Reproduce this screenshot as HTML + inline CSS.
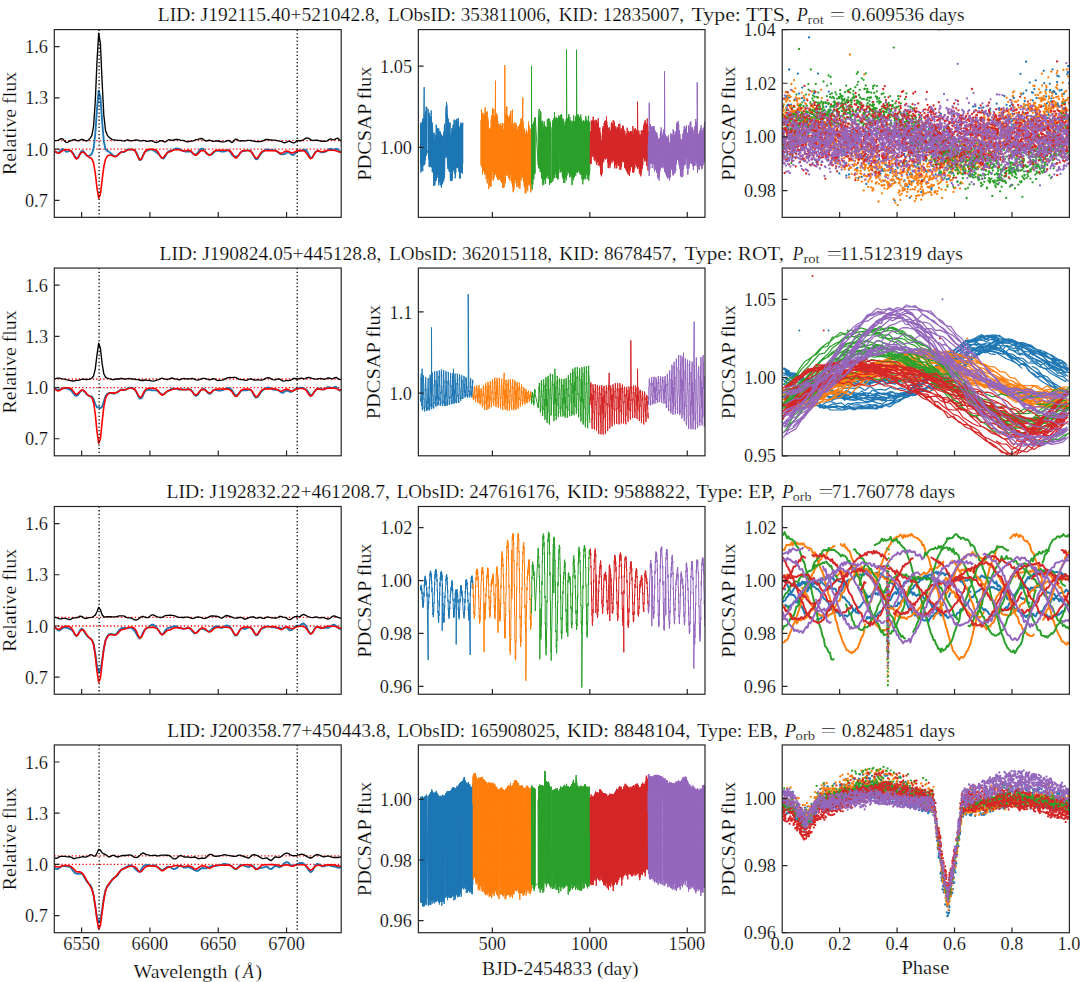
<!DOCTYPE html>
<html><head><meta charset="utf-8"><style>
html,body{margin:0;padding:0;background:#fff;}
svg{display:block;}
text{font-family:"Liberation Serif",serif;fill:#000;stroke:#fff;stroke-width:0.2px;}
</style></head><body>
<svg width="1080" height="982" viewBox="0 0 1080 982">
<rect width="1080" height="982" fill="#fff"/>
<defs><clipPath id="c00"><rect x="54.3" y="29.6" width="286.90" height="187.75"/></clipPath><clipPath id="c01"><rect x="418.35" y="29.6" width="286.65" height="187.75"/></clipPath><clipPath id="c02"><rect x="782.2" y="29.6" width="287.20" height="187.75"/></clipPath><clipPath id="c10"><rect x="54.3" y="268.05" width="286.90" height="187.75"/></clipPath><clipPath id="c11"><rect x="418.35" y="268.05" width="286.65" height="187.75"/></clipPath><clipPath id="c12"><rect x="782.2" y="268.05" width="287.20" height="187.75"/></clipPath><clipPath id="c20"><rect x="54.3" y="506.5" width="286.90" height="187.75"/></clipPath><clipPath id="c21"><rect x="418.35" y="506.5" width="286.65" height="187.75"/></clipPath><clipPath id="c22"><rect x="782.2" y="506.5" width="287.20" height="187.75"/></clipPath><clipPath id="c30"><rect x="54.3" y="744.95" width="286.90" height="187.75"/></clipPath><clipPath id="c31"><rect x="418.35" y="744.95" width="286.65" height="187.75"/></clipPath><clipPath id="c32"><rect x="782.2" y="744.95" width="287.20" height="187.75"/></clipPath></defs><g fill="none" stroke-linejoin="round"><path d="M54.3 149.08H341.2M54.3 140.54H341.2" stroke="#ff0000" stroke-width="1.3" stroke-dasharray="1.3 2.2"/><g clip-path="url(#c00)"><path d="M54.3,151.0 56.0,152.1 57.7,152.9 59.4,152.0 61.1,149.8 62.8,148.9 64.5,150.3 66.3,151.8 68.0,151.4 69.7,150.6 71.4,151.3 73.1,153.3 74.8,156.3 76.5,158.7 78.2,157.7 79.9,154.0 81.6,151.0 83.3,151.1 85.0,153.4 86.7,155.7 88.5,156.3 90.2,155.3 91.9,153.7 93.6,148.5 95.3,133.6 97.0,108.9 98.7,90.7 100.4,97.2 102.1,121.2 103.8,141.2 105.5,149.3 107.2,150.9 108.9,151.7 110.7,153.2 112.4,154.8 114.1,155.8 115.8,156.2 117.5,155.3 119.2,153.4 120.9,152.1 122.6,152.1 124.3,152.0 126.0,150.6 127.7,149.4 129.4,149.4 131.1,149.7 132.9,149.7 134.6,150.2 136.3,152.3 138.0,156.4 139.7,160.0 141.4,159.5 143.1,155.3 144.8,152.0 146.5,150.9 148.2,150.3 149.9,149.6 151.6,149.4 153.3,150.3 155.1,151.5 156.8,152.6 158.5,154.0 160.2,156.0 161.9,158.1 163.6,158.5 165.3,156.4 167.0,153.1 168.7,151.2 170.4,150.9 172.1,150.5 173.8,149.5 175.5,148.6 177.3,148.4 179.0,148.9 180.7,150.0 182.4,150.7 184.1,151.2 185.8,151.7 187.5,151.6 189.2,151.3 190.9,151.6 192.6,153.2 194.3,154.5 196.0,154.5 197.8,152.8 199.5,150.3 201.2,148.7 202.9,148.7 204.6,150.9 206.3,153.2 208.0,154.4 209.7,154.8 211.4,154.4 213.1,153.2 214.8,151.5 216.5,150.7 218.2,150.6 220.0,151.1 221.7,151.5 223.4,151.6 225.1,151.4 226.8,150.6 228.5,150.2 230.2,151.8 231.9,154.9 233.6,156.4 235.3,156.5 237.0,156.4 238.7,155.2 240.4,152.9 242.2,151.2 243.9,151.0 245.6,150.8 247.3,150.4 249.0,150.4 250.7,151.2 252.4,153.4 254.1,156.6 255.8,159.3 257.5,159.0 259.2,156.3 260.9,153.8 262.6,151.9 264.4,150.4 266.1,149.5 267.8,149.5 269.5,149.8 271.2,150.1 272.9,150.3 274.6,150.3 276.3,150.8 278.0,152.2 279.7,153.6 281.4,154.4 283.1,154.4 284.8,153.9 286.6,152.7 288.3,152.2 290.0,153.1 291.7,154.7 293.4,155.1 295.1,153.4 296.8,151.5 298.5,150.6 300.2,150.8 301.9,150.5 303.6,149.8 305.3,149.7 307.0,151.3 308.8,154.8 310.5,157.9 312.2,157.6 313.9,154.5 315.6,151.8 317.3,150.7 319.0,151.3 320.7,152.3 322.4,152.4 324.1,152.0 325.8,151.5 327.5,150.5 329.2,149.1 331.0,148.7 332.7,149.5 334.4,149.6 336.1,148.8 337.8,149.2 339.5,151.3 341.2,152.5" stroke="#1f77b4" stroke-width="1.9"/><path d="M54.3,150.8 56.0,152.0 57.7,153.2 59.4,153.0 61.1,151.7 62.8,150.5 64.5,149.9 66.3,149.8 68.0,149.8 69.7,150.2 71.4,151.4 73.1,154.0 74.8,157.3 76.5,158.9 78.2,157.3 79.9,154.3 81.6,152.2 83.3,152.0 85.0,153.3 86.7,155.2 88.5,156.8 90.2,157.7 91.9,158.9 93.6,163.1 95.3,173.3 97.0,188.2 98.7,198.1 100.4,194.3 102.1,180.2 103.8,166.8 105.5,159.4 107.2,156.3 108.9,155.2 110.7,155.1 112.4,155.7 114.1,156.5 115.8,156.6 117.5,155.5 119.2,153.7 120.9,152.3 122.6,151.8 124.3,151.5 126.0,150.8 127.7,150.0 129.4,149.5 131.1,149.3 132.9,149.5 134.6,150.5 136.3,153.0 138.0,156.9 139.7,159.8 141.4,159.1 143.1,155.5 144.8,151.9 146.5,150.1 148.2,149.4 149.9,149.3 151.6,149.3 153.3,149.4 155.1,149.7 156.8,150.6 158.5,152.8 160.2,155.9 161.9,158.0 163.6,157.4 165.3,155.0 167.0,152.9 168.7,152.0 170.4,151.6 172.1,150.8 173.8,150.0 175.5,149.7 177.3,149.6 179.0,149.8 180.7,150.2 182.4,150.8 184.1,151.0 185.8,150.8 187.5,150.4 189.2,150.3 190.9,151.0 192.6,152.7 194.3,154.7 196.0,155.3 197.8,154.0 199.5,152.0 201.2,150.7 202.9,150.4 204.6,151.0 206.3,152.6 208.0,154.5 209.7,155.3 211.4,154.1 213.1,152.2 214.8,150.9 216.5,150.3 218.2,150.2 220.0,150.2 221.7,150.2 223.4,150.2 225.1,150.2 226.8,150.3 228.5,150.4 230.2,151.1 231.9,152.8 233.6,155.6 235.3,157.9 237.0,157.6 238.7,155.1 240.4,152.5 242.2,151.0 243.9,150.6 245.6,150.5 247.3,150.5 249.0,150.7 250.7,151.3 252.4,153.1 254.1,155.9 255.8,158.2 257.5,158.0 259.2,155.4 260.9,152.7 262.6,151.2 264.4,150.7 266.1,150.6 267.8,150.6 269.5,150.6 271.2,150.6 272.9,150.6 274.6,150.7 276.3,151.0 278.0,151.9 279.7,153.1 281.4,153.4 283.1,152.6 284.8,151.5 286.6,151.0 288.3,151.4 290.0,152.3 291.7,152.9 293.4,152.6 295.1,151.7 296.8,150.9 298.5,150.6 300.2,150.6 301.9,150.6 303.6,150.8 305.3,151.7 307.0,153.9 308.8,156.9 310.5,158.8 312.2,157.8 313.9,154.8 315.6,152.2 317.3,151.1 319.0,151.1 320.7,151.6 322.4,151.8 324.1,151.4 325.8,150.8 327.5,150.4 329.2,150.3 331.0,150.3 332.7,150.3 334.4,150.4 336.1,150.8 337.8,151.6 339.5,152.1 341.2,151.8" stroke="#ff0000" stroke-width="1.6"/><path d="M54.3,140.7 56.0,140.6 57.7,140.3 59.4,139.6 61.1,138.7 62.8,138.9 64.5,140.9 66.3,142.5 68.0,142.1 69.7,141.0 71.4,140.5 73.1,139.8 74.8,139.5 76.5,140.4 78.2,140.9 79.9,140.2 81.6,139.3 83.3,139.6 85.0,140.7 86.7,141.0 88.5,140.0 90.2,138.1 91.9,135.3 93.6,126.0 95.3,100.8 97.0,61.2 98.7,33.1 100.4,43.4 102.1,81.5 103.8,114.9 105.5,130.5 107.2,135.1 108.9,137.1 110.7,138.7 112.4,139.6 114.1,139.8 115.8,140.1 117.5,140.4 119.2,140.3 120.9,140.4 122.6,140.9 124.3,141.1 126.0,140.4 127.7,139.9 129.4,140.5 131.1,140.9 132.9,140.7 134.6,140.2 136.3,139.8 138.0,140.1 139.7,140.8 141.4,140.9 143.1,140.4 144.8,140.6 146.5,141.4 148.2,141.4 149.9,140.8 151.6,140.6 153.3,141.5 155.1,142.4 156.8,142.5 158.5,141.7 160.2,140.7 161.9,140.7 163.6,141.6 165.3,142.0 167.0,140.8 168.7,139.7 170.4,139.9 172.1,140.3 173.8,140.0 175.5,139.5 177.3,139.3 179.0,139.6 180.7,140.3 182.4,140.4 184.1,140.7 185.8,141.5 187.5,141.8 189.2,141.5 190.9,141.2 192.6,141.1 194.3,140.4 196.0,139.7 197.8,139.4 199.5,138.9 201.2,138.5 202.9,138.9 204.6,140.4 206.3,141.1 208.0,140.5 209.7,140.1 211.4,140.8 213.1,141.5 214.8,141.2 216.5,140.9 218.2,141.0 220.0,141.5 221.7,141.9 223.4,141.9 225.1,141.7 226.8,140.9 228.5,140.3 230.2,141.3 231.9,142.6 233.6,141.3 235.3,139.1 237.0,139.3 238.7,140.7 240.4,141.0 242.2,140.7 243.9,140.9 245.6,140.9 247.3,140.4 249.0,140.3 250.7,140.5 252.4,140.8 254.1,141.2 255.8,141.6 257.5,141.6 259.2,141.4 260.9,141.6 262.6,141.2 264.4,140.2 266.1,139.4 267.8,139.5 269.5,139.8 271.2,140.0 272.9,140.2 274.6,140.1 276.3,140.3 278.0,140.8 279.7,141.1 281.4,141.5 283.1,142.3 284.8,142.9 286.6,142.2 288.3,141.3 290.0,141.3 291.7,142.3 293.4,143.0 295.1,142.3 296.8,141.1 298.5,140.5 300.2,140.8 301.9,140.5 303.6,139.6 305.3,138.5 307.0,137.9 308.8,138.4 310.5,139.6 312.2,140.4 313.9,140.3 315.6,140.2 317.3,140.2 319.0,140.7 320.7,141.2 322.4,141.2 324.1,141.2 325.8,141.3 327.5,140.7 329.2,139.4 331.0,139.0 332.7,139.7 334.4,139.8 336.1,138.6 337.8,138.2 339.5,139.7 341.2,141.2" stroke="#000" stroke-width="1.35"/></g><path d="M99.11 29.6V217.35M297.21 29.6V217.35" stroke="#000" stroke-width="1.3" stroke-dasharray="1.3 2.3"/><path d="M54.3 387.53H341.2M54.3 378.99H341.2" stroke="#ff0000" stroke-width="1.3" stroke-dasharray="1.3 2.2"/><g clip-path="url(#c10)"><path d="M54.3,388.2 56.0,389.3 57.7,390.0 59.4,389.9 61.1,389.1 62.8,388.3 64.5,388.0 66.3,388.4 68.0,388.9 69.7,389.4 71.4,390.8 73.1,392.9 74.8,395.1 76.5,395.9 78.2,394.7 79.9,392.1 81.6,390.4 83.3,390.4 85.0,392.0 86.7,394.2 88.5,395.9 90.2,396.3 91.9,396.5 93.6,399.2 95.3,404.1 97.0,407.3 98.7,407.4 100.4,408.0 102.1,406.8 103.8,401.5 105.5,396.4 107.2,393.9 108.9,393.0 110.7,392.9 112.4,393.4 114.1,393.7 115.8,392.9 117.5,392.1 119.2,390.9 120.9,389.6 122.6,389.5 124.3,390.1 126.0,389.7 127.7,388.3 129.4,387.7 131.1,387.9 132.9,388.3 134.6,389.4 136.3,391.9 138.0,395.5 139.7,398.5 141.4,398.4 143.1,395.2 144.8,391.5 146.5,390.0 148.2,389.7 149.9,389.8 151.6,390.2 153.3,390.4 155.1,390.4 156.8,390.5 158.5,391.8 160.2,393.3 161.9,394.4 163.6,394.4 165.3,392.9 167.0,391.8 168.7,390.8 170.4,389.5 172.1,388.6 173.8,388.6 175.5,388.8 177.3,388.9 179.0,389.6 180.7,389.7 182.4,389.3 184.1,389.4 185.8,389.6 187.5,389.3 189.2,389.2 190.9,389.9 192.6,391.7 194.3,394.5 196.0,396.0 197.8,394.8 199.5,391.9 201.2,389.7 202.9,388.7 204.6,389.2 206.3,390.8 208.0,392.9 209.7,394.0 211.4,392.7 213.1,390.4 214.8,389.6 216.5,390.2 218.2,390.6 220.0,390.5 221.7,390.3 223.4,389.8 225.1,388.9 226.8,388.1 228.5,387.9 230.2,388.4 231.9,390.1 233.6,392.7 235.3,395.0 237.0,395.4 238.7,393.8 240.4,391.6 242.2,390.3 243.9,390.1 245.6,390.4 247.3,390.2 249.0,389.5 250.7,389.7 252.4,392.0 254.1,395.6 255.8,397.7 257.5,397.2 259.2,394.8 260.9,392.2 262.6,390.4 264.4,389.2 266.1,388.1 267.8,387.4 269.5,387.6 271.2,388.7 272.9,389.5 274.6,389.7 276.3,389.6 278.0,389.8 279.7,391.2 281.4,392.5 283.1,392.7 284.8,391.5 286.6,390.5 288.3,391.0 290.0,391.8 291.7,391.7 293.4,390.3 295.1,389.1 296.8,388.9 298.5,388.5 300.2,387.7 301.9,387.7 303.6,388.5 305.3,389.2 307.0,390.3 308.8,392.9 310.5,395.1 312.2,394.7 313.9,392.4 315.6,390.2 317.3,389.0 319.0,388.5 320.7,388.8 322.4,389.3 324.1,389.5 325.8,388.5 327.5,387.2 329.2,387.1 331.0,387.8 332.7,388.0 334.4,387.0 336.1,386.9 337.8,389.0 339.5,390.5 341.2,389.8" stroke="#1f77b4" stroke-width="1.9"/><path d="M54.3,388.6 56.0,389.8 57.7,390.9 59.4,390.7 61.1,389.5 62.8,388.4 64.5,387.9 66.3,387.8 68.0,387.8 69.7,388.0 71.4,388.9 73.1,390.9 74.8,393.3 76.5,394.5 78.2,393.4 79.9,391.3 81.6,390.0 83.3,390.2 85.0,391.6 86.7,393.8 88.5,395.5 90.2,396.4 91.9,397.6 93.6,402.4 95.3,414.3 97.0,431.6 98.7,443.3 100.4,438.8 102.1,422.4 103.8,406.8 105.5,398.3 107.2,394.8 108.9,393.4 110.7,392.8 112.4,392.9 114.1,393.1 115.8,392.9 117.5,392.0 119.2,390.9 120.9,390.1 122.6,390.1 124.3,390.0 126.0,389.5 127.7,388.7 129.4,388.2 131.1,388.1 132.9,388.3 134.6,389.2 136.3,391.4 138.0,394.9 139.7,397.4 141.4,396.8 143.1,393.6 144.8,390.5 146.5,388.9 148.2,388.4 149.9,388.3 151.6,388.3 153.3,388.4 155.1,388.6 156.8,389.4 158.5,391.1 160.2,393.6 161.9,395.2 163.6,394.8 165.3,392.9 167.0,391.2 168.7,390.6 170.4,390.2 172.1,389.6 173.8,389.0 175.5,388.7 177.3,388.7 179.0,388.9 180.7,389.2 182.4,389.6 184.1,389.8 185.8,389.7 187.5,389.4 189.2,389.4 190.9,390.2 192.6,392.2 194.3,394.4 196.0,395.1 197.8,393.7 199.5,391.4 201.2,389.8 202.9,389.4 204.6,389.8 206.3,391.0 208.0,392.5 209.7,393.1 211.4,392.2 213.1,390.7 214.8,389.6 216.5,389.2 218.2,389.1 220.0,389.0 221.7,389.0 223.4,389.1 225.1,389.1 226.8,389.1 228.5,389.2 230.2,389.9 231.9,391.6 233.6,394.3 235.3,396.5 237.0,396.3 238.7,393.7 240.4,391.1 242.2,389.7 243.9,389.2 245.6,389.1 247.3,389.1 249.0,389.2 250.7,389.8 252.4,391.6 254.1,394.4 255.8,396.7 257.5,396.4 259.2,393.8 260.9,391.1 262.6,389.6 264.4,389.0 266.1,388.9 267.8,388.9 269.5,388.9 271.2,388.8 272.9,388.8 274.6,388.9 276.3,389.2 278.0,390.0 279.7,391.0 281.4,391.3 283.1,390.6 284.8,389.5 286.6,389.1 288.3,389.5 290.0,390.4 291.7,391.1 293.4,390.7 295.1,389.7 296.8,388.9 298.5,388.6 300.2,388.5 301.9,388.5 303.6,388.7 305.3,389.5 307.0,391.6 308.8,394.5 310.5,396.3 312.2,395.3 313.9,392.4 315.6,390.0 317.3,388.9 319.0,388.9 320.7,389.4 322.4,389.6 324.1,389.1 325.8,388.6 327.5,388.2 329.2,388.1 331.0,388.1 332.7,388.1 334.4,388.2 336.1,388.6 337.8,389.4 339.5,390.0 341.2,389.7" stroke="#ff0000" stroke-width="1.6"/><path d="M54.3,378.6 56.0,378.5 57.7,378.1 59.4,378.2 61.1,378.6 62.8,378.9 64.5,379.1 66.3,379.7 68.0,380.1 69.7,380.4 71.4,380.9 73.1,381.0 74.8,380.8 76.5,380.4 78.2,380.3 79.9,379.9 81.6,379.4 83.3,379.2 85.0,379.4 86.7,379.5 88.5,379.4 90.2,379.0 91.9,378.0 93.6,375.8 95.3,368.8 97.0,354.6 98.7,343.1 100.4,348.2 102.1,363.4 103.8,373.7 105.5,377.1 107.2,378.1 108.9,378.7 110.7,379.1 112.4,379.5 114.1,379.6 115.8,379.0 117.5,379.0 119.2,379.0 120.9,378.4 122.6,378.5 124.3,379.1 126.0,379.2 127.7,378.6 129.4,378.5 131.1,378.8 132.9,379.0 134.6,379.3 136.3,379.5 138.0,379.6 139.7,380.0 141.4,380.5 143.1,380.5 144.8,380.0 146.5,380.1 148.2,380.3 149.9,380.5 151.6,380.9 153.3,381.1 155.1,380.7 156.8,380.1 158.5,379.7 160.2,378.8 161.9,378.2 163.6,378.6 165.3,379.1 167.0,379.6 168.7,379.2 170.4,378.3 172.1,378.0 173.8,378.6 175.5,379.0 177.3,379.1 179.0,379.8 180.7,379.5 182.4,378.6 184.1,378.5 185.8,378.9 187.5,379.0 189.2,378.9 190.9,378.7 192.6,378.5 194.3,379.1 196.0,379.9 197.8,380.1 199.5,379.6 201.2,378.8 202.9,378.3 204.6,378.4 206.3,378.8 208.0,379.4 209.7,379.9 211.4,379.4 213.1,378.7 214.8,379.0 216.5,380.1 218.2,380.5 220.0,380.4 221.7,380.2 223.4,379.8 225.1,378.9 226.8,378.0 228.5,377.6 230.2,377.5 231.9,377.6 233.6,377.3 235.3,377.4 237.0,378.1 238.7,379.1 240.4,379.5 242.2,379.6 243.9,379.9 245.6,380.3 247.3,380.1 249.0,379.2 250.7,378.8 252.4,379.4 254.1,380.1 255.8,380.0 257.5,379.8 259.2,379.9 260.9,380.1 262.6,379.8 264.4,379.1 266.1,378.2 267.8,377.6 269.5,377.8 271.2,378.8 272.9,379.6 274.6,379.8 276.3,379.5 278.0,378.8 279.7,379.2 281.4,380.2 283.1,381.1 284.8,380.9 286.6,380.4 288.3,380.6 290.0,380.4 291.7,379.6 293.4,378.5 295.1,378.4 296.8,379.0 298.5,379.0 300.2,378.2 301.9,378.2 303.6,378.8 305.3,378.6 307.0,377.7 308.8,377.4 310.5,377.8 312.2,378.4 313.9,378.9 315.6,379.2 317.3,379.1 319.0,378.6 320.7,378.4 322.4,378.8 324.1,379.3 325.8,378.9 327.5,378.0 329.2,378.0 331.0,378.7 332.7,378.9 334.4,377.8 336.1,377.3 337.8,378.6 339.5,379.5 341.2,379.2" stroke="#000" stroke-width="1.35"/></g><path d="M99.11 268.05V455.8M297.21 268.05V455.8" stroke="#000" stroke-width="1.3" stroke-dasharray="1.3 2.3"/><path d="M54.3 625.98H341.2M54.3 617.44H341.2" stroke="#ff0000" stroke-width="1.3" stroke-dasharray="1.3 2.2"/><g clip-path="url(#c20)"><path d="M54.3,626.7 56.0,628.3 57.7,630.1 59.4,630.6 61.1,629.3 62.8,627.9 64.5,627.3 66.3,627.6 68.0,628.2 69.7,629.0 71.4,629.5 73.1,631.3 74.8,634.6 76.5,636.2 78.2,634.1 79.9,630.3 81.6,628.6 83.3,630.0 85.0,632.9 86.7,635.5 88.5,637.2 90.2,638.5 91.9,640.0 93.6,643.6 95.3,653.4 97.0,666.0 98.7,672.1 100.4,670.3 102.1,660.6 103.8,648.4 105.5,640.3 107.2,636.3 108.9,634.5 110.7,633.8 112.4,634.1 114.1,634.6 115.8,634.4 117.5,632.5 119.2,630.0 120.9,628.5 122.6,627.9 124.3,628.0 126.0,628.2 127.7,628.3 129.4,627.7 131.1,627.8 132.9,629.0 134.6,630.9 136.3,633.6 138.0,636.9 139.7,638.5 141.4,636.5 143.1,632.5 144.8,629.5 146.5,628.3 148.2,627.5 149.9,626.2 151.6,624.8 153.3,624.8 155.1,626.0 156.8,627.8 158.5,630.1 160.2,633.0 161.9,634.7 163.6,633.3 165.3,630.4 167.0,628.6 168.7,627.9 170.4,627.5 172.1,626.8 173.8,626.3 175.5,626.3 177.3,627.0 179.0,627.7 180.7,628.1 182.4,628.6 184.1,628.8 185.8,628.3 187.5,627.8 189.2,628.1 190.9,629.5 192.6,631.6 194.3,633.2 196.0,633.1 197.8,631.4 199.5,629.5 201.2,628.5 202.9,628.7 204.6,629.6 206.3,630.5 208.0,631.4 209.7,631.2 211.4,629.7 213.1,627.9 214.8,626.8 216.5,626.3 218.2,626.5 220.0,627.6 221.7,628.1 223.4,627.2 225.1,625.9 226.8,625.4 228.5,626.0 230.2,627.1 231.9,629.5 233.6,633.2 235.3,635.6 237.0,635.2 238.7,632.1 240.4,629.1 242.2,628.0 243.9,628.7 245.6,628.8 247.3,627.9 249.0,627.4 250.7,627.6 252.4,629.0 254.1,632.1 255.8,635.4 257.5,635.0 259.2,631.7 260.9,629.0 262.6,628.4 264.4,627.8 266.1,626.7 267.8,626.2 269.5,626.6 271.2,627.2 272.9,627.1 274.6,627.3 276.3,627.9 278.0,628.0 279.7,628.0 281.4,628.7 283.1,628.5 284.8,627.3 286.6,627.4 288.3,629.2 290.0,630.4 291.7,630.1 293.4,628.6 295.1,626.6 296.8,625.7 298.5,625.8 300.2,625.3 301.9,624.0 303.6,623.5 305.3,625.1 307.0,628.0 308.8,631.6 310.5,634.0 312.2,633.2 313.9,630.1 315.6,627.2 317.3,626.6 319.0,627.5 320.7,628.2 322.4,628.0 324.1,627.7 325.8,627.8 327.5,627.9 329.2,627.5 331.0,626.3 332.7,624.9 334.4,624.7 336.1,626.0 337.8,627.5 339.5,628.7 341.2,628.8" stroke="#1f77b4" stroke-width="1.9"/><path d="M54.3,627.0 56.0,628.2 57.7,629.3 59.4,629.2 61.1,628.0 62.8,626.9 64.5,626.4 66.3,626.3 68.0,626.4 69.7,626.8 71.4,628.0 73.1,630.7 74.8,634.1 76.5,635.8 78.2,634.3 79.9,631.5 81.6,629.7 83.3,629.9 85.0,631.8 86.7,634.6 88.5,637.0 90.2,638.4 91.9,640.0 93.6,644.7 95.3,655.8 97.0,671.6 98.7,682.2 100.4,678.1 102.1,663.3 103.8,649.0 105.5,640.7 107.2,637.0 108.9,635.2 110.7,634.5 112.4,634.7 114.1,635.2 115.8,635.0 117.5,633.6 119.2,631.7 120.9,630.1 122.6,629.5 124.3,629.3 126.0,628.6 127.7,627.8 129.4,627.3 131.1,627.2 132.9,627.5 134.6,628.5 136.3,631.0 138.0,635.0 139.7,638.0 141.4,637.3 143.1,633.6 144.8,630.0 146.5,628.1 148.2,627.5 149.9,627.4 151.6,627.4 153.3,627.4 155.1,627.7 156.8,628.5 158.5,630.3 160.2,632.9 161.9,634.7 163.6,634.2 165.3,632.2 167.0,630.6 168.7,630.1 170.4,629.7 172.1,628.8 173.8,628.0 175.5,627.6 177.3,627.6 179.0,627.7 180.7,628.1 182.4,628.5 184.1,628.7 185.8,628.5 187.5,628.1 189.2,628.1 190.9,628.8 192.6,630.6 194.3,632.6 196.0,633.2 197.8,631.8 199.5,629.7 201.2,628.3 202.9,627.9 204.6,628.4 206.3,629.8 208.0,631.5 209.7,632.1 211.4,631.1 213.1,629.4 214.8,628.1 216.5,627.5 218.2,627.4 220.0,627.3 221.7,627.3 223.4,627.3 225.1,627.3 226.8,627.3 228.5,627.4 230.2,628.1 231.9,629.8 233.6,632.7 235.3,635.0 237.0,634.7 238.7,632.0 240.4,629.3 242.2,627.7 243.9,627.2 245.6,627.0 247.3,627.0 249.0,627.2 250.7,627.8 252.4,629.6 254.1,632.5 255.8,634.8 257.5,634.4 259.2,631.8 260.9,629.0 262.6,627.4 264.4,626.9 266.1,626.7 267.8,626.7 269.5,626.7 271.2,626.7 272.9,626.6 274.6,626.7 276.3,627.1 278.0,628.0 279.7,629.2 281.4,629.6 283.1,628.7 284.8,627.5 286.6,626.9 288.3,627.3 290.0,628.2 291.7,628.8 293.4,628.5 295.1,627.5 296.8,626.7 298.5,626.4 300.2,626.3 301.9,626.3 303.6,626.6 305.3,627.4 307.0,629.4 308.8,632.3 310.5,634.0 312.2,633.1 313.9,630.3 315.6,627.9 317.3,626.9 319.0,627.1 320.7,627.8 322.4,628.1 324.1,627.5 325.8,626.8 327.5,626.3 329.2,626.2 331.0,626.2 332.7,626.2 334.4,626.3 336.1,626.8 337.8,627.6 339.5,628.2 341.2,627.9" stroke="#ff0000" stroke-width="1.6"/><path d="M54.3,617.2 56.0,617.5 57.7,618.2 59.4,618.8 61.1,618.8 62.8,618.4 64.5,618.3 66.3,618.7 68.0,619.2 69.7,619.7 71.4,618.9 73.1,618.0 74.8,617.9 76.5,617.9 78.2,617.2 79.9,616.2 81.6,616.4 83.3,617.6 85.0,618.5 86.7,618.4 88.5,617.6 90.2,617.6 91.9,617.4 93.6,616.3 95.3,615.1 97.0,611.8 98.7,607.3 100.4,609.6 102.1,614.8 103.8,616.8 105.5,617.0 107.2,616.7 108.9,616.7 110.7,616.7 112.4,616.8 114.1,616.9 115.8,616.9 117.5,616.3 119.2,615.8 120.9,615.8 122.6,615.8 124.3,616.2 126.0,617.1 127.7,617.9 129.4,617.8 131.1,618.0 132.9,619.0 134.6,619.9 136.3,620.0 138.0,619.3 139.7,617.9 141.4,616.7 143.1,616.3 144.8,617.0 146.5,617.6 148.2,617.5 149.9,616.3 151.6,614.9 153.3,614.8 155.1,615.8 156.8,616.7 158.5,617.2 160.2,617.5 161.9,617.4 163.6,616.5 165.3,615.6 167.0,615.4 168.7,615.3 170.4,615.2 172.1,615.4 173.8,615.7 175.5,616.1 177.3,616.8 179.0,617.4 180.7,617.4 182.4,617.5 184.1,617.5 185.8,617.2 187.5,617.1 189.2,617.4 190.9,618.1 192.6,618.5 194.3,618.1 196.0,617.3 197.8,617.0 199.5,617.2 201.2,617.6 202.9,618.2 204.6,618.6 206.3,618.1 208.0,617.3 209.7,616.5 211.4,616.0 213.1,616.0 214.8,616.2 216.5,616.2 218.2,616.6 220.0,617.7 221.7,618.2 223.4,617.3 225.1,616.0 226.8,615.5 228.5,616.0 230.2,616.5 231.9,617.1 233.6,617.9 235.3,618.1 237.0,618.0 238.7,617.5 240.4,617.3 242.2,617.7 243.9,619.0 245.6,619.2 247.3,618.3 249.0,617.6 250.7,617.2 252.4,616.8 254.1,617.0 255.8,618.1 257.5,618.0 259.2,617.4 260.9,617.5 262.6,618.4 264.4,618.3 266.1,617.4 267.8,616.9 269.5,617.4 271.2,617.9 272.9,617.9 274.6,618.0 276.3,618.2 278.0,617.5 279.7,616.3 281.4,616.5 283.1,617.2 284.8,617.3 286.6,618.0 288.3,619.4 290.0,619.6 291.7,618.7 293.4,617.5 295.1,616.6 296.8,616.4 298.5,616.8 300.2,616.4 301.9,615.1 303.6,614.4 305.3,615.1 307.0,616.0 308.8,616.8 310.5,617.4 312.2,617.6 313.9,617.3 315.6,616.8 317.3,617.1 319.0,617.8 320.7,617.9 322.4,617.4 324.1,617.6 325.8,618.4 327.5,619.0 329.2,618.8 331.0,617.6 332.7,616.2 334.4,615.9 336.1,616.6 337.8,617.4 339.5,617.9 341.2,618.4" stroke="#000" stroke-width="1.35"/></g><path d="M99.11 506.5V694.25M297.21 506.5V694.25" stroke="#000" stroke-width="1.3" stroke-dasharray="1.3 2.3"/><path d="M54.3 864.43H341.2M54.3 855.89H341.2" stroke="#ff0000" stroke-width="1.3" stroke-dasharray="1.3 2.2"/><g clip-path="url(#c30)"><path d="M54.3,867.5 56.0,868.9 57.7,869.0 59.4,867.8 61.1,866.7 62.8,866.1 64.5,865.9 66.3,866.3 68.0,866.6 69.7,866.8 71.4,868.2 73.1,870.9 74.8,872.8 76.5,873.5 78.2,873.8 79.9,873.6 81.6,873.5 83.3,875.2 85.0,878.4 86.7,881.3 88.5,883.4 90.2,885.0 91.9,888.2 93.6,895.4 95.3,906.4 97.0,917.2 98.7,922.4 100.4,919.8 102.1,909.8 103.8,897.9 105.5,889.9 107.2,886.5 108.9,884.7 110.7,881.9 112.4,879.2 114.1,877.6 115.8,876.9 117.5,875.4 119.2,872.6 120.9,870.2 122.6,868.8 124.3,868.1 126.0,867.2 127.7,866.2 129.4,865.4 131.1,865.4 132.9,866.5 134.6,868.2 136.3,869.8 138.0,871.4 139.7,871.7 141.4,869.4 143.1,866.5 144.8,865.3 146.5,865.2 148.2,865.0 149.9,865.4 151.6,865.8 153.3,865.5 155.1,865.4 156.8,866.6 158.5,867.8 160.2,869.0 161.9,869.9 163.6,869.6 165.3,868.3 167.0,867.0 168.7,866.7 170.4,867.3 172.1,868.3 173.8,869.1 175.5,868.8 177.3,867.6 179.0,866.0 180.7,865.6 182.4,866.6 184.1,867.6 185.8,867.6 187.5,867.1 189.2,867.2 190.9,868.2 192.6,869.0 194.3,869.9 196.0,870.7 197.8,870.9 199.5,869.8 201.2,868.3 202.9,868.0 204.6,868.4 206.3,868.3 208.0,867.5 209.7,866.7 211.4,866.1 213.1,866.0 214.8,866.1 216.5,865.8 218.2,865.3 220.0,865.1 221.7,864.6 223.4,864.0 225.1,863.9 226.8,864.3 228.5,864.6 230.2,865.3 231.9,866.4 233.6,868.1 235.3,869.2 237.0,868.5 238.7,866.5 240.4,865.1 242.2,865.3 243.9,865.5 245.6,866.0 247.3,866.8 249.0,867.0 250.7,866.0 252.4,865.4 254.1,866.8 255.8,868.6 257.5,869.0 259.2,868.3 260.9,867.9 262.6,867.7 264.4,867.2 266.1,866.6 267.8,867.2 269.5,868.7 271.2,869.2 272.9,867.8 274.6,866.0 276.3,865.7 278.0,866.8 279.7,867.3 281.4,866.3 283.1,864.5 284.8,862.9 286.6,862.1 288.3,862.6 290.0,864.4 291.7,865.7 293.4,865.8 295.1,865.1 296.8,864.3 298.5,863.6 300.2,863.0 301.9,862.9 303.6,863.6 305.3,865.2 307.0,867.6 308.8,870.5 310.5,872.2 312.2,871.1 313.9,868.0 315.6,865.0 317.3,863.8 319.0,864.3 320.7,865.4 322.4,866.3 324.1,866.4 325.8,865.7 327.5,865.1 329.2,865.2 331.0,865.8 332.7,866.3 334.4,866.6 336.1,866.9 337.8,867.5 339.5,867.7 341.2,866.8" stroke="#1f77b4" stroke-width="1.9"/><path d="M54.3,865.7 56.0,866.4 57.7,867.0 59.4,867.0 61.1,866.3 62.8,865.7 64.5,865.5 66.3,865.5 68.0,865.7 69.7,866.0 71.4,866.8 73.1,868.3 74.8,870.2 76.5,871.6 78.2,871.9 79.9,871.9 81.6,872.6 83.3,874.4 85.0,877.1 86.7,880.3 88.5,883.4 90.2,886.1 91.9,889.3 93.6,895.3 95.3,906.2 97.0,920.1 98.7,928.9 100.4,925.6 102.1,912.9 103.8,899.8 105.5,891.3 107.2,886.6 108.9,883.6 110.7,881.4 112.4,879.7 114.1,878.2 115.8,876.4 117.5,874.3 119.2,872.0 120.9,870.3 122.6,869.2 124.3,868.5 126.0,867.7 127.7,866.9 129.4,866.4 131.1,866.2 132.9,866.2 134.6,866.7 136.3,868.1 138.0,870.3 139.7,872.0 141.4,871.5 143.1,869.5 144.8,867.5 146.5,866.4 148.2,866.0 149.9,865.9 151.6,865.9 153.3,866.0 155.1,866.1 156.8,866.6 158.5,867.9 160.2,869.6 161.9,870.8 163.6,870.4 165.3,869.0 167.0,867.7 168.7,867.2 170.4,866.9 172.1,866.4 173.8,866.0 175.5,865.8 177.3,865.8 179.0,865.8 180.7,866.1 182.4,866.3 184.1,866.5 185.8,866.3 187.5,866.0 189.2,865.9 190.9,866.4 192.6,867.5 194.3,868.8 196.0,869.2 197.8,868.3 199.5,866.9 201.2,866.0 202.9,865.7 204.6,866.0 206.3,866.8 208.0,867.8 209.7,868.2 211.4,867.6 213.1,866.5 214.8,865.7 216.5,865.3 218.2,865.2 220.0,865.2 221.7,865.1 223.4,865.1 225.1,865.1 226.8,865.1 228.5,865.1 230.2,865.4 231.9,866.3 233.6,867.7 235.3,868.8 237.0,868.6 238.7,867.3 240.4,866.0 242.2,865.2 243.9,864.9 245.6,864.8 247.3,864.8 249.0,864.9 250.7,865.3 252.4,866.3 254.1,868.0 255.8,869.4 257.5,869.2 259.2,867.6 260.9,866.0 262.6,865.1 264.4,864.7 266.1,864.7 267.8,864.7 269.5,864.6 271.2,864.6 272.9,864.6 274.6,864.7 276.3,864.8 278.0,865.2 279.7,865.7 281.4,865.9 283.1,865.5 284.8,865.0 286.6,864.8 288.3,865.1 290.0,865.7 291.7,866.2 293.4,866.0 295.1,865.3 296.8,864.9 298.5,864.7 300.2,864.6 301.9,864.7 303.6,864.8 305.3,865.4 307.0,866.9 308.8,868.9 310.5,870.1 312.2,869.5 313.9,867.5 315.6,865.9 317.3,865.2 319.0,865.3 320.7,865.6 322.4,865.8 324.1,865.5 325.8,865.1 327.5,864.9 329.2,864.9 331.0,864.9 332.7,864.9 334.4,865.0 336.1,865.4 337.8,865.9 339.5,866.3 341.2,866.2" stroke="#ff0000" stroke-width="1.6"/><path d="M54.3,857.8 56.0,858.4 57.7,857.9 59.4,856.7 61.1,856.3 62.8,856.3 64.5,856.3 66.3,856.6 68.0,856.8 69.7,856.7 71.4,857.3 73.1,858.5 74.8,858.5 76.5,857.8 78.2,857.7 79.9,857.5 81.6,856.8 83.3,856.7 85.0,857.1 86.7,856.9 88.5,855.8 90.2,854.7 91.9,854.8 93.6,856.0 95.3,856.1 97.0,853.0 98.7,849.4 100.4,850.1 102.1,852.8 103.8,854.0 105.5,854.5 107.2,855.8 108.9,857.0 110.7,856.4 112.4,855.4 114.1,855.3 115.8,856.4 117.5,857.1 119.2,856.5 120.9,855.8 122.6,855.5 124.3,855.5 126.0,855.5 127.7,855.1 129.4,854.9 131.1,855.1 132.9,856.2 134.6,857.4 136.3,857.6 138.0,857.0 139.7,855.6 141.4,853.8 143.1,852.9 144.8,853.8 146.5,854.7 148.2,854.8 149.9,855.4 151.6,855.7 153.3,855.4 155.1,855.2 156.8,855.8 158.5,855.9 160.2,855.3 161.9,855.1 163.6,855.1 165.3,855.2 167.0,855.2 168.7,855.4 170.4,856.3 172.1,857.8 173.8,858.9 175.5,858.9 177.3,857.7 179.0,856.1 180.7,855.4 182.4,856.1 184.1,857.0 185.8,857.2 187.5,857.0 189.2,857.2 190.9,857.6 192.6,857.3 194.3,857.0 196.0,857.4 197.8,858.5 199.5,858.7 201.2,858.2 202.9,858.2 204.6,858.3 206.3,857.4 208.0,855.5 209.7,854.4 211.4,854.4 213.1,855.4 214.8,856.3 216.5,856.4 218.2,856.0 220.0,855.8 221.7,855.4 223.4,854.8 225.1,854.7 226.8,855.1 228.5,855.3 230.2,855.7 231.9,856.0 233.6,856.3 235.3,856.3 237.0,855.8 238.7,855.1 240.4,855.1 242.2,856.0 243.9,856.5 245.6,857.0 247.3,857.8 249.0,858.0 250.7,856.6 252.4,855.0 254.1,854.7 255.8,855.2 257.5,855.7 259.2,856.6 260.9,857.8 262.6,858.6 264.4,858.3 266.1,857.8 267.8,858.4 269.5,860.0 271.2,860.5 272.9,859.0 274.6,857.2 276.3,856.8 278.0,857.5 279.7,857.4 281.4,856.3 283.1,854.9 284.8,853.7 286.6,853.1 288.3,853.4 290.0,854.6 291.7,855.4 293.4,855.7 295.1,855.7 296.8,855.3 298.5,854.8 300.2,854.3 301.9,854.2 303.6,854.7 305.3,855.6 307.0,856.6 308.8,857.5 310.5,858.0 312.2,857.5 313.9,856.3 315.6,855.0 317.3,854.5 319.0,855.0 320.7,855.7 322.4,856.5 324.1,856.8 325.8,856.4 327.5,856.1 329.2,856.2 331.0,856.8 332.7,857.3 334.4,857.5 336.1,857.5 337.8,857.5 339.5,857.3 341.2,856.6" stroke="#000" stroke-width="1.35"/></g><path d="M99.11 744.95V932.7M297.21 744.95V932.7" stroke="#000" stroke-width="1.3" stroke-dasharray="1.3 2.3"/><g clip-path="url(#c01)"><path d="M420.5,125.3 420.5,164.3 420.8,122.7 420.8,172.4 421.2,172.3 421.2,125.1 421.5,127.5 421.5,170.2 421.8,122.5 421.8,167.1 422.2,170.4 422.2,122.5 422.5,122.1 422.5,165.6 422.8,171.1 422.8,118.9 423.2,159.8 423.2,118.1 423.5,118.0 423.5,164.7 423.8,165.8 423.8,120.1 424.2,87.2 424.2,164.4 424.5,164.9 424.5,114.9 424.8,163.9 424.8,118.9 425.2,114.2 425.2,160.4 425.5,158.6 425.5,111.4 425.8,113.7 425.8,152.7 426.2,106.6 426.2,154.9 426.5,110.5 426.5,155.5 426.8,107.4 426.8,153.6 428.2,149.4 428.2,109.2 428.5,156.9 428.5,113.8 428.8,159.1 428.8,115.3 429.2,166.9 429.2,112.8 429.5,160.3 429.5,119.5 429.8,167.2 429.8,117.6 430.2,115.8 430.2,165.7 430.5,116.1 430.5,164.7 430.8,117.4 430.8,166.1 431.2,110.5 431.2,167.2 431.5,117.3 431.5,164.3 431.8,124.0 431.8,167.4 432.2,122.5 432.2,171.9 432.5,168.9 432.5,126.2 432.8,132.0 432.8,171.6 433.2,133.1 433.2,173.1 433.5,135.2 433.5,181.3 433.8,141.4 433.8,185.9 434.2,132.8 434.2,185.3 434.5,180.4 434.5,142.8 434.8,141.0 434.8,185.2 435.2,181.3 435.2,140.2 435.5,180.4 435.5,135.1 435.8,180.4 435.8,137.4 436.2,180.7 436.2,124.7 436.5,175.0 436.5,127.2 436.8,131.5 436.8,175.9 437.2,178.0 437.2,130.8 437.5,130.8 437.5,175.3 437.8,174.7 437.8,127.9 438.2,174.2 438.2,132.1 438.5,174.4 438.5,132.4 438.8,128.6 438.8,185.4 439.2,135.6 439.2,179.4 439.5,136.5 439.5,182.5 439.8,131.1 439.8,179.5 440.2,178.3 440.2,131.7 440.5,132.7 440.5,180.9 440.8,134.1 440.8,185.3 441.2,134.2 441.2,186.4 441.5,187.7 441.5,136.4 441.8,141.0 441.8,182.0 442.2,143.9 442.2,182.8 442.5,184.3 442.5,137.3 442.8,135.7 442.8,182.1 443.2,182.3 443.2,137.2 443.5,177.1 443.5,133.9 443.8,180.5 443.8,131.9 444.2,173.4 444.2,130.0 444.5,123.8 444.5,177.9 444.8,166.6 444.8,127.9 445.8,158.1 445.8,111.6 446.2,106.5 446.2,153.1 446.5,101.9 446.5,156.7 446.8,150.1 446.8,104.6 447.2,110.9 447.2,156.2 447.5,165.4 447.5,114.8 447.8,119.6 447.8,168.9 448.2,118.9 448.2,162.2 448.5,120.4 448.5,169.3 448.8,122.0 448.8,167.0 449.2,123.4 449.2,171.7 449.5,132.0 449.5,171.9 449.8,171.5 449.8,130.1 450.2,122.7 450.2,177.0 450.5,180.9 450.5,134.7 450.8,154.3 450.8,180.9 451.2,179.9 451.2,137.0 451.5,172.3 451.5,131.2 451.8,181.1 451.8,128.0 452.2,128.6 452.2,172.8 452.5,179.2 452.5,128.7 452.8,171.8 452.8,127.9 453.2,124.8 453.2,170.3 453.5,166.0 453.5,125.7 453.8,169.3 453.8,125.8 454.2,119.6 454.2,169.7 454.5,130.0 454.5,170.9 454.8,173.7 454.8,120.1 455.2,125.4 455.2,178.3 455.5,173.9 455.5,127.6 455.8,172.6 455.8,123.4 456.2,119.9 456.2,165.0 456.5,119.1 456.5,166.2 456.8,168.1 456.8,125.5 457.2,162.4 457.2,126.0 457.5,167.9 457.5,121.9 457.8,164.4 457.8,118.4 458.2,118.4 458.2,163.5 458.5,167.1 458.5,118.7 458.8,171.9 458.8,127.8 459.2,167.9 459.2,128.2 459.5,128.8 459.5,176.9 459.8,178.6 459.8,127.4 460.2,176.6 460.2,125.4 460.5,178.3 460.5,125.3 460.8,122.5 460.8,172.9 461.2,128.2 461.2,171.6 461.5,170.1 461.5,124.2 461.8,172.4 461.8,123.6 462.2,172.5 462.2,124.3 462.5,173.6 462.5,126.2 462.8,122.7 462.8,163.7" stroke="#1f77b4" stroke-width="1.0"/><path d="M480.8,119.8 480.8,164.3 481.5,166.5 481.5,109.1 481.8,165.3 481.8,113.1 482.2,167.4 482.2,113.5 482.5,174.4 482.5,114.9 482.8,167.0 482.8,112.8 483.2,114.5 483.2,171.3 483.5,118.2 483.5,168.5 483.8,114.6 483.8,169.9 484.2,171.6 484.2,120.3 484.5,172.9 484.5,115.8 484.8,174.5 484.8,118.6 485.2,107.4 485.2,173.0 485.5,112.7 485.5,170.9 485.8,174.6 485.8,113.6 486.2,179.1 486.2,115.4 486.5,112.0 486.5,172.4 486.8,170.2 486.8,132.5 487.2,111.4 487.2,183.4 487.5,123.4 487.5,177.3 487.8,177.5 487.8,117.6 488.2,179.2 488.2,120.9 488.5,126.4 488.5,177.0 488.8,129.7 488.8,189.0 489.2,181.7 489.2,132.2 489.5,184.8 489.5,128.7 489.8,130.5 489.8,185.9 490.2,185.9 490.2,130.9 490.5,184.6 490.5,127.5 490.8,132.3 490.8,186.7 491.2,186.4 491.2,119.5 491.5,177.5 491.5,115.5 491.8,122.4 491.8,180.0 492.2,116.4 492.2,171.8 492.5,107.8 492.5,170.9 493.2,116.9 493.2,180.5 493.5,176.9 493.5,119.9 493.8,175.8 493.8,108.9 494.2,177.9 494.2,116.2 494.5,116.3 494.5,172.0 494.8,120.6 494.8,172.6 495.2,173.5 495.2,118.9 495.5,80.7 495.5,171.4 495.8,113.8 495.8,174.8 496.2,113.7 496.2,170.5 496.5,172.3 496.5,113.0 496.8,177.4 496.8,115.5 497.2,114.8 497.2,175.6 497.5,117.1 497.5,177.1 497.8,121.1 497.8,179.9 498.2,127.3 498.2,179.9 498.5,180.0 498.5,125.4 498.8,124.0 498.8,178.5 499.2,127.0 499.2,176.1 499.5,178.9 499.5,124.6 500.2,179.6 500.2,126.7 500.5,127.4 500.5,180.9 500.8,123.3 500.8,179.2 501.2,126.1 501.2,180.5 501.5,182.7 501.5,128.7 501.8,181.6 501.8,129.3 502.2,180.6 502.2,127.5 502.5,180.8 502.5,122.9 502.8,123.6 502.8,187.9 503.2,137.0 503.2,186.4 503.5,135.3 503.5,187.7 503.8,185.4 503.8,129.6 504.2,187.2 504.2,123.5 504.5,175.2 504.5,121.2 504.8,158.7 504.8,65.2 505.2,175.1 505.2,123.5 505.5,121.3 505.5,183.2 505.8,114.1 505.8,173.7 506.2,175.9 506.2,115.1 506.5,106.9 506.5,168.6 506.8,106.6 506.8,171.9 507.2,114.9 507.2,167.9 507.5,116.4 507.5,175.3 507.8,172.3 507.8,117.9 508.2,118.1 508.2,170.8 508.5,178.2 508.5,116.8 508.8,174.9 508.8,121.0 509.2,177.8 509.2,124.6 509.5,171.8 509.5,118.4 509.8,180.5 509.8,114.8 510.2,174.3 510.2,119.6 510.5,174.4 510.5,113.3 510.8,164.3 510.8,110.8 511.2,126.2 511.2,180.5 511.5,123.8 511.5,181.2 511.8,129.1 511.8,183.3 512.2,182.9 512.2,131.9 512.5,109.6 512.5,181.9 512.8,187.3 512.8,126.9 513.2,192.2 513.2,123.5 513.5,190.2 513.5,130.0 513.8,128.3 513.8,190.4 514.2,185.7 514.2,128.3 514.5,181.3 514.5,128.9 514.8,183.2 514.8,122.2 515.2,180.1 515.2,127.9 515.5,178.4 515.5,125.9 515.8,178.8 515.8,124.7 516.2,123.4 516.2,179.4 516.5,125.7 516.5,186.9 516.8,133.5 516.8,180.9 517.2,183.1 517.2,128.9 517.5,181.8 517.5,142.9 517.8,132.2 517.8,185.9 518.2,187.5 518.2,126.0 518.5,131.0 518.5,185.3 518.8,181.9 518.8,127.8 519.2,131.8 519.2,182.8 519.5,185.5 519.5,124.3 519.8,128.3 519.8,188.8 520.2,181.9 520.2,124.8 520.5,173.8 520.5,122.9 520.8,172.2 520.8,118.8 521.2,120.7 521.2,180.4 521.5,118.6 521.5,176.6 521.8,120.4 521.8,177.4 522.2,176.7 522.2,119.5 522.5,176.0 522.5,119.5 522.8,97.5 522.8,176.7 523.2,121.9 523.2,178.6 523.5,128.5 523.5,181.8 523.8,179.7 523.8,132.7 524.2,185.6 524.2,128.4 524.5,182.1 524.5,131.3 524.8,131.1 524.8,187.9 525.2,133.7 525.2,193.2 525.5,133.6 525.5,188.0 525.8,136.4 525.8,193.2 526.2,186.5 526.2,132.5 526.5,129.6 526.5,186.5 526.8,184.9 526.8,131.3 527.2,180.7 527.2,135.0 527.5,134.1 527.5,190.1 527.8,191.2 527.8,132.7 528.2,132.8 528.2,185.2 528.5,179.4 528.5,121.6 528.8,178.7 528.8,130.0 529.2,182.2 529.2,125.6 529.5,127.3 529.5,184.9 529.8,134.5 529.8,185.6 530.2,128.7 530.2,183.7 530.5,134.8 530.5,190.2 530.8,137.6 530.8,192.3 531.2,187.8 531.2,130.4 531.5,144.5 531.5,171.9" stroke="#ff7f0e" stroke-width="1.0"/><path d="M531.5,183.3 531.5,65.9 531.8,182.8 531.8,125.3 532.2,189.5 532.2,124.1 532.5,182.1 532.5,124.6 532.8,184.5 532.8,129.6 533.2,177.3 533.2,129.5 533.5,173.9 533.5,127.5 533.8,179.5 533.8,122.0 534.2,174.4 534.2,121.3 534.5,171.6 534.5,118.3 534.8,117.8 534.8,168.3 535.2,173.4 535.2,117.3 538.2,165.2 538.2,136.5 538.5,116.7 538.5,168.3 538.8,159.4 538.8,112.8 539.2,108.9 539.2,162.8 539.5,163.5 539.5,115.2 539.8,168.5 539.8,118.0 540.2,171.9 540.2,117.6 540.5,111.1 540.5,164.1 540.8,112.0 540.8,172.2 541.2,171.7 541.2,129.4 541.5,177.4 541.5,121.7 541.8,122.9 541.8,178.9 542.2,174.3 542.2,121.6 542.5,120.8 542.5,175.2 542.8,185.3 542.8,123.7 543.2,126.8 543.2,176.5 543.5,127.0 543.5,176.0 543.8,184.4 543.8,128.0 544.2,179.6 544.2,121.3 544.5,177.8 544.5,124.8 544.8,177.6 544.8,127.0 545.2,125.8 545.2,180.7 545.5,128.3 545.5,183.7 545.8,127.0 545.8,176.3 546.2,178.1 546.2,127.0 546.5,177.2 546.5,129.0 546.8,127.5 546.8,174.1 547.2,175.5 547.2,119.8 547.5,119.1 547.5,173.7 548.2,179.1 548.2,127.2 548.5,125.8 548.5,174.9 548.8,176.2 548.8,118.3 549.2,175.8 549.2,119.0 549.5,184.9 549.5,126.6 549.8,130.1 549.8,184.2 550.2,129.6 550.2,182.7 550.5,182.1 550.5,121.8 550.8,182.6 550.8,126.7 551.2,130.3 551.2,182.6 552.5,178.8 552.5,127.2 552.8,120.3 552.8,181.5 553.2,173.8 553.2,125.3 553.5,121.9 553.5,178.4 553.8,117.9 553.8,169.1 554.2,118.8 554.2,167.8 554.5,172.4 554.5,112.0 554.8,178.2 554.8,116.4 555.2,174.6 555.2,121.3 555.5,120.7 555.5,173.2 555.8,118.8 555.8,171.3 556.2,167.6 556.2,118.4 556.5,117.2 556.5,177.5 556.8,178.0 556.8,122.8 557.2,118.3 557.2,176.1 557.5,118.4 557.5,171.0 557.8,179.6 557.8,120.3 558.2,119.1 558.2,178.9 558.5,167.4 558.5,120.0 558.8,115.5 558.8,173.2 559.2,166.8 559.2,117.4 559.5,119.4 559.5,153.8 559.8,116.2 559.8,168.0 560.2,169.3 560.2,120.0 560.5,115.7 560.5,172.4 560.8,165.7 560.8,115.2 561.2,172.0 561.2,114.6 561.5,171.8 561.5,114.0 561.8,116.4 561.8,171.7 562.2,123.5 562.2,174.7 562.5,177.3 562.5,119.4 562.8,118.3 562.8,170.2 563.2,178.9 563.2,122.3 563.5,178.8 563.5,119.5 563.8,125.1 563.8,182.8 564.2,130.0 564.2,175.8 564.5,179.5 564.5,125.5 564.8,183.0 564.8,128.5 565.2,121.6 565.2,177.9 565.5,175.4 565.5,126.6 565.8,121.7 565.8,174.3 566.2,119.0 566.2,176.8 566.5,180.3 566.5,49.5 566.8,121.3 566.8,175.9 567.2,174.9 567.2,119.5 567.5,118.4 567.5,171.5 567.8,119.1 567.8,172.1 568.2,171.8 568.2,119.2 568.5,172.6 568.5,116.4 568.8,172.2 568.8,114.1 569.2,121.6 569.2,173.6 569.5,120.7 569.5,177.1 569.8,177.3 569.8,117.2 570.2,175.6 570.2,121.5 570.5,121.3 570.5,173.8 570.8,120.3 570.8,174.3 571.2,122.4 571.2,177.4 571.8,130.7 571.8,185.1 572.2,184.0 572.2,120.9 572.5,126.3 572.5,175.6 572.8,125.4 572.8,176.4 573.2,180.4 573.2,126.3 573.5,177.9 573.5,115.4 573.8,176.5 573.8,122.9 574.2,175.4 574.2,121.2 574.5,124.9 574.5,177.4 574.8,167.9 574.8,121.2 575.2,173.9 575.2,116.2 575.5,116.4 575.5,172.4 575.8,175.7 575.8,120.3 576.2,168.4 576.2,117.6 576.5,172.4 576.5,49.7 576.8,108.2 576.8,165.0 577.2,165.9 577.2,114.5 577.5,122.9 577.5,173.1 577.8,168.3 577.8,117.1 578.2,115.3 578.2,167.9 578.5,114.6 578.5,170.1 578.8,118.3 578.8,171.4 579.2,172.2 579.2,116.8 579.5,120.4 579.5,171.0 579.8,172.5 579.8,117.7 580.2,118.7 580.2,174.7 580.5,168.0 580.5,121.2 580.8,114.5 580.8,174.2 581.2,118.6 581.2,172.3 581.5,121.9 581.5,174.5 581.8,122.1 581.8,179.1 582.2,176.2 582.2,120.9 582.5,176.7 582.5,122.6 582.8,184.3 582.8,124.0 583.2,126.9 583.2,179.6 583.5,170.1 583.5,120.3 583.8,179.9 583.8,120.4 584.2,142.3 584.2,172.0 584.5,122.4 584.5,177.8 584.8,176.2 584.8,124.1 585.2,178.3 585.2,121.1 585.5,179.2 585.5,116.2 585.8,175.9 585.8,116.3 586.2,121.1 586.2,173.8 586.5,120.2 586.5,174.1 586.8,123.8 586.8,173.2 587.2,124.7 587.2,179.3 587.5,178.5 587.5,120.8 587.8,125.6 587.8,174.6 588.2,173.8 588.2,120.1 588.5,115.6 588.5,174.8 588.8,180.6 588.8,124.7 589.2,175.4 589.2,122.3 589.5,173.9 589.5,122.7 589.8,121.7 589.8,171.6" stroke="#2ca02c" stroke-width="1.0"/><path d="M590.2,164.2 590.2,147.1 590.5,131.4 590.5,163.6 590.8,160.6 590.8,131.6 591.2,163.8 591.2,120.7 591.5,121.3 591.5,153.4 591.8,122.5 591.8,151.9 592.2,120.3 592.2,154.6 592.5,153.3 592.5,124.9 592.8,122.0 592.8,156.9 593.2,116.7 593.2,154.7 593.5,120.1 593.5,156.3 593.8,154.3 593.8,126.5 594.2,160.0 594.2,120.8 594.5,123.2 594.5,157.4 594.8,160.8 594.8,124.1 595.2,154.9 595.2,119.8 595.5,159.1 595.5,128.4 595.8,154.9 595.8,125.8 596.2,123.3 596.2,162.6 596.5,155.6 596.5,120.2 596.8,125.6 596.8,165.0 597.2,161.3 597.2,123.4 597.5,127.2 597.5,159.7 597.8,161.5 597.8,122.3 598.2,161.3 598.2,118.4 598.5,162.2 598.5,128.2 598.8,131.3 598.8,165.9 599.2,163.2 599.2,129.1 599.5,128.9 599.5,163.6 599.8,164.9 599.8,127.6 600.2,166.8 600.2,132.5 600.5,171.5 600.5,136.7 600.8,135.7 600.8,174.5 601.2,139.9 601.2,174.4 601.5,176.3 601.5,140.1 601.8,166.4 601.8,150.4 602.2,173.7 602.2,137.8 602.5,130.2 602.5,165.1 602.8,128.2 602.8,159.7 603.2,126.1 603.2,155.4 603.5,128.6 603.5,161.8 603.8,162.2 603.8,127.8 604.2,158.8 604.2,123.1 604.5,158.0 604.5,128.2 604.8,153.0 604.8,121.0 605.2,155.2 605.2,122.3 605.5,124.7 605.5,159.5 605.8,157.9 605.8,120.4 606.2,158.4 606.2,120.6 606.5,158.2 606.5,116.5 606.8,154.3 606.8,121.6 607.2,155.7 607.2,125.3 607.5,132.3 607.5,152.3 607.8,162.7 607.8,130.9 608.2,168.1 608.2,130.9 608.5,130.9 608.5,166.5 608.8,127.7 608.8,162.9 609.2,161.4 609.2,149.5 609.5,127.3 609.5,165.3 609.8,134.1 609.8,168.2 610.2,164.8 610.2,134.1 610.5,164.3 610.5,132.1 610.8,163.6 610.8,130.2 611.2,160.7 611.2,125.1 611.5,122.4 611.5,159.5 611.8,159.9 611.8,131.3 612.2,123.6 612.2,162.6 612.5,124.3 612.5,160.1 612.8,157.1 612.8,126.4 613.2,157.2 613.2,120.1 613.5,129.6 613.5,156.0 613.8,125.7 613.8,160.8 614.2,129.7 614.2,162.1 614.5,121.7 614.5,166.0 614.8,126.7 614.8,168.5 615.2,131.1 615.2,163.9 615.5,128.3 615.5,159.3 615.8,126.0 615.8,165.2 616.2,128.7 616.2,161.2 616.5,167.7 616.5,130.0 616.8,130.6 616.8,168.3 617.2,129.3 617.2,164.4 617.5,161.3 617.5,130.2 617.8,127.2 617.8,164.0 618.2,127.2 618.2,159.0 618.5,124.1 618.5,165.9 618.8,161.4 618.8,130.7 619.2,129.3 619.2,165.4 619.5,128.4 619.5,163.2 619.8,169.6 619.8,123.6 620.2,132.1 620.2,163.2 620.5,161.3 620.5,134.6 620.8,169.7 620.8,131.1 621.2,165.8 621.2,128.6 621.5,135.1 621.5,166.8 621.8,161.7 621.8,128.8 622.2,128.2 622.2,160.3 622.5,161.7 622.5,126.2 622.8,158.7 622.8,125.7 623.2,159.3 623.2,125.9 623.5,126.6 623.5,161.7 623.8,160.6 623.8,129.1 624.2,133.1 624.2,162.7 624.5,133.7 624.5,166.5 624.8,168.1 624.8,130.9 625.2,136.0 625.2,166.2 625.5,164.0 625.5,135.1 625.8,135.2 625.8,169.3 626.2,140.5 626.2,170.2 626.5,170.5 626.5,139.5 626.8,170.6 626.8,133.3 627.2,172.2 627.2,127.7 627.5,173.1 627.5,133.9 627.8,138.1 627.8,171.7 628.2,174.6 628.2,132.7 628.5,169.7 628.5,130.8 628.8,170.4 628.8,138.1 629.2,131.9 629.2,173.5 629.5,176.1 629.5,133.5 629.8,136.6 629.8,172.6 630.2,165.1 630.2,131.6 630.5,169.8 630.5,136.2 630.8,165.6 630.8,131.5 631.2,163.8 631.2,131.1 631.5,133.4 631.5,167.1 631.8,163.9 631.8,131.6 632.2,135.3 632.2,166.4 632.5,134.9 632.5,172.2 632.8,172.5 632.8,126.0 633.2,137.3 633.2,169.8 633.5,172.8 633.5,134.5 633.8,134.7 633.8,172.1 634.2,165.4 634.2,128.7 634.5,169.3 634.5,132.9 634.8,168.1 634.8,133.1 635.2,131.0 635.2,160.0 635.5,128.3 635.5,164.6 635.8,164.3 635.8,132.5 636.2,163.1 636.2,129.9 636.5,164.6 636.5,132.7 636.8,167.0 636.8,131.5 637.2,166.4 637.2,133.4 637.5,168.1 637.5,101.7 637.8,131.7 637.8,169.0 638.2,165.0 638.2,136.4 638.5,166.8 638.5,133.0 638.8,162.8 638.8,130.6 639.2,135.8 639.2,170.4 639.5,173.6 639.5,135.1 639.8,172.8 639.8,136.9 640.2,134.1 640.2,174.3 640.5,173.1 640.5,136.4 640.8,137.5 640.8,176.3 641.2,173.9 641.2,130.4 641.5,132.6 641.5,172.3 641.8,166.3 641.8,131.3 642.2,135.3 642.2,166.7 642.5,168.7 642.5,135.0 642.8,165.1 642.8,130.0 643.5,157.8 643.5,125.8 643.8,126.4 643.8,148.8 644.2,123.6 644.2,158.4 644.5,159.8 644.5,122.3 644.8,127.2 644.8,161.4 645.2,158.9 645.2,120.2 645.5,156.1 645.5,123.2 645.8,123.5 645.8,159.5 646.2,161.4 646.2,125.5 646.5,165.8 646.5,126.4 646.8,161.1 646.8,123.9 647.2,159.1 647.2,118.4 647.5,130.2 647.5,161.3 647.8,125.8 647.8,170.2 648.2,170.7 648.2,130.8" stroke="#d62728" stroke-width="1.0"/><path d="M648.2,143.1 648.2,167.5 648.5,165.2 648.5,135.9 648.8,165.7 648.8,137.0 649.2,176.1 649.2,102.7 649.5,170.2 649.5,134.4 649.8,168.6 649.8,131.3 650.2,130.9 650.2,158.7 650.5,124.1 650.5,160.9 650.8,163.7 650.8,127.7 651.2,163.2 651.2,126.6 651.5,126.6 651.5,162.6 651.8,163.6 651.8,127.0 652.2,127.3 652.2,167.9 652.5,165.8 652.5,126.6 652.8,129.3 652.8,159.1 653.2,159.0 653.2,126.1 653.5,163.9 653.5,128.8 653.8,164.1 653.8,128.1 654.2,126.4 654.2,168.9 654.5,129.3 654.5,171.5 654.8,164.9 654.8,133.5 655.2,166.3 655.2,130.7 655.5,165.9 655.5,133.2 655.8,170.0 655.8,134.9 656.2,159.7 656.2,141.8 656.5,173.0 656.5,132.4 656.8,171.0 656.8,133.0 657.2,135.2 657.2,171.0 657.5,171.0 657.5,136.3 657.8,139.2 657.8,178.3 658.2,139.1 658.2,177.3 658.5,174.9 658.5,138.9 658.8,142.2 658.8,175.8 659.2,180.5 659.2,138.9 659.5,176.9 659.5,140.0 659.8,172.1 659.8,137.9 660.2,170.0 660.2,134.3 660.5,135.3 660.5,166.7 660.8,167.5 660.8,131.1 661.2,164.8 661.2,127.4 661.5,167.4 661.5,137.5 661.8,166.1 661.8,137.1 662.5,134.8 662.5,153.3 662.8,135.9 662.8,168.4 663.2,132.2 663.2,165.5 663.5,130.5 663.5,167.1 663.8,167.3 663.8,129.3 664.2,163.7 664.2,132.7 664.5,172.1 664.5,71.3 664.8,134.4 664.8,169.2 665.2,168.7 665.2,137.1 665.5,134.0 665.5,170.8 665.8,173.9 665.8,137.0 666.2,139.7 666.2,172.3 666.5,176.5 666.5,137.1 666.8,171.0 666.8,136.1 667.2,174.3 667.2,137.5 667.5,145.2 667.5,177.4 667.8,148.1 667.8,178.7 668.2,177.7 668.2,137.8 668.5,176.9 668.5,135.0 668.8,141.9 668.8,177.3 669.2,143.0 669.2,176.0 669.5,144.4 669.5,180.6 669.8,143.0 669.8,176.5 670.2,176.1 670.2,141.6 670.5,177.4 670.5,143.4 670.8,170.0 670.8,133.4 671.2,166.8 671.2,136.2 671.5,168.6 671.5,135.4 671.8,169.7 671.8,134.0 672.2,166.7 672.2,136.5 672.5,137.3 672.5,174.3 672.8,135.2 672.8,174.1 673.2,129.3 673.2,175.6 673.5,130.5 673.5,168.5 673.8,131.0 673.8,167.0 674.2,166.6 674.2,136.1 674.5,171.2 674.5,136.5 674.8,134.5 674.8,173.7 675.2,137.3 675.2,169.8 675.5,131.6 675.5,171.4 675.8,171.1 675.8,137.9 676.2,164.5 676.2,131.8 676.5,162.0 676.5,127.4 676.8,159.4 676.8,122.6 677.2,154.3 677.2,123.1 677.5,159.7 677.5,123.6 677.8,159.6 677.8,124.7 678.2,120.9 678.2,158.0 678.5,161.7 678.5,123.5 678.8,125.0 678.8,161.5 679.2,165.5 679.2,131.8 679.5,130.4 679.5,164.2 679.8,168.7 679.8,133.9 680.2,136.3 680.2,165.9 680.5,176.0 680.5,140.8 680.8,170.5 680.8,139.2 681.2,177.2 681.2,141.8 681.5,142.2 681.5,164.5 681.8,139.3 681.8,171.2 682.2,143.8 682.2,177.2 682.5,171.6 682.5,142.8 682.8,133.6 682.8,176.1 683.2,135.8 683.2,168.3 683.5,169.3 683.5,133.5 683.8,130.0 683.8,161.8 684.2,165.1 684.2,126.2 684.5,130.5 684.5,160.0 684.8,126.4 684.8,165.5 685.2,128.3 685.2,164.1 685.5,161.7 685.5,127.9 685.8,131.1 685.8,159.0 686.2,128.8 686.2,157.3 686.5,125.3 686.5,157.1 686.8,132.0 686.8,162.3 687.2,168.8 687.2,134.0 687.5,133.3 687.5,166.4 687.8,133.2 687.8,174.8 688.2,164.2 688.2,137.9 688.5,161.4 688.5,125.6 688.8,129.8 688.8,168.7 689.2,166.4 689.2,130.7 689.5,128.8 689.5,164.7 689.8,163.1 689.8,124.7 690.2,122.4 690.2,163.1 690.5,121.8 690.5,158.9 690.8,121.5 690.8,156.3 691.2,127.5 691.2,160.6 691.5,163.7 691.5,128.1 691.8,163.6 691.8,129.1 692.2,131.1 692.2,161.9 692.5,163.4 692.5,127.1 692.8,166.1 692.8,129.5 693.2,131.6 693.2,170.2 693.5,169.5 693.5,134.1 693.8,133.7 693.8,162.9 694.2,162.9 694.2,130.4 694.5,131.9 694.5,165.9 694.8,126.0 694.8,161.5 695.2,165.4 695.2,127.4 695.5,127.5 695.5,157.3 695.8,119.0 695.8,155.1 696.2,163.3 696.2,122.4 696.5,161.1 696.5,124.8 696.8,128.0 696.8,162.5 697.2,166.7 697.2,82.4 697.5,133.7 697.5,172.9 697.8,134.1 697.8,169.5 698.2,165.7 698.2,134.1 698.5,136.5 698.5,158.7 698.8,169.1 698.8,137.1 699.2,169.7 699.2,133.3 699.5,135.6 699.5,164.4 699.8,165.0 699.8,131.3 700.2,164.9 700.2,130.3 700.5,158.3 700.5,130.3 700.8,128.5 700.8,165.9 701.2,125.3 701.2,166.0 701.5,135.1 701.5,167.7 701.8,132.1 701.8,169.3 702.2,167.8 702.2,133.6 702.5,167.3 702.5,134.0 702.8,165.4 702.8,130.1 703.2,164.9 703.2,127.8 703.5,159.2 703.5,129.5 703.8,162.8 703.8,131.6 704.2,157.7 704.2,126.4 704.5,121.8 704.5,158.2 704.8,124.0 704.8,161.6" stroke="#9467bd" stroke-width="1.0"/></g><g clip-path="url(#c02)"><g transform="scale(.1)" stroke-linecap="round"><path d="M7934 1200h0m108-195h0m1057,576h0m1538-489h0m-853,256h0m192-146h0m-1622,21h0m2306-220h0m-853,195h0m96-107h0m108,217h0m-469,239h0m577-300h0m-2296-208h0m1646,511h0m1153-356h0m-2775,14h0m972,484h0m1058-455h0m192-152h0m96,9h0m-85,117h0m289,62h0m-1238,332h0m769-291h0m-1815,15h0m673,85h0m108,242h0m384-77h0m385-266h0m576-109h0m-1899-69h0m192,253h0m289,125h0m1153-359h0m289-74h0m-2199,121h0m2606-122h0m-2776-117h0m673,357h0m1538-68h0m-84-170h0m-661,276h0m-662-41h0m877,117h0m192-124h0m-1718-327h0m1345,426h0m769-335h0m96,58h0m-638,122h0m-372,261h0m300-283h0m384-29h0m673-150h0m-2488-678h0m2499,689h0m-2764-69h0m769,515h0m-661-355h0m673,334h0m288-42h0m-469-237h0m1346,14h0m-1911-246h0m288,303h0m1923-32h0m192-343h0m-1046,437h0m1346-287h0m-1911,259h0m1646-488h0m192,230h0m-1526,375h0m1345-273h0m-2006-64h0m961,210h0m1153-323h0m96,2h0m-2391,126h0m396,230h0m1826-448h0m193,21h0m-1719,538h0m973-369h0m780-259h0m-2679-127h0m288,41h0m769,518h0m1153-195h0m577-337h0m-2391,194h0m1057,455h0m1153-534h0m-2199,266h0m-276-227h0m480,403h0m1730-345h0m96-6h0m193-1h0m-1623,320h0m1538-539h0m108,214h0m-2284,144h0m96-26h0m2316-298h0m-469-4h0m384,26h0m-2103,333h0m288,252h0m193-47h0m384,3h0m-1334-217h0m2499-15h0m-1803,198h0m865,75h0m-565,2h0m96,74h0m289-87h0m1057-179h0m-1142,315h0m288-274h0m-1141,98h0m192,54h0m-661-413h0m769,298h0m1453-289h0m-1622,443h0m768,39h0m97,92h0m192-199h0m-757,44h0m1153-404h0m-1430,385h0m288,178h0m192-142h0m1154-371h0m-2103,152h0m1730-22h0m192-92h0m-2199-129h0m673,425h0m192,136h0m1634-501h0m96-14h0m-1238,548h0m673-398h0m-1622,95h0m300,61h0m1057-88h0m-1430,133h0m96-51h0m961,230h0m865-358h0m-1718,345h0m576,78h0m481-20h0m-757-83h0m1730-461h0m192,32h0m-2487-96h0m96,313h0m480,161h0m192,18h0m193,161h0m865-548h0m-2103,40h0m673,327h0m11,43h0m96,97h0m1346-446h0m96,68h0m-1622,292h0m480-92h0m193,63h0m961-237h0m-1719,148h0m396,354h0m1058-619h0m288-31h0m-2199,55h0m288,79h0m481,225h0m492,52h0m481-143h0m865-396h0m-277,141h0m-2188,70h0m2307,89h0m12-77h0m-1719,431h0m865-191h0m12,134h0m288-390h0m-1910,40h0m769,472h0m492,7h0m1442-365h0m-2488,54h0m2115-113h0m-2199,22h0m203-6h0m1731,56h0m-1696-10h0m1069,357h0m300-98h0m385-201h0m-1623,127h0m1154,352h0m-85-30h0m96-141h0m-469,174h0m-1238-379h0m289,184h0m480,72h0m577,105h0m-277,202h0m1538-566h0m-1430,422h0m769-247h0m-1815-252h0m385,373h0m192,45h0m1538-88h0m-854,26h0m289-51h0m961-307h0m-1911,200h0m289,299h0m1057-315h0m-1911,67h0m1057,135h0m1442-264h0m-1034,322h0m192-101h0m-1526-225h0m96,96h0m1442-24h0m-950,282h0m1730-305h0m-1814,60h0m-854-206h0m1731,249h0m-1419-176h0m481,134h0m480,256h0m1442-531h0m-2103,206h0m1922-112h0m-2007,206h0m769,132h0m481-191h0m384-22h0m-2103-243h0m193-56h0m876,590h0m193-107h0m1153-496h0m-181,166h0m-1141,289h0m-854-382h0m1922,142h0m97-142h0m-2200,176h0m673,19h0m193,250h0m672-219h0m-949-113h0m673,362h0m384-260h0m-1718-327h0m2114,151h0m96-23h0m-2199-122h0m865,537h0m877-256h0m384-308h0m-84,268h0m577-197h0m-758,367h0m-661,125h0m961-366h0m192-151h0m-1237,448h0m1368-385h0m-1226,540h0m-853-256h0m1261-108h0m-1719-102h0m1250,362h0m288-140h0m289-111h0m-1623-205h0m250,312h0m1058,1h0m192,171h0m577-463h0m288-95h0m-1707,569h0m-469-397h0m577,365h0m96,128h0m577-45h0m1057-606h0m-1046,399h0m-1622-170h0m1442,355h0m96-57h0m96-72h0m96-141h0m1057-311h0m-2487,289h0m2222-381h0m192,319h0m-372,15h0m192-221h0m-1527,379h0m769-52h0m1058-312h0m-1527,511h0m481-256h0m-1622-295h0m1057,681h0m-469-315h0m1538-165h0m-85-19h0m96-88h0m-949,640h0m1346-533h0m-1719,421h0m-757-563h0m2018,54h0m192-31h0m193,53h0m-1527,437h0m-469-14h0m2115-586h0m-469,354h0m-2007-156h0m1730,237h0m385-408h0m-2092,412h0m1634,34h0m-1334-1h0m865,247h0m-853-122h0m2018-445h0m-2391,255h0m1153,124h0m481-83h0m-1719-174h0m1923,83h0m-277,219h0m781-459h0m-2103,260h0m288,233h0m481,208h0m215-80h0m877-362h0m96-105h0m-2007,177h0m384,233h0m1635-399h0m-1911,135h0m1826-99h0m96-87h0m-1526,380h0m480-56h0m769-341h0m-1814,249h0m2307-171h0m-2392,66h0m769,209h0m1165-528h0m-1995,118h0m192,69h0m96,167h0m673,68h0m192,294h0m673-398h0m-1334,173h0m481,115h0m396-101h0m865-454h0m-2391-66h0m672,365h0m673,64h0m289-28h0m384-262h0m-2007-153h0m2211,94h0m-950,450h0m193-26h0m192-191h0m961-422h0m96,86h0m-1718,510h0m-1046-517h0m769,447h0m1153-198h0m-1229-159h0m2018-210h0m-853,163h0m11,10h0m-1045,105h0m288,114h0m1153-460h0m-1622,217h0m2018-489h0m-1237,594h0m1153-456h0m-181-214h0m96,187h0m-1622,482h0m577,93h0m96-242h0m384-20h0m769-178h0m-2583-202h0m192,322h0m1346,67h0m1057-370h0m-1719,580h0m1827-675h0m-2392,450h0m577,214h0m673-184h0m192-75h0m769-164h0m96,2h0m96-69h0m-2103,408h0m289,220h0m1153-347h0m288-193h0m-2199,122h0m673,152h0m961-134h0m385-84h0m-1527,230h0m589,221h0m300,91h0m865-541h0m96-83h0m-757,360h0m865-207h0m-2680-74h0m288,156h0m2307-5h0m-2295,193h0m192,21h0m1646-172h0m-2007,95h0m2595-366h0m-2091,432h0m192,157h0m1826-434h0m96-114h0m-1430,448h0m96-41h0m96,68h0m1250-401h0m-2680-17h0m673,376h0m577,77h0m1249-416h0m-649,460h0m-1131,7h0m1635-398h0m-1911,230h0m96,109h0m204,217h0m480-58h0m1273-487h0m-277,236h0m193-60h0m288,43h0m-2488,76h0m577,198h0m769-50h0m481-193h0m384-220h0m-2199,276h0m2115-230h0m-2488,203h0m96-310h0m1923,418h0m-1803-173h0m865,374h0m96-39h0m973-366h0m-2007,17h0m865,395h0m527,37h0m396-208h0m192,23h0m-1526-59h0m1069,93h0m-1334-237h0m96,160h0m780,123h0m865-205h0m385-240h0m192,137h0m-1718,339h0m-181,9h0m-84,18h0m1153-186h0m-1238-78h0m1442-32h0m-661,225h0m11-57h0m961-340h0m-276,156h0m-1431,73h0m97,60h0m576,135h0m769-323h0m-1238,265h0m1442-198h0m-1238,372h0m96-70h0m673-211h0m12,100h0m961-402h0m-1623,492h0m97-34h0m-181,14h0m300-80h0m673-197h0m-1815-170h0m865,486h0m577-381h0m300,100h0m408-111h0m-1719,213h0m-73-146h0m1538,105h0m673-450h0m-1046,432h0m961-246h0m97-88h0m-1527,609h0m865-517h0m96-2h0m-1141,350h0m1057-235h0m96-71h0m-85,94h0m-565,112h0m769-313h0m-2199,32h0m96-21h0m962,450h0m1153-360h0m-2295,134h0m1441,221h0m97-81h0m865-311h0m-1431,314h0m962-266h0m480-260h0m-1142,667h0m962-426h0m192-31h0m288-9h0m-2391,242h0m192,43h0m288,191h0m1538-455h0m-1814,277h0m480,301h0m481-149h0m481-331h0m-758,382h0m481-156h0m192-81h0m-1515-160h0m769,340h0m-1142-604h0m289,294h0m-181-77h0m289,85h0m1345,50h0m192-157h0m-949,173h0m96,233h0m481-356h0m961-230h0m-181,71h0m-565,212h0m673-193h0m288-119h0m-2776,24h0m193,63h0m192,124h0m-373-196h0m192,71h0m769,425h0m-180,32h0m384-11h0m192-11h0m-84,112h0m673-413h0m-1719-75h0m973,357h0m-1215-442h0m2019,139h0m-950,356h0m769-181h0m12-164h0m-1623-83h0m1058,401h0m96-65h0m203-88h0m769-250h0m-1718,172h0m288,263h0m-277-96h0m577,23h0m192-34h0m-1237-347h0m1537,380h0m193-64h0m96-180h0m96-70h0m481-52h0m192-56h0m-2199,239h0m288,158h0m312,45h0m576-47h0m865-341h0m-1910,401h0m1537-367h0m-372,289h0m-1238,4h0m-565-353h0m1634,420h0m480-279h0m-1718,222h0m865,103h0m300-163h0m288-121h0m-1142,283h0m1826-496h0m193,28h0m-1815,586h0m192-157h0m1346-299h0m-2488-47h0m97-84h0m961,495h0m480-15h0m-372,66h0m672-205h0m120-74h0m673-117h0m-2007,254h0m576,168h0m481,7h0m877-535h0m-2296,212h0m-180-225h0m1634,414h0m865-384h0m-1334,439h0m1153-239h0m-1045,45h0m1153-175h0m-1046,341h0m577-268h0m96-192h0m288,103h0m-2391,0h0m2595,5h0m-2199,123h0m385,330h0m1826-456h0m-2295,75h0m961,320h0m192,58h0m481-223h0m-469,156h0m865-458h0m288-110h0m-2584,57h0m877,533h0m289,10h0m1057-319h0m384-149h0m-1814,321h0m1741-494h0m-1526,767h0m1346-549h0m-277,91h0m-1611,224h0m481,162h0m769-370h0m673-121h0m-2488,6h0m1550,191h0m96,81h0m-1527-297h0m97,10h0m384,227h0m481,272h0m-662-366h0m385,11h0m384,259h0m1058-402h0" stroke="#1f77b4" stroke-width="23"/><path d="M10130 924h0m288-187h0m-2487,176h0m672,526h0m289,66h0m865-159h0m384-433h0m289,90h0m-2488,2h0m385,198h0m192,280h0m1730-503h0m96-120h0m96,269h0m-565,178h0m577-390h0m-565,320h0m192,61h0m385-240h0m96-87h0m-2680,202h0m384,74h0m385,131h0m1730-428h0m-853,420h0m-950,65h0m384,158h0m-276-117h0m288,129h0m481-58h0m192-126h0m96-119h0m385-194h0m-2007-193h0m192,364h0m384,390h0m769,22h0m577-594h0m-1911-42h0m1154,578h0m1153-674h0m-2391,136h0m96-12h0m96,91h0m96,75h0m288,209h0m97,17h0m576,152h0m1058-677h0m-2200,148h0m673,335h0m769-31h0m769-315h0m-2391,72h0m480,328h0m385-25h0m288,165h0m289-286h0m-1046-157h0m384,327h0m577,39h0m385-132h0m769-323h0m192,9h0m-2584-4h0m1057,662h0m673-427h0m385-400h0m288,96h0m-2391,8h0m96,186h0m96-21h0m481,280h0m384,109h0m288-120h0m962-418h0m-2488-148h0m192,224h0m769,521h0m481-139h0m481-333h0m672-113h0m-2391,6h0m96,235h0m1154,194h0m192-22h0m96-97h0m481-367h0m480-189h0m-2487,324h0m576,261h0m193,151h0m1057-380h0m673-70h0m-2776-96h0m96,104h0m1250,619h0m865-486h0m-1623,171h0m192,88h0m1442-416h0m96-91h0m-1814,323h0m192,100h0m288,162h0m96,157h0m289-251h0m96,75h0m-854-312h0m673,368h0m961-451h0m-1910,8h0m480,311h0m481,293h0m480-364h0m769-423h0m-1526,536h0m961-349h0m-84,139h0m769-190h0m-1911,364h0m192,176h0m1058-303h0m192-216h0m480-147h0m-2679-88h0m192,109h0m577,399h0m192,195h0m480-199h0m1346-506h0m-2776,60h0m96,20h0m577,521h0m288,10h0m385,178h0m96-116h0m288-36h0m481-541h0m-565,632h0m480-523h0m289,78h0m288-497h0m-2103,681h0m192,204h0m769,64h0m577-558h0m385-50h0m-2007,106h0m576,554h0m193-144h0m1538-688h0m-1335,730h0m193-162h0m-854-101h0m577,108h0m384,192h0m-1622-684h0m192,275h0m192,59h0m769,299h0m193,162h0m1249-763h0m-2776-71h0m385,385h0m480,304h0m193-167h0m192,147h0m1057-571h0m-1334,593h0m385,52h0m673-442h0m-1527,198h0m96-64h0m289,319h0m96-63h0m288,279h0m96-192h0m1346-849h0m96,245h0m-2487-118h0m192,281h0m384,223h0m289,166h0m288,12h0m96-164h0m288-78h0m673-524h0m-2391,345h0m1538,136h0m480-233h0m289-142h0m192-80h0m-2584-79h0m2692,272h0m-1527,579h0m481-375h0m-1107,204h0m577,205h0m288,19h0m192-115h0m577-507h0m288-17h0m-1334,518h0m385,179h0m192-358h0m192,52h0m577-422h0m96-301h0m-2583,365h0m288,148h0m481,304h0m672,98h0m481-311h0m-1911-245h0m385,15h0m865,636h0m288-233h0m192,132h0m865-445h0m-2006,175h0m384,343h0m192-252h0m96,179h0m-1238-572h0m769,406h0m769-121h0m1154-308h0m-2584-108h0m192,244h0m1538,237h0m385-259h0m-1815,27h0m288,414h0m289,45h0m96-64h0m673-21h0m865-559h0m-1719,399h0m96,195h0m97,79h0m-373-44h0m961-101h0m-1719-560h0m96,62h0m769,503h0m193,251h0m1249-631h0m96-88h0m-949,499h0m192-89h0m192,12h0m865-407h0m-2583,96h0m384,195h0m192,74h0m193,82h0m384,179h0m96-9h0m1250-533h0m-2392,99h0m769,387h0m-1045-491h0m769,371h0m96,115h0m1345-348h0m481-170h0m-2103,310h0m865,440h0m1057-744h0m-2295,0h0m1538,549h0m577-534h0m96-17h0m384-98h0m-1814,614h0m769,45h0m288-305h0m-1719-157h0m193,310h0m480,166h0m193,137h0m192,48h0m384-347h0m192,40h0m289-482h0m288-3h0m96-25h0m-2583,208h0m576,181h0m577,145h0m-180,167h0m1249-424h0m385-55h0m-2007,192h0m672,276h0m289-109h0m865-498h0m-2199,110h0m1057,493h0m96,28h0m769-405h0m289-366h0m96,348h0m-2296-69h0m193,65h0m480,263h0m961-223h0m673-354h0m-2487,136h0m384,229h0m96,127h0m673,269h0m385-220h0m-1527-279h0m96,47h0m289,15h0m288,278h0m961,129h0m673-496h0m-1911,301h0m193-43h0m961,41h0m673-353h0m288,26h0m192-104h0m-2007,410h0m97,161h0m576,161h0m673-564h0m192-83h0m193,0h0m192-13h0m-2488-140h0m673,643h0m1250-428h0m-1719-30h0m385,485h0m1634-411h0m192-169h0m-2584,102h0m865,438h0m1346-560h0m-2103,137h0m1346,548h0m96-230h0m288-109h0m96-89h0m-1718-137h0m576,569h0m289,54h0m577-294h0m192-154h0m192-119h0m577-129h0m-2680,26h0m192,41h0m289,68h0m865,390h0m192,22h0m1057-535h0m-2199,150h0m385,268h0m96,10h0m769,35h0m480-203h0m192-243h0m-1622,425h0m481,148h0m96,168h0m96-210h0m384-135h0m769-523h0m-853,742h0m288-492h0m289-3h0m-2200-251h0m193-7h0m96,185h0m961,516h0m-950-354h0m577,237h0m1057-457h0m481-39h0m-2199-40h0m96,120h0m288,296h0m193,66h0m384-8h0m96,73h0m481-231h0m-1719-380h0m193,105h0m96,174h0m384,86h0m-181-83h0m97,238h0m384,75h0m96,195h0m96-150h0m769-356h0m193-259h0m-2007,50h0m480,168h0m577,307h0m-1142-563h0m288,189h0m97-13h0m192,49h0m384,260h0m769-240h0m769-384h0m-1622,622h0m673,8h0m576-591h0m385,82h0m-2680-171h0m1538,628h0m384-110h0m385-474h0m384-244h0m-2295,266h0m289,471h0m480,177h0m288,12h0m1058-590h0m-2392,89h0m97,16h0m865,523h0m961-434h0m96,7h0m288-167h0m-2391-87h0m96-115h0m961,725h0m-915-524h0m673,528h0m193-57h0m192,28h0m288-39h0m96-1h0m769-472h0m96,11h0m12,15h0m96-112h0m-2584,235h0m385,6h0m192,88h0m192,240h0m-276,15h0m672-83h0m673-17h0m673-441h0m96-49h0m-1430,717h0m673-179h0m-1238-64h0m1250,44h0m672-388h0m97-30h0m-950,435h0m1057-782h0m-2391,494h0m1346,418h0m96-173h0m480-138h0m-1334,175h0m961-109h0m193-120h0m480-349h0m-1814,661h0m672-26h0m1250-479h0m-1142,341h0m1057-573h0m-1910,511h0m865,173h0m192,55h0m673-545h0m-2295,23h0m1634,330h0m288-154h0m96,132h0m-2103-300h0m96-106h0m192,267h0m481,198h0m673,179h0m288-78h0m289-242h0m-1527,14h0m-373-257h0m385,238h0m384,264h0m673,26h0m289-236h0m96,19h0m96-233h0m673-34h0m-1815,549h0m96,98h0m96-18h0m289,72h0m96-291h0m192-16h0m-1526-387h0m192,44h0m961,559h0m192-182h0m-1334-289h0m577,256h0m288,174h0m289-119h0m480-22h0m481-480h0m96,22h0m-2103-7h0m2211-13h0m192-6h0m96-78h0m-1911,548h0m673-1244h0m192,882h0m385,53h0m-554,350h0m96,53h0m385-416h0m-1911-206h0m1442,680h0m481-368h0m192-11h0m-2199-331h0m865,657h0m-85-167h0m192,91h0m289,193h0m480-290h0m1058-397h0m-2776,20h0m1153,665h0m865-439h0m289-36h0m288-154h0m-2584,17h0m673,428h0m289-58h0m1153-368h0m577-174h0m-2680-141h0m385,485h0m288,153h0m673,114h0m96,10h0m673-447h0m192,30h0m-2103-4h0m288,118h0m769,476h0m96-129h0m769-631h0m96,117h0m193,82h0m-2296-136h0m193,193h0m384,184h0m385,137h0m96,96h0m288-69h0m577-387h0m288-145h0m385-43h0m-2200,325h0m193,207h0m384,11h0m673-167h0m288-253h0m-1045,463h0m96,20h0m384-126h0m193-8h0m96-222h0m-1815-117h0m384,0h0m673,449h0m96-85h0m385,33h0m192,17h0m-1718-433h0m96-36h0m2403-107h0m-2584,100h0m1250,473h0m288,130h0m384-383h0m577-168h0m-853,459h0m-950-166h0m1154,48h0m865-401h0m-2584,73h0m1057,578h0m962-370h0m480-284h0m96-11h0m-2199,399h0m865,417h0m289-275h0m672-362h0m193-134h0m-2488,62h0m385,383h0m480,214h0m961-241h0m-1814-264h0m480,258h0m193-6h0m288,259h0m865-240h0m192-114h0m289-177h0m96-2h0m-1142,564h0m1346-477h0m-2584-212h0m192,134h0m1730,274h0m-1238,153h0m577,80h0m385-116h0m192-71h0m192-210h0m96-79h0m-1430,392h0m673,140h0m961-566h0m-853,448h0m961-563h0m288,21h0m-2295,291h0m192,60h0m673,325h0m-469-99h0m288,93h0m289-21h0m96-50h0m480-215h0m769-317h0m-2775-76h0m288,305h0m192,48h0m385,226h0m1465-401h0m192-161h0m-2199,62h0m769,431h0m192,134h0m384-106h0m96-161h0m-180,94h0m384-65h0m-1910-366h0m1057,564h0m96-8h0m192-16h0m-1430-493h0m288,81h0m97,153h0m96,27h0m384,98h0m1681-522h0m-1911,526h0m288,97h0m1057-249h0m97-75h0m192,107h0m288-267h0m96-170h0m-2487,145h0m288,249h0m96-31h0m193,181h0m384,162h0m1538-651h0m-1911,507h0m96,100h0m577,14h0m673-170h0m480-494h0m-1910,620h0m672,166h0m289-56h0m96-195h0m961-550h0m-2487,396h0m1634,24h0m288,102h0m385-411h0m192-165h0m-85,108h0m-2583,38h0m865,707h0m576-123h0m97,26h0m961-608h0m-1527,586h0m193,40h0m192,16h0m96-141h0m961-557h0m289,101h0m-2680-45h0m1634,498h0m96-106h0m577-303h0m-2296-89h0m97,56h0m96,125h0m96,9h0m192,278h0m673,221h0m384-203h0m97,38h0m865-526h0m-2392,51h0m1538,497h0m192-168h0m289-98h0m288-226h0m96,197h0m-2391,0h0m384,91h0m673,381h0m192-131h0m1346-605h0m-2776,69h0m192,125h0m481,398h0m384,67h0m97,144h0m384-150h0m1057-610h0m-1430,518h0m96,113h0m96,137h0m577-350h0m289-154h0m-2200-48h0m577,82h0m96,97h0m192,210h0m481-60h0m1154-390h0m96-93h0m-2584,24h0m96-66h0m96,10h0m865,576h0m962-196h0m-1142,59h0m96,240h0m192-79h0m-277,13h0m1058-392h0m192,33h0m-1719-10h0m577,380h0m192,21h0m481-292h0m96,5h0m-1719-315h0m1250,669h0m96-129h0m865-394h0m192-183h0m97-67h0m-2488-12h0m192,175h0m385,369h0m384-52h0m289,240h0m192-216h0m288,40h0m865-506h0m-2295,217h0m288,208h0m96,74h0m289,149h0m769-253h0m577-317h0m384,14h0m-2584,53h0m385,361h0m577,55h0m-277-51h0m384,205h0m673-336h0m-1815-316h0m481,391h0m1346-97h0m673-271h0m96,87h0m-2007,405h0m577,118h0m192,88h0m96-117h0m96-210h0m96-19h0m96,17h0m193-93h0m96-62h0m480-171h0m-2583,124h0m96,9h0m480,322h0m193-2h0m288,215h0m769-318h0m384-214h0m-1814,41h0m576,398h0m193,37h0m865-465h0m192,127h0m192-313h0m192-53h0m-2679,97h0m480,199h0m289,416h0m96-309h0m480,270h0m1346-632h0m-2680-61h0m96,258h0m962,404h0m96,66h0m1442-517h0m-2200-17h0m97,193h0m384,90h0m1153-224h0m193-56h0m384-63h0m192,58h0m-2487,54h0m96-88h0m384,435h0m673,5h0m-1045-452h0m192,293h0m192,206h0m385-166h0m96,120h0m576-472h0m-661,405h0m96,118h0m96-158h0m-1238-401h0m385,101h0m481,295h0m576,189h0m-757-286h0m481,212h0m384-131h0m-1526-437h0m192,13h0m384,204h0m385,339h0m769-428h0m96,2h0m577-400h0m-2392,55h0m481,405h0m192,171h0m96,38h0m289,221h0m576-1815h0m673,1067h0m-157,145h0m-1334,482h0m769-16h0m288-446h0m-2103-145h0m288,259h0m769,217h0m577-46h0m96,43h0m96-71h0m481-425h0m480,36h0m-2679-1h0m288,231h0m96,90h0m385,179h0m480,149h0m577-432h0m-1142,270h0m-649-510h0m192,227h0m577,285h0m576-127h0m961-434h0m-1910,416h0m288,4h0m577,336h0m288-162h0m288-296h0m-1814-296h0m1730,341h0m673-459h0m-758,608h0m289-288h0m673-112h0m-2584-52h0m96,27h0m96,152h0m673,252h0m673-18h0m288-228h0m481-406h0m288,191h0m-2680-129h0m289,120h0m192,290h0m961,106h0m96-10h0m1154-726h0m-2199,658h0m480,276h0m865-358h0m385-145h0m192-58h0m-1238,530h0m1346-729h0m96,0h0m-373,306h0m385-292h0m96-192h0m-1815,875h0m1826-592h0m-2679,94h0m96,36h0m672,427h0m97-61h0m384,298h0m673-601h0m-1526,181h0m96,78h0m673,195h0m865-469h0m96,3h0m-1815,254h0m673,129h0m288,124h0m577-340h0m192-72h0m-1718-8h0m96,76h0m577,338h0m865-239h0m769-426h0m-2007,540h0m769,96h0m96-75h0m480-318h0m-1141,398h0m1057-469h0m384,1h0m193-312h0m-2584,134h0m481,373h0m288,167h0m961,33h0m-1430-388h0m288,199h0m289,236h0m192-27h0m480-12h0m193-8h0m480-403h0m-2103-175h0m289,201h0m384,263h0m577,114h0m577-303h0m-1911-200h0m865,439h0m192-70h0m961-222h0m-1045,457h0m1057-521h0m577-184h0m-2392,151h0m1634,121h0m-469,645h0m385-573h0m769-262h0m-1527,536h0m481,93h0m769-417h0m288-205h0m-2295,156h0m961,459h0m492-84h0m1058-579h0m-2776,64h0m481,210h0m192,145h0m576,102h0m385,52h0m769-534h0m-1430,459h0m673,10h0m96-57h0m384-158h0m-1622,71h0m288,66h0m865,167h0m289-205h0m576-400h0m-1814,457h0m672,255h0m97-20h0m96-52h0m-1431-412h0m289,114h0m865,278h0m1442-596h0m-2296,284h0m962,189h0m480,7h0m577-329h0m96-105h0m-2584-64h0m673,487h0m96-99h0m481,219h0m961-413h0m-1911-28h0m193,241h0m576,140h0m577-96h0m288-148h0m289-146h0m192-79h0m-1815,346h0m577,479h0m192-179h0m385-148h0m865-588h0m-2584-18h0m96,120h0m1827,344h0m96-162h0m-2007-156h0m1442,413h0m192-59h0m288-311h0m193,87h0m-2200-106h0m481,139h0m481,399h0m769-156h0m288-151h0m673-436h0m96,119h0m-2199,411h0m96-145h0m673,195h0m576-109h0m577-309h0m-2295,99h0m192,88h0m2030-97h0m-2391-23h0m96-121h0m1442,604h0m384-305h0m192-121h0m289-159h0m-1719,434h0m481,153h0m192-125h0m96,123h0m192-55h0m481-308h0m385-211h0m288-307h0m-723,585h0m-2103-223h0m1250,645h0m577-100h0m384-500h0m288,17h0m-2391,6h0m481,274h0m576,261h0m289,48h0m1057-648h0m192,11h0m-2391,295h0m1826-25h0m96-142h0m-1910-7h0m1345,453h0m-373,79h0m96-11h0m97-4h0m961-391h0m288-159h0m-2583-28h0m96,99h0m96,71h0m673,518h0m288,72h0m192-37h0m96-178h0m289-215h0m192-145h0m-1719-75h0m193,217h0m672,365h0m385-187h0m481-276h0m-2103-177h0m480,203h0m192,220h0m673,152h0m96,96h0m385-353h0m192-54h0m769-353h0m-2776,27h0m769,444h0m577,319h0m288-266h0m-1430-241h0m192,41h0m481,179h0m-469-304h0m384-617h0m673,1101h0m-1142-572h0m385,248h0m769,268h0m192-84h0m288-214h0m-1910-237h0m865,525h0m192,247h0m769-475h0m192,45h0m385-507h0m-2392,116h0m385,197h0m1345,185h0m769-421h0m-1238,610h0m385,100h0m288-224h0m577-414h0m-2584-131h0m96,244h0m289,109h0m1057,409h0m96-111h0m577-229h0m384-213h0m97-83h0m-2392,124h0m2307-68h0m96-31h0m-2487-96h0m769,744h0m769-232h0m768-338h0m289-109h0m-2680,56h0m865,611h0m385-119h0m480,110h0m961-671h0m-2679,147h0m384,67h0m577,421h0m384,105h0m193,25h0m288-378h0m769-396h0m192-107h0m-2103,606h0m96-57h0m96,187h0m865-216h0m289-171h0m384-176h0m-2391,65h0m192,82h0m289,24h0m1441,37h0m673-252h0m-2007,547h0m1538-341h0m192-233h0m289,66h0m-2392,270h0m97-26h0m768,415h0m962-489h0m-1911,42h0m961,346h0m-757-324h0m480,111h0m385,41h0m-277,151h0m96-75h0m385,197h0m480-330h0m673-449h0m-1142,706h0m289-156h0m192-160h0m192-259h0m385,10h0m-2296,26h0m1154,325h0m576-143h0m-1814-317h0m577,381h0m96,21h0m384,255h0m769-418h0m288-57h0m-2103,47h0m673,275h0m385,276h0m673-547h0m96,39h0m96-22h0m480-415h0m-1910,663h0m576,94h0m962-406h0m96-128h0m-1623,305h0m192,219h0m289,142h0m480-206h0m385-90h0m-1238,24h0m192,184h0m1730-769h0m-2679,123h0m1153,624h0m385-39h0m384-127h0m-1911-380h0m673,238h0m1346-124h0m96,69h0m192-137h0m-1718,134h0m1249,262h0m385-327h0m288-264h0m96-82h0m-469,299h0m481-260h0m-1815,629h0m1057-148h0m289-107h0m288-240h0m288,67h0m-2487,42h0m577,407h0m288,84h0m-565-337h0m288,290h0m481-38h0m192,104h0m577-413h0m96-137h0m-1526,271h0m961,161h0m288-264h0m96-72h0m577-224h0m-2007,156h0m865,579h0m769-683h0m385,80h0m-2584,63h0m769,311h0m865-45h0m-1526-450h0m288,222h0m577,521h0m865-360h0m288-294h0m289,187h0m288-341h0m-1911,686h0m792,138h0m289-329h0m288-270h0m192-162h0m193,148h0m-2103,341h0m865,327h0m-950-699h0m192,304h0m96,44h0m96,136h0m385,54h0m288,80h0m865-469h0m193-87h0m288,71h0m-2199-7h0m288,301h0m1058,9h0m96-153h0m96-75h0m288-333h0m-2237-13h0m2018,269h0m97-181h0m96,6h0m-1623,325h0m96,240h0m481-18h0m577-288h0m96,226h0m-1815-507h0m385,429h0m288,195h0m288,42h0m769-227h0m577-379h0m288,57h0m-2391,113h0m1538,244h0m288-224h0m-2103-257h0m192,161h0m385,208h0m-169,83h0m1346,1h0m576-264h0m289-33h0m-1623,394h0m1058-511h0m192,115h0m-565,302h0m288-83h0m288-222h0m385-66h0m-2776-224h0m192,307h0m193,68h0m480,328h0m481,62h0m576-125h0m97-191h0m769-122h0m-2776-75h0m1922,318h0m577-277h0m192-167h0m96,131h0m-1718,494h0m107,82h0m1058-503h0m576-171h0m-2103,536h0m673,159h0m385-345h0m576-198h0m-1814,256h0m769,90h0m192,151h0m480-466h0m-853,396h0m-950-605h0m769,563h0m193,312h0m288-213h0m-1430-731h0m480,154h0m289,415h0m769,89h0m384-251h0m481-475h0m-2392,154h0m289,71h0m192,146h0m192,116h0m481,200h0m673-325h0m780-407h0m-2583,198h0m480,17h0m96,158h0m289,256h0m192,63h0m1442-494h0m-758,337h0m577-401h0m12,45h0m384-211h0m-2680,119h0m193,1h0m96,140h0m384,320h0m289,19h0m96,80h0m-950-501h0m577,434h0m961-97h0m96,106h0m385-408h0m-1334,483h0m96-1h0m288,20h0m96,69h0m769-265h0m96-298h0m481-157h0m96-9h0m-2295,277h0m576,350h0m385,53h0m1250-719h0m-2200,413h0m865,247h0m1346-572h0m-180,102h0m192-137h0m-2680-77h0m96,95h0m96,29h0m96,153h0m481,282h0m1538-439h0m-1911,234h0m288,339h0m769,43h0m769-546h0m289-163h0m-2296,328h0m289-56h0m865,344h0m769-335h0m-1430,164h0m96,119h0m96,179h0m384,6h0m193-15h0m384-199h0m192-323h0m-853,588h0m288-80h0m481-249h0m769-209h0m-2776-90h0m96,80h0m2307-182h0m-2007,283h0m577,516h0m480-185h0m385-161h0m96-125h0m577-350h0m288,13h0m-2776,91h0m769,448h0m385,37h0m769-72h0m288-229h0m-2103-301h0m192,164h0m288,162h0m289,157h0m384,125h0m673-193h0m865-524h0m-2391,396h0m673,439h0m769-174h0m-1623-622h0m673,555h0m96,131h0m961-317h0m96,22h0m673-348h0m-2007,408h0m289,352h0m961-368h0m-1815-456h0m193-28h0m288-353h0m1249,942h0m-1334-37h0m289,115h0m961,6h0m384-263h0m577-228h0m-2007,475h0m481,141h0m96,41h0m96,60h0m385-295h0m865-333h0m-2488-39h0m96,32h0m1538,316h0m577-292h0m-2007,97h0m96,88h0m1346,267h0m769-540h0m96-42h0m-2476,184h0m481,496h0m323,99h0m961-314h0m384-223h0m-2103,110h0m97-74h0m384,224h0m384,242h0m289-90h0m769-443h0m-1719,231h0m865,340h0m962-420h0m-758,345h0m385-169h0m96-68h0m192-75h0m577-193h0m-2296,340h0m289,199h0m192-164h0m385,307h0m96-201h0m576-426h0m-1045,491h0m769,30h0m384-394h0m-1430,269h0m769-18h0m96-41h0m481-169h0m-1719,12h0m481,253h0m192,95h0m1249-511h0m193-80h0m192-141h0m96,190h0m-2776,116h0m289-229h0m288,460h0m192-73h0m-757-419h0m96,194h0m1057,567h0m385-77h0m96-83h0m1057-450h0m-661,81h0m-1622-1h0m96,140h0m384,365h0m481,107h0m384-321h0m192-260h0m97,134h0m480-328h0m-853,500h0m673-320h0m96,32h0m192-145h0m192,80h0m-2680,42h0m96,82h0m1154,319h0m288-13h0m865-454h0m-2487-19h0m1634,594h0m-854-50h0m577,64h0m96-23h0m769-489h0m96,142h0m-1910-8h0m288,213h0m192,69h0m1250-357h0m480-129h0m-1622,513h0m865-190h0m288-303h0m-84,112h0m384-254h0m-2007,377h0m481,249h0m288,106h0m96-276h0m289,68h0m769-513h0m192-34h0m-2584,141h0m577,317h0m192,14h0m577,142h0m96,128h0m769-535h0m-1322,263h0m96,82h0m288,136h0m769-317h0m192-53h0m193-251h0m192-101h0m-1911,629h0m192-170h0m96,190h0m193,35h0m384-125h0m192-130h0m193,30h0m288-241h0m192-113h0m-1526,475h0m288,93h0m769-282h0m385-172h0m-2392-225h0m481,397h0m192,31h0m289,201h0m1826-590h0m-2392,198h0m97,85h0m1249,236h0m385-168h0m-1142,301h0m384-90h0m1250-487h0m-1815,475h0m385,123h0m384-62h0m865-376h0m385-227h0m-2680,84h0m192-23h0m192,204h0m396,354h0m962-167h0m96-92h0m-1815-176h0m2211,20h0m384-160h0m-84-55h0m-2007,352h0m481,272h0m192,91h0m96-151h0m961-442h0m192-90h0m-2391,191h0m1634,307h0m96-232h0m769-341h0m96-32h0m-2295,400h0m481,91h0m576,213h0m481-189h0m288-286h0m192-111h0m97,53h0m96-91h0m-2199,401h0m96-202h0m769,410h0m192-226h0m96,213h0m96-126h0m769-421h0m-2487-40h0m96,178h0m96-65h0m865,662h0m288-238h0m289-76h0m384-170h0m192-140h0m481-143h0m-2295,341h0m1057,210h0m96-181h0m96,42h0m-1238-289h0m673,362h0m-1046-385h0m96-147h0m289,213h0m96,110h0m192,107h0m673,219h0m865-389h0m192-274h0m-2391,101h0m673,179h0m961,262h0m-638,133h0m192-85h0m673-228h0m192-140h0m96-39h0m-1910,97h0m384,166h0m96,145h0m769,138h0m481-385h0m192-127h0m-2007-127h0m769,454h0m577-73h0m961-471h0m96,60h0m96,1h0m-2680-70h0m385,211h0m1153,345h0m385-236h0m96-228h0m-1430,442h0m673,297h0m769-630h0m96,19h0m480-248h0m-2583,9h0m769,572h0m96-79h0m96,248h0m1153-591h0m-1910,160h0m288,229h0m192,34h0m385,125h0m96-5h0m96,81h0m192,1h0m96-208h0m1058-532h0m-2584,129h0m384,131h0m289,385h0m384,183h0m96-189h0m769-329h0m481-422h0m-661,577h0m288-133h0m192-81h0m193-48h0m288-68h0m-1719,490h0m865-126h0m97-16h0m288-339h0m-1815,277h0m192,188h0m769,80h0m673-364h0m673-282h0m-565,227h0m385-192h0m-2488,110h0m481,286h0m-566-188h0m866,558h0m288-95h0m1249-505h0m-1814,70h0m1538,50h0m576-267h0m-2583,152h0m480,144h0m193,310h0m576-83h0m289-50h0m-758,192h0m962-185h0m-1815-557h0m481,501h0m865,101h0m1345-521h0m-1814,430h0m576-72h0m385-163h0m769-251h0m-2584,159h0m192,71h0m193,31h0m192,230h0" stroke="#ff7f0e" stroke-width="23"/><path d="M9431 1529h0m481,97h0m576-31h0m-2103-355h0m289-203h0m672,460h0m193,258h0m384,205h0m481-363h0m-2392-1574h0m96,672h0m481,667h0m577,79h0m192,207h0m865,115h0m-2199-401h0m192-124h0m385-121h0m384,296h0m1346,233h0m-2103-415h0m288-228h0m289,430h0m1153,438h0m96-55h0m96,67h0m-2295-365h0m961-194h0m96-13h0m865,468h0m193,59h0m384-157h0m-2391-341h0m1538,253h0m288,195h0m204-18h0m577-139h0m-2680-152h0m1249-84h0m1442,155h0m96-29h0m-2583-70h0m865-100h0m192,129h0m384,391h0m-757-643h0m288,253h0m1058,368h0m-2103-369h0m480-365h0m865,510h0m1154-59h0m-2295-381h0m192,105h0m480-45h0m577,622h0m192,113h0m193-273h0m384,85h0m-2103-518h0m769-130h0m769,512h0m288,79h0m-2103-355h0m96-9h0m962-7h0m576,296h0m769,12h0m-1814-400h0m384-85h0m865,332h0m192,198h0m577-155h0m96-114h0m-1622-149h0m96,329h0m288,31h0m1346-273h0m-2487-56h0m480-269h0m577,449h0m192,13h0m385,264h0m-758-570h0m289,276h0m288,171h0m-1142-533h0m288,15h0m289,284h0m577,268h0m-1623-513h0m288-28h0m385,72h0m288,119h0m481,227h0m480,19h0m289,12h0m96,57h0m192-292h0m-2680-80h0m97-21h0m288-96h0m192-133h0m300-20h0m673,494h0m192-95h0m289,215h0m192-6h0m192-84h0m192,2h0m-2487-128h0m192-396h0m961,214h0m1250,445h0m-2488-371h0m96-114h0m1154,76h0m192-19h0m385,409h0m672-106h0m97-118h0m192-71h0m-373,136h0m-2199-313h0m107-22h0m769-11h0m193,56h0m1057,240h0m-2391-270h0m480,15h0m385-152h0m865,408h0m1080-7h0m-2679-334h0m865,139h0m865,457h0m-1815-442h0m673-396h0m878,443h0m289,347h0m-1815-379h0m865-422h0m192,368h0m97,30h0m1634,119h0m-2392-435h0m1250,442h0m96,176h0m96,17h0m96,5h0m96,12h0m577-177h0m-2680-357h0m192-38h0m97,151h0m384-285h0m288,94h0m577,294h0m192,125h0m-1622-247h0m192-200h0m769,6h0m289,235h0m288,222h0m1057-30h0m-2680-173h0m577-134h0m577-47h0m1153,443h0m-2103-531h0m289,67h0m96,20h0m192-235h0m577,390h0m865,156h0m96,155h0m96-199h0m-950-40h0m193,189h0m384-15h0m385,114h0m-2392-387h0m193-320h0m96,291h0m192-145h0m288-254h0m1250,797h0m384,37h0m96-209h0m193-44h0m-2584-255h0m288-304h0m1346,820h0m396,1h0m-2199-512h0m384-49h0m97-178h0m288,182h0m96,61h0m192-52h0m96-67h0m97,332h0m672,279h0m97-109h0m192,38h0m577-221h0m-2680-211h0m480-79h0m481,59h0m96,47h0m288,130h0m-1430-26h0m96-202h0m1154,194h0m96,97h0m96,5h0m192,62h0m577,211h0m288-21h0m193-177h0m96-334h0m-2776,69h0m577-19h0m576,111h0m289,80h0m384,414h0m288-189h0m385-5h0m192-209h0m-2487-230h0m288-23h0m288-144h0m193,178h0m576,280h0m-469-208h0m289,162h0m480,193h0m481,127h0m192-160h0m192-175h0m-2583-232h0m769,104h0m384,135h0m289,114h0m865,42h0m-1815-440h0m96,5h0m96-38h0m289,100h0m96-143h0m480,564h0m96-111h0m385,39h0m-2199-275h0m480-382h0m96,132h0m1058,491h0m288,92h0m192,159h0m673-509h0m-2487,7h0m192-165h0m288,69h0m96-71h0m866,553h0m-1623-324h0m673-420h0m769,677h0m-1238-365h0m384-154h0m1250,824h0m192,12h0m577-291h0m-2103-360h0m577,169h0m672,309h0m97-46h0m192,75h0m-1011-325h0m192,246h0m385,59h0m-1719-78h0m385-445h0m192-133h0m288,140h0m1058,483h0m865-182h0m-2680-62h0m384-209h0m1634,368h0m193,233h0m-2296-432h0m1058-56h0m96,9h0m-854-75h0m1827,463h0m192,38h0m-2007-539h0m481-19h0m961,504h0m-1334-502h0m673,227h0m576,299h0m865,77h0m-2487-404h0m384-286h0m1634,645h0m96-189h0m97-14h0m288,114h0m288-279h0m-2583-97h0m1730,448h0m577,53h0m-2584-469h0m865-110h0m384,18h0m-661-40h0m96-88h0m481,283h0m1250,450h0m-950-437h0m96,415h0m96-188h0m-1526-404h0m384-95h0m289,141h0m1249,618h0m-2007-433h0m962-259h0m96,181h0m96-112h0m288,353h0m673,245h0m192,65h0m-949-442h0m-854-310h0m481,271h0m192,31h0m481,165h0m769,225h0m-2007-644h0m1730,669h0m96-57h0m-2103-429h0m1153,160h0m865,327h0m97-100h0m-2296-241h0m481-249h0m288-152h0m385,143h0m192,343h0m865,253h0m481-244h0m-1046,60h0m384,257h0m193,96h0m-2103-445h0m576-420h0m96,139h0m1058,504h0m576,24h0m97,9h0m-1623-742h0m865,786h0m-1622-559h0m577-155h0m384,168h0m192,99h0m1250,180h0m-2392-137h0m289-194h0m673,132h0m961,418h0m96,15h0m-1911-504h0m1634,481h0m481-174h0m-2199-362h0m1057,47h0m192,62h0m385,124h0m192,343h0m96,8h0m96-155h0m-1622-426h0m384-30h0m385,198h0m-1238,39h0m1442,120h0m480,88h0m577,29h0m96-151h0m-1622-194h0m-662-213h0m1058,483h0m96,105h0m96,2h0m96-146h0m288,141h0m-1526-481h0m577,130h0m96,77h0m288,33h0m385,283h0m288-17h0m-2103-536h0m1057-13h0m97,74h0m384,277h0m192,199h0m192,14h0m577-86h0m-2103-536h0m289,18h0m-373,83h0m2018,733h0m192-314h0m-2295-515h0m865,176h0m1058,381h0m-662-54h0m1058,68h0m96-27h0m-1815-455h0m577,165h0m384,275h0m289,139h0m-1911-563h0m1922,600h0m-1911-643h0m289,144h0m96-153h0m384,96h0m481,127h0m1153,74h0m-2583-28h0m288-286h0m481,81h0m288-49h0m481,338h0m96,57h0m-757-437h0m865,544h0m-566-488h0m97,202h0m-1238,125h0m673-331h0m96,27h0m961,465h0m961-139h0m-2295-505h0m384,150h0m96-53h0m673,242h0m673,303h0m-1622-509h0m961,293h0m865,155h0m192-244h0m-2103-182h0m192-82h0m962,586h0m384,15h0m-1911-563h0m577-80h0m673,350h0m-1430-90h0m961-385h0m192,371h0m192,84h0m1154,98h0m-1911-611h0m384,179h0m1058,588h0m769-421h0m-2680-30h0m1057-35h0m865,511h0m385-12h0m-1238-484h0m961,362h0m192-121h0m-2295-207h0m385-310h0m1057,522h0m288,159h0m481-81h0m192,84h0m-1911-451h0m1477,632h0m577-289h0m-2488-259h0m673-48h0m96,129h0m300,127h0m577,266h0m480-97h0m-2007-361h0m97-72h0m288-97h0m1826,473h0m96,3h0m-1718-355h0m96-82h0m480,311h0m769,319h0m-949-387h0m96-229h0m384,359h0m-1718-28h0m480-319h0m97-163h0m672,73h0m1154,589h0m-2392-393h0m385-124h0m865,284h0m1250,109h0m-2392-297h0m96-4h0m96-8h0m1154,327h0m192-191h0m-1334-337h0m192,85h0m1346,651h0m769-320h0m-2584-107h0m96-21h0m673-108h0m193,139h0m288,86h0m1153,284h0m-2295-398h0m96-52h0m-180,242h0m1634,146h0m865-28h0m-2488-228h0m492-337h0m96,34h0m385,131h0m-1046,334h0m96-189h0m96-192h0m1935,564h0m480-49h0m96-186h0m-2295-366h0m1250,528h0m576,194h0m-2103-640h0m385-133h0m576,229h0m1346,384h0m385-118h0m-2776,45h0m576-392h0m769,315h0m1250-5h0m-2680,4h0m2403,59h0m-1814-506h0m96-92h0m769,469h0m1153,190h0m-2584-254h0m1058-170h0m384,168h0m577,459h0m384-224h0m289-199h0m-2680,11h0m96-62h0m192-39h0m481-180h0m384,107h0m108,75h0m289,363h0m96-40h0m673,22h0m-1623-602h0m865,486h0m96,136h0m193-61h0m192-58h0m96,303h0m96-128h0m288-137h0m193-137h0m-950,270h0m108,62h0m-1527-540h0m193-69h0m1173,582h0m865-253h0m-1622-379h0m384,422h0m961,52h0m-2199-268h0m481-386h0m288,124h0m96,31h0m673,507h0m-1526-402h0m769-73h0m96-67h0m192,129h0m96,8h0m1346,254h0m-1491-280h0m96,26h0m288,105h0m769,172h0m96,142h0m192,45h0m96-300h0m97,35h0m-2200-434h0m673,408h0m865,228h0m481-261h0m-2199-377h0m1922,509h0m289,109h0m-2488-392h0m192-131h0m192-46h0m685,92h0m96,132h0m769,428h0m-1719-584h0m193-83h0m288,62h0m385,11h0m672,367h0m97,5h0m96,80h0m96,111h0m192-217h0m-2295-267h0m2787,47h0m-853,346h0m576-94h0m193-125h0m-854,250h0m-1911-352h0m2211,447h0m481-225h0m-2295-690h0m192,190h0m384,184h0m289,171h0m865,245h0m480,53h0m-1911-749h0m1635,694h0m288-125h0m-2295-299h0m96-155h0m1153,335h0m192,176h0m97,59h0m96-25h0m-1142-393h0m1730,245h0m192-54h0m-2391-246h0m384-88h0m289-8h0m96,8h0m-1046,170h0m288-169h0m385,46h0m288,19h0m1730,288h0m-2679-220h0m769-94h0m1441,608h0m193-217h0m-2392-246h0m96-86h0m962,62h0m384,115h0m288,301h0m-949-683h0m769,585h0m865-17h0m-2199-527h0m1634,556h0m384,100h0m193-9h0m192-123h0m-2584-324h0m96-53h0m2596,191h0m-2488-335h0m769,105h0m769,525h0m384,133h0m-2007-837h0m1731,672h0m672-99h0m-2295-398h0m481-182h0m577,512h0m96-134h0m96,31h0m769,276h0m-1911-603h0m384,96h0m289,85h0m96,41h0m673,366h0m384-32h0m-1814-362h0m480-154h0m192-22h0m1154,645h0m480-166h0m-2006-420h0m576,167h0m577,399h0m288,64h0m-2199-370h0m769-88h0m300-213h0m1057,703h0m-1910-436h0m96-97h0m480-37h0m1154,610h0m384-275h0m193,84h0m-2488-118h0m481-323h0m672,258h0m1346,146h0m-2103-425h0m481-14h0m384,436h0m577,251h0m384-95h0m289-75h0m192-169h0m-2680-199h0m577-106h0m384-80h0m1442,589h0m-2487-398h0m288-28h0m192-55h0m1058,281h0m96,237h0m96-76h0m384,8h0m193,115h0m-1911-527h0m865,127h0m1442,166h0m-2199-428h0m576,53h0m96,13h0m193,277h0m288-133h0m192,245h0m96,170h0m577-173h0m-1622-467h0m672,435h0m97-93h0m-1046-275h0m673,59h0m769,442h0m288,85h0m-2007-575h0m577-39h0m96-23h0m96,121h0m769,453h0m96-109h0m96,123h0m577-360h0m-2584,20h0m2211,242h0m96,89h0m-1718-737h0m384,186h0m1154,605h0m-1623-752h0m385,46h0m-277,88h0m-85-32h0m-84,63h0m1346,436h0m192,92h0m288-88h0m-1814-374h0m1345,461h0m108-88h0m96,46h0m-1430-584h0m192-9h0m481,231h0m673,210h0m480-22h0m288-101h0m-2295-202h0m192-138h0m673,298h0m96,6h0m577,270h0m96,129h0m193-164h0m-854-135h0m192,115h0m577-35h0m192-1h0m-1238-394h0m-349-74h0m480,345h0m192,138h0m97-237h0m-662-383h0m289,305h0m1538,102h0m96,104h0m-2776-212h0m288-105h0m577-82h0m961,598h0m577-42h0m-1911-496h0m288-114h0m97,77h0m192,151h0m1538,240h0m-1719-256h0m481,197h0m288,98h0m385,226h0m-1142-609h0m96,28h0m673,411h0m769-93h0m-662,153h0m866-301h0m-950,284h0m1057-364h0m-1910-292h0m480,481h0m481,85h0m192,140h0m288,30h0m481-438h0m-1526-74h0m576,497h0m-1526-499h0m673-26h0m673,468h0m480,73h0m-565-306h0m481,259h0m-2007-261h0m192-265h0m288-42h0m962,518h0m-1334-376h0m288,20h0m1346,320h0m-565-173h0m96,59h0m384,291h0m192-208h0m289,159h0m576-172h0m-2295-309h0m673,246h0m1057,108h0m577-40h0m-1430-164h0m384,302h0m193,52h0m96,127h0m-2007-510h0m480-309h0m1154,521h0m96,15h0m288,65h0m-1814-401h0m384-267h0m769,515h0m865,247h0m-2007-211h0m1634,284h0m289,33h0m96-42h0m577-204h0m-2680-274h0m1153-31h0m192,367h0m866,274h0m384-304h0m-2295-440h0m1153,543h0m865,63h0m96,2h0m-2295-411h0m385-261h0m384,294h0m1250,352h0m480-389h0m-2295-295h0m192,277h0m1250,343h0m288,147h0m-757-355h0m865,311h0m288-103h0m-1526-539h0m384,346h0m-1430-98h0m192-27h0m481-308h0m96-75h0m-84,141h0m1922,590h0m-2391-357h0m672-50h0m1827,254h0m96-5h0m-2295-382h0m1345,669h0m673-200h0m-2487-410h0m576,7h0m96,73h0m577,165h0m96-27h0m385,287h0m96,125h0m288-93h0m192,106h0m-1995-488h0m1250,286h0m288-32h0m-1815-123h0m97-161h0m192-112h0m192-163h0m1442,684h0m673-133h0m-2572-140h0m480-331h0m481,186h0m96-34h0m1346,264h0m-2392-307h0m481-6h0m96-166h0m288,234h0m193,50h0m961,578h0m96-148h0m96,105h0m-2295-290h0m576-452h0m962,533h0m96,30h0m288,49h0m-2007-189h0m96-268h0m2596,340h0m-2488-278h0m192-97h0m1923,568h0m-2007-453h0m961,91h0m481,295h0m865-218h0m-2488-77h0m2692,139h0m-1527-104h0m289,113h0m288,209h0m577-101h0m96-6h0m-1719-462h0m96,107h0m865,314h0m193,213h0m-662-455h0m385,403h0m96-35h0m673-48h0m192,59h0m192-164h0m-1910-417h0m1153,638h0m-1911-445h0m289-262h0m96-161h0m192,99h0m577,391h0m576,222h0m-1622-278h0m1057,149h0m673,222h0m96,107h0m108-25h0m-1719-607h0m385-17h0m96,104h0m1465,412h0m192-123h0m-1911-595h0m481-12h0m673,749h0m384-85h0m-661,126h0m-1334-528h0m288-75h0m577,189h0m96-8h0m96-98h0m385,306h0m192,153h0m396-40h0m-1622-534h0m96-86h0m577,390h0m1153,159h0m-1622-442h0m480,93h0m96,86h0m193,379h0m-1431-406h0m97-133h0m192-150h0m480,25h0m-661,25h0m577-5h0m96-1330h0m96,724h0m288,867h0m289,223h0m577,135h0m-2200-356h0m865-222h0m1058,292h0m769-29h0m-1430-82h0m480,226h0m673-3h0m-1622-346h0m576,235h0m289,196h0m192-12h0m96-37h0m96,105h0m673-277h0m-2584-189h0m96,3h0m97-88h0m1538,383h0m480,62h0m385-104h0m-2776,1h0m384-408h0m2019,428h0m288-110h0m-2391-461h0m673,33h0m288,330h0m673,402h0m96-38h0m577-63h0m-2007-479h0m576,54h0m1154,519h0m-661-181h0m192,257h0m769-200h0m-2007-519h0m204-24h0m192,118h0m481,321h0m384,192h0m673-98h0m-2391-225h0m1345,105h0m96,191h0m193-53h0m672-18h0m-1238-160h0m385,133h0m481,154h0m384-235h0m-2391-252h0m96,153h0m384-346h0m96,17h0m1058,684h0m-1623-525h0m481-97h0m480,203h0m769,344h0m289-41h0m96,156h0m-2007-492h0m865-166h0m577,316h0m673,309h0m192-102h0m-1238-278h0m1538-54h0m-1623-117h0m481,435h0m577-74h0m480-107h0m-2295-232h0m385,39h0m961,261h0m96,34h0m192,82h0m96,203h0m-1814-746h0m192,120h0m192-333h0m481,512h0m96-35h0m288,261h0m865-59h0m289-255h0m-2776,90h0m1634,167h0m384,97h0m481-27h0m192-84h0m-2680-130h0m192,27h0m97-282h0m96,30h0m576-119h0m289,216h0m96,247h0m192-89h0m-1238-238h0m1827,465h0m192,126h0m384-391h0m-2295-248h0m96-116h0m673,304h0m384,186h0m289,242h0m-1719-430h0m96,30h0m1058,138h0m1153,291h0m-1718-530h0m288-130h0m480,458h0m-1045-407h0m1249,403h0m385-71h0m96,231h0m96,164h0m288-298h0m-2391-247h0m288-206h0m962,143h0m-662-304h0m577,387h0m-757-302h0m204,28h0m-277-43h0m1153,524h0m961-103h0m-1814-315h0m288,36h0m481,322h0m96-51h0m288,145h0m96,137h0m96,89h0m673-536h0m-2776,42h0m97-128h0m192-69h0m1538,592h0m288-37h0m288,56h0m97-244h0m288,55h0m-1526-69h0m-565-306h0m672,245h0m289,153h0m480,194h0m385-268h0m-1142-159h0m96,131h0m-373-263h0m385,263h0m107,238h0m289-1h0m480,55h0m-2199-580h0m96-54h0m577,143h0m96-137h0m1296,590h0m289,28h0m-1623-557h0m481,77h0m1345,262h0m-2295-126h0m481-106h0m1538,535h0m-2103-492h0m961-92h0m1249,484h0m-2487-408h0m192,20h0m865,117h0m577,283h0m-1430-571h0m961,223h0m384,212h0m289,202h0m384-23h0m-1430-660h0m288,232h0m193,94h0m-1238-17h0m192-264h0m96-8h0m865,405h0m96-62h0m289,177h0m96-108h0m288,251h0m96-18h0m96-106h0m96-104h0m-2006-184h0m769-64h0m576,266h0m96,61h0m-1622-398h0m96-78h0m1250,421h0m96-105h0m-758-216h0m96-120h0m385,195h0m-950-86h0m289-113h0m-277-99h0m384,162h0m577,282h0m192,9h0m-1141-343h0m192-31h0m1538,596h0m-2103-218h0m288-687h0m577,258h0m577,311h0m384,435h0m673-115h0m-1526-600h0m1249,584h0m-1334-533h0m577,330h0m96,3h0m-757-447h0m96-97h0m192,324h0m480,239h0m385,314h0m865-392h0m-2776-94h0m289-124h0m96-98h0m769-4h0m192,278h0m865,231h0m192-80h0m96-65h0m-2391-335h0m384-200h0m481,197h0m96,91h0m865,531h0m481-180h0m192,31h0m-950,53h0m289-52h0m-1334-478h0m1538,266h0m288,88h0m-2007-313h0m385-133h0m384,338h0m1250,313h0m-1527-570h0m1058,682h0m192-124h0m384-53h0m-2103-550h0m1058,467h0m96-51h0m288,346h0m-1622-624h0m288-106h0m961,499h0m192-17h0m-1622-406h0m96-105h0m673,82h0m673,246h0m192,236h0m-950-658h0m962,497h0m-565-276h0m96,42h0m96,90h0m1153,99h0m-1430-320h0m96,80h0m192,171h0m385,20h0m-85,46h0m865,30h0m97-186h0m-2680-131h0m865-124h0m384,151h0m193,161h0m96,55h0m288-81h0m-1815-23h0m385-453h0m288,108h0m962,479h0m-1238-402h0m1153,297h0m961,30h0m-2007-400h0m1923,457h0m192,102h0m-1815-607h0m289,250h0m288,302h0m96-18h0m481,198h0m-1911-391h0m384-122h0m1346,441h0m577,133h0m288-340h0m96,117h0m-2776-266h0m385-117h0m192-146h0m192,26h0m96,68h0m481,170h0m96,194h0m865,167h0m193-23h0m-2296-381h0m673-93h0m96,67h0m673,369h0m-1334-435h0m96-62h0m481,133h0m865,452h0m-1334-652h0m96-16h0m96,77h0m673,168h0m577,310h0m768-163h0m-2583-1582h0m96,734h0m192,436h0m289,101h0m96-289h0m576,345h0m97,150h0m384,387h0m769-232h0m-1815-666h0m193,295h0m192,53h0m384,297h0m385,291h0m961-493h0m-181,42h0m-2103-250h0m289,22h0m192,111h0m-1046,95h0m865-210h0m289,144h0m192,117h0m384,274h0m96,17h0m289-10h0m-819-266h0m289,199h0m1249-264h0m-1911-272h0m385,257h0m673,451h0m865-396h0m-2488-35h0m1538,346h0m-1718-401h0m192,15h0m288-224h0m577,452h0m1346,225h0m96-339h0m96,152h0m-2584-358h0m481-43h0m11-34h0m577,88h0m481,408h0m96,16h0m192,92h0m-1142-702h0m289,359h0m192,80h0m865,314h0m-1334-707h0m1345,659h0m193-215h0m-2103-399h0m192,223h0m288-343h0m865,745h0m-1045-694h0m96-58h0m865,567h0m-1430-365h0m192,16h0m192,63h0m192-57h0m1058,590h0m-1527-388h0m1634,411h0m866-181h0m-2296-446h0m577,67h0m1250,375h0m-2296-113h0m385-313h0m384-9h0m289,35h0m961,559h0m96-25h0m96,126h0m-373-291h0m289,212h0m192-91h0m480-256h0m-2199-412h0m961,521h0m-1430-117h0m1058-54h0m384,221h0m1153-5h0m97-175h0m-1527-94h0m96,22h0m577,346h0m288-158h0m193,65h0m-2199-401h0m2210,518h0m-2391-355h0m1153-77h0m385,278h0m-1334-473h0m673,145h0m384,240h0m192,57h0m385,308h0m480-145h0m289-200h0m-1719-368h0m289,298h0m1057,225h0m-1142-306h0m769,339h0m385,28h0m-1623-628h0m481,270h0m769,330h0m384,131h0m-1911-677h0m1538,497h0m-1718-331h0m1057,91h0m96-31h0m481,318h0m192,58h0m384-47h0m289-171h0m-2392-361h0m97,228h0m192-104h0m384-56h0m96,146h0m193-78h0m961,546h0m480-300h0m-2668-282h0m673-179h0m673,377h0m673,394h0m384-117h0m193-210h0m96-50h0m-1334,153h0m192,3h0m192,126h0m769,52h0m-2487-398h0m288-159h0m577-58h0m684,366h0m96,155h0m673,58h0m-2295-463h0m192,130h0m673-273h0m865,564h0m769-199h0m192-85h0m-2584-148h0m1346,200h0m289,237h0m672-32h0m-1718-430h0m384,190h0m1058,204h0m288,130h0m192-268h0m-2391-248h0m480,51h0m97-109h0m576,348h0m289,181h0m576,52h0m-2295-125h0m769-461h0m481,260h0m192,45h0m288,472h0m-1814-488h0m288-199h0m96,218h0m1250,64h0m1153-8h0m-2680-108h0m289-182h0m961,367h0m-1334-280h0m961-18h0m288-100h0m1250,412h0m-854,150h0m97-51h0m384,96h0m288-52h0m-1526-619h0m-853,385h0m672-386h0m481,262h0m385,276h0m288,50h0m480,26h0m-2103-493h0m193-28h0m288-93h0m385,107h0m-662-137h0m961,535h0m97-157h0m384,239h0m96,65h0m769-254h0m-661,335h0m577-222h0m-2103-491h0m96,153h0m492,78h0m1346,327h0m192-257h0m-2584,2h0m385-308h0m673,256h0m384,251h0m385,181h0m96-13h0m480-135h0m-2199-521h0m96,62h0m1827,543h0m576-367h0m-2776,24h0m577-387h0m192,164h0m673,376h0m577,199h0m577-253h0m96-22h0m-2680-93h0m288-274h0m385,107h0m1057,397h0m865-35h0m96-39h0m-2776-108h0m1250-76h0m481,356h0m-373-267h0m192-119h0m-1238-307h0m865,215h0m-1142,72h0m1381,6h0m577,396h0m384,121h0m96-242h0m396-108h0m-2680-323h0m1827,538h0m384-13h0m192-178h0m-1910-294h0m961,405h0m-1142-355h0m385-89h0m192,15h0m480,230h0m-949-321h0m1057,380h0m192,417h0m481-134h0m192,3h0m-1815-783h0m589,439h0m480,240h0m289-28h0m384,148h0m-2391-604h0m769-59h0m577,248h0m-1238-148h0m192-33h0m480-243h0m385,233h0m961,552h0m-1046-534h0m1058,278h0m96,72h0m480-267h0m-2391-96h0m385-263h0m769,522h0m288,39h0m577,66h0m-1815-459h0m96-21h0m385,131h0m672,375h0m769-151h0m-180,229h0m-2296-389h0m2307,323h0m193-53h0m192-149h0m96,69h0m-2680-247h0m865-250h0m192,223h0m866,366h0m192,150h0m384-184h0m96-127h0m-2487-166h0m384-86h0m769,286h0m193,0h0m96,78h0m96,28h0m96,28h0m-373-61h0m385,290h0m288-111h0m480-143h0m193-82h0m-2584-289h0m385-125h0m192,23h0m1922,363h0m-1526-41h0m384,182h0m577,54h0m-2199-135h0m96-170h0m1250-10h0m1357,290h0m-2103-494h0m673,247h0m1249,291h0m-2487-359h0m96-108h0m192-55h0m481,150h0m96-103h0m96,46h0m96,120h0m192-63h0m193,336h0m96-117h0m1249-123h0m-2007-211h0m481,272h0m288,124h0m-1334-183h0m96-134h0m1154,396h0m-1142-415h0m1153,246h0m1346,88h0m-2199-461h0m96-29h0m1826,592h0m193-229h0m-1431,259h0m97-197h0m672,352h0m-1238-701h0m97,9h0m1153,424h0m673-156h0m-2680-242h0m96,181h0m192-182h0m481-83h0m288,143h0m193,213h0m672,223h0m193,75h0m96-4h0m288-78h0m-2487-680h0m865,119h0m1345,439h0m-2103-377h0m385,14h0m1249,513h0m193,13h0m576-261h0m-1718-296h0m769,573h0m577-46h0m384-134h0m-2488-259h0m193-116h0m192,1h0m481,136h0m192,61h0m769,300h0m-1911-470h0m1442,101h0m1153,525h0m-2680-341h0m1731,116h0m672,70h0m97-25h0m-2103-569h0m1345,594h0m577,90h0m-854-109h0m-372-555h0m672,487h0m385,148h0m12-28h0m672-374h0m-1622-108h0m577,323h0m-373-125h0m192,77h0m192,238h0m769-118h0m-2283-369h0m769-60h0m1441,401h0" stroke="#2ca02c" stroke-width="23"/><path d="M10191 1507h0m385-404h0m-2680,266h0m96-7h0m384-36h0m97,14h0m2018,55h0m192-4h0m-1814-72h0m769,207h0m384-66h0m-2103-197h0m96-22h0m865,119h0m385,0h0m288-80h0m673,20h0m288,110h0m-1622-95h0m204-4h0m96,10h0m769,37h0m288,105h0m192-310h0m97,97h0m-2200-44h0m481,235h0m481-100h0m192,78h0m96,39h0m384,42h0m289-325h0m-1719-31h0m96,35h0m385-29h0m769,331h0m-1815-304h0m192-52h0m1154,398h0m-85-228h0m289,89h0m96-13h0m96-29h0m961-49h0m-2295-252h0m96,22h0m96,102h0m288,8h0m97-14h0m96-2h0m288,90h0m192,175h0m193-147h0m192,89h0m576-171h0m193,38h0m-2776-42h0m288-99h0m673-23h0m192,42h0m193,113h0m1057,159h0m-469-122h0m96,182h0m-853-143h0m192,23h0m192-152h0m96,140h0m769,134h0m96-260h0m-2295-153h0m481,124h0m384-74h0m384,241h0m481-14h0m96,15h0m192-85h0m385-76h0m-2391-241h0m1153,181h0m288,101h0m577,93h0m-2007-215h0m289-37h0m1153,240h0m-1719-230h0m481-16h0m96,57h0m96-45h0m192,73h0m962,213h0m96-125h0m480,72h0m289-108h0m-2199-18h0m672-56h0m385,305h0m96,14h0m288,38h0m289-13h0m288-236h0m192,4h0m96,41h0m-2487-96h0m769-2h0m288,49h0m481-82h0m384,263h0m97-133h0m-1911-209h0m192,12h0m96,120h0m288-26h0m481,157h0m1057,129h0m-1814-345h0m576,120h0m97-44h0m576,189h0m192-77h0m481,97h0m-2680-97h0m577-234h0m96,71h0m96-56h0m385,1h0m480,64h0m96,202h0m481,119h0m96-67h0m385-37h0m-1430-54h0m192-82h0m96,72h0m480,78h0m385-4h0m-1719-309h0m1154,300h0m192-12h0m96-174h0m289,57h0m-2296-62h0m193,26h0m480,64h0m192-380h0m962,628h0m384-17h0m96-199h0m96,10h0m96,78h0m-2487-125h0m865-155h0m192-31h0m96,60h0m96,204h0m577,8h0m577,192h0m-1911-596h0m96,241h0m289-114h0m192-7h0m192,55h0m865,213h0m385,9h0m-2296-158h0m96,94h0m1250-34h0m769,215h0m288-29h0m-2776-42h0m289-94h0m288,21h0m289-197h0m288-64h0m96,243h0m96-236h0m1250,138h0m-2584,20h0m577,58h0m384-56h0m481-116h0m480,276h0m577,31h0m-2199-334h0m192,44h0m577-8h0m384,33h0m673,176h0m-1910,42h0m96-111h0m576-62h0m1154,156h0m288,27h0m481-42h0m-2488-42h0m193-63h0m192-271h0m288,146h0m192,87h0m96-228h0m1154,432h0m-2295-43h0m576-226h0m385,9h0m288,66h0m96-36h0m193,189h0m480-71h0m673,63h0m-2680-71h0m192,4h0m289-230h0m96,51h0m384-59h0m97-44h0m576,314h0m96,64h0m97-100h0m384,89h0m288,150h0m193-92h0m-2776-50h0m480-142h0m1058,148h0m384-31h0m-1622,90h0m1057-360h0m385,243h0m480,38h0m96,119h0m-2199-159h0m96,71h0m96-14h0m96-5h0m289-310h0m96,353h0m96-254h0m192,131h0m193-139h0m96,194h0m288,38h0m481-142h0m192,312h0m288-75h0m-2680,6h0m385-173h0m192-27h0m577-28h0m769,93h0m288,89h0m481-85h0m-2680,6h0m1730-85h0m769,166h0m-1622-170h0m288-330h0m865,522h0m96,7h0m96,43h0m385-60h0m192,58h0m-2103-310h0m288,1h0m673,18h0m289,59h0m576,179h0m193,69h0m-2007-338h0m96-94h0m480,91h0m97,80h0m961,216h0m192,4h0m-2103-242h0m865-131h0m612,141h0m865,19h0m-1623-88h0m193,103h0m192-76h0m288-8h0m385,278h0m96,101h0m288-265h0m-2584,71h0m193,179h0m192-27h0m192-257h0m385-84h0m288-129h0m481,153h0m480,131h0m289,16h0m-2200,277h0m577-453h0m192-8h0m96-41h0m97-25h0m96,172h0m192-74h0m769,319h0m192-128h0m-2199,18h0m1057-267h0m1154,284h0m192,37h0m-2295-218h0m673,10h0m576-79h0m-1334,269h0m96-81h0m769-182h0m193-253h0m96,342h0m576,104h0m-1718-44h0m384-112h0m673-108h0m96,254h0m193-130h0m192-28h0m384,74h0m385,152h0m-1142-401h0m192-13h0m-1430,649h0m96-252h0m96-195h0m289-25h0m192,76h0m96-110h0m192,57h0m961-98h0m193,355h0m96-226h0m-2296,10h0m97,273h0m769-150h0m96-178h0m96-29h0m961,238h0m96-120h0m288-19h0m-1526-107h0m577,41h0m288-146h0m289,228h0m192,260h0m384-224h0m-2679,34h0m384-2h0m288-15h0m289-84h0m1345,211h0m193,37h0m-2488-147h0m1154-231h0m288,31h0m96-116h0m877,276h0m96,127h0m-2680-111h0m96,15h0m289,64h0m192,53h0m192-178h0m96-32h0m385-27h0m192-70h0m192,38h0m289,56h0m96,31h0m96,5h0m576,159h0m-2679,132h0m576-210h0m193,87h0m576-164h0m577-136h0m96,93h0m96-149h0m96,82h0m193,217h0m384,112h0m-2199-190h0m1057-95h0m289-97h0m673,352h0m96-47h0m-2199-28h0m288-103h0m288-30h0m385-171h0m288,233h0m385-105h0m288,219h0m-1430-232h0m1057,157h0m288-91h0m-1334-90h0m193-43h0m96,10h0m288,22h0m288-286h0m385,333h0m96,81h0m-1719,257h0m97-128h0m961-318h0m-1526,385h0m288-26h0m384-18h0m769,42h0m-1045-14h0m96-136h0m192,263h0m481-307h0m480,21h0m192,60h0m481,50h0m288-16h0m-2583,80h0m1538-225h0m-277-87h0m288-84h0m289,251h0m96-98h0m480,242h0m-1622-99h0m577-65h0m288-124h0m769,343h0m96-113h0m-1815-42h0m577-195h0m96,54h0m1058,291h0m-2200-157h0m193,45h0m192,104h0m384-88h0m769-278h0m769,158h0m-2103,201h0m289-74h0m96-210h0m96,96h0m577-84h0m288,103h0m288-279h0m193,289h0m-2200,29h0m193,148h0m769-201h0m769-130h0m96,87h0m288-64h0m96,100h0m-2295,109h0m961-102h0m385-85h0m961,78h0m-2296-4h0m1346-16h0m289-120h0m288-38h0m288,117h0m-2103-15h0m385,211h0m288,11h0m96-112h0m481,8h0m288-249h0m96,74h0m-1334,205h0m289-28h0m96,155h0m96-125h0m577-111h0m961,52h0m-1719,84h0m961-284h0m865,209h0m-2199,180h0m385-74h0m96-11h0m288-66h0m769-154h0m96,31h0m96,93h0m-2006,200h0m192,30h0m96-13h0m96-136h0m384,66h0m1250-126h0m288,15h0m-2391,162h0m1153-100h0m481-273h0m192,263h0m481-119h0m192,157h0m96-89h0m-2679,140h0m384,97h0m481,97h0m96-202h0m480-48h0m385-114h0m480,93h0m-2391-50h0m192,138h0m96,39h0m385,0h0m673-27h0m865-103h0m192-104h0m192,52h0m-2583,80h0m769,72h0m96,70h0m480-78h0m385-54h0m96-101h0m192-147h0m577,32h0m-2392,117h0m1250,139h0m192-115h0m481,81h0m384,36h0m193,12h0m-1815,59h0m577-157h0m192-137h0m96-30h0m96,153h0m192-139h0m193,154h0m96-132h0m-2199,170h0m384,84h0m288,28h0m97,1h0m1537-213h0m97-24h0m96,94h0m-2007,99h0m384-56h0m96,126h0m962-256h0m672,11h0m-2295,164h0m961,146h0m1058-258h0m-2488,158h0m673-12h0m192,161h0m481-183h0m96-41h0m96,13h0m865-120h0m192,45h0m97,54h0m-2680-1h0m384-15h0m769,72h0m192-83h0m289,48h0m577-58h0m192-134h0m96-21h0m96-78h0m192,316h0m-2776-174h0m385,182h0m865,101h0m384-97h0m-926,227h0m769-312h0m288-69h0m96,51h0m97-34h0m384-200h0m288,144h0m97-152h0m-2392,416h0m289-84h0m288,156h0m96-133h0m865-256h0m288,10h0m385-45h0m192,147h0m96-158h0m-2295,255h0m96,26h0m1538-213h0m192-163h0m96,180h0m-1814,220h0m576-146h0m577,54h0m192-362h0m481-50h0m288,175h0m-2775,254h0m192-13h0m96-141h0m192,128h0m288,99h0m97-17h0m961-289h0m384,82h0m289,25h0m192-104h0m96-114h0m-2295,484h0m288-192h0m481,153h0m576-313h0m962-127h0m-1238,354h0m961-189h0m-2295,88h0m769,19h0m576-99h0m96-124h0m-1430,186h0m289-16h0m1249-167h0m192,34h0m481-244h0m384,280h0m-1622,101h0m192-159h0m192,78h0m577-156h0m385,47h0m-2007,172h0m96-8h0m384,16h0m1154-202h0m384-67h0m193-6h0m96,161h0m-854-56h0m96,18h0m481-165h0m192,108h0m-2680-6h0m289,38h0m96,181h0m673,60h0m96-19h0m96,131h0m577-344h0m576,24h0m97-30h0m-2392,99h0m1057-11h0m577-11h0m577-15h0m-2392,35h0m97-91h0m769,112h0m192,177h0m96,104h0m769-297h0m288-102h0m96,10h0m289-38h0m192,67h0m-1911,242h0m481,70h0m384-243h0m193,150h0m288-158h0m96-113h0m96,62h0m385-218h0m-2584,328h0m1250,155h0m576-408h0m289-69h0m96,39h0m-2392,51h0m385,176h0m192,66h0m865,11h0m192-35h0m193-90h0m961,53h0m-2776-132h0m288,71h0m193-37h0m480,148h0m96,101h0m193-23h0m576-196h0m-1622-31h0m192-28h0m192,148h0m96-91h0m1731,50h0m192-45h0m-2103,110h0m192-75h0m96,4h0m192,94h0m385-67h0m577-25h0m192-175h0m-2007,113h0m384-21h0m577,83h0m192,63h0m385-81h0m96,52h0m384-100h0m97-92h0m96,70h0m-2392-48h0m192,52h0m193-53h0m288,64h0m192,78h0m289,4h0m769-37h0m192-104h0m-2103,79h0m577-18h0m96,5h0m96-48h0m577,210h0m288-68h0m384-128h0m97,56h0m576-139h0m-2487,58h0m96,39h0m673,130h0m192,71h0m288-37h0m96-1h0m962-231h0m288-37h0m-2680-12h0m96-91h0m96,57h0m289,167h0m288,76h0m673,70h0m192-169h0m385-9h0m96-29h0m96-41h0m-2103,31h0m192,24h0m577,185h0m769-206h0m480,66h0m97-257h0m-2296,180h0m865,59h0m97,155h0m288-16h0m96,58h0m96-106h0m192-65h0m193,71h0m192-70h0m769-211h0m-2776,67h0m192,113h0m96-74h0m673,58h0m385,228h0m96-159h0m96,20h0m673-225h0m192,145h0m-2199-69h0m96,48h0m96-12h0m865,121h0m288-14h0m289-95h0m-1046,273h0m385-30h0m769-59h0m96-206h0m96,185h0m192-127h0m385-83h0m-2584,54h0m96,130h0m1922-213h0m289-1h0m-2488,120h0m1923,188h0m865-322h0m-2776-161h0m192,235h0m481,144h0m192,165h0m192-95h0m1250-208h0m288,162h0m-2487-42h0m288-281h0m96,114h0m481,233h0m192,79h0m96-100h0m288,149h0m-1045-338h0m576,129h0m97,43h0m480,236h0m385-303h0m769-71h0m-2776,188h0m96-280h0m384,107h0m96,47h0m193,89h0m480-99h0m96,124h0m385,33h0m96-50h0m96,118h0m288-170h0m289-116h0m96-56h0m-1046,317h0m96-29h0m96,58h0m577-20h0m192-248h0m97,26h0m96-59h0m-2776-168h0m769,203h0m1057,98h0m96,56h0m192-55h0m193-184h0m192,76h0m96,2h0m96-119h0m-2487-204h0m384,224h0m769,171h0m1057,162h0m193-241h0m-2007-72h0m192-50h0m96,173h0m108,121h0m288,23h0m1154-243h0m-2103,153h0m192-179h0m384,38h0m193,154h0m96-2h0m192,104h0m384-212h0m577,78h0m204-49h0m-2488-25h0m97,43h0m1249,143h0m288,99h0m97-145h0m96,19h0m673-10h0m-2296-211h0m96,64h0m97-3h0m1957,101h0m384-112h0m-1142,345h0m97-82h0m192,106h0m480-138h0m-2391-158h0m288,15h0m577,38h0m192,102h0m289,86h0m288,169h0m192-125h0m289-116h0m480-20h0m-1814-31h0m96,120h0m576,25h0m193,176h0m672-187h0m-1814-381h0m96,248h0m288,3h0m96-49h0m97,15h0m672,180h0m96,14h0m193-67h0m192,11h0m-1622-378h0m192,47h0m288,199h0m96-20h0m192,107h0m577,58h0m-2007-197h0m193,124h0m192-85h0m865,167h0m96-55h0m288,21h0m96,183h0m193-93h0m576-126h0m97-86h0m-2392-87h0m481,47h0m384,104h0m289-53h0m192,116h0m96,157h0m96-134h0m192,85h0m96-148h0m193,256h0m288-374h0m96-7h0m-2487-95h0m288,80h0m481-144h0m672,127h0m962,189h0m-2488-214h0m385,106h0m1488,180h0m192,13h0m577-161h0m96,6h0m-2680,30h0m192-173h0m1058,267h0m96-180h0m384,210h0m-853-233h0m673,104h0m192,155h0m288,28h0m289-76h0m-2392-280h0m289,174h0m192,10h0m192-91h0m1154,80h0m288,81h0m96-100h0m385,108h0m-2488-250h0m96,189h0m961,88h0m96-163h0m97-49h0m672,285h0m97-154h0m672,58h0m-2295-243h0m192,31h0m193,4h0m480,190h0m481,6h0m96,52h0m384,22h0m96,143h0m-1430-333h0m769,42h0m193,234h0m384-83h0m481-69h0m-2200-232h0m289,124h0m384-63h0m96,143h0m481,168h0m961-233h0m-2583,86h0m192-348h0m1826,426h0m288-22h0m-2583-8h0m192-240h0m1153,32h0m193,56h0m576,108h0m193,146h0m-2007-203h0m288-285h0m96,91h0m192-23h0m289-110h0m192,135h0m96,79h0m289,232h0m192,6h0m96-18h0m769-148h0m-2391-108h0m192-76h0m576,114h0m769,184h0m577-109h0m96,157h0m193-97h0m-2776,30h0m480-185h0m96-48h0m96-125h0m97,174h0m192,3h0m384,82h0m96-66h0m481,191h0m577-47h0m-2199-174h0m288,52h0m577-104h0m288,120h0m769,73h0m-1815-135h0m481-74h0m288,213h0m577,76h0m96-42h0m96,152h0m481-297h0m96,114h0m192,48h0m-1911-260h0m193-237h0m96,180h0m480,233h0m193,73h0m-1238-142h0m961-205h0m577,314h0m192-4h0m96,1h0m-2295-67h0m480-127h0m481-94h0m865,164h0m96,18h0m192,85h0m96-105h0m-1814-133h0m96,77h0m384-129h0m96,13h0m193-20h0m192,16h0m1250,184h0m-2103-135h0m192-127h0m1057,363h0m481,20h0m384-135h0m96-94h0m-2487-201h0m288,110h0m577,74h0m1346,119h0m96,67h0m-1815-291h0m769,254h0m288,84h0m193-84h0m288,10h0m480,22h0m-2006-272h0m865-5h0m96,133h0m673,69h0m384,101h0m-2391-81h0m1057-279h0m192,206h0m193-121h0m-1719,15h0m1346,202h0m1057,23h0m-2488-36h0m289-67h0m96,53h0m769-142h0m288,183h0m481,5h0m96,228h0m-1526-246h0m576-81h0m577-62h0m-1430,193h0m96-126h0m577-142h0m576,58h0m769,81h0m193,186h0m96,112h0m-2295-361h0m192,79h0m192-24h0m96-60h0m192,19h0m289-112h0m576,146h0m-1430,116h0m481-359h0m673,312h0m192-146h0m192,49h0m192,13h0m193,81h0m384,176h0m-2584-380h0m481,144h0m96-110h0m289-95h0m96,94h0m673,99h0m96,17h0m96-94h0m192,27h0m96,60h0m-2199,212h0m96-118h0m96-111h0m385-77h0m769-76h0m96,17h0m-1046,300h0m96-3h0m96-176h0m96,73h0m97-151h0m480-240h0m192,245h0m673,148h0m96,54h0m96,40h0m385,21h0m-2680-50h0m2630,84h0m-2583-76h0m288-100h0m384,4h0m193-16h0m673-143h0m769,252h0m384,66h0m-2776-14h0m192-23h0m96,12h0m193-83h0m288-146h0m865,32h0m865-48h0m-2007,266h0m193-272h0m192,133h0m480-54h0m769-63h0m385,368h0m192-91h0m-2680,79h0m769-456h0m96,285h0m97-161h0m672-135h0m481,171h0m481,364h0m192-217h0m-2103-126h0m96,12h0m192,103h0m192-145h0m97-9h0m96,0h0m96-140h0m384,198h0m96,14h0m577,92h0m192,159h0m-2391-231h0m288-39h0m577,79h0m481,95h0m769-134h0m288,116h0m-2103-39h0m288-299h0m1827,407h0m-1623-544h0m192,214h0m769,144h0m289,58h0m-2296,285h0m673-369h0m192-43h0m769-96h0m769,261h0m193,53h0m-2103-19h0m288-280h0m384,200h0m193-251h0m480,168h0m96-262h0m289,434h0m-2296,121h0m673-175h0m769-147h0m769-93h0m96,98h0m193,46h0m192,111h0m-2007,12h0m673-131h0m288-82h0m96-37h0m481,105h0m288,150h0m96-175h0m-2199,247h0m385-135h0m288-212h0m481,103h0m96,61h0m192-122h0m96-19h0m192,93h0m289,71h0m-2199,78h0m96-60h0m288-56h0m577-14h0m96-32h0m192,18h0m192,28h0m865,34h0m-2391,31h0m192,9h0m289,47h0m192-184h0m1249,62h0m193,205h0m-2199-74h0m192,116h0m288-215h0m96,62h0m289-202h0m288,71h0m481-121h0m384,17h0m673,225h0m-1430-267h0m769,158h0m480,225h0m-2487-66h0m288-123h0m1154-89h0m192-53h0m96-21h0m288,29h0m385,168h0m-2296,6h0m481,23h0m1250-148h0m-1527,214h0m289-176h0m288,24h0m481,15h0m384-65h0m192,75h0m385,7h0m192,7h0m-2487,67h0m96,124h0m96-155h0m288,6h0m673-260h0m192,50h0m193,161h0m96-16h0m288-26h0m673,62h0m-2392,179h0m97-57h0m192,8h0m480-48h0m97-147h0m480,147h0m288-197h0m385,111h0m384,210h0m-2679-153h0m96,191h0m288-251h0m577,109h0m577-246h0m96-123h0m96,86h0m96,37h0m384-20h0m-2103,516h0m97-230h0m384,25h0m192-22h0m193-145h0m192-95h0m288,45h0m96-23h0m769-15h0m-2295,225h0m96,64h0m192-4h0m289-121h0m480-104h0m192-138h0m97,90h0m961,30h0m384,162h0m-2391-109h0m192,331h0m385-361h0m96,6h0m96,97h0m961-159h0m288,239h0m289-81h0m-1815-193h0m96,122h0m385-107h0m384-78h0m96,95h0m96-7h0m385,61h0m481,164h0m-2584,69h0m288,177h0m96-189h0m193-23h0m672-90h0m97-233h0m384,99h0m192-56h0m289,129h0m96,114h0m-2199,99h0m96-36h0m192-99h0m673-264h0m865-74h0m96,298h0m288-111h0m96,79h0m193,16h0m-2296,232h0m97-121h0m96,111h0m480-163h0m96-36h0m97-236h0m768,79h0m193,149h0m-2103,79h0m96,183h0m480-206h0m1442-334h0m481,174h0m-2488,158h0m769-38h0m193-219h0m288,162h0m384-73h0m385,45h0m96-19h0m96,208h0m-2487-128h0m192,104h0m288,104h0m289-117h0m96,13h0m576-134h0m96-154h0m769,29h0m193,45h0m192-30h0m-2584,298h0m289-80h0m384,62h0m385-84h0m672-185h0m866,74h0m-2392,284h0m865-218h0m96-200h0m673-68h0m-757,387h0m96-44h0m673-338h0m384,192h0m385,15h0m96-69h0m-1623-27h0m577-5h0m192-129h0m289,233h0m384-72h0m-1718,263h0m673-319h0m192,146h0m96-87h0m577-19h0m96-11h0m96,135h0m-2392-17h0m1634-107h0m193-61h0m-2103,293h0m96-2h0m577,17h0m192,17h0m1057-408h0m865,173h0m-2583,93h0m192,53h0m384,25h0m865-167h0m962-69h0m96,147h0m-1623,63h0m961-265h0m289,117h0m-2007,172h0m480-52h0m577-95h0m673-198h0m385,31h0m-1815,246h0m192,96h0m192-34h0m-949-281h0m192,198h0m192,115h0m481-56h0m96-47h0m96,1h0m385-28h0m192-81h0m577-169h0m-1815,353h0m288,185h0m865-316h0m577-186h0m-1430,420h0m480-117h0m865-186h0m-1622,375h0m577,7h0m96-145h0m865-122h0m96-101h0m96-83h0m385,39h0m-1815,203h0m96,117h0m385,26h0m1538-251h0m-2488,125h0m192-46h0m96,30h0m97-12h0m192,2h0m96,91h0m192,64h0m192-48h0m481-327h0m481,143h0m-2296-27h0m96,21h0m97,72h0m96,125h0m384-54h0m769-191h0m385,24h0m96-25h0m384,19h0m385-101h0m-2296,204h0m193,162h0m96-93h0m96-54h0m865-45h0m96-36h0m96-40h0m385-21h0m-1431,168h0m97,292h0m672-382h0m-853-7h0m288,163h0m289-219h0m192,159h0m-1334,37h0m192,9h0m192,7h0m481,37h0m96-122h0m288,89h0m577-113h0m96-140h0m-2007,38h0m289,184h0m2041-140h0m97-87h0m192,3h0m96,178h0m-2391-260h0m865,354h0m1441-256h0m-2679-45h0m96,119h0m96-21h0m192,142h0m192-63h0m385,45h0m384,221h0m577-200h0m288-138h0m193,49h0m-2296-44h0m865,173h0m97-43h0m384-87h0m96,118h0m96-103h0m-1526,13h0m673-9h0m384,183h0m96-157h0m385,47h0m673-215h0m-1911,126h0m481,109h0m288,21h0m96,58h0m96-3h0m96-67h0m289-99h0m576-73h0m289,82h0m-2488-34h0m577,198h0m96-211h0m1634-42h0m96,56h0m96-99h0m96-214h0m-2391,395h0m385,11h0m192-107h0m96,114h0m865-134h0m192-43h0m481,148h0m-2103-68h0m96-94h0m96,150h0m865-183h0m961,88h0m96-161h0m97,5h0m-2392,76h0m289,45h0m865,105h0m96,69h0m961-272h0m-2103,228h0m673,82h0m96,24h0m96-123h0m288,178h0m96-267h0m866-35h0m-2392,46h0m481-4h0m480-52h0m96,324h0m289-221h0m96,197h0m481-306h0m480,106h0m96-163h0m-2199,128h0m96,148h0m192,75h0m97-140h0m192-44h0m288,145h0m385-197h0m192,14h0m96-166h0m-1142,175h0m192,213h0m1058-248h0m288-85h0m192,45h0m-2583-204h0m288-16h0m192,107h0m962,415h0m384-237h0m673-66h0m288-87h0m-2776,36h0m96-66h0m97-16h0m1153,299h0m96-103h0m96,11h0m385-6h0m865-183h0m-2776,15h0m192-66h0m96,115h0m385-159h0m288,225h0m96,54h0m193,194h0m384-248h0m577,8h0m480-47h0m-2295-109h0m288,198h0m289,26h0m576,143h0m97-173h0m672-240h0m193,29h0m-2199-35h0m288,276h0m673-13h0m96-28h0m96,12h0m577-313h0m673,110h0m96,0h0m-2776-36h0m961,207h0m288,214h0m96-94h0m577-139h0m-1142,33h0m481,210h0m577-95h0m384-144h0m-1334-9h0m96-61h0m577,237h0m96-123h0m96-113h0m96,82h0m673-155h0m-2103,143h0m961,153h0m96-102h0m1058-122h0m-2296,77h0m289,28h0m192-14h0m1057,98h0m289-99h0m96-125h0m192,126h0m96-105h0m192-195h0m97,193h0m-2680-147h0m288,87h0m481,185h0m1249,103h0m289-175h0m288-146h0m-2680,175h0m96,19h0m193-41h0m96-112h0m1153,438h0m673-336h0m192,112h0m289-165h0m-2680-21h0m96,19h0m288,62h0m385,46h0m192,167h0m769,128h0m96-140h0m481-103h0m-2199-226h0m480,162h0m193,89h0m1922-118h0m-2199,27h0m673,111h0m96,93h0m288-170h0m96,70h0m481-68h0m192-109h0m-2007,88h0m865,90h0m192,14h0m97-9h0m576,164h0m-2007-429h0m1250,271h0m96,154h0m192,20h0m289-123h0m865-113h0m-2199-92h0m480,168h0m289,87h0m192-72h0m96,142h0m192,38h0m577-34h0m288-194h0m-2391,78h0m480-193h0m97,227h0m576-69h0m96,174h0m385-12h0m288-159h0m96-20h0m481,10h0m-2776-184h0m192,78h0m481,22h0m961,162h0m288,100h0m577-261h0m96,8h0m-2487-120h0m288-92h0m289,157h0m576,215h0m385,92h0m192-29h0m961-350h0m-2776-13h0m289,201h0m576,67h0m193-102h0m192,229h0m192-112h0m192,16h0m289,124h0m192-157h0m96,33h0m96-71h0m96,14h0m193-172h0m-2200,47h0m673,62h0m769,316h0m96-126h0m289-22h0m192-282h0m192-2h0m-2391,243h0m384-151h0m289,58h0m96-74h0m288,95h0m96,50h0m192,17h0m385,119h0m96-93h0m288-81h0m385-84h0m-2392-241h0m385,236h0m96-14h0m481,15h0m192-33h0m96,251h0m385,56h0m192-179h0m-2199-120h0m384-100h0m96-14h0m385,109h0m192-4h0m239,123h0m192,45h0m96,21h0m673-43h0m96-83h0m-2007-236h0m192,191h0m385-49h0m192,195h0m1153,52h0m481-130h0m-2584,76h0m577-159h0m96,45h0m577,211h0m769-87h0m-1911-111h0m96,53h0m385-19h0m576-31h0m193,47h0m384,219h0m96-45h0m577-152h0m-2199-124h0m577,102h0m576,87h0m481,159h0m-2007-355h0m481-45h0m672,345h0m1369-15h0m96-158h0m-2583-104h0m384-49h0m193,176h0m192-86h0m1538,134h0m-1719-175h0m289,265h0m768-102h0m289-37h0m480,135h0m289,128h0m-1623-380h0m96,8h0m481,256h0m385-85h0m-2007-122h0m480-114h0m289-63h0m480,81h0m96,236h0m193,55h0m96-55h0m288,116h0m288-203h0m289,21h0m288-103h0m-2487-14h0m961,22h0m192,77h0m96-36h0m961,87h0m193-28h0m-2103-135h0m288,179h0m192-194h0m192,183h0m97-117h0m96,225h0m96-178h0m96,306h0m96-213h0m192,18h0m193-167h0m192,234h0m-2392-129h0m577-204h0m192,14h0m962,278h0m865-132h0m-2392-156h0m577,116h0m192-188h0m96,98h0m385,179h0m96-112h0m96,169h0m288-16h0m289,116h0m576-108h0m-2679-206h0m192-64h0m673,95h0m576,105h0m193,65h0m384-76h0m96,150h0m385-92h0m-2295-195h0m96-118h0m673,217h0m96-28h0m96,110h0m96-78h0m865,315h0m96-358h0m481,92h0m-2776,136h0m480-340h0m193,3h0m192-92h0m384,401h0m289-123h0m192,16h0m384,66h0m385,30h0m300,30h0m-2392-205h0m1058,116h0m384,68h0m289-2h0m-2199-85h0m1057-233h0m1538,274h0m96-101h0m96,69h0m-2584-84h0m865-170h0m481,291h0m192-124h0m-1622-118h0m96,136h0m192,56h0m289-100h0m865-44h0m96,91h0m480,109h0m96,157h0m193-217h0m-2103-173h0m192,135h0m1057,48h0m96-28h0m673,126h0m192-79h0m193-135h0m-2392,13h0m96,145h0m962-197h0m192,267h0m384-200h0m193,227h0m192-18h0m480-48h0m-2679-149h0m384-229h0m961,57h0m481,137h0m481,152h0m-2392-77h0m192-189h0m289,56h0m2211,321h0m96-252h0m-2488-34h0m673-83h0m96,55h0m96,18h0m289-17h0m192,175h0m288,8h0m385,107h0m96-97h0m288,63h0m-2776-71h0m481-144h0m96-87h0m192,75h0m1058,82h0m96-66h0m288,175h0m-950-240h0m97,32h0m96,111h0m288,68h0m385-95h0m96,294h0m192-95h0m96,30h0m96-152h0m-1815-188h0m1346,200h0m192,83h0m385-163h0m96,55h0m-1719,1h0m193-76h0m96,31h0m-950,76h0m96-236h0m289,45h0m961,187h0m192-49h0m96,2h0m96,135h0m96-167h0m385,136h0m-2391-65h0m576-209h0m289-19h0m192-181h0m577,401h0m96,82h0m769,12h0m96-131h0m-2007-232h0m480,46h0m289,122h0m96-91h0m865,376h0m96-266h0m-1911-134h0m289-37h0m96-18h0m192,103h0m96-12h0m96-20h0m481,211h0m96-35h0m288-32h0m193,69h0m-2392-100h0m193-13h0m96,44h0m96-170h0m288,119h0m481,140h0m192-205h0m384,143h0m97,14h0m96,49h0m288,46h0m96,17h0m96-173h0m-2391,124h0m288,29h0m1058-412h0m769,321h0m-2200-89h0m865-220h0m289,74h0m865,140h0m-2103,26h0m192,15h0m865-146h0m192,120h0m385-141h0m288,52h0m96,108h0m289-111h0m-2103,109h0m673-280h0m96,81h0m865,172h0m96,47h0m-1623-12h0m1154-192h0m96,155h0m96-81h0m96-16h0m673,149h0m192,105h0m193-78h0m-2776-38h0m1634-144h0m192,83h0m384,36h0m-1910,126h0m384-258h0m192,178h0m193-198h0m288-116h0m192,252h0m577-5h0m-1911-130h0m192,62h0m769-23h0m1250,274h0m-1526-451h0m961,292h0m384-34h0m193,220h0m-1815-161h0m192-145h0m96,46h0m577-44h0m192-71h0m577,204h0m288,129h0m-2583-197h0m96,25h0m2210-42h0m385,207h0m-2295-64h0m96,66h0m192-206h0m481-90h0m192,42h0m192-55h0m192,100h0m193-97h0m-1623,153h0m192,134h0m385-285h0m96,2h0m192-22h0m673-84h0m385,201h0m192,24h0m192,285h0m-2199-225h0m192-70h0m289-150h0m288-84h0m865,255h0m-1815,138h0m1634-227h0m577,272h0m-1911-160h0m289,26h0m-446-40h0m96,222h0m865-316h0m288,97h0m289-170h0m480,215h0m-2391,116h0m192,11h0m673-188h0m96-95h0m577,197h0m96-228h0m-1430,278h0m384-146h0m1442-43h0m192,81h0m289-184h0m96,242h0m-2295,124h0m96-83h0m384-212h0m192,194h0m193-104h0m-373,62h0m96-131h0m577,19h0m288,12h0m384,141h0m289-79h0m288-75h0m96,172h0m-2583,89h0m384-270h0m288,100h0m97,5h0m96-256h0m96,265h0m1346-252h0m-2476,264h0m480-58h0m96-51h0m289-63h0m480-129h0m96,185h0m-1526,343h0m96-226h0m96,82h0m385,20h0m96-122h0m192,56h0m385-180h0m288-25h0m96,48h0m481-142h0m-1911,299h0m769,25h0m481-236h0m192-48h0m96-74h0m384,174h0m673,234h0m-2776-22h0m193,142h0m192,52h0m384-168h0m1250-213h0m673,233h0m-2199,26h0m288-64h0m96-258h0m96,152h0m192-170h0m865,158h0m385,38h0m-2007-94h0m96,139h0m96-128h0m673-35h0m961,10h0m96,10h0m-2199,196h0m289-88h0m288-52h0m96-44h0m288,222h0m97-206h0m96-61h0m384-232h0m192,166h0m97,32h0m480,120h0m-1334,16h0m769-186h0m-1911,266h0m96-6h0m1154-95h0m288-121h0m385,108h0m480-98h0m-2295,44h0m481,96h0m96,41h0m96,26h0m1153-169h0m-1142,183h0m97-191h0m384,98h0m769-258h0m769,212h0m-1719-21h0m97-39h0m865-113h0m192-23h0m480,140h0m-2679,131h0m384-95h0m385,104h0m288-85h0m865-88h0m96-212h0m289,56h0m96,49h0m-1719,270h0m192,1h0m577-264h0m192,3h0m96,83h0m385-58h0m481,87h0m-2392,42h0m673,66h0m1153-195h0m-2006,137h0m96,84h0m961,69h0m192-180h0m769-108h0m96-138h0m577,235h0m-2584-99h0m673,116h0m96,1h0m577-230h0m96,96h0m96,17h0m96,34h0m289-183h0m384,70h0m289,163h0m-2488,74h0m96,90h0m865-5h0m192-302h0m97,24h0m384-95h0m673,352h0m-2392-71h0m193,5h0m480-48h0m289-127h0m96,85h0m288,0h0m-1430,72h0m192,72h0m289-53h0m769-50h0m672-334h0m481,256h0m-565,152h0m-1815-27h0m96,76h0m289-21h0m480,87h0m385-228h0m96,66h0m961-93h0m96-57h0m-2103,287h0m192-44h0m193,89h0m192-235h0m96,60h0m481,4h0m288-104h0m96-125h0m96,194h0m-2007,1h0m1058,51h0m1057-180h0m192,73h0m192,176h0m97-105h0m-2584,205h0m96-161h0m865-33h0m1346-296h0m96,137h0m-2199,210h0m96,80h0m96,37h0m384-80h0m193,102h0m288-192h0m-1334,19h0m192-53h0m865,12h0m96,77h0m481-60h0m481-208h0m480,82h0m-2487,295h0m288-172h0m577,31h0m673-205h0m576,142h0m97,15h0m288-103h0m-2488,180h0m962-5h0m96-28h0m192-77h0m673-155h0m96-9h0m673,228h0m-2199,230h0m576-347h0m193,108h0m1057-76h0m288,13h0m96,1h0m-2583-74h0m96,62h0m769,136h0m-1046-1h0m96-129h0m192,222h0m673-207h0m193,110h0m384-100h0m192-54h0m96-139h0m193,149h0m288-175h0m192,102h0m96,51h0m-2391,131h0m192-93h0m289,229h0m288-192h0m1730-20h0m-2007,186h0m192-35h0m385-134h0m288-99h0m481-107h0m96,100h0m-1911,207h0m192-92h0m481-40h0m865-48h0m96-26h0m96,7h0m673,30h0m-2584,51h0m577,13h0m192,126h0m385,6h0m96,60h0m288-178h0m769-249h0m-2007,406h0m97,60h0m288-41h0m96,56h0m96-33h0m192-135h0m97-127h0m96,66h0m480-56h0m289-23h0m96-66h0m96-21h0m288,144h0m-2583,57h0m769,6h0m384,280h0m577-423h0m96-11h0m96-5h0m288-45h0m481-611h0m-1599,943h0m384-49h0m96-126h0m289-107h0m-1815,221h0m481,27h0m384,200h0m96-233h0m96,53h0m769-282h0m577,212h0m-2391-205h0m192,176h0m384-87h0m193,294h0m672-70h0m-1141-53h0m672-53h0m97,140h0m865-298h0m96,21h0m96-104h0m192,61h0m96-22h0m-2295,205h0m192-143h0m96,244h0m481-15h0m192-17h0m96,53h0m673-293h0m-1815,36h0m866,145h0m96,66h0m96-9h0m192-77h0m288,41h0m865-255h0m-2487,65h0m1153,368h0m97-94h0m192-129h0m96-45h0m192,132h0m961-205h0m-2103,161h0m96-67h0m577,176h0m481-131h0m-1046,31h0m192-132h0m1058-198h0m96,275h0m480-131h0m96-108h0m-2679,162h0m192,0h0m96-26h0m96,116h0m1442-122h0m192,24h0m192-72h0m385-14h0m96,156h0m-2295-70h0m96,96h0m192-26h0m96,95h0m1250-241h0m577,135h0m96-161h0m-2200,297h0m1154-96h0m96,61h0m96,35h0m96-74h0m-1526-47h0m577,91h0m865-128h0m96,110h0m192-190h0m96,100h0m289-25h0m96-217h0m-2584,151h0m96,165h0m96-140h0m193,59h0m288,321h0m96-186h0m96-178h0m96,173h0m1058,0h0m-1815-170h0m481,155h0m96-125h0m480,187h0m289,70h0m192-79h0m192-3h0m192-213h0m193,107h0m288-273h0m-2584,88h0m193,77h0m769,227h0m961-188h0m673,114h0m-662,70h0m385-306h0m-2295,66h0m384,94h0m769,178h0m481-24h0m96,121h0m288-149h0m192-111h0m481-109h0m-2488,282h0m289-127h0m192,39h0m961-52h0m192,95h0m97-12h0m96-136h0m192-38h0m96-29h0m-2199,83h0m96-46h0m1057,267h0m577-87h0m192-179h0m-1238,283h0m962-183h0m480-94h0m385-4h0m-2488-189h0m1154,578h0m192-316h0m577,176h0m288-336h0m96-36h0m-2391,167h0m384-117h0m192,113h0m96,86h0m289-102h0m96,178h0m288,94h0m96-180h0m193,117h0m384-270h0m96,197h0m-2103-44h0m192-278h0m193,313h0m96-139h0m96-47h0m192,176h0m289,37h0m96,22h0m96,55h0m288-155h0m385,111h0m192-219h0m96-54h0m-2295-42h0m288-38h0m192,79h0m289,217h0m384-153h0m192,164h0m97-1h0m96,147h0m672-391h0m97,225h0m96-353h0m384-11h0m-2680,64h0m866,145h0m96,145h0m384,89h0m288-118h0m289,66h0m480-141h0m-2199-68h0m96-69h0m385,266h0m192,78h0m288-67h0m481-95h0m481-47h0m-1911-134h0m1249,58h0m97,91h0m96,34h0m865-99h0m-2103-24h0m96,45h0m577,105h0m961-167h0m-2007-273h0m577,397h0m480,47h0m96,214h0m96-260h0m97,160h0m576-78h0m289-303h0m96,58h0m-2488-3h0m96-94h0m96-10h0m481,176h0m481,52h0m673-1h0m865-70h0m96-37h0m-2392-135h0m96,116h0m97,35h0m96,120h0m288-124h0m385,255h0m672-63h0m96,54h0m97-137h0m96-162h0m-1911,153h0m1153,57h0m97,273h0m288-305h0m384-76h0m96,117h0m193-132h0m192-45h0m-2391-100h0m-373,136h0m288-161h0m673,67h0m288,324h0m192,70h0m289-273h0m96,2h0m384-25h0m97-105h0m-2200,112h0m481-13h0m192,128h0m1058,71h0m96,38h0m-1623-381h0m481,205h0m577,67h0m865-108h0m-2296-99h0m769-24h0m96,150h0m289-72h0m96,102h0m96-112h0m96,292h0m96,46h0m193-88h0m96,100h0m192-141h0m769-146h0m-2776,45h0m96-42h0m1057,93h0m289,121h0m288-80h0m289,143h0m768-223h0m-2679-123h0m480,62h0m96-54h0m385,70h0m1057,58h0m192,5h0m-2199-164h0m96-123h0m385,128h0m96,45h0m288,141h0m193-73h0m384,68h0m96,143h0m96-76h0m193-51h0m769-157h0m96,15h0m-2776-199h0m384,18h0m385,92h0m192,58h0m577,32h0m192,191h0m577-75h0m96-49h0m96-190h0m192-45h0m-2680-35h0m2403,320h0m97-146h0m-2249-250h0m384,145h0m289-76h0m672,134h0m97,212h0m-1719-286h0m481-160h0m192,186h0m769,82h0m673,209h0m384-288h0m96,45h0m-1622,116h0m192-105h0m288,68h0m289,46h0m-638-208h0m576,101h0m385,0h0m384,139h0m-1622-342h0m577,130h0m961,148h0m192,11h0m-2583-271h0m865,110h0m96-124h0m96,191h0m192-21h0m288,65h0m385,82h0m96,15h0m192-40h0m289-31h0m288-153h0m-2199-4h0m288,3h0m481,65h0m96-112h0m384,184h0m289,105h0m96-140h0m577,33h0m-2296-192h0m385-1h0m288-9h0m1058,307h0m-2007-363h0m96-49h0m961,215h0m961,86h0m96,50h0m-1238-81h0m193,11h0m96,42h0m672-42h0m-2103,65h0m97-201h0m192,13h0m96-13h0m1153,261h0m96-45h0m866-146h0m96,122h0m-2392-216h0m193,24h0m96-55h0m480-4h0m865,118h0m96,346h0m385-196h0m192,108h0m-2487-303h0m288,85h0m481-210h0m480,255h0m289-215h0m769,364h0m-2296-101h0m96-262h0m481,54h0m192-116h0m385-143h0m865,367h0m96-88h0m-2007,43h0m192-7h0m577-23h0m481,12h0m192,157h0m192-2h0m96-44h0m385,85h0m96-81h0m384,31h0m-2391-276h0m192,1h0m96,6h0m96-132h0m96,130h0m2019,275h0m-2391-166h0m672-121h0m481,242h0m96-69h0m289,224h0m96-7h0m-1623-287h0m673,4h0m96,74h0m577,182h0m480-70h0m193,21h0m288-117h0m-2584,29h0m385-71h0m192-135h0m96,114h0m193-247h0m96,161h0m96,112h0m96,164h0m480-132h0m769,13h0m-2103-99h0m481,82h0m288,38h0m96,69h0m289-126h0m288,108h0m289,87h0m384-81h0m-2487,130h0m96-145h0m96-118h0m96,19h0m96,67h0m192-70h0m96-31h0m769,116h0m96-92h0m193,68h0m192,136h0m288,95h0m193-183h0m-2296-40h0m289-168h0m192,130h0m480-32h0m769,80h0m289,88h0m-1911-97h0m384-316h0m289,36h0m192,144h0m385,186h0m-1142-115h0m288,129h0m673-135h0m577,192h0m96-118h0m480,232h0m-2199-332h0m289,249h0m1345-277h0m385,350h0m96-191h0m96,137h0m-2488-254h0m1154-54h0m288,83h0m673,101h0m481,128h0m-2584-187h0m96-129h0m192,43h0m97,16h0m192-61h0m192-113h0m96,74h0m289-30h0m96,3h0m1441,195h0m-2679-57h0m192-1h0m288-191h0m865,117h0m289,117h0m96-133h0m288,367h0m673-302h0m-2680,143h0m96-121h0m577-28h0m289-166h0m192,64h0m673,183h0m865-16h0m-2007-120h0m96-9h0m96-89h0m481,3h0m961,278h0m384,64h0m-2295-239h0m481-282h0m384,262h0m96-9h0m96,15h0m193,213h0m384,61h0m481-33h0m-1334-179h0m865,226h0m96-235h0m384,160h0m192,127h0m-2679-81h0m192-203h0m481,56h0m288-133h0m577,17h0m96,71h0m96-36h0m192,215h0m192-90h0m-1910-68h0m1922,102h0m288,157h0m96-109h0m97,51h0m-2392-55h0m385-53h0m288-95h0m961,295h0m-2007-93h0m96,10h0m289,117h0m961-314h0m769,127h0m673,49h0m-2392-32h0m481,48h0m96-281h0m289-13h0m192,82h0m96-70h0m96,142h0m192,22h0m385-4h0m192,123h0m192-84h0m192,238h0m-2487-72h0m288-303h0m289,22h0m672,153h0m866,73h0m192,2h0m96,41h0m96-21h0m-2584-153h0m193,25h0m1057-19h0m-854-219h0m97,62h0m480,67h0m961,119h0" stroke="#d62728" stroke-width="23"/><path d="M10186 1334h0m192-19h0m-2199,164h0m288-64h0m192,15h0m481-155h0m577-45h0m96,135h0m192-44h0m96,71h0m96,78h0m-853-292h0m96,104h0m769,204h0m-2199,174h0m576-186h0m289-109h0m961-109h0m673,273h0m-2680-44h0m385,4h0m769-126h0m192,0h0m192,24h0m192,20h0m96-148h0m96,29h0m673,167h0m193,82h0m-1334-226h0m480-11h0m192,69h0m-1622,188h0m96,99h0m96-8h0m192-122h0m481-129h0m769-36h0m288,114h0m193-46h0m-2392,265h0m673-158h0m481-179h0m96-131h0m96,19h0m96,108h0m384,66h0m97,53h0m96-129h0m-2199,267h0m288,55h0m577,8h0m96-254h0m96-7h0m577-14h0m288-68h0m673,207h0m192-906h0m-2776,495h0m577,651h0m384-228h0m96-31h0m193-45h0m96-164h0m192,76h0m961,123h0m-2295,236h0m96-142h0m865-36h0m865-228h0m385,82h0m288-47h0m-2680,149h0m193-30h0m865-36h0m192-112h0m96-8h0m577,15h0m288-65h0m96,4h0m192,10h0m-2487,176h0m192-12h0m192,145h0m97,36h0m480-116h0m577-104h0m480-185h0m289,45h0m96-39h0m-2488,62h0m193-26h0m96,151h0m673-98h0m96,18h0m673-105h0m192,39h0m96-33h0m-1719,318h0m193-178h0m96,160h0m96-173h0m865-218h0m96,79h0m96,85h0m577-77h0m481-5h0m-1335,27h0m97-121h0m384,73h0m288,51h0m385-97h0m-2584,208h0m193-130h0m480,44h0m516,73h0m384-142h0m288,56h0m193-77h0m576-11h0m96,70h0m-2775-27h0m865,348h0m192-312h0m384,111h0m97,40h0m96-108h0m192-66h0m288-137h0m-1718,246h0m576,18h0m673-295h0m673,162h0m96-60h0m96,65h0m-2487,69h0m192,64h0m288,24h0m385-17h0m769-219h0m288,200h0m289-162h0m192-38h0m96,169h0m192-165h0m-2199,204h0m385,18h0m480-75h0m673-4h0m192-124h0m-1238,209h0m1442-83h0m96-188h0m96,184h0m193-8h0m-2392,56h0m96,165h0m192-118h0m193,214h0m192-274h0m192,108h0m865-295h0m96,134h0m-2103,64h0m97-42h0m480,239h0m288-54h0m481-27h0m96-132h0m289,99h0m96-198h0m288,22h0m385,92h0m-2296,98h0m96-175h0m96,179h0m769,20h0m962-462h0m480,169h0m96,57h0m-2583,31h0m288,337h0m865-115h0m769-320h0m481,96h0m-2488,141h0m192,99h0m673-16h0m96,56h0m481-82h0m96-19h0m577-124h0m192-1h0m96-125h0m-2487,73h0m192,252h0m577,30h0m288-95h0m385-112h0m480-45h0m96,86h0m96-78h0m193,67h0m288-222h0m-2007,354h0m865-77h0m385-236h0m96,95h0m288-132h0m192,97h0m193-11h0m-2680-21h0m96,54h0m577,59h0m192,164h0m288,28h0m769-281h0m192-8h0m97-9h0m384-7h0m192,71h0m-2776-83h0m97,259h0m192-86h0m384,27h0m96,76h0m481-111h0m673-89h0m288,4h0m385-61h0m192-51h0m-2776,118h0m96,24h0m289,187h0m192-140h0m96,198h0m96-195h0m96,98h0m96,74h0m192-229h0m289,62h0m192-66h0m481-64h0m192,26h0m-2103,151h0m96,53h0m384-74h0m481,80h0m192-118h0m193-108h0m96,138h0m384-230h0m769-13h0m-2584,303h0m193-322h0m865,369h0m96-238h0m288,95h0m481-53h0m288-207h0m96,43h0m96,118h0m-2679,81h0m96-127h0m96,22h0m192,114h0m1058,87h0m96-77h0m1249-85h0m-2487-8h0m480,115h0m385,47h0m96-79h0m96,104h0m192-74h0m96-74h0m1058-97h0m-2584,53h0m769,84h0m385,35h0m192-39h0m96,133h0m192-171h0m1057-129h0m-2487,103h0m288,52h0m289,215h0m480-37h0m577-246h0m288-85h0m96,92h0m97-177h0m192,70h0m-2295-61h0m192,210h0m1826-77h0m192,92h0m-2295-253h0m192,261h0m193-27h0m384-57h0m96,43h0m192,140h0m289,9h0m192-144h0m481-144h0m480,155h0m96,16h0m-2776-162h0m481,88h0m769,210h0m192-71h0m673-107h0m96-69h0m577-1h0m-2392-41h0m385,244h0m96-49h0m577,114h0m384-44h0m96-245h0m97,114h0m480-96h0m-2295,155h0m96-211h0m96,115h0m192,196h0m193-104h0m769,10h0m384-177h0m96,22h0m96-147h0m-2103,124h0m96,110h0m193-52h0m480,245h0m96,138h0m193-172h0m288-149h0m577,27h0m672-301h0m-2199,239h0m481,107h0m288,31h0m289-31h0m288,43h0m384-41h0m289-288h0m96,104h0m-2007,231h0m481,42h0m96,0h0m192-35h0m192,104h0m577-122h0m-2007-167h0m288-7h0m385,209h0m192-124h0m577,139h0m96,15h0m288-35h0m96-146h0m577-78h0m-2007,132h0m192,67h0m97-82h0m96,78h0m1057,82h0m288-139h0m481,45h0m-2680,16h0m96-140h0m1250,127h0m96,152h0m192-170h0m289,72h0m-1911-283h0m96,75h0m96,56h0m192-58h0m193-136h0m576,537h0m385-25h0m577-127h0m480-449h0m-2680,171h0m673,170h0m289-26h0m480,149h0m192,74h0m193-177h0m288-64h0m192,64h0m-2199-248h0m385,200h0m96-104h0m1730,2h0m288-139h0m-2583,98h0m96,131h0m96-174h0m865,417h0m96-136h0m769-112h0m96,56h0m96-66h0m96,28h0m-2199-154h0m96,19h0m289-52h0m576,240h0m193-51h0m480,82h0m481-191h0m384-119h0m-2583,50h0m192-69h0m108-32h0m96,74h0m192,133h0m481,58h0m288,220h0m577-5h0m192-133h0m-1911-137h0m385-32h0m192,164h0m577-60h0m672-55h0m577,94h0m-2583-298h0m1441,544h0m289-253h0m480,40h0m193-23h0m288-303h0m96,25h0m-2680,109h0m192-21h0m673,74h0m193,180h0m192-44h0m288,72h0m481-51h0m384-180h0m96,138h0m-2103-274h0m1154,340h0m96-65h0m-1526-89h0m96-7h0m96-21h0m288,6h0m96-4h0m289,62h0m769,221h0m192-95h0m673-74h0m-2584-24h0m481-195h0m480,228h0m96-29h0m962,207h0m96-111h0m480-210h0m-2295-45h0m96,96h0m385-2h0m769,301h0m-542-251h0m769,209h0m96,121h0m192-231h0m192,125h0m-2007-303h0m193,93h0m288-114h0m96,99h0m96,45h0m96,120h0m289-48h0m673,273h0m480-265h0m-2487-196h0m672,70h0m97-135h0m288,231h0m481,106h0m672-103h0m385-231h0m-2199,25h0m192,59h0m673,142h0m96,17h0m481,60h0m576-36h0m-2007-167h0m96-143h0m1827,327h0m288-148h0m-2295-164h0m384,186h0m193-9h0m96-42h0m96,67h0m192,99h0m192-3h0m192,111h0m481-47h0m288-206h0m97,244h0m96-189h0m-2680,5h0m192-204h0m96,165h0m289-198h0m480,61h0m192,12h0m97,323h0m192-256h0m480,293h0m97-134h0m192-156h0m96,68h0m-2488-154h0m1346,258h0m288-9h0m97-12h0m576-67h0m193-46h0m-1911-96h0m96,54h0m480,148h0m193-26h0m384-9h0m192,62h0m769-102h0m-2679-90h0m96,15h0m96-77h0m769,125h0m480,149h0m385-16h0m96-31h0m96-31h0m96,152h0m289-120h0m-2392-79h0m385-33h0m96-16h0m192-79h0m577,278h0m480,23h0m97-74h0m96,232h0m192-183h0m-2007-18h0m577-373h0m576,168h0m193,82h0m96,263h0m96-217h0m96,52h0m865,109h0m-2584-122h0m97-249h0m288-37h0m288,135h0m96-27h0m289-64h0m96,85h0m96,96h0m481,323h0m96-190h0m96-25h0m384-65h0m385,63h0m-2584-46h0m385-259h0m288,111h0m577,329h0m961,14h0m384-170h0m-2391-136h0m192-19h0m385,2h0m576-29h0m385,183h0m96,42h0m673-127h0m-2680,81h0m96-111h0m193-198h0m192,211h0m384,0h0m193-48h0m288,99h0m384,118h0m673-40h0m385,32h0m-2584-36h0m192-163h0m289-32h0m96-31h0m576,248h0m97-98h0m576,241h0m-2007-173h0m962-213h0m96,105h0m576,189h0m673,24h0m96-22h0m-2007-224h0m97,21h0m288,19h0m288-94h0m865,320h0m769-118h0m-2776-35h0m1058-103h0m96-105h0m288,227h0m577,100h0m96,17h0m192,24h0m289-32h0m-1334-120h0m96,30h0m577,38h0m576,95h0m289-7h0m-2584-184h0m96-132h0m192,131h0m1442-197h0m-1238,140h0m192,5h0m289,25h0m192-15h0m96-31h0m96-62h0m481,116h0m96,152h0m-1815-41h0m96-98h0m97,181h0m288-393h0m192,241h0m192-60h0m97,41h0m576-18h0m289,264h0m96-123h0m384,3h0m-2391-60h0m96-107h0m673,29h0m96-31h0m192-155h0m192,173h0m193,66h0m96-80h0m-1430,58h0m480-148h0m288-23h0m193,70h0m480,41h0m96,66h0m193,56h0m192,254h0m288,6h0m193-252h0m96-58h0m-2776-53h0m96,13h0m480-6h0m97-162h0m192,210h0m96-59h0m192-96h0m96-112h0m193,197h0m96-8h0m1153,226h0m-2584-4h0m769-359h0m193-37h0m96-50h0m961,373h0m385,5h0m96,146h0m-2584-163h0m288,13h0m193-75h0m1153-156h0m96,109h0m289,10h0m96,25h0m480,125h0m-2103-206h0m385-240h0m192,218h0m96-42h0m192-28h0m289,151h0m384,47h0m481,165h0m96,23h0m-1334-482h0m480,161h0m193,248h0m288,7h0m-1334-359h0m288,95h0m961-58h0m97,234h0m192,45h0m96-94h0m-2391,167h0m288-348h0m96,132h0m481-264h0m384,156h0m192,8h0m96,190h0m97-120h0m288,278h0m577-318h0m96,215h0m-2776,92h0m192-123h0m96-113h0m289,15h0m769-13h0m1057,97h0m288,91h0m-2679-323h0m1057-10h0m288-5h0m385,130h0m96-43h0m96,7h0m96-42h0m577,205h0m-2680,18h0m288-136h0m673-261h0m385,181h0m1442,90h0m-2776-71h0m96,225h0m192-123h0m192-204h0m192,105h0m481-107h0m288-115h0m577,230h0m96-98h0m96,95h0m-1814,56h0m192-154h0m384-71h0m97-52h0m865,117h0m865,337h0m-2007-319h0m673,20h0m96-153h0m576,160h0m97,99h0m384,47h0m-2199-9h0m288-89h0m193-110h0m192,77h0m288-15h0m192,53h0m289-31h0m384-126h0m96,251h0m193,14h0m192,27h0m-2584-179h0m769,51h0m96,49h0m289-149h0m192,87h0m192-255h0m673,297h0m96-29h0m192,169h0m96-6h0m97-10h0m-2680-71h0m577-161h0m768,58h0m481,91h0m769-46h0m-757-115h0m384-7h0m96,178h0m-2391-131h0m1153-13h0m193-28h0m961,222h0m192-151h0m-2584,223h0m289-136h0m961-232h0m96,159h0m-1238,144h0m288-44h0m97,36h0m96-79h0m96-20h0m96,92h0m96-125h0m96,14h0m673-102h0m288-14h0m97,112h0m384-88h0m192,164h0m-2199-45h0m385-21h0m96-70h0m576-112h0m-1045,268h0m576,68h0m97-270h0m288-124h0m192,271h0m192-283h0m193,126h0m384,203h0m-2199,49h0m96,49h0m923-386h0m192,49h0m97-65h0m288,45h0m577,147h0m96,94h0m-2007-17h0m288,101h0m385-350h0m1057,131h0m192,9h0m96-74h0m96,44h0m-2295,128h0m192,183h0m193-55h0m480-291h0m481-120h0m192,92h0m385-50h0m480,55h0m-2295,301h0m192,37h0m1634-153h0m192-276h0m481,243h0m-1911,72h0m96,27h0m481-256h0m1153,72h0m-2583,157h0m192-11h0m288,81h0m577-224h0m481-33h0m288-98h0m577,62h0m96-17h0m96,136h0m-2295,7h0m96-67h0m96,169h0m96-4h0m288-30h0m289-99h0m96-8h0m288-149h0m385,39h0m192-17h0m192,197h0m-2103-46h0m193,97h0m288,52h0m96-43h0m384-90h0m97-22h0m480-214h0m385,2h0m96,73h0m192,38h0m-2391,227h0m480-45h0m289,90h0m192-113h0m577-41h0m-1238,8h0m865-95h0m769-186h0m576,274h0m-2295-15h0m192,10h0m1730-113h0m193,52h0m384-13h0m-2583-6h0m192,183h0m192-30h0m865-79h0m385-96h0m576-8h0m96,110h0m-2487-69h0m288-2h0m96,206h0m97-61h0m576-142h0m289,155h0m384-180h0m96-106h0m865,55h0m-2679,166h0m288-37h0m481,218h0m288-49h0m577-243h0m96-14h0m384-37h0m96-58h0m96-33h0m-2295,288h0m96,58h0m385-1h0m769-133h0m769-29h0m96,4h0m-2103,31h0m961,118h0m288-72h0m481-142h0m192-59h0m289-103h0m480,298h0m-2295,111h0m384-37h0m769-164h0m481-154h0m192,73h0m192,26h0m-2487,109h0m288,56h0m192,7h0m289-108h0m288,312h0m577-1560h0m96,526h0m769,738h0m96-3h0m192-61h0m-2776,128h0m577,15h0m192,223h0m193-211h0m96,101h0m96,43h0m192-186h0m96,24h0m769-125h0m-2007,146h0m96,43h0m97,159h0m96-113h0m961-118h0m288-162h0m577,119h0m192-98h0m96,129h0m-2391,145h0m1057,12h0m96-73h0m769-111h0m193-75h0m96,2h0m96-17h0m192,83h0m96,19h0m-2680-6h0m289-47h0m192,128h0m865-62h0m96,36h0m192,5h0m193-135h0m288,42h0m-1526,143h0m384,70h0m1730-137h0m-2775-4h0m192,210h0m288-155h0m96,154h0m385-73h0m192,62h0m384-295h0m385-37h0m96,7h0m96-173h0m385,318h0m192-95h0m-2584,206h0m289,33h0m865-49h0m865-257h0m-2199,24h0m288,124h0m288,140h0m962-147h0m96,20h0m192-82h0m96,15h0m192-169h0m-2103,7h0m96,134h0m193-42h0m192,121h0m96,216h0m673-71h0m96,12h0m192-202h0m481,89h0m288-125h0m192-21h0m-2295,79h0m288,109h0m97,119h0m384-238h0m96,101h0m96,238h0m481-192h0m96-96h0m577-88h0m480-69h0m-2679,42h0m384,138h0m673,163h0m192-183h0m192-62h0m481,43h0m-1430-40h0m673,220h0m96,65h0m96-116h0m288,34h0m96-71h0m96-66h0m193-225h0m384,34h0m96,160h0m193-203h0m-2680,217h0m288,99h0m673-22h0m961-182h0m96-7h0m96,0h0m193,113h0m288-162h0m-1622,336h0m96,29h0m288-97h0m192-147h0m96-91h0m385,211h0m288-300h0m193,96h0m-2296,214h0m289-103h0m96,128h0m96,188h0m192-174h0m1057-272h0m289,121h0m96-13h0m288-63h0m-2776-45h0m577,381h0m288-85h0m193,236h0m673-420h0m96,70h0m480-138h0m-2007,291h0m193-65h0m865,172h0m288-307h0m673-19h0m96,8h0m-1911,64h0m1346-37h0m288-81h0m193,32h0m96-79h0m96,164h0m288-71h0m-2584-110h0m577,421h0m192-127h0m481,41h0m96-98h0m96,129h0m193-79h0m865-239h0m-2103,260h0m192,166h0m673-237h0m384,20h0m288-85h0m289,0h0m-1911,63h0m481,47h0m672,27h0m289-205h0m192,289h0m385-216h0m-2392-81h0m192,6h0m97,262h0m96-18h0m384,19h0m192-31h0m673,58h0m769-144h0m-2487-41h0m96-41h0m384,36h0m385,48h0m96,90h0m96,68h0m1346-236h0m192-104h0m96,11h0m-2776,6h0m1250,244h0m384,34h0m96-64h0m481-31h0m192-112h0m96-45h0m-2391-50h0m865,327h0m384-3h0m193,42h0m96-91h0m577-136h0m96-24h0m-734,275h0m96,57h0m192-141h0m480-218h0m481-148h0m-2776,44h0m192,174h0m481-42h0m96-4h0m96,174h0m96,97h0m577,30h0m96,56h0m385-212h0m384-72h0m289-30h0m-2200-70h0m865,76h0m673,48h0m193-16h0m-1238,207h0m192-130h0m577-81h0m96,132h0m-1815-378h0m1826,287h0m96,53h0m97-73h0m192-59h0m-2295-96h0m384-5h0m288-62h0m96,286h0m1250,13h0m577-397h0m-2296,314h0m97-423h0m192,457h0m577,45h0m288-57h0m384,132h0m97-54h0m480-181h0m192-24h0m-2391-184h0m192,160h0m192-70h0m97,220h0m96-124h0m1153,134h0m96-10h0m96-18h0m97,54h0m384-130h0m-2295,49h0m384-70h0m385,53h0m192,169h0m577-65h0m192-182h0m96,301h0m192-58h0m289-282h0m192-114h0m-2392,104h0m97,84h0m480-56h0m96,72h0m385,236h0m288-163h0m96,165h0m96-186h0m577-86h0m96-95h0m-2583,14h0m1441,295h0m481,90h0m288-78h0m-2199-197h0m192,40h0m289-175h0m769,173h0m288,207h0m288,82h0m97-161h0m480-74h0m-1814-154h0m96-134h0m384,218h0m288,286h0m-1334-386h0m385,95h0m480-55h0m193-47h0m384,85h0m577,152h0m481-260h0m-1719,204h0m192,89h0m289-88h0m384,241h0m673-346h0m192,41h0m192-41h0m-2679-63h0m192-107h0m865,329h0m288-162h0m385,238h0m96,34h0m192-146h0m192,27h0m-2007-115h0m193-68h0m96-132h0m96,66h0m96,15h0m481,77h0m96,51h0m192,67h0m96-98h0m481,309h0m576-123h0m-2295-251h0m385,15h0m384-15h0m577,219h0m96,148h0m577-202h0m-2103-264h0m480,65h0m96,145h0m97-202h0m96,44h0m480,342h0m96-195h0m193,163h0m480-106h0m96,20h0m-2391-265h0m192-62h0m865,65h0m385,137h0m384,135h0m96,60h0m481-133h0m-1815-162h0m96-12h0m769,165h0m577,52h0m96,74h0m-1046-183h0m193,207h0m96-271h0m1057,135h0m96-104h0m96-31h0m-2583,49h0m192-72h0m384-74h0m193,77h0m673,69h0m192,131h0m577,4h0m-1815-272h0m288,80h0m481,66h0m-1238-216h0m384,83h0m289,58h0m288,38h0m673,116h0m96,17h0m96,130h0m577-250h0m-1623-71h0m577-7h0m192,221h0m289,38h0m384,15h0m96-94h0m385-196h0m-2680,98h0m577-139h0m96,9h0m96-20h0m96,242h0m385-81h0m288-48h0m384,122h0m481,88h0m-1815-219h0m193-75h0m288-38h0m673,181h0m480,90h0m289-76h0m96,60h0m-2584-226h0m1250,209h0m577-36h0m-1911-104h0m96,37h0m192-230h0m96,93h0m481-28h0m192,34h0m192,52h0m193-14h0m384,288h0m481-96h0m96-79h0m96-67h0m96,213h0m-2584,17h0m865-426h0m1154,451h0m288-56h0m193,11h0m288-280h0m-2295-38h0m384,81h0m288,80h0m289-32h0m96,33h0m96,30h0m769,53h0m-2295-27h0m480-154h0m193-196h0m384,185h0m385,243h0m576-138h0m-1142-239h0m97,229h0m96-136h0m96,63h0m577,238h0m384-140h0m96,180h0m96-261h0m-2391,53h0m96-153h0m673-82h0m1057,380h0m96-64h0m481,35h0m96-99h0m96,162h0m96-108h0m96,69h0m-2679-219h0m576,28h0m481-71h0m384,271h0m769,55h0m-1910-290h0m288,16h0m769,92h0m96-23h0m96-24h0m192-30h0m96,75h0m385,182h0m-1622-443h0m192,213h0m96,19h0m480-35h0m97-92h0m288,198h0m96,61h0m96-23h0m96,70h0m289,59h0m-1719-340h0m96,55h0m96,111h0m769-11h0m96-42h0m289,97h0m577,21h0m-2488,50h0m288-238h0m385-43h0m384,155h0m577-19h0m288,22h0m97,18h0m384,5h0m192,140h0m-2487-240h0m96,43h0m288-33h0m289-90h0m192,176h0m192-341h0m96,139h0m192,60h0m289,62h0m673,286h0m96-132h0m-1911-209h0m384-89h0m577,228h0m481,41h0m-1815-206h0m96,268h0m385-265h0m96-5h0m384,55h0m1250,117h0m-2295,79h0m96-320h0m480,80h0m289-66h0m96,15h0m192,70h0m192,9h0m385,246h0m96-245h0m-2007,208h0m192-51h0m481-269h0m577-28h0m384,125h0m288,54h0m673,315h0m-2295-335h0m96,0h0m288,53h0m673-24h0m769,5h0m-1718,91h0m96-224h0m384,110h0m577-168h0m192,18h0m96,199h0m96,54h0m193-142h0m192,153h0m384,59h0m-2679-82h0m96-149h0m769,25h0m1826,301h0m-2776,34h0m865-400h0m192,138h0m289-178h0m480,124h0m577,81h0m-1622-153h0m288-17h0m96-87h0m481-36h0m96,198h0m288,22h0m96,136h0m385-27h0m288,143h0m-2487-289h0m96,20h0m769-62h0m480-102h0m769,238h0m-2103,11h0m385-204h0m192,38h0m385-2h0m288,15h0m192,82h0m96-29h0m96,12h0m96,66h0m193-10h0m96-12h0m192,106h0m192-129h0m-2391,275h0m96-278h0m288-143h0m97,54h0m865,151h0m288-86h0m288,53h0m-2199,59h0m481-77h0m192-16h0m192-86h0m289-81h0m288,14h0m696,120h0m96,65h0m289,237h0m-2392-130h0m192,219h0m481-572h0m384,33h0m193,116h0m288-59h0m192,210h0m481,34h0m-2391,86h0m961-317h0m288,107h0m192-243h0m96,136h0m97,154h0m96-89h0m192,54h0m384,111h0m-2295,192h0m192-164h0m96,93h0m385-225h0m192,38h0m192-201h0m97,236h0m96,68h0m96-160h0m192,99h0m96-58h0m769,59h0m288,7h0m-2006-55h0m480-41h0m481,42h0m288-34h0m288-17h0m97,124h0m192-44h0m-2392,74h0m866-143h0m96,33h0m96-138h0m96,70h0m96-10h0m96-40h0m289,34h0m384-19h0m96-33h0m385,167h0m-2680,193h0m192-247h0m288,209h0m97,0h0m288-393h0m673,95h0m96-62h0m192,62h0m769,266h0m96-104h0m-2583-48h0m384,115h0m673-216h0m96,32h0m96-68h0m577-108h0m96,111h0m577,182h0m96,71h0m-2680,13h0m577-126h0m384-162h0m96,102h0m289-46h0m288-238h0m673,272h0m192-43h0m289,160h0m-2680-95h0m384,128h0m96-36h0m385-111h0m384,4h0m96,3h0m289-234h0m577,385h0m96-107h0m192-2h0m-2584,118h0m96,14h0m289-127h0m192,95h0m1346-100h0m96-187h0m96,180h0m96-151h0m-2199,366h0m577-182h0m192-82h0m288,27h0m96-45h0m289-38h0m769,52h0m-1815,199h0m673-239h0m96,18h0m192-75h0m481-11h0m288,122h0m577,74h0m-2680,205h0m385-14h0m192-163h0m96-30h0m192-244h0m385,81h0m384-34h0m96-36h0m385-104h0m288,437h0m288-5h0m97-123h0m-1623-135h0m1154-17h0m192,19h0m96,92h0m96-36h0m-2776,192h0m385-30h0m384,27h0m289-84h0m192-193h0m288-20h0m96,16h0m385-124h0m96,218h0m-2007,171h0m96-136h0m673,30h0m192-95h0m192-45h0m193-86h0m384,33h0m961,221h0m-2583-44h0m192,136h0m96,0h0m96-47h0m481-286h0m1249,116h0m-2199,44h0m577-25h0m96-69h0m673-203h0m1249,363h0m97-26h0m-2392-8h0m385-59h0m96-55h0m96,37h0m288-211h0m192-26h0m97,189h0m-1527,111h0m289-26h0m1153-259h0m192,44h0m289-67h0m769,260h0m-2296-14h0m193,122h0m288-291h0m192,113h0m96-212h0m96-7h0m385,135h0m96-35h0m577-90h0m480,192h0m-1814,40h0m192-55h0m384-86h0m193,31h0m672-123h0m289,180h0m-2680-67h0m481,121h0m1153-289h0m192,43h0m-1622,209h0m288-90h0m1058-165h0m96,132h0m-1527,291h0m385,6h0m96,12h0m96,131h0m96-236h0m192-92h0m577-108h0m96-92h0m-1526,380h0m385,10h0m672-123h0m96,107h0m193-359h0m288-28h0m96,81h0m289,42h0m384,65h0m-2584-129h0m97,166h0m480,147h0m96-204h0m769,39h0m289-9h0m480,5h0m192-137h0m289,101h0m-2584,115h0m288,28h0m193,107h0m192-159h0m192,96h0m192-21h0m866-370h0m480,255h0m-2295,142h0m192,179h0m481-205h0m96,1h0m192-27h0m288-50h0m866-195h0m480,139h0m-2680,161h0m193-80h0m96,74h0m673-178h0m96,248h0m192-68h0m288-256h0m193-202h0m288,20h0m192,231h0m-2391,24h0m480,173h0m481,87h0m96-13h0m96-106h0m192-54h0m481-76h0m96,99h0m96-199h0m192,76h0m97-119h0m96,23h0m96-35h0m96,97h0m96-115h0m-2584,343h0m962,51h0m192-101h0m480-149h0m193,4h0m576-133h0m97,199h0m192-5h0m-2199,173h0m96-56h0m96,29h0m384,53h0m96-190h0m385,44h0m96-156h0m288-88h0m193,157h0m288-26h0m96-26h0m96,88h0m-2679,161h0m672-66h0m481,101h0m288-168h0m96-49h0m962-21h0m288,126h0m-2199,118h0m577,11h0m96-149h0m192,28h0m288-88h0m193-60h0m384,6h0m192-24h0m-2487,18h0m576,147h0m97,158h0m96-117h0m384,25h0m481,18h0m384-347h0m481,139h0m-1911,181h0m385,112h0m384-28h0m288-61h0m193-13h0m192-183h0m481-124h0m96,76h0m96,76h0m-2680-2h0m288,52h0m962,69h0m576-97h0m96,136h0m577-3h0m192-230h0m-2583,151h0m96,53h0m96,91h0m288-105h0m193,145h0m192,43h0m96,43h0m384-214h0m193,67h0m192-196h0m-1334,229h0m96-58h0m673,66h0m288-73h0m192-7h0m193-130h0m480,86h0m192-175h0m97,33h0m-2392,198h0m96,167h0m289-198h0m96,100h0m288,22h0m865-203h0m385-39h0m384-192h0m-2680,141h0m193-32h0m480,292h0m961-88h0m97-71h0m576-49h0m-2391,228h0m96-174h0m192,56h0m289-85h0m480,341h0m96-194h0m673-149h0m481-150h0m96,0h0m96,32h0m-2391,48h0m865,211h0m288,151h0m96-94h0m96-42h0m481-201h0m769,36h0m-1430,416h0m96-127h0m96-157h0m865-91h0m-2007,109h0m577,180h0m96-286h0m961,43h0m96-32h0m577-97h0m192,165h0m-2680-155h0m97,173h0m192-111h0m673,26h0m384,189h0m192,135h0m289-322h0m192,97h0m384-204h0m97,225h0m96-274h0m-2296,239h0m193,105h0m480,19h0m385,61h0m865-302h0m384-32h0m-2679,142h0m672,120h0m696,94h0m193-66h0m192-86h0m481-130h0m-2103-9h0m192,32h0m96,130h0m96,38h0m577,148h0m1634-449h0m-2680,293h0m96-135h0m673,342h0m192-28h0m961-262h0m193,120h0m480-133h0m-2391,141h0m865,73h0m288-105h0m1154-96h0m-2296-19h0m385,0h0m288,231h0m865-41h0m97-39h0m480-172h0m96,29h0m-2103,27h0m96,32h0m96,19h0m1154,31h0m96,2h0m577-59h0m96-107h0m-2584-26h0m481,112h0m865,153h0m288,18h0m577-181h0m96-52h0m-2295-34h0m577,164h0m96-21h0m480,91h0m-615-71h0m481,50h0m577,82h0m192-110h0m192,168h0m289-228h0m96,159h0m96-221h0m192,236h0m-2487-214h0m96-44h0m769,241h0m192,83h0m288,36h0m289-133h0m576-99h0m193-35h0m192-91h0m-2488,121h0m96,66h0m193-60h0m288-28h0m288-45h0m962,14h0m672-140h0m-2679,114h0m576-32h0m481-72h0m96,288h0m96-73h0m193-38h0m480-58h0m288,43h0m385-199h0m-2584,104h0m385-91h0m384,234h0m1250-129h0m96,52h0m-1719-164h0m97,193h0m288,10h0m577,169h0m96,44h0m961-352h0m-2103,46h0m480,58h0m193-48h0m96,54h0m192,157h0m288,68h0m385-156h0m577-201h0m96-40h0m-1911,111h0m481,75h0m288,72h0m288-38h0m673-142h0m96,30h0m193-6h0m-2584,29h0m384-157h0m481,223h0m96-30h0m385,86h0m480-39h0m769-345h0m-2680,227h0m289,8h0m192-158h0m96,146h0m385,62h0m480,66h0m577,148h0m288-321h0m-2391-12h0m288-97h0m385,151h0m96-117h0m96,102h0m96-110h0m673,235h0m192-37h0m96,142h0m673-140h0m-2295-284h0m192-5h0m961,177h0m481,271h0m769-292h0m-2776,149h0m96-135h0m577-108h0m384,104h0m769,121h0m96,106h0m96-219h0m289,77h0m-2103-76h0m288-110h0m481,105h0m96,4h0m384,81h0m962,52h0m288-331h0m-2584-49h0m193,130h0m96,128h0m192-111h0m384-34h0m96,121h0m866,173h0m192-48h0m96,104h0m577-437h0m-2680-3h0m480-19h0m289,209h0m384,61h0m193,47h0m96-71h0m1153,69h0m-2487-252h0m480,36h0m289,188h0m1057,48h0m96-47h0m-1430-159h0m96-151h0m96,134h0m577,165h0m96,69h0m288-83h0m385,41h0m480-217h0m-2103-79h0m481,98h0m192,209h0m577,105h0m577-16h0m96-257h0m96,59h0m-2488-23h0m1250-87h0m192,242h0m192-165h0m96,209h0m-1910-146h0m480-264h0m769,162h0m193,173h0m96-97h0m288,29h0m577,26h0m288-69h0m-1815-74h0m97-49h0m288,153h0m192,7h0m96-18h0m577,20h0m96,83h0m385,35h0m-2392-145h0m961,22h0m289,110h0m384-47h0m289,140h0m96-108h0m96-109h0m96,102h0m-2007-156h0m288-140h0m193-49h0m192,157h0m96,159h0m384-44h0m193,80h0m384,65h0m385,20h0m192-267h0m-2103-97h0m384-167h0m577,443h0m96,2h0m961-40h0m-1526-256h0m192,184h0m962,108h0m96,43h0m288-174h0m-2199-33h0m192-20h0m865,93h0m385,110h0m384-67h0m-2295-47h0m1249-33h0m1250-12h0m-2488,136h0m97-297h0m192,181h0m673-164h0m673,187h0m192,129h0m288,76h0m385-213h0m96,133h0m-2488-206h0m192,249h0m97-221h0m769-176h0m192,168h0m384,81h0m289-52h0m192,63h0m192,119h0m-2391-369h0m288,113h0m96-144h0m385,63h0m288-30h0m96,116h0m288,105h0m481,232h0m288-178h0m385,174h0m96-177h0m-2391-177h0m384-91h0m961,349h0m96-277h0m97,151h0m384-81h0m-2103,120h0m961-315h0m96,10h0m289,166h0m96,190h0m288-61h0m-638-342h0m961,219h0m385,172h0m-2199-208h0m192,92h0m96-133h0m96,69h0m192-101h0m481,29h0m192,0h0m385,272h0m673-179h0m96,215h0m-2776-262h0m96,246h0m96-114h0m481-248h0m673,196h0m192-27h0m192-77h0m192,46h0m481,259h0m192-140h0m96,101h0m-2583-131h0m96-78h0m192,30h0m192,41h0m1057-214h0m97,302h0m288-2h0m96-60h0m-1911-23h0m289-286h0m192,149h0m384,70h0m385-49h0m96-3h0m288,218h0m385-74h0m577,52h0m-2776,158h0m192-1h0m288-449h0m289-26h0m769,213h0m288-136h0m288,183h0m96-33h0m193,138h0m-2103-38h0m865,70h0m288-313h0m96-31h0m96,167h0m577,145h0m96,52h0m481,24h0m-2776,45h0m769-388h0m480,148h0m97-61h0m480,45h0m96,100h0m96-47h0m673,87h0m-2680,9h0m1250-190h0m769,261h0m481-162h0m-2584,153h0m288-109h0m193-74h0m961-51h0m192,13h0m577,317h0m96-204h0m-2103,37h0m1153-286h0m193,204h0m96-13h0m480,73h0m192-40h0m289,138h0m96,105h0m-1526-528h0m576,360h0m96-74h0m97-5h0m192,196h0m96-50h0m96-65h0m192,183h0m193-159h0m-2680-56h0m769,59h0m576-280h0m481,83h0m192,129h0m193-39h0m-1911,67h0m96,17h0m192,38h0m865-240h0m481,123h0m96,20h0m96-93h0m96,99h0m192,37h0m-2006,90h0m384-64h0m481-120h0m865,106h0m288-50h0m-1911-10h0m385-52h0m192-70h0m288,3h0m769,111h0m-2007,65h0m481-19h0m288-155h0m385,24h0m384-44h0m96,82h0m193,42h0m672,160h0m-2679,44h0m288,1h0m865-359h0m385-7h0m480-15h0m193,96h0m576,128h0m-2680,5h0m1058-162h0m96-102h0m96,84h0m192,104h0m96-13h0m97-87h0m384-52h0m481,311h0m96-90h0m-2007-164h0m96-29h0m192,73h0m481-56h0m673-49h0m672,302h0m-2775,28h0m96-149h0m288-17h0m192,111h0m385-110h0m192-209h0m96,118h0m385-200h0m384,167h0m192,68h0m-1910-29h0m96,273h0m288-124h0m192-167h0m96-24h0m385-172h0m96,146h0m96,58h0m192-146h0m289,197h0m480,162h0m193-78h0m-2680,122h0m96,54h0m96-191h0m288,84h0m97-155h0m480-257h0m481,87h0m192-90h0m481,172h0m288,119h0m192,88h0m96-117h0m-2679,191h0m96-44h0m96-55h0m288-109h0m192,127h0m96-146h0m97-125h0m96,11h0m192-21h0m673-4h0m384,358h0m-2295,34h0m96-28h0m288,163h0m481-488h0m288,46h0m289-146h0m769,409h0m-1719-41h0m289-103h0m384-145h0m481-30h0m192,130h0m96-71h0m481,242h0m192-150h0m-2680,120h0m385,64h0m480-199h0m481-135h0m96,44h0m384,83h0m385,17h0m-2199,246h0m576-195h0m289-100h0m96,52h0m1346,72h0m96-217h0m192,175h0m-2391-27h0m96,103h0m769-351h0m384,293h0m96-265h0m289,10h0m192,70h0m480,29h0m-2295,240h0m192-39h0m193,76h0m96-151h0m1345-60h0m193,31h0m384,122h0m-2391-31h0m865-144h0m1057,28h0m673-31h0m-2680-3h0m481,81h0m96-115h0m673,73h0m384-204h0m385,209h0m96-51h0m192-41h0m385,138h0m-1623-107h0m192-288h0m385,281h0m961,83h0m-2103,133h0m96-128h0m385-190h0m96,17h0m192,15h0m192-126h0m385,192h0m192-43h0m96,34h0m96-175h0m289,138h0m-2296,152h0m96-28h0m97-30h0m96,158h0m384-188h0m385-116h0m384-190h0m192,150h0m97,264h0m480-222h0m-2295,218h0m480,39h0m385-107h0m96-229h0m96,62h0m192-64h0m97-2h0m192,23h0m288-170h0m673,352h0m-1911,45h0m481-81h0m192-184h0m288,24h0m289-13h0m96,95h0m577,197h0m-2103-202h0m96,255h0m96-92h0m288-165h0m192,239h0m193-245h0m1057,171h0m96-89h0m-2680,167h0m193-31h0m96,17h0m96,65h0m96-251h0m192,134h0m96-205h0m289,167h0m96-190h0m1442,118h0m-2392,157h0m96-15h0m769-226h0m289,93h0m192-312h0m96,170h0m481,17h0m288,152h0m-1046-41h0m673-87h0m385,21h0m192,87h0m-2584,165h0m288,90h0m193-117h0m288-210h0m1634,38h0m-2295,174h0m288,12h0m96,103h0m96,51h0m577-207h0m481-217h0m288-32h0m385,256h0m96-201h0m288,234h0m-2776,68h0m96-41h0m481,76h0m192-7h0m289,30h0m672-355h0m289,63h0m673,123h0m-2103-30h0m384,157h0m577-120h0m288-185h0m96,63h0m96,67h0m385-12h0m-2103,94h0m96,21h0m96,192h0m481-127h0m288-88h0m96-13h0m385-153h0m96-39h0m384,53h0m289-2h0m-2488,186h0m288,131h0m866-118h0m192,2h0m96,3h0m673-285h0m288,6h0m96,258h0m289,15h0m-2584,106h0m288-219h0m96,138h0m673,17h0m673-161h0m96,15h0m385-260h0m96,222h0m96,35h0m-2584-150h0m289,232h0m192,26h0m288,120h0m385-188h0m192-2h0m192,66h0m289-214h0m-1719,160h0m192,60h0m96-15h0m96,44h0m193,41h0m96-47h0m96,117h0m192-171h0m385-77h0m480-13h0m96-93h0m193-121h0m384,107h0m-2680,4h0m96,78h0m481,220h0m-265-53h0m96-50h0m288,159h0m193-23h0m673-137h0m96-69h0m576-245h0m-2103,99h0m96,390h0m289-150h0m96-29h0m673,2h0m480,26h0m96-189h0m385,31h0m96-125h0m96,115h0m-2295,64h0m192,43h0m1058,205h0m576-253h0m192,59h0m193-203h0m384,100h0m96,28h0m-2391,126h0m96,20h0m288,132h0m193-252h0m288,99h0m384-55h0m673-215h0m193,32h0m288,160h0m-2391,98h0m96,112h0m769-211h0m96,137h0m384-258h0m289-51h0m96,116h0m384,78h0m192,181h0m-2775-252h0m192,177h0m192-83h0m961,126h0m192-181h0m97,156h0m865-326h0m-2488,216h0m385,24h0m96-21h0m576,39h0m289-14h0m96,42h0m96-78h0m192,119h0m577-198h0m-1526,336h0m192-20h0m673-217h0m96-172h0m673,14h0m96,53h0m-2007,123h0m384,330h0m193-157h0m192-38h0m96-1h0m192-151h0m193-32h0m384-108h0m96,47h0m385,75h0m96-40h0m96,158h0m-2680-215h0m192,59h0m769,320h0m289-163h0m288,57h0m288-117h0m289-230h0m576,109h0m-2487,140h0m192,92h0m96,1h0m96,182h0m481-239h0m96-4h0m192,49h0m193,85h0m576-298h0m577-177h0m-2487,365h0m96-21h0m576,104h0m193-112h0m96,57h0m384-57h0m192,49h0m577-309h0m385,165h0m-2776,5h0m96,11h0m288-93h0m673,299h0m96-148h0m192-3h0m289-70h0m288,80h0m96-170h0m289-139h0m-2296,236h0m97-81h0m384,87h0m288,192h0m96,7h0m385,21h0m96-166h0m961-210h0m-2391-4h0m1153,253h0m193,84h0m96-67h0m96,53h0m192-278h0m96,189h0m961-85h0m-2199-38h0m96,94h0m673,43h0m192-13h0m481-146h0m96,121h0m289-281h0m96,116h0m96-109h0m96,67h0m96,136h0m-2488-34h0m97,128h0m192-159h0m288,117h0m96-63h0m481,106h0m288,61h0m673-58h0m-2391-254h0m384,243h0m385,3h0m96-79h0m96,139h0m288-61h0m193,17h0m96-87h0m96,146h0m576-396h0m385,115h0m96,25h0m-2295,2h0m192,64h0m96,168h0m289-25h0m96,21h0m576-98h0m289,66h0m96-194h0m96-17h0m-1815,16h0m385,181h0m577-118h0m192,41h0m1345-253h0m-2487,192h0m673,55h0m384,45h0m673-231h0m385,2h0m192,116h0m96-48h0m-2199-240h0m96,362h0m961,65h0m288-148h0m289,17h0m384-24h0m96-152h0m-1622,358h0m96-93h0m192,170h0m385-178h0m288-141h0m481,111h0m96-113h0m-2584-80h0m385-66h0m673,343h0m384-53h0m288,5h0m385-101h0m-2103-115h0m192-55h0m288,141h0m193,87h0m384-6h0m192,36h0m-949-21h0m769,108h0m769-241h0m384,27h0m385-91h0m-1142,285h0m192-185h0m673,46h0m-2295-22h0m96-196h0m384,50h0m96,164h0m866,200h0m96-139h0m192-21h0m384-142h0m673-75h0m-2391,66h0m96-12h0m96-144h0m96,222h0m289,20h0m96,4h0m480,40h0m192,76h0m97-110h0m192,78h0m192-83h0m481-164h0m-2680-248h0m192,9h0m96,235h0m96,53h0m769-48h0m96,94h0m385,185h0m192-11h0m192-200h0m193,223h0m-2103-204h0m480-45h0m289-76h0m192,194h0m192-77h0m192,140h0m193,22h0m576-201h0m289,80h0m96-8h0m-2295,5h0m288-72h0m480,169h0m1346-140h0m289,88h0m-2776-359h0m672,293h0m97-153h0m288,160h0m288,140h0m193,61h0m769-267h0m96,70h0m-2296-267h0m96,79h0m962,303h0m192,189h0m481-3h0m480-251h0m288-109h0m193,103h0m-1719-35h0m577,194h0m192,21h0m192-44h0m481-216h0m-2391,58h0m96-136h0m192,82h0m288,50h0m385,206h0m1345-84h0m97,29h0m-2200-256h0m769,173h0m1346-114h0m-2103-58h0m1153,362h0m97-158h0m192,40h0m192,101h0m192-26h0m96,40h0m-1910-231h0m480-108h0m385,41h0m192,233h0m577-195h0m288,285h0m481-231h0m-2680-103h0m288-14h0m769,183h0m192,146h0m577-14h0m481-17h0m96-143h0m-2007-37h0m577,74h0m192,61h0m1153-171h0m193,235h0m-2392-220h0m96-80h0m577,112h0m673-1043h0m673,1118h0m384,4h0m-2583,74h0m480-28h0m192-68h0m193-168h0m96,9h0m96,287h0m481-22h0m288,126h0m-1815-413h0m577-4h0m288,207h0m96,39h0m481,9h0m192,84h0m-949-406h0m192,139h0m1153,168h0m289,70h0m96-116h0m-1719,165h0m865-77h0m193,76h0m384-51h0m-1622-264h0m384-38h0m96,54h0m192,195h0m385,89h0m96-37h0m288,100h0m577-202h0m96,75h0m-2583-212h0m96,105h0m96-55h0m577-131h0m288,158h0m769,254h0m481-47h0m96-23h0m96-116h0m-2199-182h0m1249,298h0m385-38h0m288,19h0m192-218h0m-1526,130h0m192,18h0m769,26h0m673,84h0m-2584-81h0m193,5h0m96-335h0m192,168h0m481-102h0m576,257h0m96-56h0m577,217h0m481-119h0m96,62h0m-2584-170h0m673-156h0m192,305h0m1585,96h0m96-122h0m-2776-211h0m288,78h0m289-197h0m96,200h0m96-86h0m96-48h0m288,233h0m1058,168h0m96-25h0m-2007-178h0m96-119h0m288,104h0m96-124h0m193,22h0m1057,260h0m-2007-81h0m192-54h0m481-245h0m961,333h0m192-11h0m481-58h0m192,116h0m192-215h0m-2679,81h0m192,17h0m288-290h0m385,240h0m192-137h0m385,44h0m1057,33h0m96,42h0m-2391-124h0m96-19h0m192,54h0m96,58h0m96-63h0m96-28h0m289-5h0m1057,197h0m96-21h0m-2103,115h0m673-333h0m288-2h0m193,12h0m480,133h0m288,46h0m481-1h0m288-19h0m-2583,16h0m480-148h0m289-89h0m96,118h0m96,12h0m96,23h0m769,189h0m385,15h0m192-212h0m-2392-74h0m289,53h0m865,53h0m288-171h0m481,353h0m577-121h0m-2584-133h0m288,5h0m577-110h0m192-97h0m96,195h0m96,151h0m481,74h0m96,0h0m289,51h0m480-210h0m-2487-152h0m1057,157h0m288-16h0m193-11h0m96,70h0m96,34h0m96,80h0m-2007-269h0m288,31h0m96-60h0m97,50h0m192-105h0m192-20h0m288,50h0m673,274h0m-1814-171h0m96-66h0m288-59h0m192,185h0m193-151h0m96-30h0m480-28h0m385,146h0m192,172h0m577-5h0m-2392-153h0m385-90h0m384-47h0m481-2h0m-1430,165h0m96,2h0m384-127h0m385,76h0m288,24h0m289-212h0m384,120h0m192,130h0m673-36h0m-2295-63h0m192,52h0m96-209h0m96,289h0m96-164h0m385,104h0m96-71h0m577,23h0m192,288h0m-1815-250h0m1058-145h0m288,78h0m192,79h0m96-84h0m96,237h0m97-16h0m192,26h0m192,181h0m-2487-331h0m576-33h0m385-210h0m-373,326h0m384-133h0m1346,221h0m192,48h0m193-75h0m-1815-268h0m577-61h0m192,131h0m288,261h0m96-99h0m193,172h0m96-267h0m-1911,118h0m96-92h0m673-180h0m192,22h0m96,48h0m192-59h0m385,296h0m96-21h0m96,12h0m192,70h0m-2391-173h0m96,95h0m481-250h0m576-32h0m193,85h0m769,94h0m576-8h0m-2776,226h0m577-199h0m673-98h0m288,64h0m97-164h0m865,260h0m192,233h0m-2584-270h0m192,37h0m193-84h0m96-49h0m192,26h0m96-130h0m192,84h0m193,117h0m96-124h0m96-134h0m384,242h0m865,252h0m-2679-310h0m192,169h0m96,53h0m769-154h0m288-215h0m289,181h0m576,123h0m385,149h0m-2391-83h0m1153-314h0m96,62h0m288,26h0m289,215h0m-1911-70h0m288,141h0m769-357h0m289-26h0m96,71h0m192,84h0m865,138h0m-2391-45h0m288-110h0m385,50h0m288-240h0m769,179h0m769,138h0m-2392-110h0m97,142h0m192-123h0m96-4h0m288-77h0m193-31h0m769,36h0m288,65h0m481,69h0m-2584,206h0m96-94h0m481-177h0m1634-26h0m384,168h0m-2584-79h0m193-45h0m96,40h0m192-25h0m288-239h0m97,94h0m384-123h0m96,124h0m385,184h0m672,98h0m-2583-22h0m384-62h0m96,3h0m193-7h0m288-314h0m1153,126h0m-2006,271h0m384-163h0m385-89h0m384-37h0m481-186h0m-1815,385h0m192-26h0m96,119h0m385-68h0m1826-266h0m192,294h0m-2679,41h0m192-170h0m288-34h0m481-4h0m96-265h0m-854,349h0m577-109h0m96-54h0m192,87h0m97,9h0m288-171h0m96,56h0m385-115h0m192,49h0m192,236h0m-2295,195h0m192-133h0m96-77h0m385,1h0m192,36h0m673-250h0m192-91h0m288,182h0m481,80h0m192,14h0m-2295,166h0m96,51h0m192-122h0m385-184h0m288-69h0m192,0h0m962,22h0m192,209h0m96,43h0m-2392-6h0m577-277h0m96,17h0m289-33h0m673-90h0m96,76h0m96,123h0m96,28h0m96-179h0m192,182h0m192-204h0m-2103,373h0m289-213h0m1442-62h0m96,193h0m96-128h0m192,150h0m-2776-28h0m96-65h0m96-74h0m385,194h0m288-139h0m865-145h0m193-8h0m288,73h0m96,76h0m288-147h0m193,366h0m-2584-166h0m288,101h0m673-221h0m673-194h0m481,55h0m96,157h0m192,100h0m-61,18h0m-2103,42h0m192-38h0m481-66h0m96-120h0m288,15h0m481-111h0m192,39h0m192,165h0m-2391,1h0m961,89h0m673-356h0m480-151h0m97,237h0m192,12h0m-2392,201h0m481-245h0m192,239h0m289-138h0m96,8h0m576-195h0m97,33h0m480-99h0m192,348h0m96-162h0m-2295,197h0m385,78h0m96,34h0m192-224h0m192,28h0m289,12h0m96-94h0m480-183h0m289,71h0m-1815,386h0m288-125h0m193-134h0m769-96h0m480-22h0m-1911,129h0m97,0h0m288,92h0m865-169h0m96,21h0m192,65h0m96-199h0m97,75h0m192-24h0m577,58h0m-2680,125h0m192-27h0m1057-139h0m96,6h0m-1141,244h0m96-25h0" stroke="#9467bd" stroke-width="23"/></g></g><g clip-path="url(#c11)"><path d="M420.5,401.8 420.5,398.1 420.8,400.0 420.8,377.8 421.2,379.5 421.2,373.8 421.5,377.8 421.5,393.7 421.8,392.3 421.8,405.9 422.2,368.8 422.2,409.6 422.5,410.4 422.5,406.3 422.8,408.5 422.8,393.9 423.2,394.4 423.2,376.7 423.5,375.5 423.5,383.5 423.8,383.2 423.8,399.5 424.2,398.6 424.2,409.0 424.5,406.7 424.5,411.5 424.8,410.5 424.8,406.2 425.2,407.2 425.2,388.8 425.5,390.3 425.5,377.0 425.8,377.2 425.8,388.1 426.2,388.3 426.2,402.5 426.5,401.2 426.5,410.0 426.8,411.0 426.8,407.3 427.2,407.0 427.2,410.1 428.2,378.2 428.2,389.5 428.5,388.7 428.5,403.8 428.8,403.0 428.8,409.3 429.2,406.3 429.2,410.6 429.5,410.2 429.5,397.9 429.8,399.5 429.8,378.4 430.2,374.7 430.2,379.3 430.5,377.9 430.5,393.7 430.8,393.9 430.8,406.4 431.2,403.8 431.2,409.0 431.5,409.3 431.5,327.4 431.8,408.3 431.8,391.3 432.2,391.6 432.2,373.8 432.5,372.7 432.5,378.9 432.8,386.8 432.8,396.1 433.2,395.5 433.2,406.5 433.5,404.8 433.5,408.6 433.8,408.2 433.8,402.7 434.2,403.9 434.2,384.7 434.5,386.6 434.5,371.2 434.8,371.7 434.8,382.0 435.2,380.7 435.2,397.1 435.5,396.6 435.5,405.7 435.8,402.5 435.8,406.3 436.2,406.6 436.2,399.8 436.5,400.4 436.5,380.6 436.8,381.7 436.8,371.1 437.2,371.7 437.2,384.3 437.5,383.2 437.5,399.0 437.8,398.1 437.8,405.5 438.2,402.1 438.2,405.1 438.5,402.9 438.5,396.4 438.8,397.8 438.8,376.1 439.2,377.7 439.2,370.4 439.5,372.7 439.5,386.8 439.8,385.5 439.8,400.5 440.2,398.1 440.2,405.5 440.5,401.7 440.5,405.4 440.8,404.7 440.8,391.7 441.2,393.7 441.2,372.8 441.5,369.3 441.5,376.7 441.8,374.7 441.8,390.4 442.2,389.6 442.2,403.3 442.5,400.5 442.5,405.6 442.8,406.0 442.8,401.2 443.2,403.3 443.2,386.3 443.5,387.5 443.5,370.8 443.8,370.0 443.8,380.1 444.2,380.2 444.2,395.4 444.5,394.7 444.5,404.1 444.8,401.8 444.8,406.0 445.2,402.3 445.2,406.1 445.8,384.5 445.8,371.3 446.2,371.5 446.2,382.5 446.5,380.6 446.5,396.5 446.8,395.5 446.8,404.8 447.2,405.8 447.2,401.7 447.5,404.7 447.5,399.6 447.8,400.5 447.8,381.1 448.2,382.3 448.2,371.9 448.5,373.1 448.5,384.6 448.8,383.1 448.8,397.4 449.2,396.3 449.2,404.5 449.5,401.0 449.5,404.7 449.8,403.6 449.8,397.1 450.2,398.4 450.2,380.5 450.5,381.6 450.5,372.9 450.8,374.0 450.8,386.6 451.2,385.2 451.2,392.3 451.5,399.3 451.5,403.1 451.8,399.9 451.8,404.2 452.2,403.2 452.2,394.6 452.5,396.4 452.5,376.5 452.8,378.3 452.8,373.2 453.2,376.0 453.2,389.8 453.5,368.8 453.5,400.3 453.8,399.2 453.8,403.8 454.2,403.5 454.2,400.7 454.5,402.7 454.5,389.5 454.8,390.0 454.8,374.0 455.2,373.6 455.2,380.8 455.5,380.1 455.5,393.7 455.8,392.9 455.8,401.7 456.2,403.0 456.2,399.8 456.5,403.2 456.5,399.9 456.8,394.1 456.8,383.0 457.2,384.2 457.2,373.6 457.5,374.7 457.5,384.7 457.8,383.6 457.8,396.9 458.2,395.4 458.2,401.7 458.5,403.0 458.5,399.2 458.8,403.0 458.8,394.0 459.2,394.7 459.2,377.9 459.5,379.6 459.5,374.4 459.8,376.2 459.8,388.4 460.2,388.4 460.2,399.0 460.5,396.7 460.5,400.5 460.8,400.8 460.8,397.5 461.2,399.0 461.2,388.3 461.5,388.5 461.5,376.6 461.8,375.2 461.8,382.3 462.2,380.0 462.2,391.9 462.5,390.6 462.5,398.3 462.8,394.6 462.8,398.9 463.5,385.7 463.5,383.5 463.8,383.6 463.8,375.9 464.2,376.4 464.2,385.4 464.5,384.0 464.5,393.1 464.8,392.1 464.8,397.3 465.2,397.3 465.2,394.6 465.5,396.7 465.5,390.5 465.8,392.2 465.8,378.1 466.2,377.2 466.2,381.0 466.5,379.3 466.5,389.0 466.8,388.0 466.8,395.5 467.2,393.9 467.2,397.5 467.5,397.5 467.5,394.2 467.8,396.3 467.8,386.4 468.2,387.1 468.2,294.1 468.8,383.6 468.8,392.1 469.2,390.5 469.2,396.9 469.5,397.3 469.5,393.4 469.8,397.1 469.8,392.6 470.2,394.9 470.2,382.6 470.5,383.6 470.5,377.9 470.8,379.6 470.8,387.7 471.2,386.3 471.2,394.0 471.5,391.6 471.5,396.5 471.8,393.6 471.8,397.4 472.2,396.5 472.2,389.5 472.5,390.6 472.5,380.8 472.8,383.1 472.8,379.5" stroke="#1f77b4" stroke-width="1.0"/><path d="M472.8,394.2 472.8,397.1 473.2,395.5 473.2,399.9 473.5,399.8 473.5,396.3 473.8,398.0 473.8,391.2 474.2,393.2 474.2,386.7 474.5,386.0 474.5,389.8 474.8,386.9 474.8,394.3 475.2,399.2 475.2,396.4 475.5,396.7 475.5,401.8 475.8,401.2 475.8,395.3 476.2,398.1 476.2,389.6 476.5,391.3 476.5,386.6 476.8,385.3 476.8,389.5 477.2,388.6 477.2,395.9 477.5,393.6 477.5,401.6 477.8,399.6 477.8,402.9 478.2,401.8 478.2,395.3 478.5,396.7 478.5,389.2 478.8,390.0 478.8,385.3 479.2,385.3 479.2,391.9 479.5,390.2 479.5,398.3 479.8,397.1 479.8,404.1 480.2,404.5 480.2,401.1 480.5,403.1 480.5,394.4 480.8,396.7 480.8,388.8 481.5,388.6 481.5,393.9 481.8,391.4 481.8,401.8 482.2,400.9 482.2,406.9 482.5,407.3 482.5,402.1 482.8,403.1 482.8,393.5 483.2,395.3 483.2,387.1 483.5,388.9 483.5,385.0 483.8,386.8 483.8,396.0 484.2,394.4 484.2,406.0 484.5,403.4 484.5,409.9 484.8,409.3 484.8,401.6 485.2,403.7 485.2,391.9 485.5,392.6 485.5,383.6 485.8,383.1 485.8,387.5 486.2,386.4 486.2,396.8 486.5,395.9 486.5,407.0 486.8,404.8 486.8,410.0 487.2,409.1 487.2,400.4 487.5,401.3 487.5,388.5 487.8,389.8 487.8,381.8 488.2,382.3 488.2,387.8 488.5,385.9 488.5,398.7 488.8,397.9 488.8,407.9 489.2,409.0 489.2,405.0 489.5,407.0 489.5,395.7 489.8,397.2 489.8,385.5 490.2,387.3 490.2,381.0 490.5,381.5 490.5,389.4 490.8,389.1 490.8,400.6 491.2,398.3 491.2,406.6 491.5,407.2 491.5,401.3 491.8,402.9 491.8,391.6 492.2,393.7 492.2,382.4 492.5,383.8 492.5,379.3 492.8,381.4 492.8,388.8 493.2,396.6 493.2,401.1 493.5,399.5 493.5,405.5 493.8,405.8 493.8,398.8 494.2,399.7 494.2,387.0 494.5,388.2 494.5,380.0 494.8,377.7 494.8,383.1 495.2,381.4 495.2,393.6 495.5,392.0 495.5,403.5 495.8,401.8 495.8,406.9 496.2,406.9 496.2,397.0 496.5,398.7 496.5,385.4 496.8,387.4 496.8,378.1 497.2,378.4 497.2,383.5 497.5,382.3 497.5,394.3 497.8,394.0 497.8,404.1 498.2,403.4 498.2,407.7 498.5,406.2 498.5,397.3 498.8,398.4 498.8,393.8 499.2,384.8 499.2,377.9 499.5,377.9 499.5,384.5 500.2,399.9 500.2,406.0 500.5,404.8 500.5,408.5 500.8,406.4 500.8,397.0 501.2,397.3 501.2,384.9 501.5,386.0 501.5,378.8 501.8,379.3 501.8,386.8 502.2,386.4 502.2,399.0 502.5,397.2 502.5,408.6 502.8,410.1 502.8,404.6 503.2,405.8 503.2,394.0 503.5,394.8 503.5,382.8 503.8,384.0 503.8,379.8 504.2,372.9 504.2,391.4 504.5,390.4 504.5,403.7 505.2,409.4 505.2,400.7 505.5,403.2 505.5,388.9 505.8,389.6 505.8,380.0 506.2,379.7 506.2,385.4 506.5,384.2 506.5,398.5 506.8,396.0 506.8,408.5 507.2,410.6 507.2,406.3 507.5,407.8 507.5,395.5 507.8,397.5 507.8,383.3 508.2,385.4 508.2,379.4 508.5,379.9 508.5,390.0 508.8,389.3 508.8,403.1 509.2,401.2 509.2,410.4 509.5,410.4 509.5,401.6 509.8,405.1 509.8,390.0 510.2,391.5 510.2,381.0 510.5,379.1 510.5,383.9 510.8,382.8 510.8,396.2 511.2,395.3 511.2,407.5 511.5,406.5 511.5,409.1 511.8,409.9 511.8,398.1 512.2,398.7 512.2,385.9 512.5,387.8 512.5,380.0 512.8,379.3 512.8,388.4 513.2,386.9 513.2,401.3 513.5,398.2 513.5,409.6 513.8,410.3 513.8,404.6 514.2,408.2 514.2,394.1 514.5,394.9 514.5,383.1 514.8,385.3 514.8,380.4 515.2,381.6 515.2,392.6 515.5,390.9 515.5,404.1 515.8,403.3 515.8,409.8 516.2,409.6 516.2,401.9 516.5,403.1 516.5,389.3 516.8,391.3 516.8,382.5 517.2,382.4 517.2,386.7 517.5,385.1 517.5,387.9 517.8,402.8 517.8,406.3 518.2,408.6 518.2,404.6 518.5,406.9 518.5,397.6 518.8,399.8 518.8,387.4 519.2,390.4 519.2,382.4 519.5,383.0 519.5,389.6 519.8,389.3 519.8,399.8 520.2,398.8 520.2,405.9 520.5,406.9 520.5,402.6 520.8,403.8 520.8,395.5 521.2,395.8 521.2,387.4 521.5,389.2 521.5,384.4 521.8,386.1 521.8,393.3 522.2,391.2 522.2,400.9 522.5,398.7 522.5,405.2 523.2,401.0 523.2,393.3 523.5,394.4 523.5,388.5 523.8,387.2 523.8,390.9 524.2,388.8 524.2,396.3 524.5,394.9 524.5,401.9 524.8,399.9 524.8,404.4 525.2,403.8 525.2,397.1 525.5,398.8 525.5,392.2 525.8,394.6 525.8,389.3 526.2,389.2 526.2,393.2 526.5,391.7 526.5,398.7 526.8,396.4 526.8,402.1 527.2,398.9 527.2,403.1 527.5,401.6 527.5,396.1 527.8,397.9 527.8,392.1 528.2,393.6 528.2,390.8 528.5,390.7 528.5,395.7 528.8,394.2 528.8,398.7 529.2,397.5 529.2,401.9 529.5,401.2 529.5,397.7 529.8,400.8 529.8,395.3 530.2,397.2 530.2,392.6 530.5,391.5 530.5,395.5 530.8,391.9 530.8,397.3 531.2,394.1 531.2,399.9 531.5,398.6 531.5,397.5" stroke="#ff7f0e" stroke-width="1.0"/><path d="M531.5,404.2 531.5,399.0 531.8,402.4 531.8,396.4 532.2,398.0 532.2,392.3 532.5,391.9 532.5,395.6 532.8,393.2 532.8,397.7 533.2,395.9 533.2,402.2 533.5,399.5 533.5,404.4 533.8,405.4 533.8,400.7 534.2,403.5 534.2,394.0 534.5,396.6 534.5,389.2 534.8,389.0 534.8,392.4 535.2,390.2 535.2,394.2 538.2,407.9 538.2,405.7 538.5,407.7 538.5,399.4 538.8,399.6 538.8,387.2 539.2,389.0 539.2,383.0 539.5,382.9 539.5,392.1 539.8,390.7 539.8,401.2 540.2,401.4 540.2,410.7 540.5,412.6 540.5,408.3 540.8,410.3 540.8,396.0 541.2,396.6 541.2,383.3 541.5,380.0 541.5,384.8 541.8,383.6 541.8,394.2 542.2,394.0 542.2,407.5 542.5,405.7 542.5,416.0 542.8,416.1 542.8,407.9 543.2,409.8 543.2,390.3 543.5,391.8 543.5,379.2 543.8,379.5 543.8,386.4 544.2,385.2 544.2,400.6 544.5,399.0 544.5,413.8 544.8,413.1 544.8,419.8 545.2,418.6 545.2,404.3 545.5,405.6 545.5,383.0 545.8,385.8 545.8,377.1 546.2,378.8 546.2,389.9 546.5,389.2 546.5,406.8 546.8,404.9 546.8,420.0 547.2,422.9 547.2,418.4 547.5,419.0 547.5,398.5 547.8,398.7 547.8,378.1 548.2,375.8 548.2,381.3 548.5,379.3 548.5,395.1 548.8,394.5 548.8,412.8 549.2,413.2 549.2,423.6 549.5,424.6 549.5,414.7 549.8,415.7 549.8,389.6 550.2,390.0 550.2,373.7 550.5,373.8 550.5,381.0 550.8,381.3 550.8,399.0 551.2,397.7 551.2,415.4 552.5,378.0 552.5,374.2 552.8,375.0 552.8,385.2 553.2,383.9 553.2,390.2 553.5,405.8 553.5,416.1 553.8,415.7 553.8,421.2 554.2,420.7 554.2,403.3 554.5,404.5 554.5,382.8 554.8,383.5 554.8,368.8 555.2,376.8 555.2,387.6 555.5,386.5 555.5,402.5 555.8,401.8 555.8,415.7 556.2,414.3 556.2,419.7 556.5,416.2 556.5,398.5 556.8,401.0 556.8,381.6 557.2,382.8 557.2,375.9 557.5,378.6 557.5,389.8 557.8,388.5 557.8,405.4 558.2,403.5 558.2,415.5 558.5,417.1 558.5,411.9 558.8,412.8 558.8,393.1 559.2,395.0 559.2,379.9 559.5,382.4 559.5,378.4 559.8,381.5 559.8,386.6 560.2,400.6 560.2,408.8 560.5,406.2 560.5,415.2 560.8,416.5 560.8,408.8 561.2,408.9 561.2,390.2 561.5,390.9 561.5,379.1 561.8,378.9 561.8,386.1 562.2,384.9 562.2,399.3 562.5,398.4 562.5,411.7 562.8,410.2 562.8,416.5 563.2,415.7 563.2,403.0 563.5,403.1 563.5,384.7 563.8,385.3 563.8,379.2 564.2,379.0 564.2,390.2 564.5,388.9 564.5,404.1 564.8,402.9 564.8,415.5 565.2,412.5 565.2,417.7 565.5,412.4 565.5,397.0 565.8,398.2 565.8,381.3 566.2,378.1 566.2,382.5 566.5,381.6 566.5,394.0 566.8,393.6 566.8,408.3 567.2,406.3 567.2,417.8 567.5,417.6 567.5,408.6 567.8,410.0 567.8,388.6 568.2,390.0 568.2,375.2 568.5,375.2 568.5,382.5 568.8,380.0 568.8,396.6 569.2,394.6 569.2,410.7 569.5,409.4 569.5,416.3 569.8,415.9 569.8,401.8 570.2,402.2 570.2,380.3 570.5,381.5 570.5,372.8 570.8,373.3 570.8,383.4 571.2,384.8 571.2,383.2 571.8,415.7 571.8,411.2 572.2,413.3 572.2,392.6 572.5,393.3 572.5,373.2 572.8,368.7 572.8,373.7 573.2,372.3 573.2,386.7 573.5,385.1 573.5,403.5 573.8,403.3 573.8,414.5 574.2,415.2 574.2,404.7 574.5,406.0 574.5,381.7 574.8,383.2 574.8,368.1 575.2,367.5 575.2,374.8 575.5,373.9 575.5,390.8 575.8,389.8 575.8,407.2 576.2,405.8 576.2,414.0 576.5,413.5 576.5,399.2 576.8,399.6 576.8,376.7 577.2,378.5 577.2,367.1 577.5,367.9 577.5,370.4 577.8,381.9 577.8,394.6 578.2,393.2 578.2,410.6 578.5,409.5 578.5,417.3 578.8,416.2 578.8,400.2 579.2,400.4 579.2,376.8 579.5,377.9 579.5,368.1 579.8,368.2 579.8,380.3 580.2,379.5 580.2,398.0 580.5,397.6 580.5,415.6 580.8,414.9 580.8,421.6 581.2,420.3 581.2,400.9 581.5,401.7 581.5,376.0 581.8,376.2 581.8,367.3 582.2,368.3 582.2,382.0 582.5,380.9 582.5,403.2 582.8,402.8 582.8,420.2 583.2,424.5 583.2,421.2 583.5,422.5 583.5,398.8 583.8,399.5 583.8,372.9 584.2,373.4 584.2,366.5 584.5,368.9 584.5,385.2 584.8,383.1 584.8,408.3 585.2,407.6 585.2,425.6 585.5,427.3 585.5,420.5 585.8,421.2 585.8,392.6 586.2,392.7 586.2,369.3 586.5,366.3 586.5,372.8 586.8,371.3 586.8,391.8 587.2,391.6 587.2,414.9 587.5,414.5 587.5,427.2 587.8,428.2 587.8,413.9 588.2,413.9 588.2,382.8 588.5,384.0 588.5,366.4 588.8,365.8 588.8,377.3 589.2,376.8 589.2,398.1 589.5,397.7 589.5,418.7 589.8,418.1 589.8,422.8" stroke="#2ca02c" stroke-width="1.0"/><path d="M590.2,405.0 590.2,399.2 590.5,400.3 590.5,384.2 590.8,386.4 590.8,382.3 591.2,384.7 591.2,393.9 591.5,393.3 591.5,407.6 591.8,406.8 591.8,423.4 592.2,429.0 592.2,418.3 592.5,419.3 592.5,395.0 592.8,395.9 592.8,384.3 593.2,384.9 593.2,390.3 593.5,388.7 593.5,399.6 593.8,398.1 593.8,413.1 594.2,412.9 594.2,427.7 594.5,429.4 594.5,410.8 594.8,410.1 594.8,390.8 595.2,392.0 595.2,384.2 595.5,386.2 595.5,393.2 595.8,392.2 595.8,405.2 596.2,403.9 596.2,419.8 596.5,419.1 596.5,430.7 596.8,425.6 596.8,401.0 597.2,401.7 597.2,385.6 597.5,385.1 597.5,390.6 597.8,387.5 597.8,398.8 598.2,397.6 598.2,414.1 598.5,412.6 598.5,429.3 598.8,433.8 598.8,416.0 599.2,415.6 599.2,392.4 599.5,393.4 599.5,385.9 599.8,385.7 599.8,395.0 600.2,393.1 600.2,407.4 600.5,405.7 600.5,422.9 600.8,421.5 600.8,434.3 601.2,431.1 601.2,420.2 601.5,402.4 601.5,387.0 601.8,385.3 601.8,389.7 602.2,388.5 602.2,398.8 602.5,397.2 602.5,413.4 602.8,412.4 602.8,428.7 603.2,434.7 603.2,420.0 603.5,420.3 603.5,395.3 603.8,395.8 603.8,386.0 604.2,386.0 604.2,391.8 604.5,390.6 604.5,402.6 604.8,401.3 604.8,417.4 605.2,416.7 605.2,432.1 605.5,434.1 605.5,412.7 605.8,413.3 605.8,391.4 606.2,392.4 606.2,385.6 606.5,385.5 606.5,393.8 606.8,391.5 606.8,405.4 607.2,403.1 607.2,409.4 607.5,425.6 607.5,431.0 607.8,430.5 607.8,406.2 608.2,405.8 608.2,387.8 608.5,389.3 608.5,385.0 608.8,387.2 608.8,390.9 609.2,372.9 609.2,407.2 609.5,404.2 609.5,420.3 609.8,419.2 609.8,428.4 610.2,421.9 610.2,399.8 610.5,400.1 610.5,386.7 610.8,385.6 610.8,389.2 611.2,388.6 611.2,397.3 611.5,395.1 611.5,407.7 611.8,407.3 611.8,421.2 612.2,426.3 612.2,415.5 612.5,416.4 612.5,394.3 612.8,394.7 612.8,384.6 613.2,384.3 613.2,389.6 613.5,388.4 613.5,397.1 613.8,403.6 613.8,409.3 614.2,408.4 614.2,421.4 614.5,424.4 614.5,409.7 614.8,410.6 614.8,390.9 615.2,392.1 615.2,383.1 615.5,383.7 615.5,389.8 615.8,387.9 615.8,398.3 616.2,396.5 616.2,410.7 616.5,409.7 616.5,421.8 616.8,423.9 616.8,407.9 617.2,408.8 617.2,389.7 617.5,390.8 617.5,383.3 617.8,383.4 617.8,389.8 618.2,388.9 618.2,398.4 618.5,397.5 618.5,411.1 618.8,408.7 618.8,421.8 619.2,424.4 619.2,406.4 619.5,407.5 619.5,389.3 619.8,390.6 619.8,383.2 620.2,385.1 620.2,390.3 620.5,388.1 620.5,399.8 620.8,398.6 620.8,411.8 621.2,409.8 621.2,423.4 621.5,423.2 621.5,404.6 621.8,404.7 621.8,387.9 622.2,389.7 622.2,384.8 622.5,384.6 622.5,392.8 622.8,391.1 622.8,402.4 623.2,401.6 623.2,414.3 623.5,413.5 623.5,423.5 623.8,420.8 623.8,401.5 624.2,402.6 624.2,388.1 624.5,390.0 624.5,386.7 624.8,388.5 624.8,396.6 625.2,394.5 625.2,399.5 625.5,414.9 625.5,418.4 625.8,424.3 625.8,414.5 626.2,415.5 626.2,395.2 626.5,396.7 626.5,387.7 626.8,386.8 626.8,391.9 627.2,390.2 627.2,398.4 627.5,397.8 627.5,408.5 627.8,407.9 627.8,418.8 628.2,421.8 628.2,407.4 628.5,409.3 628.5,393.1 628.8,393.3 628.8,386.5 629.2,387.6 629.2,392.0 629.5,391.1 629.5,400.5 629.8,399.1 629.8,410.8 630.2,408.6 630.2,418.8 630.5,419.6 630.5,403.3 630.8,404.6 630.8,340.4 631.2,391.0 631.2,386.4 631.5,387.5 631.5,393.6 631.8,392.1 631.8,401.0 632.2,399.5 632.2,409.9 632.5,414.1 632.5,418.1 632.8,415.9 632.8,398.7 633.2,399.9 633.2,387.2 633.5,389.7 633.5,385.4 633.8,386.9 633.8,393.8 634.2,392.5 634.2,402.4 634.5,400.4 634.5,411.8 634.8,409.8 634.8,418.0 635.2,411.4 635.2,395.5 635.5,396.3 635.5,386.1 635.8,385.6 635.8,389.3 636.2,388.2 636.2,395.8 636.5,395.0 636.5,405.9 636.8,404.6 636.8,416.8 637.2,419.1 637.2,407.6 637.5,408.8 637.5,368.8 637.8,393.8 637.8,388.0 638.2,387.6 638.2,391.6 638.5,394.8 638.5,401.2 638.8,400.3 638.8,411.0 639.2,410.9 639.2,420.9 639.5,420.9 639.5,404.5 639.8,404.8 639.8,391.5 640.2,389.7 640.2,393.3 640.5,390.9 640.5,398.2 640.8,395.5 640.8,406.6 641.2,405.3 641.2,416.4 641.5,422.9 641.5,416.4 641.8,417.1 641.8,398.7 642.2,400.5 642.2,391.4 642.5,391.1 642.5,395.2 642.8,394.3 642.8,399.5 643.5,410.8 643.5,421.6 643.8,424.4 643.8,411.7 644.2,411.6 644.2,396.6 644.5,397.0 644.5,391.6 644.8,393.2 644.8,400.1 645.2,397.7 645.2,406.9 645.5,405.6 645.5,416.3 645.8,414.6 645.8,422.0 646.2,419.8 646.2,403.6 646.5,405.7 646.5,395.3 646.8,394.9 646.8,398.2 647.2,396.2 647.2,402.9 647.5,401.0 647.5,409.1 647.8,407.3 647.8,416.0 648.2,418.4 648.2,412.9" stroke="#d62728" stroke-width="1.0"/><path d="M648.2,405.4 648.2,403.3 648.5,404.9 648.5,396.9 648.8,399.1 648.8,387.0 649.2,386.8 649.2,378.6 649.5,378.7 649.5,385.4 649.8,386.3 649.8,382.5 650.2,396.7 650.2,404.0 650.5,405.4 650.5,400.4 650.8,404.3 650.8,395.1 651.2,395.6 651.2,383.2 651.5,383.5 651.5,377.4 651.8,376.9 651.8,385.9 652.2,382.9 652.2,396.3 652.5,395.9 652.5,402.9 652.8,404.5 652.8,400.3 653.2,402.8 653.2,391.7 653.5,392.2 653.5,380.2 653.8,381.4 653.8,376.8 654.2,376.9 654.2,388.0 654.5,386.0 654.5,397.5 654.8,396.2 654.8,403.6 655.2,403.5 655.2,398.2 655.5,399.7 655.5,387.5 655.8,389.0 655.8,377.4 656.5,380.1 656.5,390.7 656.8,390.1 656.8,400.0 657.2,398.1 657.2,402.8 657.5,402.0 657.5,394.4 657.8,395.6 657.8,382.2 658.2,383.5 658.2,375.9 658.5,376.5 658.5,383.6 658.8,382.4 658.8,393.9 659.2,392.3 659.2,402.0 659.5,398.8 659.5,402.0 659.8,400.2 659.8,389.9 660.2,391.4 660.2,379.1 660.5,380.4 660.5,376.3 660.8,377.5 660.8,387.4 661.2,386.0 661.2,398.0 661.5,396.7 661.5,403.0 661.8,402.6 661.8,397.1 662.5,377.9 662.5,380.1 662.8,376.7 662.8,381.5 663.2,380.2 663.2,390.9 663.5,389.2 663.5,400.2 663.8,398.4 663.8,403.7 664.2,403.3 664.2,397.5 664.5,398.7 664.5,384.9 664.8,386.4 664.8,377.1 665.2,376.1 665.2,382.2 665.5,380.7 665.5,392.3 665.8,391.6 665.8,403.4 666.2,401.6 666.2,407.7 666.5,407.9 666.5,399.3 666.8,399.6 666.8,383.9 667.2,385.7 667.2,374.1 667.5,373.7 667.5,380.2 667.8,379.8 667.8,384.9 668.2,403.5 668.2,407.4 668.5,405.9 668.5,411.1 668.8,410.6 668.8,399.1 669.2,400.7 669.2,381.4 669.5,381.2 669.5,370.3 669.8,370.8 669.8,380.0 670.2,379.3 670.2,397.4 670.5,396.3 670.5,410.7 670.8,409.1 670.8,413.4 671.2,411.4 671.2,395.1 671.5,395.2 671.5,373.3 671.8,374.4 671.8,364.8 672.2,366.8 672.2,382.6 672.5,380.1 672.5,402.9 672.8,402.3 672.8,413.3 673.2,414.9 673.2,407.3 673.5,408.7 673.5,387.0 673.8,386.5 673.8,366.0 674.2,361.9 674.2,368.1 674.5,366.1 674.5,385.3 674.8,401.3 674.8,406.6 675.2,406.4 675.2,414.3 675.5,413.9 675.5,401.2 675.8,402.7 675.8,376.9 676.2,377.7 676.2,358.8 676.5,359.0 676.5,369.0 676.8,367.4 676.8,390.7 677.2,390.6 677.2,409.7 677.5,407.7 677.5,413.7 677.8,412.2 677.8,394.3 678.2,394.0 678.2,367.4 678.5,368.0 678.5,356.0 678.8,355.0 678.8,371.1 679.2,370.6 679.2,396.0 679.5,395.2 679.5,412.2 679.8,415.1 679.8,410.4 680.2,412.8 680.2,406.8 680.5,387.3 680.5,361.9 680.8,362.4 680.8,355.5 681.2,358.8 681.2,379.6 681.5,378.6 681.5,385.0 681.8,415.0 681.8,418.5 682.2,418.0 682.2,408.0 682.5,409.2 682.5,380.0 682.8,380.3 682.8,358.0 683.2,356.3 683.2,366.5 683.5,352.6 683.5,391.3 683.8,392.6 683.8,414.9 684.2,414.1 684.2,421.2 684.5,420.4 684.5,401.7 684.8,402.5 684.8,370.8 685.2,371.9 685.2,358.4 685.5,358.4 685.5,378.6 685.8,377.6 685.8,406.8 686.2,405.4 686.2,423.8 686.5,422.0 686.5,425.5 686.8,418.8 686.8,393.8 687.2,393.9 687.2,364.9 687.5,359.7 687.5,366.0 687.8,364.1 687.8,389.8 688.2,389.6 688.2,417.8 688.5,418.1 688.5,428.8 688.8,428.8 688.8,415.6 689.2,415.6 689.2,382.9 689.5,385.6 689.5,362.3 689.8,360.7 689.8,373.2 690.2,372.2 690.2,401.5 690.5,401.0 690.5,424.7 690.8,424.3 690.8,429.2 691.2,427.7 691.2,405.0 691.5,405.7 691.5,372.1 691.8,372.5 691.8,366.7 692.2,361.7 692.2,382.1 692.5,382.0 692.5,413.8 692.8,412.0 692.8,429.0 693.2,429.3 693.2,422.0 693.5,422.1 693.5,392.0 693.8,391.4 693.8,362.8 694.2,321.7 694.2,366.4 694.5,365.5 694.5,392.5 694.8,391.9 694.8,419.7 695.2,418.9 695.2,429.6 695.5,429.1 695.5,412.3 695.8,413.4 695.8,379.2 696.2,379.2 696.2,357.7 696.5,357.7 696.5,371.8 696.8,371.8 696.8,401.0 697.2,401.4 697.2,423.9 697.5,422.6 697.5,427.8 697.8,425.1 697.8,405.1 698.5,366.8 698.5,366.8 698.8,366.4 698.8,376.7 699.2,376.2 699.2,405.7 699.5,405.7 699.5,423.6 699.8,425.7 699.8,420.3 700.2,422.0 700.2,395.6 700.5,395.7 700.5,365.9 700.8,366.3 700.8,357.0 701.2,360.1 701.2,380.5 701.5,380.3 701.5,408.7 701.8,408.5 701.8,424.6 702.2,425.4 702.2,416.6 702.5,417.6 702.5,387.2 702.8,387.7 702.8,358.0 703.2,355.1 703.2,362.2 703.5,361.9 703.5,388.9 703.8,387.6 703.8,416.4 704.2,415.7 704.2,426.4 704.5,426.0 704.5,415.6 704.8,385.2 704.8,376.0" stroke="#9467bd" stroke-width="1.0"/></g><g clip-path="url(#c12)"><g transform="scale(.1)" stroke-linecap="round" stroke-linejoin="round"><path d="M9036 3938l50-21 51-46 51-40 51-52 51-38 51-66 51-52 51-58 51-29 50-26 51-53 51-5 51-28 51-7 51 23 51 7 51 24 51 6 51 3 50 38 51 34 51 30 51 52 51 27 51 64 51 46 51-8 51 41 50 54 51 20 51 23 51 28M7843 3944l51 44 51 29 51-2 51-13 50 48 51-6 51 17 51 13 56-14 51 5 51 1 51 29 51-23 51-2 50-6 51 6 51-18 51-5 51 32 51-39 51-4 51-34 51-17 51-40 50-22 51-65 51-25 51-79 51-45 51-46 51-38 51-56 51-12 50-56 51 7 51-26 51-42 51 22 51 1 51 41 51-9 51 10 50 15 51 48 51 44 51 40 51-15 51 78 51 23 51 56 51 36 50 27 51 23 51 52 51 13M7826 3961l51 22 51 22 51 17 51 14 51 14 50-15 51 21 51 27 51-6 51-5 51 13 51-10 51 6 51 18 50-27 51 15 51-1 51 0 51-24 51-14 51 21 51-36 51-22 50-33 51-15 51-54 51-42 51-54 51-37 51-86 51-8 51-51 50-40 51-34 51-23 51-10 51-47 51 3 51-6 51 39 51 0 51 14 50 30 51 30 51 21 51 27 51 46M10666 3937h0M7845 3988l51-7 51 63 50-10 51-4 51 38 51-34 51 45 51-28 51 49 51 0 51-1 50-1 51-18 51 2 51 7 51-9 51-4 51-32M10003 3513l50 6 51 58 51 18 51 38 51 13 51 39 51 34 51 24 51 50 50 35 51 18 51 39 51 80M7843 3955l51 37 51 8 51-1 51 33 51 3 50 22 51-4 51 22 51 0 51-7 51-1 51 0 51 0 51 29 50-28 51 11 51-15 51 27 51-23 51-14 51-28 51 0 51-33 50-43 51 0 51-49 51-62 51-14 51-82 51-53 51-37 51-60 51-44 50-35 51-41 51-28 51 1 51-4 51 7 51 2 51 37 51-11 50 20 51 36 51 12 51 43 51 30 51 44 51 44 51 41 51 38 50 24 51 44 51 36 51 6 51 42M7872 3959l51 36 51-15 51 37 50 0 51 1 51 1 51 45 51-3 51-24 51 23 51 11 51-38 51 17 50-3 51 15 51-18 51 10 56 16 51-22 51-2 51-46 51-41 51-29 50-35 51-47 51-27 51-47 51-74 51-39 51-37 51-66 51-46 50-17 51-36 51-58 51 12 51-3 51-18 51 26 51-25 51 18 50 70M10320 3662l51 27 51 61 51 18 50 55 51 31 51 32 51 12M7855 3903l51 34 51 27 51 14 51 10 50 36 51-11 51 42 51-32 51-8 51 22 51-8 51 42 51-35 50-10 51 2 51-1 51-16 51 18 51 12 51-35 51-2 51-30 50-38 51 9 51-63 51-58 51-22 51-74 51-54 51-37 51-38 51-54 50-40 51-41 51-43 51-12 51-20 51-31 51 30 51 12 51-11 50 17 51 53 51 7 51-16 51 88 51-11 51 43 51 66 51 33 50 15 51 46 51 28 51 28 51 28M7833 3841l51 34 51 48 51 10 51 27 50-20 51 25 51 13 51 19 51-7 51 0 51-11 51 8 51 13 50 5 51-11 51 20 51-2 51-13 51-10 51 17 51-50 51 12 50-27 51-6 51-41 51-30 51-17 51-58 51-32 51-51 51-51 50-65 51-37 51-64 51-32 51-53 51-6 51-8 51-30 51 36 51-35 50 33 51 25 51 4 51 24 51 21 51 45 51 35 51 29 51 33 50 20 51 54 51 38 51 35 51 10 51 44M7862 3845l51 17 51 26 50 5 51 30 51 5 51 41 51-14 51 7 51 42 51-34 51-1 51 1M9048 3942l50-36 51-37 51-11 51-68 51-24 51-71 51-9 51-84 51-58 51-8 50-57 51-61 51-13 51 6 51-65 51 23 51-19 51 2 51 21 50 24 51 2 51 26 51 52 51 7 51 59 51 24 51 32 51 47 50 16 51 70 51-6 51 35M7855 3791l51 30 51 40 51 39 51 10 50 18 51 11 51 4 51 22 51 0 51-13 51-4 51 3 51 20 51 18 50 0 51-10 51-5 51-4 51 39 51-31 51-20 51 5 51-24 50-24 51 0 51-28 51-45 51-53 51-47 51-34 51-42 51-54 50-63 51-34 51-35 51-69 51-12 51-20 51-4 51-22 51 12 51-12 50 40 51-2 51 15 51 26 51 46 51 19 51 52 51 31 51 28 50 73 51-11 51 62 51 31M7833 3794l51 56 51-4 51 31 51 18 50 31 51 25 51-13 51 17 51 15 51 21 51-9 51-2 51-1 50-13 51 33 51-23 51-1 51 17 51 6 51-5 51-40 51 43 51-67 50 7 51-23 51-8 51-47 51-56 51-30 51-31 51-59 51-57 50-43 51-64 51-30 51-51 51-29 51-13 51-19 51-23 51 20 50-1 51 26 51 11 51-17 51 70 51 10 51 29 51 49M10663 3806h0M7842 3816l50 16 51 23 51 46 51 31 51-17 51 31 51 39 51-49 51 33 50-9 51 2 51 21 51 6 51 11 51-28 51 17 51 13 51-25 50-2 51 25M9587 3545l51-44 51-41 51-18 51-43 51 7 50-40 51 28 51-8 51 8 51-2 51 28 51 34 51 4 51 43 50 5 51 28 51 55 51 57 51 22 51 33 51 27M7835 3773l51 16 51 41 50-11 51 35 51 26 51 23 51 35 51 14 51-22 51 18 51 8 50 47 51-33 51 4 51-15 51-8 51 28 51 21 51-34 51 6 50 18 51-10 51-24 51-3 51-27 51 27 51-40 51-39 51-41 51-17 50-45 51-23 51-48 51-48 51-71 51-29 51-60 51-15 51-33 50-14 51-4 51-36 51 40 51-27 51 11 51 16 51-4 51 18 50 40 51 16 51 36 51 33 51 47 51 22 51 39 51 22M7864 3718l50 71 51-10 51 42 51 24 51 18 51 53 51-39 51 29 51 7 51 27 50 28 51-17 51-23 51 45 51-42 51 48 51-2 51-27 51 24 50 2 51-12 51-18 51 18 51-8 51-4 51-46 51 11 51-48 50 2 51-30 51-31 51-37 51-14 51-63 51-41 51-63 51-26 51-59 50-4 51-69 51-15 51 5 51-25 51 22 51 4 51 10 51 17 50 7 51 35 51 9 51 19 51 32 51 49 51-2 51 39M7842 3681l50 28M8381 3905l51 43 51-2 51-26 51 25 50 0 51 9 51 2 51-20 51-5 51 7 51 30 51 5 51-26 51-14 50 21 51-63 51 10 51 15 51-31 51-27 51-16 51-57 51-39 50-38 51-38 51-69 51-26 51-60 51 14 51-41 51-23 51-42 50 6 51-12 51 30 51-22 51 16 51 13 51 43 51 26 51 14 50 13 51 34 51 29 51 46M7850 3688l51 44 51 0 56 50 51 20 51 19 51 17 50 13 51 26 51 33 51 22 51-11 51 35 51 9 51-33 51 8 50 27 51-15 51-24 51 16 51 4 51 4 51 8 51-16 51-17 50 31 51-24 51-34 51-36 51 26 51-81 51-12 51-10 51-56 50-38 51-24 51-45 51-64 51-10 51-36 51-35 51-30 51-33 51-15 50 14 51 12 51 2 51 23 51 9 51 22 51 29 51 30 51 41 50 5 51 38 51 4M7833 3681l51 58 51 8 51 38 51 26 51 25 50 9 51 32 51 13 51-2 51 21 51 30 51-21 51 0 51 45 51-23 50-12 51 4 51 16 51-16 51 8 51-24 51 16 51 6M9457 3767l50-26 51-71 51 2 51-46 51-45 51-23 51-80 51 2 51-49 51-25 50 31 51-10 51 15 51 19 51 12 51-17 51 45 51 12 51 26 50 27 51 25 51 37 51 11 51 53M7857 3723l51 6 51 28 51 33 50 15 51 38 51-5 51 18 51 17 51 53 51-15 51 26 51-35 50 36 51 11 51-40 51 50 51-56 51 17 51 21 51 10 51-34 51 46 50-34 51-19 51-4 51-25 51 6 51-19 51-24 51-60 51-28 50-39 51-36 51-42 51-15 51-31 51-61 51-37 51-24 51-31 50-1 51-7 51-4 51 6 51 23 51 12 51 12 51 32 51 22 51 9 50 21 51 24 51 25 51 66 51-11M7835 3692l51 21 51 40 51 43 50-16 51 39 51 35 51 5 51-15 51 21 51-1 51-7 51 26 50-4 51 4 51-12 51 34 51-41 51 37 51-7 51 8 51-29 50 19 51-10 51 14 51-51 51 7 51-14 51-28 51-15 51-19 51-38 50-13 51-57 51-22 51-46 51-34 51-68 51 15 51-16 51-1 50-24 51-29 51 19 51-7 51 28 51 0 51 26 51 11 51-11 50 30 51 26 51 46 51 28 51 25 51-6 51 24M7864 3742l51 16 51 14 50 21 51 10 51 15 51 11 51-6 51 5 51 32 51-28 51 6 50 14 51 3 51 3M9604 3614l51-41 51-63 51-4 51 3 51-44 51-11 50 11 51 46 51-52 51 39 51 11 51-23 51 81 51-44 51 47 51 27 50 21 51 3 51 30 51 22 51 35M7852 3714l51 25 51 10 51 4 50 42 51 15 51-14 51-5 51 28 51 8 51-10 51 37 51-27 50 3 51-18 51 26 51 3 51-10 51-12 51-5 51-12 51 18 50 11 51-2 51-14 51 8 51-21 51-49 51-24 51-14 51-36 51-3 50-36 51-19 51-50 51 1 51-52 51-16 51-23 51-12 51-2 50 19 51 6 51 42 51-43 51 22 51 35 51-3 51 44 51 0 50 19 51 2 51 42 51 42 51-17 51 43M7830 3731l51 8 51-5 51 44 50 18 51 0 51-3 51 1 51 37 51-5 51 24 51-17 51-41 50 43 51 10 51-17 51-23 51 46 51-53 51 42 51 2 51-13 50 13 51-38 51-7 51 0 51-11 51-64 51 22 51-41 51 8 50-50 51-18 51-35 51-5 51-35 51-34 51-16 56-21M10303 3611l51-1 51 40 51-21 51 52 51 29 51-12 50 29M7838 3754l51-16 51 46 51-12 51 32 51-3 51-7 51-5 50 14 51-1 51 22 51 8 51-12 51-7 51 21 51-43 51 38 51-7 50-17 51-11 51 27 51-3 51-8 51 5 51-29 51 3 51-34 50-5 51-34 51-4 51-50 51-51 51 2 51-30 51-9 51-47 50 4 51-39 51 17 51 17 51-17 51 1 51 14 51 17 51-7 50 49 51-7 51 9 51 45 51 2 51 0 51 55 51 0 51-15 51 19 50 25 51 8M7867 3759l51 0 51 0 51 23 51 6 51 22 51 8 50-28 51 10 51-3 51 2 51 25 51-1 51-6 51-9 51-6 50 10 51-11 51 38 51-43 51-9 51 4 51 26 51-17 51-35 50-11 51-13 51-38 51 5 51-32 51-18 51-25 51-40 51-6 51-23 50-16 51-29 51 21 51-12 51-16 51 26 51 5" stroke="#1f77b4" stroke-width="12"/><path d="M9964 3794l51 15 51 36 51-7 51 24 50-12 51 10 51-6 51 4 51 34 51-34 51 38 51-2 51-23 50-1M7855 3876l51 8 51-16 51 3 51-25 51-23 51-12 51 10 50 0 51-25 51 2 51-33 51 3 51-4 51-9 51-34 51-15 51-6 50 5 51-11 51-26 51 20 51 18 51-25 51 9 51-27 51 23 50-24 51 23 51-1 51 28 51-12 51 19 51-2 51 9 51 9 50 21M10140 3890l51-48 51 41 51 15 51-40 51 38 51 6 51-8 51 15 50 28 51-23M7828 3884l51 46 51-26 51-27 51-4 51-24 51 15 50-26 51-24 51-1 51-8 51-17 51-27 51-4 51-27 51-17 50 7 51 10 51-26 51-4 51-52 51 34 51-30 51-4 51 17 51 13 50-10 51-17 51 46 51-45 51 28 51 3 51 4 51 3 51 34 50 3 51 3 51 7 51 51 51 5 51 18 51 13 51 6 51 29 50 34 51-16 51 8 51 13 51 11 51 3 51 7 51 16 51 10 51-25 50-3 51-1 51 20M7857 3918l51 23 51-40 51 3 51-12 51 6 50-32 51-21 51 13 51-29 51-28 51-28 51 14 51-31 51-14 50-11 51-28 51-3 51 7 51-44 51-17 51 36 51-3 51-18 50 3 51-4 51-6 51 10 51-19 51 20 51 2 51 42 51 22 51 8 50-12 51 17 51 4 51 38 51-18 51 30 51 20 51 43 51 0 50 14 51-10 51 36 51 20 51 27 51 5 51-1 51 10 51 14 50 0 51-15 51-11 51-22M7835 3954l51-25 51 19 51 3 51-28 51-29 50-3 51-18 51-23 51 4 51-34 51-11 51-6 51-1 51-17 50-12 51-26 51-37 51-8M9514 3727l51-20 51 56 51 9 51 35 51-10 51 17 51 10 51 30 51 12 50 31 51 30 51 3 51 15 51 19 51 46 51-14 51-8 51 33 50-9 51 14 51-13 51 24 51-37M7864 4026l51-2 51-42 51-6 50-14 51-22 51-10 51-10 51-50 51 20 51-31 51-18 51-48 51-26 50 22 51-23 51-28 51-22 51-10 51-23 51 15 51-20 51-21 50-12 51 21 51-8 51-30 51 19 51 6 51 19 51-7 51 26 50 15 51 9 51 21 51 30 51 21 51 42 51 2 51 23 51 12 50 12 51 38 51 18 51 48 51-12 51 33 51 11 51 5 51-7 51 19 50 43 51-18 51 3 51 28 51-15M7842 4038l51 23 51-37 51 16 50-3 51-43 51-18 51-17 51-12 51-20 51-25 51-14 51-42 50-14 51-47 51 10 51-42 51-8 51-21 51-17 51-38 51-17 50 11 51-30 51-22 51 2 51-7 51 24 51-16 51 6 51 10 51-17 50 32 51 26 51 1 51 22 51 12 51 41 51 25 51 22 51 6 50 55 51 31 51 8 51 34 51-17 51 55 51 10 51 29 51 37 50-40 51 64 51 1 51 27 51-15 51 16 51-35M7871 4067l51-27 51 15 50-19 51-2 51-40 51-26 51 10 51-29 51-28 51-16M8741 3721l51-24 51-10 51-28 51-25 50-9 51-32 51 6 51 13 51-43 51 29 51-4 51 6 51 7 50 0 51 22 51 22 51 22 51 8 51 19 51 24 51 36 51 31 51 31 50 42 51 15 51 24 51 11 51 19 51 33 51 22 51 30 51-8 50 5 51 23 51 19 51 20 51-5 51-8M7854 4035l51-11 51 22 50-19 51 13 51-45 51-24 51-33 51 9 51-31 51-1 51-84 50 10 51-21 51-49 51-7 51-37 51-18 51-25 51-21 51-7 51-43 50-2 51-25 51 17 51-17 51-22 51-8 51 18 51 10 51 26 50 8 51-43 51 65 51 2 51 41 51-23 51 45 51 9 51 36 50 21 51 27 51 17 51 35 51 8 51 41 51-6 51 41 51 7 51 28 50 34 51-34 51 52 51-17 51 21 51 18M7832 4025l51-40 51 32 50-19 51-19 51-24 51-23 51-1 51-28 51 5 51-45 51-19 50-38 51-27 51 1 51-29 51-33 51-32 51-26 51-22 51-33 50-7 51-16 51-13 51 24 51-17 51-5 51-5 51-36 51 26 51-1 50-2 51 10 51 25 51 16 51 20 51 12 51 17 51 38M10208 3915l51-18 51 43 51-9 51 31 51 6 51 10 51 2 51 29 50-12M7845 3993l51-7 51-30 51 21 51-5 51-26 51-35 51-20 50-18 51-4 51-17 51-47 51-49 51 0 51-32 51-28 51-34 51-5 50-25 51-19 51-20 51-12 51-31 51-19 51 6 51-12 51-5 50-42 51 19 51 34 51-3 51 39 51-9 51 29 51 20 51 3 50 5 51 20 51 26 51 53 51 22 51 7 51 27 51 24 51 27 50 45 51 12 51 12 51 17 51 35 51 25 51-5 51 8 51 33 51-7 50 44M7823 3990l51 22 51-18 51 20 51-12 51-12 51-45 51-11 50 9 51-30 51-37 51-11 51-49 51-15 51-4 51-57 51 8 50-57 51-15 51-26 51-21 51-46 51 8 51-21 51-28 51 15 51-56 50 3 51 15 51-7 51-1 51 30 51-18 51 21 51 1 51 17 50 21 51 20 51 8 51 22 51 14 51 64 51 10 51 38 51 36 50 10 51 27 51 22 51 32 51 23 51 25 51 9 51 23 51 28 50 1 51-2 51 30M7852 4044l51-33 51-3 51 6 51-3 51 0 51-15 50-7 51-51 51-14 51 0 51-22 51-48 51-56 51 23M9043 3569l51-14 51-21 51-16 51-3 51-3 50-19 51 23 51 28 51-6 51-2 51 10 51 11 51 26M10427 3965l51 7 51 29 51 4 51 56 51-13M7861 4031l51 18 50 6 51-21 51-13 51 11 51-17 51-32 51 19 51-19 51-28 50-34 51-8 51-59 51-2 51-28 51-40 51-4 51-60 51-21 51-10 50-16 51-55 51 11 51-2 51-39 51-30 51-28 51 17 51-17 50 9 51-22 51-6 51 5 51 45 51 3 51 1 51 19 51 35 50 32 51 13 51 6 51 46 51 6 51 52 51 9 51 56 51 37 50 14 51 33 51-3 51 53 51 17 51 27 51 22 51-4M7839 4045l51 11 50 5 51 18 51-20 51 22 51-19 51-38 51-29 51 8 51-25 50-1 51-46 51 17 51-53 51-42 51-12 51-53 51-27 51-19 50-35 51-15 51-9 51-66 51 6 51-32 51 7 51-55 51 1 51-13 50 33 51-30 51-11 51 25 51 9 51 0 56 28 51 47 51 0 51 21 50 20 51 29 51 36 51 45 51 14 51 20 51 45 51 38 51 20 50 24 51 20M8056 4062l51 2 51-30 50-9 51-10 51-20 51-52 51-20 51 0 51-63 51-4 51-42 51-22 50-22 51-61 51-31 51 13 51-18 51-57 51-40 51 8 51-13 50 19 51-22 51-19 51-33 51 30 51 15 51-19 51 32 51 0 50 34 51 1 51 30 51 31 51 16 51 38 51 42 51 22 51 23 50 32 51 19 51 35 51 51 51 6 51 36 51-7 51 37 51 19 51 2 50 34 51-6M7830 4061l51 14 51-4 51-23 51 18 51-15 51-23 50-28 51-12 51-47 51-5 51 5 51-59 51-17 51-62 51-32 50-13 51-7 51-55 51-6 51-42 51-38 51-29 51 13 51-40 51-21 50 2 51-16 51 12 51-5 51 12 51 10 51 36 51 3 51 33 50 2 51 10 51 25 51 35 51 38 51 22 51 36 51 43 51 30 50 41 51 21 51 10 51-4 51 75 51 2 51 40 51 18 51-13 50 18 51 11 51-6 51 10M7859 4080l51-23 51 16 51-24 51-19 51-21 50-12 51-44 51-33 51-40 51-22 51 1 51-50 51-32 51-31 50-19 51-66 51 4 51-50 51-8 51 2 51-30 51-10 51-28 50-4 51 13 51-7 51-4 51 3 51 18 51 5 51 18 51 8 50 18 51 28 51 31 51 48 51 27 51 24 51 15 51 49 51 40 51-2 50 44 51 20 51 50 51 13 51-7 51 49 51 32 51 2 51 10M7918 4057l51-21 51 11 51-27 51-22 51-51 51-12 51-19 51-57 50 1 51-44 51-22 51-51 51-12 51-40 51-29 51-26 51-27 51 15 50-44 51-29 51-5 51 4 51-26 51 18 51-7 51 31 51 9 50-8 51-7 51 33 51 40 51 26 51 26 51 24 51 13 51 28 50 30 51 31 51 31 51 24 51 65 51 9 51 11 51 71 51-8 50-3 51 31 51-5 51 19 51 14 51 4 51 1 51-24 51 33M7846 4043l50-3 51-3 51 26 51-73 51-33 51-13 51-4 51-45 51-28 50-27 51-46 51-9 51-39 51-23 51-30 51-18 51-19 51-33 50-10 51-16 51-24 51 5 51-26 51 5 51-17 51 20 51 10 51-17 50 23 51 33 51 4 51 21 51 53 51-30 51 40 51 30 51 31 50 36 51 18 51 44 51 21 51 2 51 55 51 42 51 31 51 12 50 2 51 19 51 26 51 6 51-10 51 4 51-9 51 10 51 24M7823 4029l51 22 51-38 51-10 51-11 51-14 51-17 51-54 51-19 51-31 50-40 51-37 51 7 51-17 51-69 51 2 51-27 51-8 51 4 50-72 51 27 51-32 51-16M9325 3636l51-31 51 51M10129 3977l51 6 51 16 51 17 50 25 51-5 51-2 51-15 51 26 51-12 51-21 51 28M7868 4014l51-26 50-30 51 24 51-60 51 0 51-53 51 27 51-49 51-5 51-38 50-39 51-10 51 3 51-20 51-56 51-15 51-42 51 12 51-13 50-17 51 14 51 3 51-13 51-3 51-5 51 21 51 28 51-21 50-2 51 23 51 15 51 24 51 24 51-6 51 47 51 27 51 35 51 25 50 20 51 27 51 12 51-5 51 34 51 24 51-7 51 27 51 22 50 23 51-38 51 16 51 29 51-18 51 28 51-38 51 10M7846 3986l50-30 51-13 51 27 51-28 51-20 51-26 51 1 51-21 51-36 51-41 50 13 51-52 51-10 51-6 51-19 51-2 51-53 51 7 51-19 50-3 51-22 51 19 51-1 51-22 51 26 51-10 51-5 51 27 50 20 51-14 51 50 51-15 51 20 51 4 51 49 51 2 51 31 50 8 51 19 51 20 51 16 51 11 51 6 51 37 51 2 51 14 51 10 50 26 51-20 51-2M8088 3911l51-33 51 9 51-13 51-35 51-23 51-5 50 10 51-37 51-50 51 5 51-42 51 33 51-30 51-3 51-9 50-10 51 33 51-43 51-8 51 14 51 11 51 8 51-11 51 14 50 25 51 16 51-7 51 24 51 3 51 33 51 22 51-13 51 10 51 44 50 13 51-10 51 33 51-3 51 1 51 51 51-10 51-21 51 51 50-24 51 2 51 21 51-9 51 3 51-6 51 0 51-32M7863 3938l50-30 51 11 51-17 51 29 51-46 51-35 51-5 51-5 51-14 51-18 50 14 51-38 51 15 51-34 51-17 51 21 51-17 51-23 51-6 50 13 51-2 51-3 51-22 51 15 51-10 51 5 51 21 51-13 50 7 51 24 51-10 51 20 51 41 51-14 51 14 51 13 51 15 50 8 51 36 51-20 51 18 51-2 51 32 51 8 51-13 51-4 51 32 50 7 51-24 51 18 51-36 51 51 51-31 51 12 51 0M7841 3906l50-6 51 33 51-42 51 1 51 16 51-50 51 22 51-33 51 0 50 9 51-30 51 10 51 10 51-52 51-26 51-3 51-10 51 19 51-15 50-4 51 22 51-9 51 2 51-17 51 31 51-35 51 34 51-17 50 0 51 3 51 11 51 14 51 29 51 7 51-28 51 29 51 17 50 12 51-5 51 1 51 10 51-5 51 20M10375 3917l51 3 51-3 51 1 51-29 50-1 51 10M7859 3888l51 19 51-34 51 13 51-4 51-6 51-5 50-39 51 16 51-19 51-13 51-9 51-15 51-7 51 12 51 3 51-8 50-1 51 2 51-8 51-17 51 13 51-10 51 49 51-54 51 16 50 3 51-11 51 13 51-6 51-6 51 12 51 31 51 9 51 4 50 22 51-20 51 4 51-20 51 43 51-3 51 17 51-9 51-8 50 23" stroke="#ff7f0e" stroke-width="12"/><path d="M10134 3943l51-16 51-1 51 48 51-43 51 9 50-9 51 12 51-43 51 0 51 21 51-53M7873 3873l51 23 51-20 51-20 50-1 51-35 51 21 51-15 51-32 51 5 51-15 51 2 51-3 50-2 51-2 51 3 51-16 51 20 51 10 51-12 51 23 51-31 50 35 51-22 51 14 51 13 51-26 51 27 51 25 51-15 51 16 50 10 51 30 51-15 51 18 51 24 51-1 51 20 51-22 51 31 51 25 50 3 51-27 51 15 51-6 51 42 51 19 51-30 51-16 51 12 50-8 51-18 51-15 51 2 51 14 51-31M7851 3923l51-23 51-9 50-18 51-66 51 30 51-39 51 5 51 12 51-38 51-5 51-14 51-18 50 1 51-23 51-23 51 36 51-20 51 23 51-33 51 10 51 35 50 6 51-25 51 3 51 25 51-9 51 25M10368 4043l51-2 51 2 51-19 51 7 51-30 51-40M7853 3941l50 4 51-50 51-1 51-44 51-15 51-33 51-40 51-13 51-29 50-57 51 17 51-2 51-43 51-3 51-13 51-1 51-23 51 12 50 12 51-8 51 4 51 33 51 34 51-12 51 13 51 21 51 20 51 3 50 38 51 22 51 27 51 1 51 6 51 18 51 49 51 29 51 39 50 11 51 25 51 12 51 46 51 22 51-17 51 25 51 12 51 30 50-38 51 35 51-21 51 27 51-31 51-3 51-37 51-3 51-19M7830 3979l51-11 51-20 51-47 51-30 51-41 51-27 51-23 51-52 51-26 50-44 51-4 51-8 51-33 51-3 51-23 51 17 51-42 51 10 50-9 51 6 51 19 51 11M9311 3753l51 41 51-4 51 72 51 28 51 24 51-2 51 46 51 63 50 3 51 36 51 7 51 8 51 39 51-2 51 34 51 11 51 18 51 11 50 1 51-6 51-9 51 12 51-31 51-11 51-33 51-11 51-26M7864 4016l51-42 51-38 51-39 51-47 51-41 51-23 51-53 51-58 50-8 51-46 51-7 51-21 51-50 51-6 51-5 51 29 51-30 51 30 50-13 51 5 51 39 51 16 51 7 51 42 51 0 51 30 51 43 50 21 51 53 51 41 51 27 51 16 51 61 51 19 51 59 51 14 50 44 51 10 51 33 51 44 51-2 51 21 51 32 51 19 51-5 50 5 51 38 51-24 51 8 51-28 51-11 51-24 51-22 51-40 51-37M7842 4050l51-61 51-37 51-48 51-52 51-49 51-55 51 4 51-79 50-64 51-15 51-21 51-47 51-5 51-3 51 1 51-14 51 31 50-2 51-9 51 26 51 1 51 15 51 45 51 39 51 25 51 35 51 10 50 46 51 35 51 49 51 43 51 39 51 50 51 38 51 24M9985 4271l51 5 51 56 51-14 51 5 50 2 51-12 51 4 51-8 51 2 51-52 51-30 51-62 51-29M7825 4058l51-65 51 3 51-76 51-53 51-49 51-79 51-43 51-39 51-23 50-58 51-39 51-29 51-31 51-11 51 4 51-13 51 27 51-11 50 23 51 18 51 16 51 56 51-12 51 22 51 61 51 21 51 61 50 25 51 36 51 60 51 26 51 52 51 64 51 36 51 34 51 35 50 46 51 7 51 53 51 33 51 47 51 29 51-2 51 12 51 18 51-20 50 19 51 6 51-25 51-12 51-34 51-25 51-23 51-48 51-49 50-37M7854 4016l51-37 51-71 51-48 51-76 51-66 51-50 51-57 50-30 51-50 51-33 51-50 51-12 51-15 51-2 51 6 51-24 50 27 51 19 51 6 51 34 51 1 51 41 51 61 51 17 51 39 51 32 50 61 51 32 51 56 51 24 51 64 51 10 51 74 51 24 51 60 50 43 51 31 51 0M8514 3461l51 12 51-40 51 26 51-15 51 38 51 0 50 0 51 13 51 29 51 17 51 54 51 36 51 42 51 30M9670 4059l50 0 51 57 51 42 51 18 51 30 51 7 51 48 51-2 51 18 50 5 51-6 51 19 51 3 51-8 51-56 51-2 51-8 51-46 50-43 51-52M7866 4048l51-78 51-25 51-42 51-73 51-64 51-21 50-70 51-25 51-54 51-15 51-30 56-49 51 6 51-33 51-10 51 11 51 7 50-9 51 16 51 4 51 59 51 8 51 20 51 34 51 16 51 17 50 26 51 36 51 30 51 66 51 8 51 16 51 74 51 9 51 41 50 41 51 42 51 59 51 4 51 37 51 9 51 35 51 27 51-25 50 73 51-30 51-9 51 22 51-4 51-20 51-29 51-2 51 7 51-55 50 5M7849 4069l51-10 51-84 51-19 51-46 51-39 51-56 51-52 50-38 51-64 51-43 51-15 51-51 51 24 51-67 51-9 51-11 50 11 51-44 51 40 51-20 51 37 51 33 51-9 51-12 51 49 50 20 51 39 51 43 51 17 51 64 51 18 51 9 51 63 51 20 51 49 50 22 51 24 51 36 51 26 51 37 51 31 51 32 51 20 51 25 50 4 51 4 51 18 51-4 51 36 51 8 51-20 51-2 51-46 50-26 51-20M7827 4085l51-17 51-33 51-48 51-60 51-56 51-17 51-54 50-48 51-10 51-32 51-72 51-41 51 2 51-35 51-44 51 10 50-10 51-6 51-20 51 29 51 19 51 5 51 4 51 37 51 0 50 39 51 22M9710 3936l51 66 51 6 51 34 51 46 51 10 51 36 51 30 50-14 51 4 51 12 51 15 51 2 51 9 51 7 51-25 51 11 50-49 51-2 51-54M7856 4074l51-36 51-44 51-29 51-48 51-58 50-36 51-43 51-34 51-15 51-85 51-37 51-16 51-9 51-41 51-2 50-31 51 29 51 18 51-6 51 1 51-5 51 24 51-1 51-8 50 77 51 10 51 24 51 38 51 35 51 34 51 41 51 6 51 37 50 11 51 66 51 20 51 16 51 61 51-1 51 27 51 48 51-9 50 51 51 29 51-24 51 21 51-4 51 25 51 3 51 15 51-33 51-2 50-21 51-36 51-19M7834 4068l51-49 51-37 51-40 51-44 51-35 50-46 51-28 51-63 51-42 51-13 51-60 51-14 51-5 51-41 50-6 51-7 51-7 51-26 51 37 51 28 51-56 51 71 51 11 51 31 50 13 51 22 51 12 51 29 51 45 51 19 51 53 51-2 51 62 50 31 51 38 51 14 51 70 51 21 51 9 51 18 51 29 51 34 50 18 51 28 51-14 51 32 51-1 51 4 51 9M10633 4128l51-50M7863 4046l51-58 51-27 51-62 51-37 50-55 51-33 51-53 51-9 51-78 51-18 51-29 51-12 51-35 50-29 51-4 51 10 51 1 51-14 51 37 51 24 51 2 51 23 50 19 51-11 51 59 51-13 51 58 51 44 51 28 51 33 51 21 51 56 50 25 51 52 51 31 51 21 51 7 51 31 51 34 51 28 51 11 50 30 51 15 51 50 51-15 51 0 51 7 51 35 51-8 51-32 50-24 51-24 51-7 51-20 51-58M7841 4065l51-76 51-24 51-66 50-18 51-68 51-59 51-67 51 2 51-50 51-39 51-25 51-30 51-18 50-62 51 9 51-10 51 31 51-49 51 16 51 17 51 19 51 15 50 32 51 24 51 32 51 18 51-3 51 67 51 24 51 46 51-9 50 98 51 3 51 50 51 33 51 53 51-16 51 83 51 9 51 40 51 18 50 15 51 34 51-3 51 12 51 47 51-15 51-14 51 7 51-18 50-12 51 9 51-35 51-79 51 4 51-36M7870 3958l51-46 51-64 50-48 51-27 51-56 51-61 51-62 51-22 51-40 51-21 51-38 50-16 51-22 51-12 51-4 51-5 51 16 51-25 51 24 51 28 51 29 50 4 51 3 51 34 51 58 51 8M10201 4167l51 34 50 3 51-45 51-5 51 9 51-62 51-17 51-69 51-13M7838 3935l50-71 51-29 51-65 51-64 51-49 51-57 51-58 51-11 51-61 50-31 51-24 51-46 51-2 51-4 51-21 51 20 51-12 51-4 51 30 50 7 51 24 51 15 51 32 51 63 51 16 51 17 51 63 51 17 50 55 51 26 51 67 51 21 51 39 51 32 51 58 51 31 51 45 50 5 51 62 51 17 51 15 51 3 51 61 51-8 51 12 51-16 51 35 50 2 51-12 51-48 51-13 51-48 51-22 51-45 51-34 51-57M7866 3843l51-42 51-43 51-72 51-48 51-70 51-31 51-63 51-9 50-94 51-3 51-29 51 16 51-36 51 2 51-7 51 0 51 14 50 12 51 29 51 17 51 1 51 16 51 33 51 55 51 25 51 46 51 21 50 69 51 32 51 43 51 44 51 38 51 16 51 31 51 63 51 48 50 22 51 33 51 33 51 32 51 15 51 22 51 14 51 8 51-10 50 1 51-1 51-6 51-2 51-39 51-32 51-38 51-42 51-2 51-64M7844 3842l51-66 51-1 51-92 51-69 51-29 51-41 51-58 51-41 50-30 51-46 51-44 51 14 51-40 51 13 51-34 51 15 51 31M9218 3562l51 24 51 69 51 46 51 41 51-7 51 70 51 23 51 66 51 33 50 90 51-18 51 49 51 26 51 4 51 32 51 54 51-11 51 42 50-10 51 16 51-16 51 12 51-9 51-7 51-19 51-30 51-41 50-48M7822 4050l51-61 51-74 51-59 51-39 51-64 51-45 51-73 50-51 51-44 51-66 51-36 51-50 51-9 51-38 51-23 51 0 51-26 50 46 51-9 51 25 51-7 51 47 51-12 51 11 51 45 51 16 50 40 51 66 51 42 51 10 51 32 51 62 51 43 51 45 51 73 50 29 51 52 51 54 51 9 51 57 51 30 51 31 51 51 51 35 51 1 50 37 51 16 51 13 51 11 51 25 51-40 51 12 51 6 51-66 50-15 51-41M7851 4135l51-62 51-30 51-78 51-62 51-43 51-85 50-50 51-46 51-60 51-64 51-62 51-49 51-16 51-54 51-21 50-57 51 3 51 25 51-4 51-10 51-5 51 30 51 6 51 49 51 21 50 30 51 53 51 4 51 59 51 44 51 62 51 46 51 56 51 20 50 69 51 55 51 59 51 18 51 35 51 96 51 12 51 26 51 52 50 42 51 29M10452 4360l51 11 51-6 50-26 51-34M7834 4227l51 23 51-96 51-36 51-106 51-24 51-65 51-95 50-26 51-87 51-80 51-50 51-52 51-74 51-35 51-43 51-43 50-33 51-4 51-39 51 53 51-38 51 7 51 25 51 44 51 19 50 33 51 15 51 45 51 32 51 37 51 86 51 11 51 68 51 35 51 43 50 80 51 59 51 55 51 54 51 51 51 57 51 45 51 45 51 16 50 26 51 48 51 45 51 41 51-15 51 22 51 1 51 20 51-39 50 7 51-38 51-23M7863 4291l51-57 51-55 51-60 51-72 51-81 50-42 51-90 51-79 51-43 51-92 51-80 51-38 51-63 51-16 51-77 50-25 51-27 51-14 51 17 51-20 51-5 51 32 51 8 51 52 50 35 51 34 51 15 51 31 51 63 51 26 51 70 51 45 51 65 50 42 51 67 51 65 51 50 51 53 51 26 51 50 51 64 51 41 51 52 50 27 51 51 51-13 51 51 51 37 51 2 51 31 51-31 51 1 50-25 51 18 51-53M7841 4321l51-75 51-42 51-56 51-85 51-39 50-98 51-76 51-64 51-76 51-82 51-72 51-58 51-42 51-86 50 20 51-56 51-23 51-1 51-11 51-19 51 1 51 23 51 28 51 16 50 11 51 44 51 49 51 7 51 69 51 43 51 52 51 55 51 41 50 36 51 70 51 36 51 53 51 96 51 41 51 51 51 25 51 65 50 50 51 12 51 67 51-14" stroke="#2ca02c" stroke-width="12"/><path d="M8002 4003l51-82 51-36 51-49 51-57 51-61 51-8 51-43 50-8 51-24 51-19 51-11 51-36 51 50 51-18 51 5 51 9 50 7 51-4 51-1 51 42 51 28 51 16 51 5 51-12 51 64 50 18 51 33 51 21 51 55 51 0 51 38 51 52 51 10 51 42 51 9 50 57 51 20 51 37 51 61 51 6 51 51 51 33 51 3 51 59 50-3 51 67 51 35 51-18 51-46 51-55 51-47 51-93M7828 4198l50-96 51-54 51-21 51-57 51-52 51-54 51-35 51-51 51-41 50-21 51-36 51-14 51-8 51-28 51-13 51 24 51 14 51 19 51-15 50-10 51 14 51 3 51 33 51-11 51 28 51 28 51-4 51 48 50 20 51 20 51 27 51 43 51 9 51 51 51 10 51 36 51 36 50 27 51 37 51 42 51 32 51-11 51 82 51 20 51 57 51-5 51 20 50 38 51 56 51 10 51 5 51-22 51-56 51-77 51-36 51-44M7856 4118l51-55 51-45 51-45 51-31 51-77 51-37 51-31 51-44 50-34 51-19 51-40 51-19 51 26 51-60 51 61 51 7 51-25M9119 3735l50 86 51-19 51 13 51 49 51 24 51 5 51 32 51 21 51 39 50 64 51 7 51 18 51 62 51 0 51 23 51 49 51 60 51 32 51 46 50-2 51 70 51-5 51 55 51 30 51-35 51-61 51-20 51-69 50-96 51-46M7824 4117l51-56 51-44 51-61 51-66 51-35 51-46 50-43 51-15 51-43 51-26 51-4 51-23 51 13 51-9 51-10 50-10 51 59 51-43 51 15 51 33 51 8 51 20 51 19 51 2 51 36 50 42 51 9 51 10 51 39 51 17 51 69 51 21 51 12 51 33 50 59 51 3 51 63 51 42 51 52 51 29 51 41 51 17 51 32 50 25 51 60 51 25 51 23 51 9 51-33 51-74 51-38 51-61 51-54 50-77 51-55 51-85M7853 3999l51-71 51-28 51-45 51-59 51-17 50-27 51-66 51 4 51-10 51-36 51 15 51 8 51-24 51 12 50 17 51 26 51 11 51-7 51 11 51 31 51 19 51 41 51-31 50 83 51 31 51 14 51 38 51 4 51 69 51 6 51 47 51 36 51 43 50 16 51 46 51 44 51 26 51 32 51 59 51 20 51 30 51 24 50 52 51 41 51-4 51 0 51-30 51-53 51-58 51-79M7877 3901l51-18 51-82 51-28 50-88 51 18 51 12 51-25 51-27 51-4 51 14 51-11 51-10 50 16 51 39 51-13 51 32 51-16 51 36 51 9 51 64 51-34 50 58 51 21 51 46 51-6 51 23 51 45 51 40 51 48 51 33 51 19 50 44 51 38 51 31 51 47 51 21 51 42 51 35 51 43 51 18 50 37 51 56 51 7 51 17 51 6 51-118 51-37 51-27 51-98 50-71 51-75 51-6 51-78 51-54 51-81M7855 3869l51-45 51-50 50-17 51-37 51-36 51 3 51-36 51-5 51 0 51 16 51-14 51 5 50 18 51-3 51 52 51 16 51-27 51 28 51 27 51-9 51 36 50 47 51 29 51 14 51 33 51 28 51 40 51 21 51 38 51 18 50 45 51 74 51-16 51 59 51 22 51 9 51 59 51 20 51 40 51 59 50 38 51 25 51 35 51 35 51-38 51-34 51-102 51-36 51-48 50-82 51-65 51-39 51-91 51-33 51-61M7833 3877l51-37 51-42 50-36 51-20 51-45 51-7 51-8 51-31 51 3 51 0 51-8 50 14 51 12 51-2 51-11 51 51 51-3 51 17 51 11 51 19 51 25 50 31 51 39 51-14 51 69 51 25 51 11 51 31 51 2 51 81 50 33M9965 4410l51 30 51 1 51 56 51-30 51-49 51-60 50-47 51-63 51-71 51-57 51-29 51-62 51-66 51-48M7857 3856l50-9 51-59 51-40 51-48 51 12 51-68 51 9 51 17 51-14 50-18 51 31 51-34 51 29 51 1 51 10 51 31 51 14M9424 3987l51 105 51 8 51 1 51 71 50 32 51 33 51 23 51 8 51 30 51 22 51 31 51 37 51-2 51 66 50-79 51-12 51-62 51-42 51-49 51-46 51-45 51-55 51-52 50-66M7824 3915l51-39 51-73 51-20 51-40 51-24 51-10 51-11 50-36 51-18 51 5 51 1 51-6 51 15 51 4 51-17 51 20 51 34 50 6 51 18 51 14 51 8 51 16 51 20 51 34 51 6 51 27 50 31 51 20 51 21 51 25 51 5 51 69 51 13 51 53 51 5 50 20 51 51 51 9 51 52 51 1 51 60 51 7 51 44 51 26 50 3 51-6 51-16 51-34 51-32 51-43 51-62 51-42 51-56 51-48 50-43 51-51M7853 3879l51-35 51-42 51-32 51-25 51-35 51-34 50-2 51-21 51 2 51-29 51 31 51-30 51 3 51 26 51-8 50 8 51 15 51 2 51 28 51 18 51 14 51 0 51 28 51 10 51 24 50 10M9517 3990l51 78 51 18 51 12 51 32 51 10 51 26 51 68 51-3 50 20 51 22 51 24 51 20 51 53 51-14 51-72 51-13 51-55 50-52 51-28 51-52 51-48 51-68 51-26M7867 3884l51-34 51-40 50-35 51-41 51-41 51 8 51-43 51-21 51-9 51-5 51-18 50 14 51 33 51-29 51 15 51 15 51-14 51 26 51-13 51 14 51 7 50 53 51 11 51 21 51 19 51 37 51 6 51 13 51 52 51 22 50 14 51 15 51 50 51 0 51 33 51 34 51 24 51 45 51 14 50 31 51 55 51 9 51 24 51 21 51 24 51 37 51 12 51-6 51-10 50-89 51-40 51-71 51-21 51-54 51-36M7845 3985l51-68 51-31 50-33 51-46 51-49 51-50 51-6 51-45 51-26 51 4 51 9 50-8 51 9 51-11 51-11 51-35 51 41 51 16 51-1 51 15 50 18 51 5 51 21 51-5 51 51 51 33 51-33 51 39 51 10 51 26 50 48 51-8 51 20 51 55 51 6 51 50 51-1 51 49 51 27 50 38 51 20 51 16 51 69 51-12 51 44 51-13 51 46 51 34 50 27 51 15 51-46 51-43 51-38 51-35 51-69M7823 4048l51-8 51-33 50-64 51-51 51-55 51-22 51-7 51-77 51-23 51-36 51-8 50-26 51-7 51-9 51-8 51 9 51 24 51-27M9095 3685l51 5 51 40 51 19 51 22 50 34 51 13 51 41 51 1 51 42 51 53 51-19 51 27 51 46 51 22 50 26 51-2 51 43 51 36 51 9 51 37 51 64 51-11 51 49 50 13 51 49 51-25 51 7 51-15 51-101 51-26 51-26M7852 4093l50-35 51-43 51-55 51-49 51-44 51-4 51-56 51-20 51-39 51-10 50-44 51-24 51-11 51-32 51 15 51-1 51 7 51 21 51-9 50 8 51-13 51 15 51-9 51 20 51 41 51-11 51 39 51 21 50 26 51-8 51 54 51 22 51-7 51 3 51 47 51 46 51 11 50 62 51 7 51 28 51 24 51 27 51 29 51 36 51 22 51 24 51 31 50 39 51-19 51 38 51 42 51 0 51-50 51-51 51-68M7830 4171l50-63 51-32 51-57 51-44 51-20 51-61 51-32 51-30 51-38 50-43 51-18 51-24 51-10 51-19 51-1 51 8 51-12 51-8 51 35 50-3 51-48 51 34 51 20 51 42 51-3 51-7 51 22 51 17 50 18 51 33 51-10 51 58M10155 4217l51 17 51 58 51-1 51 0 51 35 51 21 51-44 50-26 51-25 51-85M7843 4138l51-34 51-55 51-27 51-66 51-38 50-48 51-33 51-56 51-7 51 3 51-31 51-9 51-42 51 4 51-5 50-2 51-32 51 1 51 47 51-27 51 18 51 19 51 32 51-13 50 6 51-3 51 67 51-11 51 10 51 21 51 24 51-3 51 43 50 17 51 22 51 3 51 72 51-4 51 52 51-1 51 32 51 23 51-2 50 28 51 22 51 66 51 16 51-1 51 24 51 7 51 49 51-14 50-59 51-22 51-60 51-36M7872 4078l51-26 51-44 51-24 51-37 50-56 51-53 51-7 51-56 51-14 51-14 51-19 51-37 51 14 50-2 51-3 51-16 51 4 51-14 51 18 51 7 51 8 51-14 51 31 50 6 51 20 51 5 51-2 51 32 51 21 51 17 51 8 51 10 50 4 51 78 51 8 51 15 51 11 51 30 51 29 51 12 51 48 50-6 51 2 51 31 51 54 51 7 51 15 51 19 51 31 51 40 51-13 50 10 51-59 51-50 51-17M7850 4100l51-42 51-47 51-26 51-52 50-22 56-65 51-14 51-43 51 3 51-45 51-14 51-12 51-48 51 14 50 3 51-39 51 30 51-2 51 22 51-15 51 18 51-5 51-4 50 12 51-5 51 5 51 29 51 25 51 11 51 15 51 37 51-19 51 44 50 20 51 13 51 12 51 17 51 27 51 19 51 38 51 34 51 3 50 24M10354 4180l51 28 51 0 51 12 50 16 51-65 51-12M7838 4112l51-53 51-46 51-21 51-41 51-42 50-42 51-43 51-1 51-63 51-4 51-24 51-36 51 21 51-23 50-20 51-6 51-20 51 25 51-33 51 16 51 1 51-8 51 20 51 8 50 44 51-2 51 27 51-10 51 4 51-8 51 47 51 0 51 9 50 20 51 18 51 47 51 13 51 7 51 31 51-2 51 12 51 38 50 18 51 28 51 52 51 15 51 45 51-35 51 32 51 36 51 47 51-13 50 55 51-92 51 23 51-56M7867 4082l51-31 51-55 51-27 51-18 50-63 51-25 51-43 51-31 51 1 51-64 51-11 51-12 51-23 50-30 51 28 51-11 51-38 51 32 51 4 51 3 51-1 51-4 50 16 51-11 51 15 51 30 51 27 51 19 51-12 51 18 51 60 51-21 50 7 51 34 51 34 51 19 51 17 51 1 51 51 51 25 51 20 50 29 51 22 51 27 51 6 51 62 51 20 51 6 51 25 51-17 50 29 51 41 51-28 51-27 51-21M7845 4150l51-58 51-49 51-30 51-51 50-32 51-40 51-11 56-36 51-28 51-42 51 0 51-43 51-17 51-24 50 16 51 8 51-12 51-5 51 13 51 21 51-39 51 31 51 13M9377 3818l51 2 51 50 50 19 51 14 51 4 51 15 51 56 51-17 51 56 51 9 51 38 51 18 50 5 51 49 51 36 51-9 51 18 51 56 51 10 51 12 51 29 50 20 51-79 51-7 51-4M7828 4157l51-37 51-22 51-61 51-31 50-28 51-56 51-31 51-13 51-59 51-2 51-2 51-36 51-48 50-4 51 17 51-1 51-3 51 3 51-22 51 12 51 41 51-15 51-11 50 30 51 2 51 31 51-16 51 36 51 8 51 14 51 18 51 20 50 14 51 21 51 43 51-12 51 22 51 39 51 23 51 29 51 32 50 24 51 17 51 41 51 0 51 33 51 13 51 48 51 36 51 11 51-7 50 0 51-35 51-34 51-54 51-23M7857 4139l51-43 51-48 51-45 50-8 51-44 51-53 51-40 51-34 51 1 51-15 51-25 51-15 50 30 51-47 51 26 51-7 51 8 51-26 51 29 51-17 51 13 50 5 51 17 51-4 51 29 51 35 51 7M9908 4152l51 31M10264 4310l51 28 51 3 51 28 51-64 51-21 50-41 51-32 51-76M7850 4130l51-60 51-20 51-46 51-30 51-57 50-2 51-51 51-14 51-4 51-51 51 3 51-22 51-7 51-14 50 45 51-12 51 1 51 28 51-18 51 43 51-16 51-2 51 44 51-18 50 3 51 38 51 13 51 18 51 12 51 28 51 11 51 5 51 44 50 12 51-20 51 76 51 0 51 23 51 19 51 30 51 12 51 47 50 20 51 5 51 16 51 12 51 26 51-13 51 9 51-9 51-32 50-16 51-68 51-37 51 4M7828 4062l51-18 51-34 51-27 51-6 51-30 50-40 51-25 51-13 51 20 51-53 51-9 51 11 51-25 51 48 50-22 51 16 51 7 51-9 51-24 51 31 51-1 51 19 51 24 50 8 51 25 51-20 51 27 51 16 51 8 51-5 51 45 51 20 50-16 51 41 51 5 51-4 51 17 51 42 51-11 51 30 51 15 51 1 50 7 51 26 51 26 51-16 51 23 51 15 51 26 51 2 51-33" stroke="#d62728" stroke-width="12"/><path d="M10474 4011l51-22 51-8 51-19 51 29M7857 3927l51 25 51-16 51-18 50-71 51 14 51-26 51-10 51-49 51-38 51-32 51 1 51-41 51-19 50-13 51-63 51 9 51-28 51 1 51-13 51-34 51 1 51 21 50-3 51 3 51-2 51 14 51-3 51 15 51 41 51 10M9898 3848l51 21 50 20 51 36 51-6 51 44 51 19 51-19 51 26 51-23 51-7 51 24 50-17 51 9 51-11 51-4M7840 3978l51-51 51 17 51-45 51 8 50-50 51-20 51-22 51-25 51-49 51-28 51 21 51-99 51 9 50-3 51-33 51-19 51-43 51 0 51-16 51-4 51-24 51-8 50 13 51-41 51 43 51-8 51 18 51 13 51 46 51 17 51 16 51 10 50 29 51 42 51-3 51 13 51 22 51 51 51 24 51 30 51 12 50 30 51 7 51 48 51-5 51-28 51 24 51 46 51-31 51 12 50 10 51 2 51-13 51 12 51 34 51-55M7869 3943l51-12 51-17 51-11 50-59 51 21 51-11 51-67 51-36 51-35 51 7 51-22 51-52 50 6 51-48 51-28 51-47 51 6 51-16 51-3 51-16 51-22 50 7 51-3 51 20 51 21 51-2 51-21 51 21 51 32 51 20 50 24 51-8 51 22 51 50 51 27 51 13 51 6 51 45 51 37 51 2 50 65 51-17 51 21 51 35 51-1 51-2 51 32 51 1 51 18 50 29 51-26 51-12 51 12 51 4 51-40M7847 3910l51 31 51-32 50-21 51-19 51-13 51-20 51-26 51-52 51-6 51-54 51-11 51-26 50-53 51-27 51 18 51-56 51-36 51 7 51-28M9368 3542l51 8 51 60 51 0 51 27 51 30 51 57 51 4 51 8 51 52 50 18 51 15 51 36 51 5 51 32 51-13 51 5 51 37 51-6 50 27 51 7 51-30 51 15 51-19 51 24 51-4 51-5M7871 3906l50-4 51-9 51-46 51-14 51-14 51-51 51-31 51-35 51-42 50 4 51-25 51-24 51-51 51 23 51-43 51-37 51-20 51-18 51 26 50-25 51-5 51 11 51-9 51 14 51 16 51-13 51 22 51 22 50 1 51 38 51 29 51 30 51 21 51 18 51 45 51 16 51 6 50 38 51 29 51 4 51 39 51 14 51 32 51 12 51 2 51 7 51-18 50 5 51 27 51 2 51 18 51-1 51-31 51-1 51-5M7849 3889l50-22 51-8 51-11 51-24 51-27 51-34 51-23 51-51 51 12 50-36 51-45 51-42 51-5 51-28 51-27 51-22 51 25 51-52 50 5 51 29 51-24 51-8 51 2 51 4 51 35 51 20 51-12 51 22 50 36 51 4 51 21 51 25 51 44 51 7 51 32 51 41 51 19 50 30 51 13 51 20 51 43 51-11 51 12 51 18 51 10 51-14 50 21 51-3 51 15 51 32M8712 3516l51-34 51 2 51 16 51 3 50-45 51 51 51 6 51 0 51 19 51 21 51 32 51-10 51 35 51 27 50-3 51 17 51 23 51 53 51 32 51-9 51 30 51 35 51 24 50 0 51 42 51-1 51 37 51-9 51 26 51 0 51-28 51 17 50 25 51 12 51-16 51 14 51 5 51-43M7825 3927l51 0 51-21 51 7 50-39 51-47 51 30 51-54 51-25 51-32 51-59 51-13 51-34 50-25 51-19 51-24 51-30 51-39 51 13 51-22 51-7 51-37 50-3 51 1 51 83 51-26 51-18 51 4 51-3 51 20 51 26 50 35 51 48 51-3 51 55 51 7 51 37 51 45 51 16 51 16 51 36 50 45 51 22 51 2 51 6 51 35 51 1 51 41 51 4 51-8 50 49 51-25 51 18 51 10 51 17 51 0 51-5M7854 4038l51-28 50-26 51 2 51-48 51-9 51-33 51-18 51-34 51-51 51-58 50-39 51-18 51-25 51-55 51-29 51-52 51 1 51-7 51-33 51-33 50 2 51-37 51 33 51-12 51-7 51-12 51 23 51 26 51 49 50-4 51 28 51 39 51 21M10129 3985l50 12 51 51 51 3 51 25 51-12 51 6 51 26 51 1 51-19 50 23 51 1M7867 4093l51-19 51-20 51-5 51-20 51-53 51-32 51-24 50-1 51-74 51-27 51-58 51-28 51-63 51-65 51-7 51-49 50-40 51-9 51-72 51 14 51-60 51-5 51-41 51 28 51 32 50-39 51 13 51-1 51 25 51 62 51-12 51 36 51 45 51 62 51 20 50 26 51 62 51 5 51 70 51 50 51 32 51 28 51 51 51 38 50 16 51 44 51 47 51 1 51 29 51 25 51 6 51-16 51 37 50-38 51 7M7845 4129l51 27 51-62 51-13 51 13 51-44 51-48 50-60 51-22 51-41 51-37 51-55 51-37 51-78 51-42 51-52 51-55 50-38 51-77 51 6 56-62 51-39 51 3 51-38 51-2 51 14 51-17 50 13 51 5 51 38 51 27 51 9 51 40 51 43 51 43 51 68 50 18 51 49 51 52 51 44 51 79 51 14 51 38 51 52 51 46 50 30 51 40 51 58 51-1 51 28 51 10 51 30 51 16 51 7 51 8 50 6M7828 4174l51-45 51 12 51-39 51-6 51-27 51-62 51-43 50-37 51-56 51-49 51-45 51-89 51-23 51-65 51-55 51-54 50-75 51-52 51-10 51-53 51-48 51-11 51-30 51-5 51 11 50-18 51 22 51 1 51 20 51 61 51-3 51 28 51 42 51 61 51 30 50 63 51 50M10113 3949l51 46 51 36 51 13 51 14 51 70 51 3 51-2 50 18 51 0 51 18 51-25M7852 4163l51-36 51-34 51-11 51-24 51-44 50-47 51-59 51-31 51-72 51-42 51-39 51-88 51-49 51-90 50-39 51-48 51-43 51-68 51-36 51-43 51-45 51 0 51-32 50-11 51 21 51 40 51-52 51 30 51 44 51 34 51 31 51 49 51 28 50 45 51 41 51 67 51 46 51 39 51 59 51 71 51 44 51 69 50 36 51 52 51 29 51 42 51 33 51 34 51 10 51 62 51-34 50 37 51-15 51 46 51-47M7830 4132l51-33 51-8 51-11 51-5 50-40 51-61 51-45 51-50 51-75 51-57 51-80 51-57 51-38 51-98 50-45 51-48 51-52 51-67 51-47 51-33 51-35 51-30 51-7 50-40 51 0 51-13 51 53 51-1 51 1 51 56 51 55 51 34 50 11 51 73 51 40 51 60 51 84 51 34 51 74 51 49 51 58 51 54 50 61 51 52 51 37 51 57 51 43 51 44 51-3 51 18 51 40 50 26 51 5 51 8 51-8 51-18M7859 4134l51-7 51-13 51-18 50-22M8454 3639l51-85 51-47 51-74 51-69 51-53 51-91 51 16 50-87 51-23 51-26 51-6 51-44 51 18 51 7 51 24 51 16 51 26 50 42 51 26 51 62 51 50 51 56 51 62 51 75 51 27M10429 4200l51 2 51 10 51 34 51-16 50 10M7862 4213l51-28 51-19 51-33 51-28 51-53 51-41 51-71 50-47 51-63 51-71 51-83 51-74 51-82 51-60 51-101 51-19 50-56 51-42 51-74 51-36 51-16 51-19 51-4 51 6 51-4 51 6 50 51 51 36 51 18 51 50 56 45 51 72 51 56 51 41 51 68 51 79 50 68 51 45 51 81 51 82 51 36 51 50 51 59 51 81 51 41 50 26 51 14 51 51 51 13 51 2 51 22 51 19 51-29 51 33 50-40M7845 4269l51-16 51-35 51-32 51-44 51-49 51-62 51-81 51-85 50-52 51-84 51-69 51-44 51-86 51-83 51-81 51-21 51-67 50-67 51-25 51-28 51-1 51-22 51-5 51-25 51 22 51 66 50 27 51 63 51 6 51 60 51 41 51 71 51 72 51 53 51 31 50 90 51 72 51 93 51 43 51 66 51 43 51 75 51 69 51 2 51 68 50 4 51 44 51 65 51 14 51-9 51 12 51-2M7930 4267l51-57 51-22 51-67 51-60 51-70 51-97 50-77 51-69 51-62 51-84 51-80 51-34 51-73 51-69 51-50 50-52 51-55 51 5 51-23 51 10 51-10 51 27 51-8 51 45 51 31 50 43 51 17 51 90 51 17 51 76 51 68 51 106 51 23 51 74 50 77 51 68 51 78 51 79 51 53 51 42 51 38 51 60 51 45 50 8 51 54 51-16 51 47 51-14 51 52 51-18 51 10 51-9 50-12 51-50M7857 4351l51-34 51-28 51-82 51-63 51-53 51-62 51-84 50-95 51-42 51-82 51-75 51-108 51-57 51-62 51-79 51-43 50-51 51-36 51-24 51-7 51 24 51-27 51 6 51 22 51 22 50 36 51 40 51 68 51 41 51 94 51 25 51 73 51 72 51 63 51 60 50 87 51 69 51 58 51 56 51 51 51 87 51 40 51 49 51 41 50 36 51 13 51 47 51 9 51 15 51-36 51 4 51 5 51-16 50-10 51-28M7835 4371l51-71 51-22 51-56 51-75 51-62 51-68 50-120 51-73 51-66 51-98 51-79 51-58 51-66 51-79 51-53M9016 3174l51 35 51 28 51 54 51 35 50 43 51 88 51 41 51 76 51 61 51 99 51 57 51 49 51 98 50 59 51 64 51 74 51 50 51 79 51 44 51 13 51 53 51 27 50 56 51 5 51-20 51-25 51 26 51-6 51-25 51 3 51-16 50-27M7823 4331l51-30 51-69 51-85 51-64 51-35 51-115 51-84 51-72 50-75 51-93 51-69 51-83 51-74 51-41 51-58 51-66 51-15 50-35 56-25 51-13 51 16 51-2 51 12 51 84 51 12 51 45 51 45 50 55 51 39 51 60 51 96 51 65 51 72 51 83 51 71 51 61 50 66 51 81 51 59 51 80 51 25 51 57 51 4 51 42 51 80 51 2 50-6 51 20 51-10 51-6 51 18 51-29 51-19 51-42 51-23 50-46M7857 4254l51-66 51-69 51-89 51-51 51-63 51-123 51-33 50-122 51-60 51-71 51-92 51-67 51-62 51-43 51-28 51-58 51-12 50-28 51 1 51 24 51 2 51 20 51 8 51 60 51 51 51 53 50 43 51 47 51 107 51 43 51 60 51 74 51 76 51 68 51 72 50 110 51 21 51 52 51 55 51 73 51 36 51 66 51-6 51 38 50 9 51 17 51 1 51 14 51-2 51 5 51-16 51-10 51-29 51-50 50-27M7835 4230l51-51 51-55 51-107M9169 3298l51 38 50 63 51 40 51 71 51 79 51 45 51 72 51 70 51 56 51 98 50 44 51 80 51 38 51 74 51 49 51 34 51 21 51 28 51 16 51 26 50 21 51 23 51-21 51 10 51-3 51 3 51-13 51-63 51-12M7823 4243l51-13 51-84 51-66 51-48 51-65 51-66 51-77 51-96 50-53 51-105 51-54 51-79 51-45 51-75 51-48 51-60 51-49 51-12 50-20 51-5 51-44 51 22 51 43 51 10 51 23 51 50 51 20 50 69 51 26 51 53 51 63 51 98 51 46 51 78 51 93 51 29 50 72 51 80 51 25 51 93 51 43 51 31 51 80 51 43 51-4 50 61 51 15 51 16 51 16 51-10 51-4 51 14 51-21 51-28 51 7 50-50M7852 4225l51-32 51-76 51-57 51-51 51-79 51-102 51-63 50-64 51-93 51-58 51-97 51-94 51-25 51-67 51-29 51-85 50-20 51-49 51 16 51-9 51 12 51-27 51 9 51 39 51 15 51 89 50 40 51 59 51 49 51 54 51 76 51 52 51 96 51 40 51 98 50 77 51 40 51 98 51 44 51 60 51 33 51 70 51 49 51 23 50 54 51 8 51 15 51 20 51-2 51 34 51-34 51-8 51-7 50-32 51-38M7830 4262l51-22M8344 3545l51-90" stroke="#9467bd" stroke-width="12"/></g></g><g clip-path="url(#c12)"><g transform="scale(.1)" stroke-linecap="round"><path d="M8286 3306h0m487-798h0m-780,798h0m1725-1439h0" stroke="#1f77b4" stroke-width="20"/><path d="M9671 3385h0" stroke="#ff7f0e" stroke-width="20"/><path d="M8477 3306h0" stroke="#2ca02c" stroke-width="20"/><path d="M9399 3385h0m-1274-626h0m112,547h0" stroke="#d62728" stroke-width="20"/><path d="M8817 3228h0m608-235h0m-640-594h0" stroke="#9467bd" stroke-width="20"/></g></g><g clip-path="url(#c21)"><path d="M420.5,590.1 420.5,586.8 420.8,590.4 420.8,585.7 421.2,590.2 421.2,584.8 421.5,586.5 421.5,591.5 421.8,588.0 421.8,594.1 422.2,591.6 422.2,599.6 422.5,596.6 422.5,604.9 422.8,601.7 422.8,607.4 423.2,607.6 423.2,603.3 423.5,607.2 423.5,599.7 423.8,601.8 423.8,592.5 424.2,596.5 424.2,584.5 424.5,587.7 424.5,579.0 424.8,582.7 424.8,576.3 425.2,575.8 425.2,580.5 425.5,576.9 425.5,583.7 425.8,579.3 425.8,585.5 426.2,580.7 426.2,585.6 426.5,586.5 426.5,591.4 426.8,587.2 426.8,596.3 427.2,592.5 427.2,598.1 428.2,660.1 428.2,605.8 428.5,609.0 428.5,601.0 428.8,603.6 428.8,594.2 429.2,597.1 429.2,586.4 429.5,588.7 429.5,579.3 429.8,581.0 429.8,573.7 430.2,575.7 430.2,571.3 430.5,570.7 430.5,575.6 430.8,571.9 430.8,577.0 431.2,573.4 431.2,579.5 431.5,576.4 431.5,584.0 431.8,581.4 431.8,592.1 432.2,587.8 432.2,593.3 432.5,597.8 432.5,607.2 432.8,605.0 432.8,614.8 433.2,611.4 433.2,617.2 433.5,616.2 433.5,608.5 433.8,611.6 433.8,602.6 434.2,603.8 434.2,592.5 434.5,594.9 434.5,582.6 434.8,585.1 434.8,574.4 435.2,578.7 435.2,571.2 435.5,575.0 435.5,570.0 435.8,568.9 435.8,574.7 436.2,570.1 436.2,575.0 436.5,571.4 436.5,577.0 436.8,573.9 436.8,581.4 437.2,579.4 437.2,591.3 437.5,589.4 437.5,602.5 437.8,600.2 437.8,613.0 438.2,610.8 438.2,619.2 438.5,618.3 438.5,622.8 438.8,620.8 438.8,613.4 439.2,615.7 439.2,602.5 439.5,606.8 439.5,592.0 439.8,595.5 439.8,582.5 440.2,586.4 440.2,577.4 440.5,580.4 440.5,572.8 440.8,572.5 440.8,576.2 441.2,571.4 441.2,575.9 441.5,571.4 441.5,577.4 441.8,572.6 441.8,580.7 442.2,575.1 442.2,630.7 442.5,583.4 442.5,594.9 442.8,592.3 442.8,605.4 443.2,603.7 443.2,614.5 443.5,613.2 443.5,620.6 443.8,622.8 443.8,617.3 444.2,622.0 444.2,613.6 444.5,615.5 444.5,605.0 444.8,607.3 444.8,595.6 445.2,598.0 445.2,592.2 445.8,585.4 445.8,578.9 446.2,581.1 446.2,575.7 446.5,579.8 446.5,574.6 446.8,574.3 446.8,579.9 447.2,577.0 447.2,584.8 447.5,581.4 447.5,592.7 447.8,590.0 447.8,601.5 448.2,599.7 448.2,610.0 448.5,608.4 448.5,616.4 448.8,613.2 448.8,618.0 449.2,618.8 449.2,611.3 449.5,614.9 449.5,606.4 449.8,609.3 449.8,601.1 450.2,603.5 450.2,594.7 450.5,597.1 450.5,590.9 450.8,593.6 450.8,587.5 451.2,587.0 451.2,590.7 451.5,588.5 451.5,581.5 451.8,585.4 451.8,580.6 452.2,580.2 452.2,586.3 452.5,582.3 452.5,591.9 452.8,588.6 452.8,600.6 453.2,599.3 453.2,609.0 453.5,607.6 453.5,615.8 453.8,617.9 453.8,613.4 454.2,616.9 454.2,610.1 454.5,613.7 454.5,604.9 454.8,606.8 454.8,597.8 455.2,602.0 455.2,592.7 455.5,596.1 455.5,590.8 455.8,589.6 455.8,607.7 456.2,610.0 456.2,644.5 456.5,595.8 456.5,590.1 456.8,595.0 456.8,589.8 457.2,589.0 457.2,595.9 457.5,592.3 457.5,597.6 457.8,594.4 457.8,602.6 458.2,599.6 458.2,609.9 458.5,606.9 458.5,616.3 458.8,612.9 458.8,618.7 459.2,619.4 459.2,612.4 459.5,617.2 459.5,608.9 459.8,609.7 459.8,598.7 460.2,602.2 460.2,591.5 460.5,593.6 460.5,585.7 460.8,585.2 460.8,589.9 461.2,585.6 461.2,591.7 461.5,586.9 461.5,593.6 461.8,590.1 461.8,595.6 462.2,591.7 462.2,597.4 462.5,595.3 462.5,601.4 462.8,598.0 462.8,605.1 463.5,614.6 463.5,613.1 463.8,612.9 463.8,618.1 464.2,618.4 464.2,612.5 464.5,615.4 464.5,606.2 464.8,610.1 464.8,599.0 465.2,603.0 465.2,591.0 465.5,593.9 465.5,584.7 465.8,589.2 465.8,580.2 466.2,584.7 466.2,579.2 466.5,579.7 466.5,584.9 466.8,580.2 466.8,586.2 467.2,582.8 467.2,588.7 467.5,587.5 467.5,595.1 467.8,592.3 467.8,601.9 468.2,599.7 468.2,610.7 468.5,606.7 468.5,616.1 468.8,616.6 468.8,620.0 469.2,620.7 469.2,615.3 469.5,619.1 469.5,610.8 469.8,603.1 469.8,632.4 470.2,655.0 470.2,592.7 470.5,596.2 470.5,583.5 470.8,588.4 470.8,580.9 471.2,582.6 471.2,577.6 471.5,580.4 471.5,576.2 471.8,580.8 471.8,575.8 472.2,575.7 472.2,581.4 472.5,578.7 472.5,584.8 472.8,580.8 472.8,589.2" stroke="#1f77b4" stroke-width="1.0"/><path d="M472.8,583.0 472.8,587.7 473.2,585.8 473.2,597.6 473.5,593.8 473.5,606.4 473.8,604.3 473.8,614.2 474.2,611.8 474.2,618.4 474.5,618.5 474.5,613.9 474.8,616.0 474.8,612.0 475.2,604.0 475.2,595.8 475.5,597.6 475.5,585.7 475.8,587.4 475.8,577.4 476.2,580.3 476.2,571.4 476.5,575.3 476.5,569.1 476.8,574.2 476.8,569.1 477.2,573.8 477.2,568.9 477.5,568.9 477.5,575.0 477.8,571.7 477.8,580.4 478.2,576.5 478.2,586.8 478.5,583.3 478.5,598.3 478.8,595.1 478.8,608.7 479.2,608.3 479.2,618.2 479.5,615.0 479.5,623.5 479.8,616.6 479.8,622.2 480.2,618.8 480.2,607.7 480.5,610.3 480.5,601.4 480.8,596.7 480.8,588.3 481.5,578.0 481.5,572.1 481.8,575.0 481.8,568.8 482.2,572.5 482.2,567.0 482.5,572.4 482.5,567.2 482.8,567.5 482.8,573.6 483.2,571.2 483.2,580.3 483.5,577.8 483.5,590.9 483.8,588.4 483.8,641.1 484.2,652.1 484.2,602.6 484.5,610.3 484.5,618.3 484.8,619.7 484.8,615.2 485.2,619.2 485.2,610.9 485.5,612.8 485.5,603.4 485.8,605.1 485.8,594.0 486.2,596.6 486.2,587.0 486.5,588.2 486.5,579.4 486.8,583.3 486.8,574.8 487.2,575.8 487.2,578.3 487.5,568.3 487.5,573.2 487.8,567.6 487.8,571.8 488.2,568.8 488.2,576.9 488.5,573.7 488.5,585.5 488.8,583.9 488.8,598.6 489.2,596.1 489.2,609.5 489.5,606.9 489.5,616.4 489.8,617.7 489.8,612.0 490.2,616.2 490.2,607.8 490.5,610.4 490.5,599.0 490.8,603.0 490.8,590.6 491.2,591.7 491.2,582.9 491.5,587.0 491.5,581.0 491.8,585.4 491.8,579.2 492.2,584.1 492.2,578.7 492.5,582.5 492.5,576.2 492.8,581.0 492.8,573.9 493.2,573.8 493.2,579.1 493.5,576.4 493.5,579.7 493.8,585.6 493.8,595.1 494.2,593.7 494.2,607.4 494.5,605.1 494.5,616.0 494.8,613.8 494.8,619.1 495.2,617.8 495.2,608.6 495.5,611.1 495.5,597.6 495.8,598.8 495.8,584.4 496.2,586.2 496.2,573.6 496.5,575.0 496.5,568.1 496.8,571.5 496.8,566.4 497.2,568.9 497.2,575.1 497.5,571.5 497.5,578.3 497.8,575.2 497.8,632.6 498.2,630.1 498.2,578.6 498.5,582.0 498.5,585.9 498.8,593.7 498.8,601.0 499.2,599.3 499.2,613.3 499.5,610.4 499.5,620.0 500.2,621.4 500.2,614.3 500.5,618.5 500.5,602.2 500.8,604.7 500.8,585.3 501.2,587.7 501.2,569.1 501.5,570.0 501.5,557.7 501.8,559.3 501.8,551.5 502.2,551.7 502.2,556.9 502.5,554.0 502.5,561.6 502.8,557.9 502.8,566.5 503.2,563.8 503.2,576.6 503.5,574.4 503.5,588.5 503.8,586.6 503.8,603.5 504.2,602.3 504.2,620.4 504.5,619.6 504.5,634.0 504.8,631.1 504.8,638.4 505.2,634.4 505.2,638.1 505.5,622.3 505.5,613.9 505.8,615.8 505.8,593.9 506.2,594.3 506.2,572.9 506.5,574.8 506.5,556.3 506.8,558.6 506.8,546.2 507.2,548.6 507.2,542.2 507.5,539.8 507.5,545.7 507.8,540.8 507.8,548.0 508.2,543.1 508.2,552.9 508.5,550.3 508.5,565.5 508.8,565.5 508.8,587.5 509.2,585.1 509.2,612.0 509.5,610.3 509.5,636.3 509.8,634.8 509.8,650.7 510.2,648.6 510.2,654.9 510.5,653.4 510.5,639.0 510.8,640.3 510.8,622.5 511.2,604.5 511.2,588.6 511.5,590.5 511.5,563.5 511.8,549.9 511.8,598.9 512.2,584.4 512.2,537.1 512.5,534.4 512.5,539.8 512.8,538.8 512.8,533.3 513.2,533.4 513.2,539.8 513.5,534.6 513.5,545.1 513.8,542.9 513.8,561.2 514.2,560.2 514.2,586.4 514.5,584.6 514.5,614.9 514.8,613.9 514.8,640.5 515.2,640.1 515.2,657.6 515.5,654.6 515.5,660.3 515.8,657.9 515.8,641.7 516.2,642.2 516.2,617.1 516.5,617.6 516.5,587.2 516.8,589.4 516.8,563.1 517.2,565.5 517.2,547.1 517.5,549.2 517.5,545.6 517.8,538.5 517.8,534.6 518.2,538.4 518.2,533.3 518.5,534.6 518.5,540.8 518.8,538.6 518.8,552.4 519.2,551.2 519.2,570.6 519.5,568.3 519.5,593.6 519.8,593.6 519.8,618.2 520.2,615.6 520.2,637.9 520.5,636.0 520.5,646.4 520.8,646.8 520.8,639.0 521.2,642.0 521.2,624.8 521.5,627.2 521.5,607.1 521.8,608.2 521.8,587.3 522.2,589.6 522.2,572.9 522.5,572.6 522.5,560.0 522.8,561.8 522.8,551.5 523.2,554.4 523.2,545.4 523.5,547.7 523.5,543.3 523.8,542.0 523.8,549.7 524.2,547.1 524.2,564.4 524.5,563.0 524.5,585.1 524.8,583.4 524.8,607.6 525.2,604.9 525.2,623.5 525.5,621.6 525.5,632.4 525.8,627.6 525.8,680.6 526.2,651.7 526.2,615.9 526.5,617.2 526.5,601.1 526.8,602.5 526.8,587.3 527.2,590.2 527.2,576.5 527.5,580.2 527.5,571.6 527.8,576.0 527.8,569.5 528.2,573.6 528.2,566.0 528.5,568.9 528.5,560.5 528.8,560.3 528.8,564.0 529.2,559.3 529.2,568.6 529.5,564.6 529.5,581.3 529.8,581.3 529.8,600.0 530.2,598.4 530.2,619.2 530.5,615.9 530.5,628.0 530.8,629.5 530.8,623.2 531.2,625.7 531.2,609.8 531.5,613.0 531.5,608.0" stroke="#ff7f0e" stroke-width="1.0"/><path d="M531.5,613.8 531.5,594.8 531.8,596.8 531.8,576.8 532.2,578.5 532.2,565.0 532.5,569.4 532.5,561.8 532.8,562.2 532.8,568.2 533.2,564.8 533.2,571.7 533.5,568.7 533.5,575.8 533.8,571.0 533.8,575.7 534.2,572.5 534.2,580.7 534.5,577.6 534.5,588.3 535.2,602.8 535.2,611.1 538.2,547.8 538.2,551.2 538.5,549.1 538.5,558.2 538.8,556.4 538.8,567.5 539.2,564.4 539.2,577.2 539.5,575.5 539.5,593.0 539.8,590.8 539.8,659.3 540.2,608.7 540.2,627.4 540.5,625.3 540.5,637.5 540.8,634.3 540.8,639.6 541.2,635.0 541.2,624.8 541.5,626.0 541.5,604.4 541.8,605.9 541.8,581.2 542.2,584.9 542.2,560.7 542.5,563.0 542.5,544.6 542.8,548.6 542.8,536.3 543.2,539.3 543.2,533.6 543.5,534.5 543.5,539.9 543.8,535.6 543.8,545.8 544.2,542.4 544.2,554.8 544.5,552.7 544.5,573.8 544.8,573.1 544.8,598.1 545.2,595.9 545.2,624.2 545.5,622.3 545.5,643.7 545.8,642.1 545.8,653.8 546.2,655.3 546.2,644.3 546.5,647.9 546.5,629.1 546.8,628.3 546.8,600.5 547.2,602.4 547.2,587.4 547.5,568.9 547.5,552.4 547.8,553.6 547.8,539.0 548.2,541.5 548.2,534.5 548.5,532.8 548.5,538.4 548.8,531.8 548.8,538.4 549.2,533.9 549.2,542.2 549.5,539.6 549.5,554.6 549.8,552.2 549.8,575.3 550.2,572.1 550.2,601.3 550.5,601.1 550.5,630.2 550.8,628.5 550.8,651.8 551.2,650.2 551.2,660.7 552.5,588.4 552.5,575.1 552.8,577.2 552.8,561.2 553.2,546.6 553.2,544.1 553.5,546.5 553.5,538.5 553.8,537.7 553.8,593.1 554.2,536.8 554.2,542.7 554.5,538.8 554.5,547.3 554.8,546.5 554.8,561.4 555.2,560.3 555.2,582.5 555.5,581.6 555.5,607.9 555.8,607.5 555.8,632.2 556.2,630.4 556.2,647.3 556.5,644.2 556.5,653.3 556.8,651.6 556.8,639.2 557.2,640.8 557.2,623.6 557.5,624.1 557.5,601.4 557.8,603.0 557.8,582.1 558.2,585.8 558.2,567.6 558.5,568.9 558.5,557.7 558.8,559.8 558.8,549.6 559.2,553.2 559.2,545.0 559.5,544.9 559.5,549.9 559.8,546.9 559.8,553.9 560.2,565.6 560.2,576.4 560.5,574.6 560.5,599.4 560.8,596.0 560.8,619.3 561.2,617.7 561.2,633.4 561.5,630.5 561.5,639.2 561.8,637.9 561.8,632.0 562.2,633.3 562.2,619.5 562.5,620.1 562.5,605.0 562.8,604.8 562.8,590.9 563.2,593.7 563.2,581.7 563.5,584.2 563.5,575.6 563.8,579.6 563.8,571.9 564.2,573.7 564.2,566.2 564.5,568.0 564.5,560.6 564.8,559.7 564.8,566.6 565.2,562.7 565.2,575.7 565.5,572.9 565.5,582.2 565.8,601.0 565.8,611.5 566.2,609.3 566.2,625.5 566.5,624.8 566.5,632.4 566.8,632.1 566.8,622.7 567.2,625.5 567.2,609.7 567.5,613.1 567.5,594.2 567.8,636.7 567.8,580.4 568.2,582.3 568.2,574.5 568.5,572.5 568.5,577.8 568.8,573.5 568.8,578.8 569.2,576.2 569.2,580.7 569.5,580.4 569.5,576.5 569.8,581.5 569.8,576.4 570.2,577.0 570.2,584.3 570.5,582.1 570.5,595.8 570.8,593.3 570.8,608.9 571.2,606.4 571.2,621.3 571.8,628.3 571.8,621.7 572.2,624.8 572.2,610.5 572.5,612.1 572.5,592.6 572.8,594.2 572.8,575.6 573.2,576.7 573.2,561.6 573.5,564.3 573.5,556.2 573.8,555.4 573.8,562.0 574.2,559.2 574.2,566.7 574.5,564.8 574.5,572.5 574.8,569.9 574.8,578.8 575.2,575.4 575.2,587.6 575.5,585.7 575.5,598.5 575.8,597.5 575.8,613.5 576.2,610.1 576.2,623.8 576.5,619.4 576.5,629.7 576.8,629.8 576.8,623.4 577.2,625.9 577.2,611.4 577.5,613.7 577.5,595.0 577.8,597.9 577.8,581.2 578.2,569.8 578.2,562.2 578.5,564.6 578.5,551.9 578.8,554.5 578.8,547.4 579.2,546.8 579.2,552.8 579.5,549.7 579.5,556.5 579.8,552.1 579.8,562.2 580.2,560.3 580.2,573.3 580.5,572.1 580.5,587.5 580.8,587.2 580.8,605.9 581.2,605.0 581.2,623.3 581.5,621.2 581.5,633.6 581.8,631.5 581.8,687.6 582.2,634.4 582.2,623.0 582.5,625.2 582.5,607.0 582.8,608.4 582.8,585.6 583.2,588.4 583.2,576.7 583.5,558.6 583.5,555.4 583.8,558.1 583.8,548.8 584.2,551.8 584.2,545.6 584.5,545.0 584.5,550.0 584.8,546.6 584.8,551.3 585.2,548.5 585.2,555.7 585.5,554.3 585.5,568.2 585.8,567.2 585.8,585.8 586.2,584.9 586.2,606.2 586.5,605.4 586.5,624.4 586.8,622.0 586.8,636.2 587.2,637.5 587.2,631.2 587.5,634.5 587.5,622.4 587.8,623.0 587.8,603.2 588.2,605.9 588.2,583.6 588.5,585.5 588.5,567.5 588.8,570.6 588.8,557.0 589.2,558.8 589.2,550.9 589.5,554.9 589.5,549.5 589.8,550.3 589.8,554.0" stroke="#2ca02c" stroke-width="1.0"/><path d="M590.5,548.5 590.5,555.9 590.8,552.9 590.8,567.4 591.2,566.0 591.2,584.6 591.5,581.5 591.5,601.3 591.8,598.7 591.8,615.3 592.2,613.8 592.2,623.6 592.5,625.7 592.5,618.6 592.8,621.2 592.8,609.1 593.2,613.1 593.2,596.0 593.5,596.9 593.5,579.6 593.8,582.3 593.8,568.5 594.2,569.3 594.2,559.4 594.5,562.4 594.5,554.1 594.8,556.4 594.8,550.6 595.2,555.0 595.2,548.5 595.5,550.5 595.5,556.6 595.8,554.2 595.8,612.9 596.2,577.9 596.2,574.5 596.5,576.5 596.5,591.5 596.8,588.4 596.8,605.0 597.2,603.8 597.2,614.7 597.5,611.4 597.5,617.6 597.8,616.1 597.8,609.2 598.2,611.4 598.2,599.7 598.5,601.6 598.5,590.1 598.8,592.0 598.8,580.7 599.2,583.7 599.2,575.3 599.5,578.0 599.5,570.3 599.8,574.9 599.8,566.1 600.2,569.6 600.2,563.1 600.5,566.8 600.5,560.4 600.8,560.8 600.8,567.3 601.2,565.2 601.2,577.5 601.5,575.7 601.5,590.1 601.8,588.4 601.8,603.5 602.2,599.7 602.2,608.0 602.5,608.1 602.5,613.8 602.8,612.7 602.8,604.2 603.2,606.8 603.2,596.0 603.5,598.3 603.5,585.1 603.8,587.5 603.8,578.8 604.2,580.4 604.2,574.4 604.5,578.2 604.5,573.7 604.8,574.6 604.8,579.7 605.2,573.7 605.2,579.6 605.5,578.3 605.5,571.7 605.8,572.7 605.8,577.9 606.2,575.1 606.2,581.8 606.5,579.1 606.5,590.8 606.8,589.7 606.8,602.7 607.2,600.0 607.2,610.5 607.5,607.3 607.5,614.2 607.8,614.1 607.8,607.5 608.2,609.5 608.2,603.1 608.5,594.9 608.5,584.5 608.8,584.7 608.8,580.0 609.2,569.1 609.2,566.1 609.5,568.7 609.5,564.6 609.8,565.1 609.8,621.0 610.2,568.7 610.2,574.7 610.5,572.0 610.5,578.1 610.8,574.5 610.8,581.7 611.2,578.4 611.2,588.3 611.5,585.5 611.5,596.0 611.8,593.7 611.8,603.9 612.2,602.3 612.2,613.0 612.5,608.2 612.5,613.5 612.8,613.5 612.8,606.7 613.2,609.8 613.2,597.9 613.5,599.2 613.5,586.0 614.2,574.8 614.2,560.6 614.5,564.5 614.5,555.2 614.8,559.8 614.8,554.9 615.2,555.5 615.2,561.9 615.5,558.4 615.5,565.6 615.8,561.7 615.8,571.6 616.2,567.0 616.2,579.5 616.5,577.8 616.5,591.8 616.8,589.4 616.8,604.2 617.2,601.6 617.2,614.8 617.5,613.3 617.5,620.2 617.8,620.8 617.8,614.9 618.2,617.6 618.2,604.4 618.5,608.5 618.5,592.5 618.8,593.6 618.8,577.2 619.2,578.2 619.2,565.2 619.5,567.2 619.5,557.1 619.8,561.0 619.8,554.8 620.2,557.5 620.2,553.1 620.5,557.9 620.5,552.5 620.8,560.5 620.8,554.4 621.2,557.4 621.2,566.7 621.5,564.1 621.5,578.4 621.8,576.2 621.8,594.4 622.2,592.2 622.2,609.8 622.5,608.1 622.5,621.8 622.8,618.2 622.8,625.9 623.2,626.1 623.2,616.7 623.5,622.6 623.5,605.8 623.8,652.3 623.8,590.3 624.2,593.7 624.2,575.3 624.5,578.0 624.5,564.2 624.8,567.7 624.8,558.5 625.2,560.5 625.2,556.7 625.8,556.3 625.8,559.8 626.2,557.2 626.2,563.5 626.5,561.1 626.5,570.4 626.8,569.0 626.8,582.6 627.2,580.5 627.2,597.5 627.5,597.3 627.5,612.9 627.8,611.1 627.8,625.5 628.2,621.4 628.2,627.8 628.5,627.0 628.5,619.9 628.8,623.2 628.8,608.5 629.2,612.3 629.2,595.4 629.5,597.2 629.5,582.7 629.8,584.3 629.8,572.7 630.2,574.1 630.2,566.5 630.5,569.1 630.5,563.4 630.8,561.9 630.8,567.0 631.2,561.3 631.2,567.2 631.5,564.1 631.5,572.2 631.8,568.4 631.8,580.6 632.2,577.4 632.2,587.2 632.5,591.8 632.5,604.3 632.8,601.8 632.8,614.8 633.2,612.3 633.2,620.7 633.5,622.2 633.5,617.0 633.8,620.5 633.8,611.4 634.2,614.7 634.2,602.7 634.5,604.6 634.5,594.3 634.8,596.1 634.8,584.1 635.2,587.9 635.2,579.3 635.5,582.4 635.5,573.8 635.8,577.9 635.8,571.0 636.2,574.6 636.2,568.7 636.5,568.0 636.5,573.4 636.8,569.5 636.8,578.0 637.2,576.1 637.2,588.1 637.5,586.0 637.5,599.8 637.8,598.5 637.8,603.3 638.2,615.6 638.2,609.6 638.5,616.5 638.5,611.2 638.8,613.9 638.8,605.9 639.2,608.9 639.2,598.3 639.5,599.7 639.5,588.5 639.8,592.9 639.8,584.3 640.2,588.2 640.2,580.9 640.5,585.8 640.5,580.7 640.8,579.9 640.8,585.4 641.2,583.5 641.2,576.8 641.5,580.8 641.5,575.1 641.8,575.4 641.8,581.2 642.2,577.9 642.2,586.6 642.5,583.4 642.5,594.4 642.8,592.4 642.8,600.6 643.5,611.8 643.5,607.1 643.8,611.9 643.8,602.5 644.2,604.3 644.2,593.1 644.5,594.2 644.5,592.6 644.8,582.0 644.8,573.3 645.2,577.0 645.2,570.5 645.5,570.7 645.5,575.2 645.8,571.6 645.8,578.2 646.2,575.4 646.2,581.5 646.5,576.7 646.5,581.8 646.8,578.1 646.8,583.8 647.2,581.6 647.2,589.2 647.5,587.0 647.5,595.7 647.8,594.0 647.8,603.7 648.2,600.7 648.2,607.5" stroke="#d62728" stroke-width="1.0"/><path d="M648.2,610.6 648.2,607.9 648.5,613.4 648.5,607.6 648.8,611.6 648.8,603.0 649.2,606.8 649.2,596.0 649.5,597.5 649.5,584.0 650.2,572.5 650.2,564.4 650.5,567.7 650.5,561.3 650.8,560.0 650.8,566.1 651.2,563.0 651.2,568.4 651.5,564.9 651.5,573.5 651.8,570.1 651.8,626.1 652.2,576.2 652.2,586.7 652.5,584.9 652.5,599.4 652.8,595.4 652.8,609.1 653.2,606.6 653.2,614.8 653.5,613.3 653.5,618.6 653.8,617.7 653.8,611.0 654.2,613.5 654.2,599.8 654.5,600.7 654.5,585.2 654.8,588.5 654.8,570.7 655.2,573.9 655.2,561.3 655.5,563.1 655.5,555.7 655.8,558.3 655.8,551.5 656.2,551.8 656.2,556.6 656.5,558.2 656.5,552.6 656.8,553.9 656.8,562.0 657.2,559.7 657.2,571.4 657.5,568.5 657.5,585.0 657.8,582.9 657.8,601.8 658.2,600.5 658.2,616.2 658.5,613.2 658.5,624.6 658.8,627.2 658.8,621.8 659.2,624.9 659.2,613.6 659.5,615.2 659.5,597.9 659.8,598.7 659.8,579.0 660.2,582.2 660.2,564.6 660.5,568.3 660.5,553.5 660.8,556.8 660.8,548.8 661.2,552.6 661.2,547.6 661.5,546.9 661.5,551.2 661.8,546.8 661.8,551.5 662.5,564.5 662.5,568.5 662.8,566.3 662.8,585.1 663.2,581.1 663.2,603.6 663.5,602.7 663.5,619.6 663.8,617.5 663.8,628.9 664.2,624.7 664.2,630.7 664.5,627.5 664.5,615.1 664.8,616.5 664.8,598.6 665.2,600.0 665.2,581.0 665.5,584.5 665.5,566.6 665.8,615.1 665.8,557.4 666.2,559.4 666.2,552.4 666.5,555.1 666.5,549.0 666.8,554.3 666.8,549.0 667.2,549.8 667.2,556.3 667.5,554.1 667.5,561.3 667.8,572.1 667.8,577.7 668.2,574.6 668.2,592.8 668.5,591.6 668.5,608.8 668.8,607.0 668.8,620.9 669.2,620.4 669.2,627.3 669.5,628.4 669.5,620.6 669.8,624.2 669.8,610.2 670.2,613.5 670.2,599.0 670.5,600.6 670.5,585.7 670.8,587.3 670.8,573.1 671.2,577.2 671.2,567.0 671.5,570.7 671.5,562.2 671.8,564.6 671.8,556.7 672.2,559.9 672.2,554.8 672.5,555.9 672.5,563.2 672.8,561.1 672.8,574.6 673.2,572.6 673.2,589.9 673.5,587.3 673.5,605.1 673.8,602.9 673.8,614.0 674.2,617.1 674.2,622.0 674.5,624.2 674.5,616.9 674.8,619.5 674.8,608.1 675.2,610.8 675.2,598.4 675.5,600.2 675.5,589.3 675.8,591.1 675.8,582.5 676.2,584.9 676.2,579.5 676.5,582.1 676.5,575.2 676.8,580.2 676.8,573.1 677.2,577.0 677.2,569.7 677.5,571.9 677.5,567.5 677.8,567.0 677.8,577.7 678.2,574.5 678.2,588.0 678.5,587.3 678.5,603.1 678.8,600.8 678.8,616.9 679.2,615.0 679.2,623.5 679.5,624.0 679.5,618.2 680.2,607.2 680.2,593.8 680.5,596.6 680.5,580.3 680.8,584.4 680.8,574.0 681.2,577.0 681.2,571.6 681.5,575.4 681.5,572.0 681.8,577.2 681.8,581.3 682.2,577.7 682.2,582.9 682.5,584.0 682.5,579.1 682.8,579.5 682.8,588.9 683.2,585.3 683.2,595.9 683.5,591.9 683.5,605.6 683.8,603.6 683.8,616.6 684.2,614.1 684.2,623.7 684.5,625.2 684.5,619.0 684.8,621.9 684.8,611.8 685.2,613.3 685.2,597.5 685.5,600.3 685.5,583.7 685.8,584.7 685.8,570.6 686.2,572.1 686.2,563.5 686.5,567.4 686.5,562.6 686.8,565.4 686.8,572.4 687.2,567.7 687.2,577.1 687.5,574.3 687.5,582.1 687.8,579.8 687.8,590.4 688.2,588.2 688.2,601.6 688.5,600.1 688.5,615.3 688.8,612.4 688.8,625.3 689.2,623.7 689.2,632.3 689.5,633.9 689.5,629.0 689.8,632.1 689.8,621.1 690.2,624.1 690.2,607.0 690.5,610.3 690.5,591.2 690.8,593.4 690.8,575.9 691.2,577.5 691.2,567.9 691.5,569.6 691.5,562.0 691.8,561.1 691.8,566.8 692.2,561.3 692.2,567.3 692.5,564.7 692.5,570.3 692.8,569.9 692.8,580.1 693.2,577.0 693.2,594.6 693.5,592.4 693.5,609.2 693.8,608.8 693.8,668.6 694.2,624.1 694.2,639.6 694.5,636.5 694.5,643.7 694.8,644.4 694.8,635.7 695.2,637.3 695.2,621.4 695.5,624.0 695.5,603.0 695.8,604.9 695.8,585.6 696.2,587.7 696.2,570.2 696.5,573.6 696.5,563.8 696.8,566.8 696.8,559.7 697.2,564.8 697.2,559.8 697.5,560.2 697.5,564.5 697.8,560.8 697.8,565.9 698.5,576.4 698.5,572.5 698.8,596.9 698.8,606.6 699.2,605.6 699.2,623.8 699.5,623.1 699.5,637.7 699.8,634.5 699.8,641.5 700.2,640.8 700.2,630.2 700.5,634.0 700.5,616.8 700.8,619.9 700.8,599.6 701.2,600.1 701.2,581.0 701.5,585.9 701.5,569.2 701.8,571.1 701.8,562.4 702.2,565.4 702.2,559.0 702.5,562.0 702.5,557.1 702.8,557.4 702.8,562.5 703.2,558.7 703.2,566.1 703.5,563.4 703.5,573.9 703.8,572.3 703.8,584.1 704.2,595.4 704.2,604.3 704.5,601.3 704.5,617.9 704.8,615.4 704.8,626.1" stroke="#9467bd" stroke-width="1.0"/></g><g clip-path="url(#c22)"><g transform="scale(.1)" stroke-linecap="round" stroke-linejoin="round"><path d="M10213 5885l12-10 12 1 13-19 12 19 12 6 12 5 13 15 12-28 12 12 12-12 13-1 12 3 12-7 12-2 13-1 12 17 12 10 12-4 13 11 12-2 12 30 12-2 13 2 12-3 12 16 12 0 13-2 12 28 12 17 12 5 13 25 12-29 12 25 12 10 13 2 12 33 12-9 12 8 12-2M7831 6054l12 11 12-18 12 18 13-1 12 8 12-17 12-8 13-8 12-24 12 8 12 0 13-5 12-40 12-5 12-6 13-21 12-14 12 0 12-49 13 31 12-48 12 18 12-7 13-31 12-7 12-5 12-5 13-11 12-20 12 4 12 2 13-22 12-2 12-14 12 28 13-29 12 17 12 14 12-24 13 14 12-9 12 44 12-20 13-4 12 11 12 6 12 3 13 8 12-11 12 21 12 3 13-10 12 28M8578 5875l12 2 12 28 13 8 12 14 12-2 12 0 13 20 12 20M8897 6077l12-18 13 28 12-22 12-2 12-4 13 1 12-35 12 12 12-14 12-21 13 13 12-31 12-34 12-17 13 11 12-16 12-30 12-10 13-4 12-28 12-6 12-11 13-16 12-2 12-21 12-3 13-24 12-7 12-11 12 13 13-15 12-5 12-2 12 3 13-14 12-6 12 0 12-13 13 25 12-23 12 30 12-8 13-11 12 3 12 21 12-14 13 5 12 4 12 20 12 1 13-17 12 9 12 34 12-10 13-1 12 17 12-10 12 25 13 0 12 20 12 16 12 31 13 10 12-13 12 31 12 9M9767 6019l12 1 12 9 12 33 13 10 12 17 12 13 12-11 13 17 12 6 12 25 12 7 12 4 13 7 12-10 12 10 12-25 13 15 12-9 12-18 12-35 13 27 12-10 12-13 12-18 13 8 12-26 12-28 12-31 13 10 12-14 12-37 12-21 13-23 12-20 12-7 12-16 13-16 12-5 12-7 12-24 13-21 12-23 12 17 12-27 13-2 12 2 12-48 12 39 13-32 12 25 12-8 12-25 13 2 12 3 12 16 12-30 13 14 12 5 12 8 12-26 13 3 12 5 12 11 12 0 13-1 12-3 12 9 12 7 13-10 12 18 12 5 12-7 13 30 12 3 12 17M7825 5808l13-2 12 15 12 9 12 22 13 27 12 21 12 33 12 17 13-1 12 13 12 20 12 31 12 19 13 10 12 13 12 18 12 24 13 40 12-18 12 28 12 6 13 14 12 2M8171 6194l12-4 12-2 12-4 13-16 12-14 12 12 12-24 13-14 12-25 12-8 12-18 13-32 12 3 12-23 12-49 13 10 12-41 12-20 12-12 13-5 12-25 12-41 12 14 13-37 12-15 12-8 12 7 13-18 12-1 12 9 12-30 13-16 12 12 12-2 12-14 13 6 12 1 12 3 12-22 13 6 12 10 12-13 12 4 12-13 13 0 12 15 12-1 12-7 13-8 12 30 12-12 12-6 13 2 12 22 12 7 12 15 36 17 12 28 12 2 12 12 13 11 12 7 12 29 12 17 13 35 12-7 12 26 12 23 13 5 12 19 12 25 12 23 13 33 12 14 12-14 12 42 12 1 13 25 12-4 12 12 12 23 13-4 12 11 12-3 12 13 13 3 12-1 12-26 12 41 13-29 12-15 12-21 12 11 13-28 12-10 12-1 12-30 13-23 12-13 12-10 12 1M9488 5970l13-37M9621 5815l13-7 12 1 12-8 12 6 13-14 12 1 12 15 12-19 13-3 12-26 12 0 12 22 13-6 12 7 12-15 12-14 13 13 12-3 12 17 12-7 13-1 12 2 12 9 12 9 13 12 12 21 12 7 12-20 13 52 12-13 12 12 12 29 13 15 12 20 12 6 12 16 13 42 12-3 12 17 12 15 13 36 12 6 12 29 12-6 13 19 12 4 12 13 12 0 13 9 12 28 12-7 12 19 13-18 12-1 12 16 12-13 13-2 12-17 12 20 12 7 13-30 12-22 12 21 12-18 13 0 12-11 12-27 12-23 12-6 13-4 12-23 12 8 12-30 13-19 12 21 12-21 12-11 13-14 12-8 12-16 12-4 13-2 12 1 12-10 12-20 13 12 12 8M7827 5889l12 0 13 6M7946 5842l12 14 12-8 12-10 13-5 12 16 12-6 12-20 13-3 12 21 12-25 12 18 13 5 12 8 12-9 12 23 13 7 12 7 12 17 12-5 12 21 13 12 12 24 12 19 12 24 13 6 12 16 12 7 12 22 13 36 12-1 12 27 12-7 13 26 12 6 12-5 12 9 13 32 12-10 12-2 12 18 13-16 12 5 12 9 12-14 13-16 12 15 12-28 12-18 13 0 12-20 12 6 12-20 13 5 12-17 12-18 12-16 13-13 12 0 12-18 12-18 13-14 12 9 12-26 12-17 13-15 12 29 12-7 12 16 13-39 12 17 12-25 12 27 13-10 12 6 12-4M8956 5926l13 11 12-8 12-5 12 10 13-4 12-12 12-3 12 32 13-24 12-3 12 9 12-3 13-10 12 32 12-22 12 23 13 11 12-12 12-3 12 18 12-3 13-3 12 29 12 2 12-9 13 26 12 18 12-1 12 22 13 33 12-30 12 26 12 23 13 14 12 15 12 10 12 21 13-8 12-9 12 17 12-11 13 29 12 6 12-16 12 0 13-12 12 0 12 8 12 12 13-37 12-8 12 5 12-40 13 5 12-9 12-28 12 3 13-28 12-3 12-31 12-18 13-13 12 2 12-20 12-21 13-12 12-8 12-3 12-13 13-5 12-4 12-8 12 6 13-3 12 6 12-14 12 11 13-15 12 6 12-5 12 15 13 2 12 1 12 17 12-10 13 16 12 9 12-17 12 28 13-17 12 19 12-27 12 28 13 10 12-3 12 10 12 0M10209 5977l12 12 12-4 12 8 13 17 12-4 12 31 12-10M10443 6135l12 7 13 7 12 22 12-6 12 1 13-4 12 12 12-14 12-9 13 12 12-24 12 8 12-11 13-15 12-10 12 7 12-32 13-24 12-3 12-22M7828 6021l12-13 13-4 12-30 12-8 12-31 13 14 12-22 12-16 12-24 13-11 12-1 12-13 12-6 13 1 12-23 12-19 12 13 13 11 12-18 12 18 12-22 13 1 12 4 12-4 12 10 13-9 12 13 12 17 12-9 13-1 12-21 12 6 12 13 13 10 12 13 12-19 12 22 13 24 12-11 12 0 12 11 13 1 12 0 12 34 12 28 13-17 12 14 12 6 12 24 13-6 12 16 12 18 12 12 13 11 12 26 12 5 12 22 13 27 12 0 12 19 12-7 13 15M8662 6192l12-24 12 15 13-14 12 19 12-31 12 13 13-12 12 8 12-18 12-14 13-10 12-14 12 1 12-35 13-15 12-14 35-44 12-3 12-31 13-24 12-13 12-11 12 18 13-26 12-42 12 0 12-10 13 2 12-36 12-8 12-8 13 5 12-6 12-16 12 4 13 9 12-4 12-8 12-21 13 2 12 16 12-1 12-13 13 19 12-11 12-8 12-1 13 8 12-13 12 4 12 14 13-4 12 2 12-6 12 5 13 11 12 40 12-32 12 24 13-11 12 3 12 19 12 28 12 5" stroke="#1f77b4" stroke-width="20"/><path d="M9471 5857l12 12 12 14 13 10 12 34 12-15 12 17 13 47 12-19 12 40 12 14 13 14 12 18 12 16 12 13 13 18 12 16 12 10 12 15 13 16 12 12 12-9 12 23 13 4 12-24 12 7 12 18 13-9 12-3 12-25 12-21M9935 6040l12-26 12-25 12-31 13-9 12-25 12-5 12-22 13-22 12-1 12-45 12 0 13-16 12 0 12-10 12-15 13-22 12-9 12 10 12-9 13-30 12 6 12-9 12 1 13-3 12-7 12 12 12-19 13 1 12 22 12-22 12 8 13-19 12 21 12-9 12 8 13-14 12-9 12 17 12 21 13-6 12-2 12 19 12 2 13 4 12-11 12 18 12 0 13 24 12 16 12 4 12 7 13 38 12 9 12 23 12-9 12 31 13 41 12 25 12 19 12 18 13 10 12 39M7834 6054l12 20 13 30 12 1 12 26 12 13 13 24 12-9 12 9 12 21 13-2 12 48 12-23 12-25 13 17 12-9 12-16 12 16 13-23 12 4 12-31 12 2 13-35 12-6 12-12 12-15 13-36M8214 5949l12-18 12-12M8358 5761l13-3 12-13 12-10 12-30 13 10 12 25 12-33 12 12 13 6 12-23 12-7 12-10 13 11 12 21 12-24 12-8 13 26 12-10 12-10 12 4 13-2 12-1 12 1 12 27 13 9 12-17 12 18 12 29 13 15 12-2 12 23 12 19 13 3 12 44 12 15 12 7 13 31 12 15 12 25 12 0 12 37 36 78 12 15 12 1 12-5 13 27 12 20 12 25 12 10 13 4 12 14 12-10 12 10 13-8 12 14 12 6 12-23 13-1 12-3 12-6 12-20 13-10 12-2 12-20 12 1 13-27 12-1 12-34 12-35 13 5 12-15 12-11 12-27 12-6 13-35 12 3 12-17 12-18 13-8 12-9 12 9 12-14 13-48 12 27 12-22 12-3 13-15 12-32 12 21 12-12 13-12M9594 5705l12 14 12-24 12 7 13-5 12-8 12-8 12 29 13-4 12-8 12-3 12 18 13-12 12 38 12 25 12 4 13 31 12-9 12 25 12 38 13-14 12 11 12 58 12 25 13 13 12 30 12 4 12 15 13 34 12 4 12 32 12 26 13 0 12 3 12 31 12 16 13 6 12-2 12 2 12 6 13 1 12-4 12 0 12-20 13-3 12-27 12 13 12-35 13 12 12-18 12-27 12-7 12-5 13-5 12-28 12-42 12 10 13-25 12-25 12-9 12-12 13 11 12-40 12-9 12-13 13 17 12-26 12-20 12 37 13-14 12-7 12-14 12-8 13 16 12-16 12 18 12-19 13 4 12-11 12 6 12 15 13-19 12-12 12-7 12 15 13-28 12 13 12-5 12-1 13-14M7824 5781l12-3 12-17 13-1 12-17 12 26 12-12 13 3 12 4M8017 5880l12 2 12 55 12-8 13 18 12 19 12 32 12 26 13 27 12 18 12 0 12 42 13 13 12 7 12 9 12 13 12 5 13-9 12 19 12-7 12-5 13 10 12-11 12-13 12 0 13-4 12-50 12-14 12-22 13-27 12-16 12-2 12-43 13-35 12-5 12-22 12-43 13-5 12-11 12-41 12-11 13-3 12-18 12-26 12-22 13-23 12-6 12 21 12-30 13-19 12 23 12 2 12 3 13-7 12 28 12-11 12 12 13 21 12-4 12-3 12 25 13-21 12 13 12 11 12 21 13-16 12 0 12 16 12 13 13-5 35 23 12 6 12 5 12-11 13 20 12 6M9055 5954l12 23 13 33 12-2 12 31 12 26 13 3 12 37 12 34 12-17 13 41 12 0 12 17 12-6M9334 6189l13-27 12-21 12-4 12-11 13-42 12-17 12-19 12-31 13-24 12-41 12-26 12-12 12-26 13-35 12-38 12-37 12-12 13-53 12-14 12-25 12-24 13-6 12-49 12-5 12-1 13-24 12-11 12-7 12-1 13-5 12 3 12-26 12 21 13 8 12 22 12-21 12 10 13 22 12 0 12 10 12-6 13 22 12 17 12 3 12 25 13 1 12 20 12-6 12-2 13 38 12 33 12 2 12 29 13 13 12 32 12 16 12 15 13 40 12 29 12 30 12 14 13 37 12 34 12 21 12 45 13 23 12 27 12 19 12 13 13 59 12 11 12 16 12 33 13 14 12 14 12 7 12 22 13-2 12 11 12 2 12-2 13-13M10432 6198l13-24 12-42 12-35 12-7 13-58 12-30 12-35 12-49 13-37 12-37 12-36 12-48 13-32 12-24 12-31 12-35 13-6 12-61 12-16 12-16 13-27M7830 5498l12 3 12-28 13-25 12 3 12-5 12 7 13-29 12 30 12-32 12 13 13-11 12 16 12-4 12 8 13-11 12 12 12-10 12 31 13 3 12 13 12-5 12 7 13 6 12 32 12 12 12-11 12 37 13 33 12 34 12 28 12 35 13 23 12 36 12 58 12 36 13 20 12 79 12 21 12 47 13 33 12 49 12 33 12 77 13 25 12 52 12 43 12 27 13 41 12 35 12 21 12 27 13 30 12-1 12 15 12 4 13 13 12-17 12 3 12-19 13-10 12-9 12-34 12-30 13-39 12-17 12-35 12-85M8712 6017l13-75 12-31 12-32 12-52 13-68 12-20 12-50 12-38 13-33 12-33 12-35 12-33 35-63 13-14 12-44 12 17 12-29 13-4 12-14 12 3 12-10 13-14 12 14 12 22 12-33 13 22 12-16 12 11 12-17 13 10 12-20 12 16 12 14 13 6 12 3 12 5 12 13 13 13 12 10 12 37 12-7 13 48 12 42 12 21 12 19 13 46 12 45 12 41 12 28 13 61 12 60 12 34 12 44 13 63 12 53 12 64 12 59 13 36 12 52 12 31 12 51 13 42 12 47 12 30 12 47 13 7 12 25 12 15 12 16 13 21 12-21 12-6 12 8 13-12 12-22 12-29 12-11 13-34 12-24 12-54 12-43 13-68 12-29 12-57 12-51 12-30 13-26 12-90 12-36 12-77 13-23 12-43 12-53 12-42 13-55 12-13 12-52 12 2 13-52 12-55 12-10 12-22M10103 5383l12-11 12-18 13-11 12 18 12-24 12 14 13 20 12-22 12 13 12 2 13 34 12 10 12 4 12-3 13 30 12 7 12 57 12 18 13 15 12 40 12 37 12 32 12 10 13 68 12 39 12 35 12 61 13 25 12 53 12 40 12 42 13 51 12 42 12 55 12 34 13 32 12 37 12 33 12 29 13 26 12 17 12 39 12 4 13 8 12 13 12 8 12-23 13 17M7831 6425l12-4 12-18 13 0 12-19 12-32 12-31 13-27 12-37 12-26 12-27 13-34 12-36 12-36 12-36 13-51 12-33 12-19 12-53 13-28 12-21 12-31 12-34 13-24 12-34 12-8 12-40 13-13 12-27 12-8 12-38 13-7 12-28 12-3 12-1 13-8 12-33 12-9 12-13 13-19 12-2 12-14 12-3M8407 5441l13 17 12 2 12-20 12 39 13 1 12 25 12 2 12 27 13 48 12 23 12 23 12 37 13 29 12 46 12 43 12 33 13 41 12 24 12 53 12 38 13 44 12 39 12 33 12 37 12 15 13 45 12 23 12 17 12 28 13 6 12 19 12-3 12 39 13-13 12-1 12 6 12-9 36-31 12-40 12-9 12-5 13-7 12-55 12-28 12-32 13-15 12-16 12-48 12 0 13-42 12-15 12-25 12-15 13-44 12-3 12-14 12-37 12-7 13-1 12-24 12-13 12 2 13-13 12-15 12-2 12-20 13 11 12 6 12-14 12-5 13-32 12 12 12-11 12 6 13-15 12-3 12 0 12-15 13-4 12-31 12 17 12-29M9523 5606l13 18 12 5 12 16 12 25 13 26 12 22 12 18 12 37 13 27 12 30 12 40 12 10 13 32 12 47 12 38 12 25 13 28 12 45 12 26 12 45 13 10 12 28 12 19 12 27 13 14 12-5 12 16 12 20 13-32 12 0 12 1 12-26 13-6 12-16 12-37 12-19 13-22 12-58" stroke="#ff7f0e" stroke-width="20"/><path d="M9990 6138l12-56 12-32 12-19 13-28 12-43 12-69 12-19 13-24 12-17 12-37 12-19 13-31 12-40 12-22 12-4 13-16 12-9 12 3 12-15 13-5 12-4 12 6 12 10 13-6 12 6 12-6 12 40 12-3 13 1 12-1 12 18 12 3 13 26 12-39 12 30 12-15 13 16 12 4 12 8 12 7 13-6 12-4 12-3 12-4 13 14 12 24 12 6 12 1 13 21 12 9 12 33 12 17 13 6 12 9M7877 6062l12 40M8537 5496l13-3 12 22 12 16 12 6 13 14 12 31 12 0 12 12 13 32 12 1 12 25 12 17 13 26 12-8 12 29 12 26 13 17 12 14 12 18 12 39 13 14 12 40 12 21 12 40 13 41 12 17 35 122 12 25 12 10 13 16 12 35 12 41 12 13 13 31 12 31 12 13 12 29 13-11 12 21 12 6M9132 6319l12-23 12-17 13-37 12-31 12-34 12-41 12-48 13-31 12-41 12-22 12-58 13-41 12-37 12-9 12-81 13-39 12-37 12-39 12-40 13-40 12-22 12-21 12-32 13-2 12-46 12-15 12-16 13-40 12 10 12-11 12 5 13-4 12-16 12-14 12-8 13 6 12 23 12 0 12 19 13-11 12 0 12 12 12 10 13-8 12 11 12 15 12 40 13-12 12 12 12 11 12 44 13 23 12 15 12 55 12-1 13 25 12 58 12 21 12 41 13 21 12 40 12 64 12 48 13 58 12 44 12 32 12 73 13 31 12 18 12 50 12 52 13 51 12 23 12 37 12 37 13 22 12 27 12 13 12 12 12 15 13 1 12-16 12 29 12-18 13-29 12-13 12-16 12-15 13-36 12-62 12-18 12-48 13-49 12-49 12-46 12-57 13-38 12-44 12-51 12-40M10424 5627l12-23 13-58 12-8 12-15 12-24 13-43 12-25 12-21 12-16 13-1 12-9 12-20 12-1 13 13 12-15 12 2 12-22 13 14 12 11 12-1 12-14 13 16M7834 5349l12-28 12 27 13 34 12-19 12 26 12 4 13-2 12 17 12 3 12 33 13 21 12 11 12 23 12 34 13 37 12 37 12 13 12 58 13 47 12 56 12 26 12 51 13 46 12 59 12 49 12 68 13 28 12 72 12 53 12 34 13 41 12 55 12 23 12 76 13 11 12 21 12 29 12 2 12 64 13 9 12-7M8596 5851l13-63 12-31 12-56 12-44 13-12M8747 5452l13-8 12-5 12-5 12-8 13-20 12-20 12 23 12-19 13 17 36-14 12-25 12 36 12 11 13-15 12 4 12-16 12 39 13-7 12 23 12 13 12 14 13 10 12 21 12 17 12 43 13 32 12 26 12 43 12 51 13 28 12 39 12 26 12 37 13 43 12 60 12 48 12 43 13 40 12 40 12 54 12 34 13 48 12 41 12 43 12 18 12 44 13 2 12 38 12 17 12 34 13-4 12 35 12-36 12 23 13-10 12-9 12-31 12 8 13-30 12-7 12-23 12-29 13-51 12-29 12-40 12-24 13-28 12-70 12-39 12 9 13-65 12-35 12-28 12-34 13-54 12-24 12-7 12-61 13-18 12-31 12-47 12-25 13-15 12-22 12 11 12-34 13-16 12-7 12-6 12-39 13-3 12-6 12-18 12-6 13 13 12-22 12-6 12-38 13 9 12-3 12 3 12-5 13 12 12 8 12 5 12 14 13-2M10169 5684l12 48 12 19 13 48 12 35 12 28 12 55 13 30 12 30 12 59 12 29 13 29 12 57 12 41 12 20 13 24 12 21 12 40 12 6 13 2 12 49 12 5 12-3 13 14 12-10 12 16 12-18 13-5 12-20 12 4 12-12 13-18 12-29 12-30 12-4 13-26 12-37 12-14 12-44 13-11 12-47 12-14 12-21M7824 5994l12-18 12-25 12-20 13-6 12-23 12-23 12-32 12-8 13-6 12-11 12-8 12 2 13 4 12-37 12-12 12-28 13 25 12-12 12-14 12-5 13-20 12-10 12 3 12-9 13-17 12-2 12-31 12 14 13-17 12 3 12-12 12-2 13-12 12 6 12-9 12-6 13 21 12 6 12 22 12-5 13 41 12 13 12 41 12 4 13 33M8460 6042l13 41 12 22 12 33 12-3 13 66 12 13 12 39 12 13 13-1 12 14 12 13 12 7 13 1 12-5 12-26 12 4 13 0 12-8 12-26 12-24 13-20 12-19 12-13 12-36 13-21 12-50 12-16 12-24 12-33 13-42 12-19 12-21 12-26 36-57 12-25 12-3 12-14 13-4 12-11 12-13 12-1 13-7 12 2 12 2 12 8 13 7 12-17 12 17 12 8 13 1 12 7 12-11 12 15 13 19 12 1 12-9 12-23 13 9 12 10 12-3 12-6 12 3 13 4 12 16 12-15 12 8 13-12 12 36 12-20 12 11 13 15 12 16 12 25 12-10 13 26 12-2 12 34 12 25 13 5 12 36 12 33 12 18 13 24 12 16 12 23 12 43 13 26 12 1 12 31M9685 6258l12 5 13-16 12-8 12-40 12-35 12-10 13 1 12-50 12 10 12-43 13-32 12-69 12-6 12-40 13-23 12-28 12-45 12-20 13-45 12-22 12-31 12-25 13-19 12-10 12-28 12-12 13-55 12 26 12 4 12-4 13-29 12 29 12-2 12-4 13 7 12 19 12 11 12-9 13 0 12 31 12 1 12 10 13 11 12 13 12 9 12 15 13-7 12 24 12 16 12 12 13 11 12 4 12 33 12-3 13 23 12 24 12-1 12 4 13 31 12 27 12-4 12 62 13 5 12 9 12 34 12 8 13 45 12 8 12 23 12 35 13 34 12 21 12 26 12 3 13 22 12-18 12 49 12-10 13 11 12 17 12-7 12 14M7829 6291l13-31 12-1 12-4 12-18 13-23 12-29 12 5 12-31 13-8 12-42 12-45 12 0 13-23 12-75 12-35 12 5 13-49 12-21 12-25M8127 5669l13-34 12-24 12-3 12-25 13-3 12-40 12 8 12-35 13-14 12 4 12-3 12 10 13-30 12 21 12-3 12 2 13-3 12 6 12 11 12 9 13 9 12 13 12 20 12-18 13 11 12-2 12 13 12 15 13 38 12-15 12 43 12 17 13 7 12 12 12 20 12 47 13 13 12 6 12 51 12 30 13 39 12 11 12 37 12 58 13 23 12 15 12 61 12 27 13 27 12 5 12 54 12 12 13 10 12 23 12 43 12 26 13-22 12 50 12-6 12 3 35-13 13-1 12-28 12 6 12-39 13-8 12-37 12-27 12-32 13-29 12-29 12-22 12-37 13-70 12-13 12-25 12-49 13-34 12-16 12-69M9228 5580l12-2 13-53 12 23 12-20 12-20 13-10 12-6 12-3 12 4 13-19 12 12 12 1 12-26 13 17 12-17 12 32 12-17 12 6 13-8 12 2 12 26 12-25 13 18 12 24 12-32 12 53 13-13 12 14 12 7 12 43 13 28 12-17 12 25 12 24 13 25 12 43 12 35 12 25 13 22 12 43 12 29 12 35 13 58 12 21 12 42 12 48 13 30 12 29 12 30 12 6 13 57 12 26 12 8 12 33 13 20 12 16 12 13 12 0 13 14 12-3 12-12 12 1 13-18 12-14 12-14 12-4 13-39 12-28 12-42 12-22 13-14 12-31 12-43 12-36 13-51 12-43 12-13 12-27 13-37 12-45 12-30 12-23 13-23 12-47 12-36 12-5 13-23 12-31 12-22 12 30 13-52 12-5 12-17 12 6 12-29 13 17 12 2 12-23 12 6 13-4 12-20 12 8 12 5" stroke="#2ca02c" stroke-width="20"/><path d="M10618 5501l12 1 12 27 12-24 13 44 12 5 12 12M7831 5576l13 34 12 11 12 36 12 18 13 27 12 27 12 30 12 4 13 59 12 39 12 13 12 41 13 34 12 36 12 32 12 4 13 50 12 22 12 37 12 2 13 22 12 29 12-4 12 13 13 18 12 6 12-1 12 13 13 2 12-8 12-5 12-17 13-2 12-36 12 8 12-50 13-29 12 14 12-33 12-28 12-25 13-40 12-39 12-11 12-5 13-55 12 1 12-32 12-43 13-18 12-36 12 0 12-38 13-16 12-9 12-16 12-12 13-36 12-1 12-18 12-11 13-3 12-31 12 15 12-9 13-8 12-17 12 22 12-31 13-4 12 5 12-5 12 20 13-31 12 26 12-21 12 17 13-2 12 12 12 25 12-22 13 21 12 5 12 20M8970 5776l12 29 12 13 12 43 12 2 13 52 12-14 12 57 12 15 13 33 12 18 12-6 12 53 13-2 12 10 12 38 12-7 13 32 12 8 12-15 12 11 13 15 12-6 12-10 12-15 13 14 12-20 12-18 12-13 13 4 12-14 12-21 12-33 13-10 12-11 12-20 12-16 13-21 12-26 12 4 12-31 13-39 12 22 12-36 12 8 13-16 12-15 12-38 12-12 13-2 12 3 12-20 12 0 13-14 12 3 12-15 12-17 13-7 12-12 12-3 12 22 13-35 12 5 12-3 12-25 13 10 12-7 12-15 12-5 13 1 12-1 12 2 12-9 13-7 12 13 12 3 12 2 12 6 13 15 12 31 12 14 12 17 13 9 12 23 12 12 12-2 13 35 12 39 12 19 12 18 13 42 12-15 12 51 12 38 13 18 12 25 12-7 12 20M10214 6096l12 8 12 29 13-8 12-14 12-13 12 11 12-18 13-11 12 7 12-33 12-2 13-38 12 12 12-23 12-43 13-4 12-21 12-16 12-18 13-3 12-22 12-1 12-18 13-31 12-8 12-24 12 11 13-31 12 4 12 12 12-11 13-10 12-21 12 21 12-8 13-20 12 17 12 3 12 7M7832 5768l12-16 12 45 12-19 13-24 12 13 12 17 12-4 13-3 12-12 12 2 12 5 13-11 12-7 12-4 12-6 13 5 12 15 12-16 12 7 13-10 12 6 12 39 12-3 13 11 12-20 12 40 12 17 13 8 12-9 12 39 12 19 13 15 12 0 12 40 12 16 13 39 12 13 12-4 12 3 13 32 12 21 12 24 12 18 12-15 13 22 12 0 12 15 12 6 13-17 12 4 12-3 12-18 13-20 12-1 12 3 12-29M8594 5900l12 5 13-20 12-17 12-48 12 9M8771 5687l13-18 12-6 12 6 12 3 13-9 12-1 12 14 35 15 12-15 13 14 12 22 12-1 12 29 13-37 12 17 12 26 12-2 13 9 12 21 12 0 12-4 13 14 12 8 12-16 12 23 13 21 12-14 12 1 12 15 13 2 12 50 12-6 12 25 13 4 12 29 12 2 12 11 13 4 12 26 12 7 12 25 13 23 12 1 12 18 12 0 13 37 12-7 12 35 12-15 13 33 12-20 12 28 12-3 13-23 12 8 12-15 12 18 13-19 12-13 12-16 12-18 13-19 12-3 12-23 12-17 13-10 12-25 12-30 12-12 12-53M9736 5729l13-55 12 1 12-13 12-19 13-13 12-8 12-4 12-25 13-21 12-13 12 13 12-3 13-13 12 27 12-22 12 0 13 7 12-3 12 27 12-3 13 30 12-15 12-12 12 12 13 14 12 9 12 6 12 17 13-17 12 14 12 27 12 7 13-11 12 35 12 15 12 5 13 59 12-11 12 23 12 21 13 29 12 10 12 25 12 13 13 63 12 3 12 28 12 3 12 12 13 31 12 14 12 21 12 42 13 17 12 11 12-6 12 6 13 13 12 15 12 4 12 29 13-24 12 11 12-1 12-25 13-12 12 0 12-18 12-12 13-30 12-16 12-8 12-20 13-35 12-29 12-2 12-44 13-14M7832 5889l12-20 12-28 13-31 12-27 12-36 12-5 13-20 12-42 12-16 12 1 13-19 12-17 12-28 12 8 13-38 12-11 12 11 12 6M8125 5550l12 13 12-11 13-9 12 19 12 6 12-18 13 12 12 1 12-18 12 22 13 19 12-15 12 20 12 4 13 15 12-19 12 42 12-8 13 28 12-7 12 45 12 20 13 9 12 46 12-3 12 44 13 13 12 34 12 45 12 29 13 17 12 12 12 36 12 27 13 24 12 18 12 42 12 8 13 13 12 11 12 47 12 31 13-8 12 12 12 11 12-1 13 31 12-39 12 27 12-16 13-22 12 4 12-15 12-40 13-2 12-16 12-33 12-31 13-11 12-29 35-72 12-39 12-18 13-37 12-24 12-38 12-39 13-2 12-17 12-33 12-20 13-39 12 6 12-25 12 5 13-13 12-6 12-25 12-14 13-2M9314 5576l12 5 12 13 12 1 13 15 12-7 12 30 12-14 13 22 12 2 12 18 12 14 13 19 12 33 12 1 12 31 13 24 12 29 12 20 12 17 13 30 12 64 12 3 12 36 13 31 12 21 12 22 12 23 13 20 12 30 12 23 12 12 13 39 12 5 12 47 12-16 13-6 12 21 12 0 12-6 13-4 12 23 12-15 12-17 13-12 12-23 12 5 12-31 13-11 12-9 12-40 12 9 13-40 12-37 12-24 12-21 13-19 12-42 12-30 12-9 13-23 12-24 12-16 12-11 13-24 12-37 12-11 12-20 13-7 12 1 12-36 12 17 13-19 12-1 12-13 12-13 12-8 13 11 12-5 12-16 12 8 13-11 12-3 12 9 12-10 13 5 12-7 12-6 12-4 13 34 12-9 12-3 12 21 13 18 12 12 12-2 12 12 13 2 12 24 12 8 12 25 13 6 12 29 12 30 12 2M10645 5966l12 0 12 42 12 18 13 14M7834 6075l12 1 12 36 13-7 12 28 12 1 12 8 13 48 12 3 12-15 12 7 12 9 13-8 12 9 12-16 12-9 13 19 12-15 12-16 12-10 13 0 12-24 12-19 12-17 13 0 12-25 12-36 12 6 13-15 12-18 12 0 12-46 13-11 12-28 12-10 12-4 13-8 12-19 12-16 12 14 13-27 12-14 12-9 12-11 13-13 12 0 12-6 12-3 13-5 12-23 12-1 12-2 13 7 12-31 12-3 12 5 13-17 12-3 12 0 12-2 13-3 12-22 12-6 12 31 13-26 12 29 12-8 12 4 13 17 12 23 12 6 12 16 13 18 12-5 12 35 12 12 13 23 12 8 12 38 12 4 13 27 12 8 12 43 12 8M8939 6133l12 13 13-46 12 16 12 9 12 22 13-16 12 11 12-16 12 13 13-19 12 13 12-23 12-29 13 14 12-40 12-23 12 21 13-35 12-2 12-30 12-1 13-30 12 0 12-25 12 9 13-34 12-2 12-7 12-4 13-28 12-14 12-3 12 16 13-18 12-10 12 10 12-14 13 2 12-7 12-2 12 11 13 0 12-5 12-21 12 20 13 5 12-25 12 9 12-2 13-4 12-10 12-8 12 12 13-37 12 28 12-30 12 15 13-1 12-3 12-1 12 8 13-18 12 6 12 20 12 1 13 8 12-7 12 19 12 28 13 15 12-17 12 47 12 6 13 21 12 12 12 2 12 32 12 3 13 36M10019 6094l13 11 12-14 12 13 12-5 13 2 12-19 12 10 12-38 13 0 12-5 12-29 12-4 13-16 12-32 12-19 12-23M10314 5785l12-2 13-26 12 4 12-20 12 4 13-10 12 13 12-35 12 18 13 16 12-18 12-8 12 8 13-5 12 13 12-11 12 23 13 8 12-2 12 1 12 3 13 15 12 5 12 11 12-10 13 9 12-4 12 12 12-6 13 7 12 13M7834 5807l12 9 13 7 12-24 12 27 12-6 13 18 12 23 12-21 12 23 13 1 12 8 12 20 12 11 12 7 13 47 12-9 12 22 12-8 13 30 12 12 12 14 12 16 13 2 12-1 12 15 12 4" stroke="#d62728" stroke-width="20"/><path d="M8155 6090l12-5 12 29 13-4 12-2 12-4 12-5 13-14 12 27 12-17 12-10 13-23 12-24 12-6 12-5 13-7 12-31 12 7 12-51 13-7 12-31 12-15 12-18M8520 5701l12-18 12 4 13-5 12-17 12-11 12-3 13-9 12-20 12 3 12 13 13 0 12 7 12-10 12-6 13 8 12 21 12-1 12-20 13 36 12-8 12 2 12-10 13 10 12 26 12-13 12 18 13 3 12 9 35 47 12 6 12 34 13-7 12 24 12 11 12 8 13 21 12 38 12-4 12 34 13-15 12 66 12 0 12 34 13 14 12 7 12 46 12-16 13 30 12 13 12 16 12-3 13 31 12-12 12 24 12 9 13 5 12-7 12 0 12-10 13 0 12 10 12-24 12-27 13 16 12-34 12-13 12-41 12 2 13-38 12-21 12-6 12-34 13-13 12-26 12-46 12-6 13-44 12-12 12-16 12-23 13-28 12-17 12-32 12-9 13-24 12-27 12-18 12-9 13-13 12-17 12 14 12-27 13-9 12 0 12 18 12-13 13-5 12 12 12 6 12 1 13-15M9835 5545l12-9 13 12 12 18 12 7 12-9 13 23 12 20 12 4 12-4 13 2 12 32 12 19 12 15 13 25 12 2 12 52 12 1 13 58 12 6 12 10 12 64 13 20 12 28 12 18 12 41 13 16 12 42 12 31 12 5 13 26 12 42 12-1 12 58 13-11 12 12 12 1 12 19 13 32 12-32 12 20 12-17 13-3 12-10 12-8 12-31 12-2 13-45 12 8 12-35 12-26 13-30 12-34 12-23 12-43 13-21 12-49 12-20 12-27 13-23 12-38 12-19 12-35 13-41 12-17 12-24 12-20 13-29 12-20 12-2 12-29M7833 5539l12-6 12-6 12-5 13 16 12-44 12 25 12-24 13-12 12 10 12 7 12 6 13-13 12 8 12-9 12-1 13-13M8090 5503h0M8230 5665l13 40 12-14 12 59 12 27 13 22 12 12 12 68 12 43 12 21 13 30 12 29 12 49 12 28 13 29 12 33 12 7 12 48 13-13 12 48 12 15 12-7 13 50 12-20 12 17 12-4 13-12 12 8 12-15 12 12 13-43 12-15 12-23 12-9 13-30 12-33 12-10 12-45 13-38 12-24 12-26 12-44 13-27 12-19 12-27 12-38 13-33 12-24 12-15 12-32 13-25 12-22 12-20 35-57 12-5 13-26 12-6 12-12 12 0 13-23 12 10 12 12 12-18 13-17 12 0 12 10 12 7 13-26 12 18 12-18 12 17 13-2 12 4 12-6 12 40 13-4 12 8 12-17 12 16 13 36 12-15M9319 5721l12 40 12 19 12 26 13 40 12 22 12 38 12 34 13 36 12 24 12 22 12 18 13 38 12 34 12 18 12 23 13 22 12 8 12 37 12 24 13-14 12 21 12-5 12 13 13-15 12 5 12-7 12-9 13-6 12-1 12-8 12-22 12-14 13-20 12-31 12-9 12-28 13-11 12-50 12-17 12-26 13-4 12-27 12-37 12-7 13-39 12-7 12-19 12-35 13-21 12-37 12 8 12-20 13-9 12-16 12 0 12-14 13 1 12-31 12-1 12-21 13 2 12-27 12-6 12 0 13-10 12-4 12-6 12-17 13-13 12-5 12 17 12 14 13-24 12 3 12 5 12-7 13 27 12 6 12 1 12 37 13 15 12 2 12 24 12 14 13 24 12 38 12 35 12 28 13 19 12 37 12 25 12 6 13 52 12 31 12 12 12 20 13 46 12-1 12 38M10617 6218l12-6 12 8 12-18 13 1 12 7 12-12M7830 6194l13-16 12-21 12-16 12-9 13-36 12-1 12-43 12-8 13-27 12-7 12-12 12-12 13-49 12 23 12-43 12-2 13-9 12-30 12 1 12-18 13-26 12-8 12-14 12 12 13-26 12 9 12 1 12 0 13-11 12 3 12-18 12 24 13-13 12 10 12-22 12-20 13-12 12 13 12-18 12-6 13-36 12 44 12-12 12-19 13-16 12 0 12-22 12 14 13-1 12 26 12 1 12-6 13-10 12 27 12 14 12 26 13 8 12 28 12 27 12 18 13 10 12 31 12 28 12 30 13 24 12 40 12 15 12 19 12 27 13 44 12 6 12 34 12 6 13 0 12 28 12 25 12-4 13-3 12 0 12 18 12 5 13-5 12-16M8941 6061l12-40 12-10 13-27 12-27 12-40 12 7 13-44 12-23 12-29 12 1 13-30 12 5 12-29 12-12 13-23 12 14 12-25 12-2 13-4 12 9 12 12M9315 5773l12 29 12-1 13-6 12 23 12-19 12 2 12 9 13 14 12-2 12-19 12 29 13-8 12 9 12 4 12-18 13 28 12-19 12 40 12 10 13-2 12 35 12-16 12 26 13-2 12 42 12 37 12 26 13-1 12 9 12 20 12 32 13 11 12 14 12 41 12 1 13 4 12 25 12 11 12 18 13 7 12 9 12 14 12-23 13-1 12 5 12 7 12-22 13-22 12 30 12-49 12-5 13-31 12-15 12-41 12-7 13-38 12-28 12-22 12-8 13-40 12-38 12-29 12-16 13-41 12-20 12-33 12-6 13-34 12-19 12 8 12-38 13-19 12 3 12-8 12 8M10323 5679l12 10 13-18 12 18 12 21 12 11 13 0 12-9 12 21 12 41 13-12 12 21 12-15 12 15 13 38 12 16 12 1 12 23 13-3 12 22 12 18 12 25 13 31 12 12 12 8 12 15 12 43 13 17 12 8 12 35 12 27M7831 6124l12 51 12 19 12-5 13 27 12 25 12 14 12 14 13 6 12 35 12-12 12 11 13-8 12 22 12-11 12 0 13 17 12-21 12-21 12-20 13 10 12-51 12 7 12-12 13-31 12-28 12-24 12-41 13-18 12-42 12-4 12-51 13-51 12 1 12-23 12-28 13-34 12-22 12-20 12-29 13-8 12-8 12-34 12-13 13-14 12-16 12-7 12-26 13-19 12 26 12-36 12 24 13-28 12 11 12 3 12 8 13-5 12 10 12-11 12 14 13 6 12-14M8652 5727l12-20 13 32 12 2 12 16 12 2 13 53 12 15 12 25 12 15 13 32 12 12 12 35 12 22 13 41 12 41 12 14 12 28 35 103 13 18 12 22 12 42 12 26 13 5 12 42 12-3 12 40 13 10 12 15 12 21 12-16 13-8 12 6 12-11 12-16 13 37 12-47 12-20 12-22 13-8 12-38 12-6 12-27 13-29 12-40 12-39 12-39 13-34 12-6 12-57 12-24 13-33 12-39 12-25 12-22 13-58 12-27 12 1 12-14 12-38 13-15 12-38 12 4 12-9 13-16 12-5 12 10 12-20 13-26 12 13 12-10 12-12 13 7 12 11 12-26 12 20 13-17 12 19 12-7 12 19 13-11 12-14 12 26 12-8 13-9 12 23 12-8M9927 5998l12 15 12 32 12 51 13 46 12 17 12 34 12 27 13 15 12 40 12 10 12 30 13 31 12 8 12 0 12 29 12 16 13-3 12-15 12 9 12 14 13-14 12-23 12-23 12-7 13-22 12-30 12-12 12-44 13-35 12-26 12-9 12-68 13-19 12-32 12-11 12-30 13-53 12-18 12-24 12-18 13-52 12-9 12-39 12-12 13-46 12-26 12 9 12-28 13-10 12-1 12-38 12-10 13 3 12-6 12-4 12-5 13-8 12 12 12-8 12 2 13-8 12 2M7826 5611l12-16 13-4 12 12 12-25 12 16 13-1 12 11 12 16 12-2 13 14 12-24 12 48 12-2 13 41 12-1 12-4 12 34 13 41 12 3 12 42 12 3M8160 5998l12 26 13 27 12 29 12 18 12 25 12 6 13 25 12 10 12 51 12-3 13 17 12-6" stroke="#9467bd" stroke-width="20"/></g></g><g clip-path="url(#c22)"><g transform="scale(.1)" stroke-linecap="round"><path d="M8873 6370h0m1,70h0m2,52h0m1,71h0m2,21h0m2-51h0m1-30h0m2-78h0m2-51h0m1-71h0m2-98h0m-21-388h0m2,131h0m1,85h0m2,67h0m1,46h0m2,65h0m2,85h0m1,8h0m2-46h0m2-76h0m1-33h0m2-72h0m1-69h0m2-89h0m-21,77h0m2,104h0m1,71h0m2,81h0m2,35h0m1,84h0m2,56h0m2,14h0m1-63h0m-13-244h0m2,96h0m2,59h0m1,93h0m2,33h0m2,62h0m1,47h0m2-13h0m1-43h0m2-42h0m2-80h0m1-88h0m2-66h0m2-117h0" stroke="#1f77b4" stroke-width="20"/><path d="M8869 6126h0m1,84h0m2,64h0m2,78h0m1,59h0m2,43h0m1,61h0m2-11h0m2-42h0m1-52h0m2-69h0m2-60h0m1-63h0m2-119h0m-21-159h0m2,57h0m1,87h0m2,49h0m1,47h0m2,96h0m2,50h0m1-56h0m2-42h0m2-89h0m1-51h0m2-43h0m2-105h0m1-90h0m-22-250h0m2,78h0m2,78h0m1,85h0m2,36h0m2,50h0m1,50h0m2-12h0m1-54h0m2-67h0m2-63h0m1-64h0m2-98h0m2-80h0m-21,860h0m1,92h0m2,87h0m2,45h0m1,58h0m2,64h0m1,61h0m2-43h0m2-44h0m1-64h0m2-74h0m2-64h0m1-63h0m2-133h0" stroke="#ff7f0e" stroke-width="20"/><path d="M8869 6186h0m2,66h0m1,87h0m2,63h0m1,66h0m2,75h0m2,46h0m1-55h0m2-29h0m2-86h0m1-17h0m2-87h0m1-45h0m2-144h0m-22-641h0m2,106h0m2,71h0m1,49h0m2,68h0m1,54h0m2,66h0m2-9h0m1-60h0m2-49h0m2-66h0m1-60h0m2-72h0m2-89h0m-22,416h0m1,122h0m2,88h0m2,40h0m1,60h0m2,50h0m2,73h0m1,24h0m2-72h0m1-55h0m2-51h0m2-66h0m1-82h0m2-88h0m-21,457h0m2,99h0m1,87h0m2,58h0m2,59h0m1,55h0m2,88h0m1-8h0m2-35h0m2-52h0m1-76h0m2-62h0m2-101h0m1-85h0" stroke="#2ca02c" stroke-width="20"/><path d="M8867 5597h0m2,139h0m2,77h0m1,89h0m2,69h0m2,51h0m1,48h0m2,59h0m2-27h0m1-83h0m2-50h0m1-57h0m2-63h0m2-88h0m-20,24h0m1,88h0m2,79h0m1,53h0m2,70h0m2,63h0m1,57h0m2-26h0m2-56h0m1-68h0m2-49h0m1-55h0m2-73h0m2-111h0m-21,375h0m1,77h0m2,84h0m2,42h0m1,72h0m2,58h0m2,58h0m1-46h0m2-45h0m1-70h0m2-71h0m2-91h0m1-78h0m2-121h0" stroke="#d62728" stroke-width="20"/><path d="M8868 5834h0m2,83h0m2,92h0m1,49h0m2,74h0m2,49h0m1,53h0m2,21h0m2-80h0m1-64h0m2-55h0m1-72h0m2-84h0m2-52h0m-21-81h0m1,93h0m2,69h0m2,54h0m1,62h0m2,53h0m2,44h0m1-8h0m2-87h0m1-71h0m2-61h0m2-44h0m1-103h0m2-104h0m-22,521h0m2,130h0m2,74h0m1,85h0m2,53h0m2,39h0m1,95h0m2-26h0m1-66h0m2-18h0m2-64h0m1-81h0m2-70h0m2-80h0" stroke="#9467bd" stroke-width="20"/></g></g><g clip-path="url(#c31)"><path d="M420.5,801.9 420.5,900.3 420.8,796.9 420.8,902.5 421.2,798.2 421.2,902.5 421.5,797.2 421.5,902.6 421.8,796.5 421.8,897.3 422.2,796.3 422.2,901.2 422.5,797.4 422.5,905.8 422.8,905.1 422.8,798.5 423.2,797.5 423.2,906.5 423.5,797.6 423.5,904.5 423.8,798.6 423.8,906.7 424.2,798.7 424.2,901.8 424.5,798.3 424.5,905.7 424.8,796.3 424.8,904.9 425.2,796.8 425.2,902.1 425.5,796.0 425.5,901.1 425.8,903.1 425.8,796.5 426.2,905.3 426.2,794.4 426.5,794.7 426.5,900.0 426.8,795.8 426.8,898.3 428.2,796.5 428.2,904.4 428.5,795.6 428.5,906.1 428.8,796.3 428.8,903.9 429.2,795.6 429.2,895.5 429.5,795.2 429.5,899.5 429.8,793.9 429.8,904.9 430.2,901.3 430.2,793.4 430.5,792.3 430.5,898.7 430.8,794.1 430.8,905.0 431.2,792.9 431.2,897.9 431.5,792.1 431.5,900.8 431.8,898.4 431.8,789.3 432.2,903.6 432.2,790.8 432.5,898.7 432.5,791.4 432.8,792.0 432.8,898.3 433.2,793.0 433.2,900.9 433.5,901.4 433.5,793.2 433.8,792.5 433.8,900.4 434.2,793.8 434.2,903.5 434.5,793.6 434.5,900.7 434.8,792.8 434.8,899.8 435.2,792.9 435.2,897.4 435.5,902.2 435.5,792.3 435.8,792.8 435.8,899.5 436.2,901.7 436.2,790.9 436.5,897.6 436.5,792.5 436.8,792.8 436.8,901.3 437.2,899.8 437.2,793.3 437.5,794.2 437.5,897.6 437.8,794.3 437.8,900.9 438.2,801.6 438.2,804.5 438.5,795.5 438.5,902.3 438.8,795.8 438.8,898.3 439.2,902.6 439.2,796.1 439.5,904.5 439.5,798.0 439.8,900.5 439.8,797.2 440.2,797.5 440.2,901.6 440.5,796.7 440.5,900.9 440.8,795.8 440.8,901.9 441.2,796.4 441.2,897.5 441.5,897.0 441.5,796.7 441.8,905.8 441.8,798.2 442.2,795.7 442.2,897.6 442.5,797.1 442.5,897.9 442.8,901.9 442.8,794.6 443.2,797.1 443.2,901.9 443.5,796.5 443.5,901.1 443.8,796.2 443.8,895.5 444.2,796.0 444.2,904.0 444.5,795.6 444.5,899.2 444.8,797.8 444.8,850.1 445.2,795.0 445.2,893.3 445.8,897.7 445.8,793.3 446.2,896.9 446.2,793.2 446.5,893.8 446.5,792.7 446.8,792.6 446.8,895.8 447.2,791.3 447.2,891.0 447.5,791.6 447.5,900.1 447.8,791.9 447.8,897.3 448.2,791.0 448.2,897.2 448.5,791.7 448.5,891.4 448.8,792.2 448.8,896.1 449.2,791.6 449.2,897.9 449.5,897.6 449.5,791.5 449.8,894.6 449.8,791.3 450.2,897.7 450.2,791.0 450.5,897.8 450.5,790.6 450.8,790.5 450.8,895.9 451.2,797.9 451.2,821.1 451.5,789.4 451.5,897.9 451.8,789.2 451.8,894.4 452.2,887.5 452.2,787.7 452.5,787.7 452.5,891.3 452.8,896.6 452.8,788.3 453.2,787.0 453.2,895.7 453.5,893.7 453.5,787.2 453.8,788.2 453.8,900.4 454.2,899.5 454.2,789.1 454.5,895.5 454.5,787.7 454.8,891.2 454.8,788.4 455.2,896.8 455.2,788.6 455.5,899.3 455.5,789.2 455.8,788.4 455.8,888.0 456.2,894.5 456.2,788.0 456.5,796.5 456.5,818.6 456.8,895.3 456.8,786.0 457.2,786.1 457.2,893.4 457.5,787.3 457.5,895.8 457.8,786.9 457.8,897.3 458.2,786.6 458.2,892.6 458.5,891.8 458.5,784.7 458.8,896.5 458.8,785.6 459.2,896.5 459.2,786.1 459.5,784.3 459.5,891.9 459.8,783.1 459.8,892.2 460.2,894.1 460.2,783.4 460.5,892.9 460.5,782.4 460.8,782.4 460.8,888.6 461.2,781.9 461.2,896.8 461.5,782.6 461.5,889.7 461.8,781.5 461.8,885.9 462.2,781.5 462.2,888.4 462.5,783.9 462.5,875.5 462.8,780.5 462.8,887.8 463.5,778.7 463.5,782.3 463.8,889.5 463.8,777.6 464.2,777.3 464.2,881.0 464.5,777.1 464.5,885.7 464.8,780.2 464.8,887.9 465.2,780.3 465.2,885.3 465.5,781.8 465.5,883.8 465.8,782.8 465.8,889.0 466.2,783.0 466.2,892.8 466.5,890.6 466.5,782.7 466.8,785.3 466.8,887.1 467.2,784.7 467.2,893.0 467.5,783.9 467.5,885.8 467.8,783.7 467.8,891.4 468.2,883.2 468.2,782.4 468.5,887.9 468.5,781.9 468.8,891.0 468.8,783.7 469.2,843.3 469.2,789.3 469.5,784.4 469.5,889.2 469.8,784.7 469.8,892.6 470.2,786.1 470.2,891.8 470.5,786.2 470.5,889.2 470.8,787.4 470.8,890.3 471.2,787.9 471.2,892.0 471.5,885.0 471.5,787.0 471.8,893.8 471.8,787.6 472.2,786.5 472.2,894.3 472.5,888.2 472.5,784.0 472.8,785.2 472.8,885.2" stroke="#1f77b4" stroke-width="1.0"/><path d="M472.8,803.9 472.8,777.1 473.2,775.6 473.2,878.5 473.5,879.3 473.5,774.8 473.8,773.6 473.8,877.4 474.2,872.6 474.2,774.3 474.5,773.9 474.5,877.6 474.8,774.1 474.8,865.8 475.2,773.0 475.2,875.5 475.5,875.5 475.5,773.2 475.8,776.2 475.8,882.1 476.2,776.5 476.2,884.5 476.5,778.0 476.5,878.1 476.8,778.6 476.8,882.8 477.2,882.9 477.2,779.9 477.5,779.1 477.5,880.0 477.8,780.9 477.8,883.5 478.2,780.0 478.2,889.8 478.5,777.4 478.5,886.9 478.8,879.2 478.8,780.9 479.2,779.5 479.2,881.7 479.5,888.4 479.5,777.8 479.8,778.1 479.8,890.5 480.2,777.9 480.2,884.5 480.5,778.1 480.5,886.3 480.8,777.1 480.8,885.4 481.5,777.7 481.5,879.0 481.8,888.8 481.8,777.8 482.2,891.8 482.2,776.8 482.5,884.5 482.5,777.7 482.8,778.3 482.8,880.0 483.2,779.5 483.2,891.4 483.5,779.5 483.5,885.9 483.8,781.0 483.8,885.2 484.2,779.6 484.2,886.9 484.5,780.3 484.5,893.6 484.8,781.8 484.8,890.9 485.2,888.4 485.2,781.9 485.5,780.9 485.5,895.1 485.8,894.5 485.8,783.5 486.2,894.3 486.2,781.9 486.5,891.1 486.5,782.6 486.8,784.6 486.8,885.5 487.2,892.0 487.2,784.2 487.5,784.8 487.5,890.9 487.8,784.2 487.8,895.3 488.2,782.0 488.2,890.3 488.5,783.3 488.5,892.3 488.8,892.0 488.8,784.1 489.2,782.9 489.2,896.8 489.5,782.8 489.5,894.7 489.8,892.1 489.8,784.0 490.2,783.5 490.2,896.0 490.5,782.7 490.5,896.1 490.8,784.2 490.8,891.6 491.2,892.6 491.2,784.8 491.5,898.2 491.5,784.0 491.8,783.2 491.8,897.0 492.2,784.3 492.2,891.0 492.5,890.3 492.5,783.9 492.8,893.4 492.8,782.5 493.2,893.2 493.2,783.5 493.5,785.0 493.5,891.2 493.8,784.6 493.8,894.0 494.2,784.1 494.2,895.9 494.5,784.1 494.5,886.3 494.8,783.8 494.8,888.8 495.2,888.6 495.2,786.7 495.5,891.2 495.5,786.1 495.8,888.4 495.8,786.8 496.2,787.5 496.2,892.1 496.5,894.4 496.5,786.7 496.8,790.0 496.8,893.0 497.2,788.6 497.2,892.4 497.5,789.3 497.5,896.3 497.8,789.7 497.8,894.4 498.2,789.4 498.2,891.0 498.5,889.4 498.5,790.6 498.8,789.0 498.8,897.5 499.2,899.1 499.2,789.1 499.5,796.4 499.5,791.0 500.2,893.9 500.2,788.4 500.5,894.4 500.5,788.6 500.8,788.0 500.8,887.5 501.2,788.0 501.2,894.8 501.5,787.1 501.5,891.3 501.8,787.6 501.8,892.5 502.2,789.2 502.2,890.4 502.5,895.5 502.5,789.6 502.8,890.9 502.8,789.0 503.2,893.3 503.2,789.4 503.5,790.3 503.5,895.0 503.8,790.6 503.8,896.6 504.2,791.4 504.2,893.0 504.5,798.5 504.5,891.5 504.8,888.0 504.8,789.9 505.2,899.4 505.2,790.1 505.5,789.8 505.5,895.4 505.8,788.9 505.8,898.3 506.2,892.5 506.2,788.6 506.5,895.8 506.5,788.2 506.8,894.3 506.8,788.0 507.2,787.4 507.2,895.3 507.5,786.2 507.5,894.3 507.8,786.2 507.8,892.7 508.2,787.6 508.2,891.1 508.5,894.5 508.5,787.7 508.8,894.6 508.8,785.1 509.2,893.0 509.2,787.2 509.5,891.5 509.5,787.0 509.8,897.2 509.8,786.0 510.2,786.1 510.2,895.0 510.5,782.8 510.5,895.7 510.8,787.2 510.8,896.9 511.2,785.7 511.2,895.1 511.5,787.2 511.5,887.0 511.8,787.9 511.8,885.9 512.2,787.2 512.2,892.7 512.5,786.3 512.5,898.1 512.8,785.0 512.8,893.5 513.2,894.2 513.2,783.6 513.5,784.4 513.5,893.8 513.8,783.2 513.8,894.4 514.2,892.3 514.2,782.9 514.5,780.1 514.5,887.9 514.8,780.8 514.8,890.7 515.2,781.1 515.2,888.5 515.5,887.1 515.5,781.2 515.8,890.6 515.8,780.0 516.2,891.2 516.2,780.3 516.5,780.8 516.5,886.6 516.8,781.4 516.8,801.7 517.2,782.8 517.2,890.9 517.5,782.3 517.5,882.2 517.8,821.1 517.8,784.5 518.2,885.5 518.2,782.7 518.5,892.9 518.5,785.7 518.8,785.4 518.8,892.4 519.2,891.9 519.2,787.3 519.5,893.5 519.5,786.4 519.8,899.8 519.8,785.3 520.2,786.2 520.2,891.7 520.5,786.1 520.5,890.7 520.8,787.5 520.8,892.8 521.2,786.7 521.2,892.5 521.5,785.3 521.5,888.2 521.8,893.8 521.8,785.8 522.2,893.3 522.2,785.4 522.5,891.4 522.5,786.9 522.8,888.3 522.8,786.6 523.2,787.3 523.2,896.0 523.5,809.1 523.5,805.7 523.8,887.0 523.8,788.4 524.2,789.3 524.2,894.8 524.5,789.0 524.5,894.6 524.8,787.8 524.8,892.0 525.2,788.9 525.2,888.8 525.5,886.2 525.5,788.6 525.8,889.4 525.8,789.3 526.2,895.5 526.2,786.9 526.5,888.5 526.5,787.3 526.8,785.4 526.8,892.8 527.2,787.8 527.2,890.1 527.5,786.4 527.5,886.6 527.8,786.7 527.8,890.0 528.2,786.9 528.2,891.0 528.5,788.2 528.5,888.4 528.8,888.2 528.8,788.0 529.2,790.9 529.2,893.5 529.5,791.3 529.5,890.3 529.8,890.8 529.8,788.3 530.2,788.9 530.2,890.9 530.5,787.9 530.5,894.2 530.8,787.4 530.8,892.0 531.2,787.6 531.2,887.6 531.5,790.6 531.5,890.4" stroke="#ff7f0e" stroke-width="1.0"/><path d="M531.5,880.4 531.5,786.7 531.8,885.1 531.8,788.0 532.2,785.4 532.2,884.4 532.5,787.7 532.5,884.5 532.8,884.7 532.8,788.2 533.2,888.3 533.2,787.6 533.5,787.6 533.5,886.9 533.8,789.8 533.8,888.7 534.2,789.8 534.2,891.1 534.5,787.9 534.5,885.7 534.8,789.1 534.8,887.4 535.2,788.9 535.2,885.1 538.2,883.7 538.2,799.6 538.5,887.5 538.5,786.5 538.8,888.5 538.8,786.7 539.2,887.7 539.2,786.4 539.5,785.4 539.5,886.6 539.8,784.6 539.8,887.2 540.2,892.6 540.2,784.8 540.5,888.4 540.5,785.7 540.8,796.1 540.8,878.3 541.2,785.2 541.2,884.1 541.5,785.8 541.5,889.6 541.8,786.7 541.8,883.7 542.2,787.4 542.2,883.2 542.5,785.3 542.5,887.7 542.8,785.4 542.8,892.9 543.2,889.1 543.2,786.3 543.5,786.6 543.5,890.0 543.8,786.0 543.8,891.5 544.2,786.3 544.2,883.4 544.5,881.1 544.5,776.1 544.8,873.5 544.8,770.8 545.2,875.2 545.2,771.8 545.5,874.4 545.5,778.0 545.8,883.3 545.8,783.0 546.2,885.4 546.2,783.9 546.5,887.3 546.5,781.7 546.8,884.7 546.8,781.6 547.2,781.9 547.2,880.9 547.5,782.9 547.5,872.9 547.8,782.4 547.8,882.5 548.2,782.9 548.2,883.8 548.5,781.7 548.5,880.2 548.8,883.2 548.8,782.9 549.2,785.7 549.2,882.1 549.5,882.9 549.5,785.7 549.8,786.6 549.8,886.2 550.2,787.0 550.2,885.9 550.5,787.6 550.5,882.5 550.8,787.8 550.8,888.4 551.2,786.5 551.2,886.9 552.5,791.6 552.5,876.3 552.8,790.0 552.8,889.2 553.2,789.7 553.2,886.3 553.5,791.2 553.5,888.2 553.8,822.9 553.8,791.4 554.2,790.6 554.2,885.3 554.5,885.5 554.5,790.7 554.8,789.1 554.8,888.5 555.2,790.1 555.2,881.6 555.5,883.4 555.5,790.8 555.8,884.1 555.8,788.5 556.2,789.8 556.2,890.0 556.5,789.1 556.5,885.9 556.8,790.9 556.8,887.9 557.2,788.0 557.2,889.9 557.5,789.5 557.5,886.5 557.8,791.3 557.8,885.4 558.2,887.3 558.2,790.8 558.5,891.4 558.5,790.8 558.8,893.1 558.8,791.1 559.2,791.0 559.2,880.5 559.5,792.4 559.5,883.2 559.8,886.6 559.8,789.3 560.2,887.0 560.2,789.1 560.5,786.3 560.5,883.1 560.8,789.8 560.8,891.1 561.2,788.2 561.2,887.7 561.5,787.2 561.5,883.3 561.8,884.3 561.8,787.9 562.2,788.2 562.2,887.0 562.5,887.2 562.5,787.6 562.8,885.3 562.8,787.0 563.2,786.7 563.2,888.8 563.5,887.7 563.5,785.7 563.8,786.7 563.8,883.8 564.2,787.2 564.2,888.1 564.5,784.8 564.5,885.8 564.8,786.2 564.8,886.0 565.2,786.8 565.2,882.3 565.5,786.1 565.5,886.8 566.2,885.9 566.2,786.5 566.5,883.9 566.5,783.8 566.8,785.7 566.8,883.3 567.2,786.7 567.2,885.3 567.5,786.5 567.5,885.9 567.8,787.5 567.8,885.9 568.2,787.2 568.2,894.7 568.5,786.2 568.5,885.3 568.8,788.0 568.8,884.4 569.2,890.8 569.2,789.0 569.5,787.6 569.5,891.7 569.8,886.6 569.8,787.2 570.2,787.6 570.2,889.2 570.5,786.5 570.5,890.3 570.8,786.4 570.8,888.6 571.2,785.8 571.2,884.0 571.8,819.0 571.8,784.3 572.2,888.0 572.2,784.4 572.5,889.5 572.5,783.6 572.8,886.2 572.8,781.4 573.2,781.6 573.2,888.0 573.5,779.7 573.5,884.0 573.8,784.0 573.8,886.5 574.2,784.2 574.2,886.0 574.5,783.0 574.5,885.8 574.8,782.8 574.8,881.3 575.2,784.2 575.2,884.3 575.5,889.8 575.5,783.4 575.8,882.7 575.8,779.1 576.2,775.0 576.2,877.1 576.5,779.4 576.5,883.6 576.8,782.1 576.8,888.4 577.2,787.2 577.2,884.8 577.5,785.9 577.5,889.1 577.8,785.6 577.8,890.1 578.5,788.1 578.5,885.3 578.8,886.7 578.8,787.3 579.2,890.0 579.2,786.8 579.5,787.4 579.5,889.6 579.8,788.0 579.8,889.8 580.2,785.8 580.2,890.8 580.5,788.1 580.5,888.3 580.8,884.9 580.8,786.0 581.2,885.6 581.2,785.7 581.5,891.0 581.5,788.7 581.8,889.8 581.8,788.6 582.2,788.3 582.2,881.7 582.5,787.4 582.5,882.9 582.8,786.9 582.8,886.7 583.2,888.5 583.2,786.1 583.5,813.5 583.5,794.3 583.8,787.7 583.8,888.1 584.2,785.6 584.2,888.2 584.5,786.0 584.5,881.5 584.8,877.3 584.8,784.3 585.2,881.2 585.2,784.2 585.5,883.7 585.5,785.0 585.8,881.6 585.8,785.8 586.2,880.6 586.2,787.0 586.5,884.5 586.5,787.3 586.8,788.5 586.8,886.3 587.2,786.6 587.2,883.8 587.5,787.2 587.5,888.4 587.8,788.3 587.8,884.5 588.2,786.9 588.2,886.2 588.5,788.9 588.5,885.4 588.8,788.5 588.8,886.8 589.2,886.2 589.2,788.9 589.5,786.6 589.5,884.3" stroke="#2ca02c" stroke-width="1.0"/><path d="M590.2,833.4 590.2,798.8 590.5,798.0 590.5,884.3 590.8,796.5 590.8,881.2 591.2,794.4 591.2,885.1 591.5,797.5 591.5,882.7 591.8,797.5 591.8,880.0 592.2,797.7 592.2,880.8 592.5,883.9 592.5,796.8 592.8,795.8 592.8,884.9 593.2,797.7 593.2,884.9 593.5,797.2 593.5,883.6 593.8,796.3 593.8,880.4 594.2,795.8 594.2,878.8 594.5,878.1 594.5,794.3 594.8,879.8 594.8,793.9 595.2,880.6 595.2,794.3 595.5,791.4 595.5,873.6 595.8,873.4 595.8,793.4 596.2,792.9 596.2,885.8 596.5,876.6 596.5,794.1 596.8,792.4 596.8,877.2 597.2,792.2 597.2,876.6 597.5,793.4 597.5,878.3 597.8,871.4 597.8,792.9 598.2,793.5 598.2,876.9 598.5,879.9 598.5,792.8 598.8,793.1 598.8,878.5 599.2,877.9 599.2,792.0 599.5,791.5 599.5,875.5 599.8,789.3 599.8,881.1 600.2,789.3 600.2,879.5 600.5,790.7 600.5,876.7 600.8,790.0 600.8,875.8 601.2,790.7 601.2,880.1 601.5,791.5 601.5,872.5 601.8,875.2 601.8,792.5 602.2,875.9 602.2,791.7 602.5,792.7 602.5,881.7 602.8,794.3 602.8,877.6 603.2,793.1 603.2,880.3 603.5,884.2 603.5,793.4 603.8,794.4 603.8,885.4 604.2,879.6 604.2,794.9 604.5,884.8 604.5,793.0 604.8,794.8 604.8,884.0 605.2,795.3 605.2,883.9 605.5,793.5 605.5,880.6 605.8,886.2 605.8,794.3 606.2,794.6 606.2,881.2 606.5,882.4 606.5,795.4 606.8,794.1 606.8,883.0 607.2,796.3 607.2,888.3 607.5,796.8 607.5,886.1 607.8,881.3 607.8,796.9 608.2,884.9 608.2,795.5 608.5,889.9 608.5,795.7 608.8,882.3 608.8,798.4 609.2,801.1 609.2,873.3 609.5,885.5 609.5,794.7 609.8,881.4 609.8,793.4 610.2,794.6 610.2,885.5 610.5,796.1 610.5,887.2 610.8,794.8 610.8,883.5 611.2,794.5 611.2,881.1 611.5,880.8 611.5,794.5 611.8,793.9 611.8,883.4 612.2,793.8 612.2,886.1 612.5,881.8 612.5,794.0 612.8,883.6 612.8,795.1 613.2,891.2 613.2,795.6 613.5,886.3 613.5,794.2 613.8,794.9 613.8,883.8 614.2,794.8 614.2,879.1 614.5,792.6 614.5,884.9 614.8,793.8 614.8,880.6 615.2,876.7 615.2,793.3 615.5,882.0 615.5,792.3 615.8,791.2 615.8,882.6 616.2,790.6 616.2,878.1 616.5,788.7 616.5,881.8 616.8,790.6 616.8,884.8 617.2,791.0 617.2,883.6 617.5,877.7 617.5,789.5 617.8,882.3 617.8,790.6 618.2,790.9 618.2,879.7 618.5,789.8 618.5,876.1 618.8,880.2 618.8,787.8 619.2,877.2 619.2,787.2 619.5,786.4 619.5,877.7 619.8,788.4 619.8,874.7 620.2,786.5 620.2,870.0 620.5,822.5 620.5,806.2 620.8,786.6 620.8,877.4 621.2,787.4 621.2,874.9 621.5,879.3 621.5,789.6 621.8,885.7 621.8,791.5 622.2,878.2 622.2,790.1 622.5,789.0 622.5,877.6 622.8,879.4 622.8,789.2 623.2,876.7 623.2,789.7 623.5,788.7 623.5,876.0 623.8,786.5 623.8,875.6 624.2,786.6 624.2,875.3 624.5,788.0 624.5,870.9 624.8,872.1 624.8,784.9 625.2,783.7 625.2,874.2 625.5,863.9 625.5,795.6 625.8,873.0 625.8,784.3 626.2,875.4 626.2,786.3 626.5,785.5 626.5,875.6 626.8,872.5 626.8,785.2 627.2,787.3 627.2,871.2 627.5,788.5 627.5,874.8 627.8,786.3 627.8,879.4 628.2,788.2 628.2,870.5 628.5,787.7 628.5,870.1 628.8,874.1 628.8,787.3 629.2,873.8 629.2,788.0 629.5,872.4 629.5,787.6 629.8,788.6 629.8,872.1 630.2,788.3 630.2,874.6 630.5,789.2 630.5,874.3 630.8,869.4 630.8,786.6 631.2,875.1 631.2,789.3 631.5,787.6 631.5,876.3 631.8,788.0 631.8,868.2 632.2,786.7 632.2,868.6 632.5,876.2 632.5,786.8 632.8,786.0 632.8,869.4 633.2,787.0 633.2,872.2 633.5,785.4 633.5,873.5 633.8,785.8 633.8,875.2 634.2,786.4 634.2,873.1 634.5,786.9 634.5,870.6 634.8,870.9 634.8,787.3 635.2,875.5 635.2,784.7 635.5,872.1 635.5,784.9 635.8,869.3 635.8,784.6 636.2,875.4 636.2,784.1 636.5,872.6 636.5,785.0 636.8,784.3 636.8,870.8 637.2,783.3 637.2,874.1 637.5,785.2 637.5,873.3 638.2,784.9 638.2,873.3 638.5,785.1 638.5,872.4 638.8,871.8 638.8,787.2 639.2,788.0 639.2,876.8 639.5,787.5 639.5,874.1 639.8,880.2 639.8,788.2 640.2,877.2 640.2,787.2 640.5,787.7 640.5,875.4 640.8,786.7 640.8,872.6 641.2,786.8 641.2,874.9 641.5,783.9 641.5,869.9 641.8,868.1 641.8,785.2 642.2,871.9 642.2,784.2 642.5,874.9 642.5,783.8 642.8,782.5 642.8,873.1 643.5,784.1 643.5,872.0 643.8,784.2 643.8,861.7 644.2,870.8 644.2,783.8 644.5,869.6 644.5,784.6 644.8,872.8 644.8,784.4 645.2,876.3 645.2,782.6 645.5,781.2 645.5,868.9 645.8,781.3 645.8,870.3 646.2,867.7 646.2,776.5 646.5,860.2 646.5,775.9 646.8,775.5 646.8,869.0 647.2,778.4 647.2,867.8 647.5,781.1 647.5,869.6 647.8,779.1 647.8,868.1 648.2,780.9 648.2,868.0" stroke="#d62728" stroke-width="1.0"/><path d="M648.2,811.6 648.2,791.1 648.5,874.0 648.5,774.5 648.8,871.1 648.8,773.9 649.2,775.9 649.2,875.9 649.5,879.1 649.5,776.6 649.8,777.9 649.8,871.0 650.2,879.3 650.2,777.8 650.5,776.4 650.5,879.3 650.8,776.5 650.8,878.3 651.2,776.6 651.2,874.9 651.5,876.6 651.5,776.5 651.8,879.0 651.8,777.3 652.2,877.3 652.2,777.0 652.5,776.7 652.5,874.9 652.8,874.3 652.8,777.1 653.2,776.2 653.2,880.6 653.5,776.2 653.5,877.0 653.8,775.5 653.8,876.8 654.2,776.0 654.2,879.4 654.5,775.2 654.5,882.6 654.8,774.9 654.8,878.1 655.2,873.0 655.2,774.9 655.5,873.8 655.5,775.3 655.8,881.6 655.8,776.1 656.2,870.4 656.2,776.5 656.5,877.2 656.5,775.9 656.8,774.7 656.8,882.9 657.2,775.8 657.2,882.4 657.5,874.2 657.5,775.4 657.8,876.6 657.8,775.6 658.2,884.9 658.2,775.7 658.5,879.2 658.5,775.2 658.8,876.3 658.8,775.5 659.2,775.4 659.2,880.2 659.5,775.7 659.5,875.9 659.8,775.7 659.8,883.1 660.2,876.7 660.2,776.5 660.5,776.1 660.5,883.9 660.8,882.5 660.8,777.7 661.2,875.8 661.2,776.5 661.5,880.9 661.5,777.2 661.8,884.3 661.8,776.1 662.5,793.8 662.5,799.0 662.8,778.7 662.8,884.5 663.2,884.9 663.2,777.4 663.5,878.6 663.5,778.6 663.8,778.5 663.8,879.7 664.2,779.4 664.2,886.2 664.5,879.7 664.5,779.8 664.8,878.8 664.8,778.6 665.2,880.5 665.2,778.6 665.5,884.5 665.5,779.4 665.8,880.0 665.8,780.0 666.2,880.9 666.2,780.3 666.5,782.6 666.5,882.5 666.8,781.8 666.8,883.4 667.2,780.2 667.2,880.7 667.5,879.2 667.5,783.2 667.8,784.8 667.8,887.4 668.2,784.2 668.2,814.9 668.5,883.8 668.5,783.0 668.8,783.5 668.8,880.4 669.2,886.6 669.2,783.7 669.5,885.9 669.5,781.7 669.8,783.4 669.8,880.2 670.2,881.0 670.2,784.0 670.5,783.7 670.5,887.9 670.8,879.9 670.8,782.5 671.2,875.2 671.2,782.3 671.5,888.5 671.5,784.5 671.8,881.5 671.8,784.4 672.2,883.7 672.2,783.5 672.5,885.0 672.5,783.3 672.8,889.7 672.8,784.4 673.2,784.7 673.2,886.6 673.5,783.3 673.5,881.4 673.8,888.7 673.8,785.8 674.5,881.9 674.5,784.9 674.8,883.6 674.8,783.2 675.2,890.1 675.2,782.5 675.5,888.1 675.5,784.1 675.8,884.9 675.8,783.0 676.2,888.2 676.2,781.3 676.5,890.9 676.5,783.1 676.8,782.5 676.8,885.4 677.2,782.3 677.2,885.2 677.5,781.4 677.5,888.2 677.8,781.8 677.8,886.5 678.2,880.3 678.2,783.6 678.5,881.0 678.5,780.3 678.8,887.3 678.8,783.4 679.2,885.3 679.2,782.0 679.5,782.0 679.5,886.8 679.8,884.7 679.8,781.3 680.2,889.8 680.2,782.3 680.5,875.5 680.5,781.0 680.8,880.1 680.8,781.7 681.2,886.0 681.2,781.0 681.5,849.1 681.5,780.0 681.8,879.0 681.8,786.2 682.2,882.6 682.2,778.9 682.5,887.2 682.5,779.4 682.8,884.1 682.8,777.2 683.2,778.7 683.2,879.5 683.5,777.9 683.5,884.4 683.8,879.9 683.8,778.9 684.2,878.1 684.2,776.8 684.5,880.4 684.5,777.1 684.8,881.9 684.8,777.0 685.2,885.3 685.2,777.0 685.5,877.2 685.5,776.6 685.8,880.7 685.8,778.4 686.2,880.2 686.2,777.0 686.5,878.0 686.5,784.4 686.8,779.8 686.8,879.8 687.2,780.4 687.2,887.3 687.5,782.4 687.5,886.8 687.8,781.8 687.8,883.7 688.2,880.8 688.2,782.8 688.5,891.6 688.5,784.5 688.8,884.5 688.8,784.2 689.2,883.5 689.2,786.0 689.5,885.6 689.5,785.1 689.8,889.3 689.8,784.4 690.2,786.5 690.2,885.2 690.5,786.6 690.5,885.6 690.8,786.1 690.8,888.7 691.2,788.4 691.2,886.6 691.5,883.0 691.5,786.8 691.8,887.4 691.8,788.4 692.2,797.2 692.2,825.3 692.5,879.4 692.5,787.8 692.8,886.8 692.8,785.3 693.2,787.3 693.2,887.8 693.5,888.6 693.5,786.8 693.8,883.7 693.8,788.0 694.2,881.1 694.2,788.2 694.5,883.4 694.5,789.1 694.8,787.5 694.8,890.5 695.2,790.3 695.2,884.0 695.5,790.6 695.5,888.0 695.8,893.3 695.8,788.9 696.2,790.6 696.2,890.9 696.5,789.5 696.5,885.2 696.8,891.3 696.8,789.2 697.2,789.6 697.2,889.1 697.5,886.9 697.5,790.1 697.8,883.9 697.8,788.1 698.2,888.8 698.2,790.1 698.5,802.0 698.5,890.8 698.8,796.5 698.8,820.1 699.2,790.0 699.2,888.5 699.5,889.4 699.5,789.4 699.8,789.6 699.8,889.2 700.2,790.1 700.2,889.7 700.5,791.0 700.5,891.6 700.8,788.6 700.8,896.1 701.2,789.5 701.2,889.4 701.5,884.3 701.5,789.8 701.8,891.1 701.8,789.3 702.2,892.7 702.2,788.4 702.5,887.1 702.5,789.2 702.8,785.1 702.8,890.8 703.2,892.4 703.2,785.2 703.5,885.6 703.5,786.5 703.8,887.6 703.8,784.9 704.2,786.6 704.2,878.0 704.5,887.9 704.5,787.7 704.8,784.9 704.8,888.2" stroke="#9467bd" stroke-width="1.0"/></g><g clip-path="url(#c32)"><g transform="scale(.1)" stroke-linecap="round"><path d="M8295 8070h0m355-101h0m426,64h0m142,63h0m498,41h0m355-105h0m142,15h0m-1878,26h0m213-50h0m497-3h0m-1025,248h0m142-151h0m1634-1h0m-812-79h0m1065,23h0m-2019,210h0m1207-195h0m142,418h0m213-104h0m569-376h0m-2233,88h0m71,154h0m639-288h0m568,99h0m284,1062h0m-1096-1075h0m995,521h0m213-259h0m-1594-99h0m497-190h0m214-68h0m568,161h0m1065-97h0m213,63h0m-2446,121h0m285-168h0m426-50h0m426,116h0m923-60h0m-1948,39h0m568-91h0m213,35h0m1136,23h0m-2232,69h0m1278-41h0m569,37h0m142-15h0m-1026-105h0m142,51h0m142,35h0m498,66h0m426-102h0m-1736,28h0m71-53h0m995,788h0m213-641h0m-244,406h0m639-498h0m639-1h0m-2090-65h0m142-26h0m994,173h0m142-44h0m142-29h0m71-38h0m356,16h0m-2020-12h0m1350,110h0m355-107h0m213,3h0m213,55h0m-2233-11h0m213-70h0m710,83h0m-741-63h0m924,685h0m426-602h0m568-50h0m-2233,68h0m427-160h0m355,48h0m-954,202h0m781-233h0m852,152h0m71-9h0m142,0h0m640-76h0m-1523-32h0m568,884h0m782-839h0m-2375,63h0m994-135h0m355,117h0m143,761h0m284-739h0m284-65h0m-1381-74h0m142-32h0m356,87h0m710,79h0m781-43h0m-883,31h0m213-26h0m426-40h0m-2303,219h0m71-66h0m355-193h0m355-58h0m639,1189h0m426-1067h0m142-8h0m-2090,106h0m1136-150h0m71,48h0m71,11h0m640-4h0m781,1h0m-1381,0h0m1279-15h0m-2020-70h0m1847,55h0m-1451-97h0m-1026,142h0m285-16h0m1988-44h0m-1522-90h0m1634,72h0m284,55h0m-2304,20h0m142-97h0m852,96h0m498-20h0m213-25h0m568,50h0m-2233-83h0m497-79h0m285,87h0m213,73h0m71,293h0m781-362h0m-1695-33h0m568-21h0m213,93h0m-1096,71h0m781-220h0m1279,98h0m-2375,65h0m213,168h0m355-250h0m213-56h0m213-3h0m924,146h0m-1807,5h0m994-117h0m1137,75h0m142-1h0m426,21h0m-1664-70h0m-815,128h0m-315-25h0m142,90h0m355-172h0m71,2h0m924,111h0m568-31h0m426-63h0m-2375,116h0m639-193h0m995,484h0m71-327h0m568-109h0m355,78h0m-1877-134h0m355,69h0m355,736h0m142-51h0m710-678h0m284,40h0m-2090-104h0m1349,155h0m356-104h0m142,7h0m-2375,73h0m71,145h0m213-173h0m1065,11h0m782-40h0m426,13h0m-2517,133h0m355-142h0m710-40h0m71,40h0m214,61h0m852-94h0m284,29h0m213,49h0m-1949-130h0m1137,162h0m639-41h0m-2588,24h0m142,173h0m640-354h0m71,11h0m284,60h0m497,815h0m497-776h0m-1238-75h0m355,47h0m994,37h0m72-21h0m-2020,47h0m852-95h0m71,74h0m142,9h0m213,1081h0m924-1091h0m213,39h0m-2517,118h0m142-173h0m497-92h0m284,67h0m142,15h0m711,53h0m284-27h0m-1807-50h0m782,44h0m497,75h0m426-56h0m-2233,20h0m853-152h0m710,596h0m710-507h0m-2233,71h0m498-82h0m923,59h0m142,783h0m142-319h0m71-404h0m640-96h0m284,41h0m-1949-152h0m710,147h0m498,17h0m284-56h0m-1878-3h0m1065,31h0m569,18h0m213-54h0m284,3h0m-1736-107h0m71,0h0m214,12h0m497,785h0m892-710h0m-1593-62h0m-812,128h0m639-142h0m142-9h0m923,398h0m711-309h0m-2233,214h0m71-138h0m497-189h0m213,35h0m1279,92h0m284,8h0m71,21h0m-2446,172h0m568-294h0m1279,103h0m71,12h0m142-30h0m-1522-92h0m213-16h0m497,132h0m-670-177h0m497,122h0m1279,31h0m-742,67h0m142-47h0m143,8h0m284-36h0m426,69h0m-1949-181h0m1279,126h0m497,3h0m-2304,32h0m142-85h0m711-9h0m892,76h0m213-39h0m71,4h0m71,22h0m71-22h0m-2517,48h0m2212-6h0m284-19h0m284,52h0m-2659,41h0m639-192h0m426,40h0m72,36h0m71,28h0m497,60h0m994-5h0m-2659,91h0m995-193h0m781,101h0m852-15h0m71,16h0m-2445-25h0m71-39h0m852-23h0m710,67h0m782,1h0m-2375-45h0m1136,756h0m71,314h0m71-471h0m-1167-632h0m355-78h0m182,36h0m285,88h0m852,5h0m142-32h0m355,73h0m-1451-45h0m852,16h0m-2091,23h0m142,180h0m427-282h0m71-8h0m426-21h0m71,29h0m568,480h0m426-432h0m426,19h0m-2374,213h0m355-273h0m71,7h0m497-17h0m1563,75h0m-2162-64h0m71-12h0m781,80h0m142,408h0m640-415h0m355-20h0m-2162,14h0m355-94h0m142-40h0m498,158h0m-1097,113h0m355-220h0m1066,866h0m-1381-685h0m1989-120h0m-2303,57h0m284,106h0m71-139h0m355-77h0m71-36h0m710,151h0m142,1036h0m71-349h0m711-757h0m-2375,63h0m923-145h0m71,0h0m426,104h0m-1309,159h0m284-140h0m284-83h0m711,37h0m-1310,149h0m1563,768h0m284-872h0m142-23h0m-1451-91h0m284-5h0m1349,61h0m71,10h0m71,8h0m-2090,59h0m142-55h0m1034,209h0m71,525h0m-1167-716h0m142-42h0m497-52h0m213,39h0m1208,42h0m284,28h0m-2162-47h0m782,29h0m213,864h0m852-896h0m-670,148h0m426-160h0m-1522-28h0m213-28h0m568,153h0m213,851h0m-1451-689h0m1065-212h0m284,679h0m213-623h0m142-13h0m143-36h0m-2020,40h0m355-40h0m71-14h0m71-19h0m1279,76h0m-1523,86h0m142-137h0m782-38h0m1420,65h0m-2446,226h0m213-239h0m569-107h0m355,91h0m923-19h0m71-12h0m-1735-29h0m1176,193h0m356-140h0m284,9h0m262,44h0m71,6h0m71-17h0m-2658,176h0m355-196h0m284-68h0m994,147h0m924-40h0m-2659,40h0m284-42h0m142-19h0m213-62h0m355-24h0m71,23h0m639,291h0m640-270h0m-1949,52h0m1350,62h0m497-140h0m355,63h0m71,28h0m-2659,38h0m1065-109h0m924,49h0m-1807,179h0m1066-190h0m852,18h0m568,11h0m-2090-60h0m781,62h0m852-62h0m-2019,218h0m71-130h0m923-78h0m142,46h0m142,393h0m284-370h0m782-58h0m-1949-43h0m71,10h0m182-55h0m213,60h0m71-10h0m498,880h0m71-549h0m497-296h0m-1878,34h0m355-90h0m427,25h0m142,48h0m497,79h0m71-48h0m639-17h0m-1948-22h0m1349,46h0m710-51h0m-2587,84h0m71,20h0m497-126h0m355-51h0m568,392h0m497-295h0m142-17h0m498,13h0m-2233-1h0m994,32h0m-670-98h0m1350,44h0m142,12h0m71-16h0m497,57h0m-1522-81h0m426,635h0m639-603h0m142,2h0m284,48h0m-2232-26h0m710-23h0m781,7h0m142-29h0m-2161,103h0m1633,939h0m568-1034h0m-2019,277h0m1207-225h0m284,742h0m924-758h0m-1665-97h0m1492,79h0m71-10h0m142,44h0m-1309,12h0m1207-54h0m-670,44h0m781-15h0m-1877-82h0m568,78h0m213,666h0m71,393h0m142-1001h0m782-70h0m-1665-91h0m71,0h0m639,1074h0m-1096-981h0m2202,11h0m-1878-114h0m569,116h0m-1097,105h0m214-115h0m71-32h0m213-56h0m426,70h0m71,21h0m497,44h0m-1380-12h0m497-129h0m923,135h0m-1380-13h0m497-162h0m497,167h0m-1025-27h0m1066,41h0m781-116h0m213,58h0m-2446,64h0m71,67h0m852-210h0m782,411h0m426-322h0m497-13h0m-2233,24h0m498-123h0m284,40h0m355,803h0m213-685h0m426-117h0m426,62h0m71,19h0m-2658,53h0m639-128h0m852,560h0m284-480h0m426-64h0m71,21h0m71-16h0m356,66h0m71,21h0m-528-96h0m213,21h0m213,10h0m-2020-42h0m142-10h0m71-27h0m355,47h0m1421,67h0m-2659,16h0m923-131h0m569,376h0m71,585h0m284-844h0m-1665,211h0m498-308h0m324-40h0m213,76h0m213,58h0m1137-62h0m-1807-49h0m1279,79h0m-62-8h0m213-22h0m497,51h0m-2446,126h0m640-256h0m213,16h0m1562,110h0m-2516,180h0m142-107h0m1399,528h0m426-646h0m497,21h0m-2588,42h0m213,125h0m640-224h0m213,14h0m71-46h0m1491,110h0m-1806-107h0m1136,95h0m71-28h0m355-7h0m71-8h0m214,55h0m-315-79h0m71-8h0m-1878,27h0m71-48h0m71,12h0m1350,57h0m-1949,155h0m71,89h0m142-207h0m213-52h0m568-36h0m538,934h0m426-877h0m710,12h0m-2232-46h0m710,27h0m852-4h0m-244,31h0m213-31h0m214-37h0m-2162,234h0m781-282h0m1776,86h0m-2233-8h0m710-76h0m143,49h0m284,994h0m-1594-912h0m1137-120h0m568,536h0m213-448h0m284-26h0m-1309-92h0m142,15h0m213,90h0m710,23h0m142-15h0m355-42h0m-2445,80h0m1562,775h0m426-816h0m142-31h0m-1735,12h0m568-102h0m284,73h0m640,80h0m71-42h0m426-19h0m-1097-6h0m72,32h0m1207-10h0m142,35h0m-2233-33h0m1350,46h0m284-82h0m-1807,57h0m285-82h0m1846,10h0m356,107h0m-2588,158h0m923-267h0m639,131h0m782-100h0m-955,1066h0m569-1077h0m497,43h0m-2659,34h0m639-114h0m142,3h0m355,6h0m640,105h0m568-80h0m71-10h0m355,74h0m40,16h0m-2659,205h0m853-355h0m639,1021h0m-1593-866h0m142,166h0m710-306h0m142-15h0m284,105h0m-244-74h0m924,77h0m568-11h0m-2091-8h0m71-42h0m1350,103h0m426-83h0m213,34h0m-1238-2h0m142,38h0m355,34h0m71-20h0m142-39h0m213-27h0m426,11h0m-1451-38h0m639,126h0m142-60h0m497-30h0m-2517,58h0m143,102h0m923-251h0m71,57h0m568,719h0m71-568h0m639-125h0m427,79h0m-2446-31h0m284-89h0m639,32h0m142,60h0m-1167,81h0m497-212h0m213-17h0m71,24h0m426,176h0m924-91h0m-883,443h0m355-373h0m852-47h0m-244-41h0m284,59h0m-2801,8h0m214,178h0m923-287h0m426,636h0m142,205h0m355-764h0m426-52h0m121,0h0m-2304,135h0m853-181h0m639,156h0m142-57h0m568-48h0m213,74h0m-2659,9h0m1705,257h0m426-294h0m640,1h0m-2233-82h0m497-39h0m142,78h0m639,83h0m213-58h0m427-41h0m142,39h0m-457-44h0m-2091,106h0m710-170h0m71-13h0m71-24h0m285,102h0m71,9h0m284,808h0m497-763h0m-244,23h0m284-58h0m355-6h0m142-12h0m142,63h0m-2303-43h0m497-106h0m284,72h0m426,1015h0m142-906h0m639-62h0m214-4h0m-2233,7h0m781-53h0m497,698h0m1066-618h0m-2020-143h0m142,7h0m142,1h0m284,84h0m-1096,235h0m639-321h0m142-37h0m640,1204h0m142-1005h0m71-47h0m852-26h0m-1167,518h0m213-215h0m497-318h0m71-17h0m71,52h0m-1593-94h0m1349,94h0m284-20h0m-599,54h0m142,1h0m71-24h0m71-6h0m71-64h0m356,50h0m-1239-34h0m71,42h0m142,263h0m924-292h0m-1594-103h0m853,842h0m568-712h0m-1949,60h0m71-27h0m-244,109h0m1208-136h0m142,109h0m1136-100h0m-1806-132h0m1207,146h0m71-7h0m-1522-95h0m568,2h0m142,74h0m213,180h0m924-198h0m284,49h0m-2304-43h0m1847,11h0m-2162,43h0m497-127h0m213,17h0m640,96h0m1065-33h0m284,48h0m-1664-140h0m142,61h0m71,42h0m284,1064h0m142-898h0m781-179h0m142,45h0m-2232-45h0m568-89h0m71,16h0m213,44h0m497,121h0m467-89h0m213-4h0m-2162,67h0m639-165h0m924,152h0m213-45h0m142-4h0m-2162,60h0m639-165h0m1208,156h0m639-36h0m213,18h0m-2375-10h0m356-131h0m284,24h0m-883,250h0m1065-198h0m-883,50h0m2131-39h0m-1310-41h0m853,104h0m355-58h0m426,40h0m-1087,545h0m142-515h0m-1451-52h0m568-156h0m213,84h0m355,543h0m213-210h0m-1451-193h0m1279,726h0m213-747h0m71,9h0m-1097-158h0m711,124h0m639-32h0m71-35h0m213,7h0m71-7h0m-1877-7h0m994,927h0m213-810h0m710-88h0m142,42h0m-2303-18h0m852-64h0m-883,108h0m852-137h0m1208,81h0m-1594-125h0m924,713h0m639-624h0m142,0h0m213,56h0m-2517,185h0m852-301h0m964,128h0m497-58h0m-2446,60h0m214,101h0m568-259h0m781,1150h0m142-840h0m284-190h0m-457,838h0m213-785h0m71-34h0m-954-154h0m1705,109h0m213,31h0m-2588,157h0m2415-180h0m111,19h0m-1877-138h0m568,165h0m71,412h0m923-482h0m-2090,15h0m284-89h0m71-5h0m994,635h0m426-531h0m-2161,21h0m284,84h0m1136-96h0m213,1039h0m214-971h0m355-93h0m142-13h0m-1523-75h0m640,110h0m355,26h0m355-55h0m497,17h0m-2588,63h0m853-187h0m142,12h0m355,125h0m426,33h0m497-83h0m142,11h0m213,50h0m-1309-46h0m497,81h0m355-88h0m213-28h0m-2303,200h0m426-223h0m213-34h0m852,1192h0m71-427h0m782-699h0m-1594-90h0m213,37h0m213,67h0m498,90h0m497-100h0m426,8h0m-2517,217h0m355-284h0m1279,114h0m639-65h0m71,25h0m142,36h0m-1522-117h0m781,118h0m284-36h0m568-1h0m-2263-65h0m213-40h0m568,96h0m213,603h0m-1167-581h0m213-93h0m142-6h0m994,523h0m285-414h0m213,2h0m213-38h0m-2375,32h0m213,113h0m355-199h0m710,57h0m143,84h0m213,625h0m213-614h0m142-44h0m-1878,158h0m284-214h0m142-43h0m427-5h0m213,38h0m-1026,236h0m142-187h0m924-58h0m1491,45h0m-2161-58h0m284-92h0m1776,149h0m71,4h0m-1736-108h0m213,39h0m213,97h0m498,27h0m426-99h0m71-22h0m71,35h0m-2375,131h0m426-193h0m852,107h0m356,164h0m781-228h0m-235,7h0m-1877-31h0m1065,137h0m782-124h0m-2233,62h0m710-144h0m213,13h0m284,63h0m142,53h0m214,965h0m1136-969h0m-2517,144h0m445-306h0m71,29h0m213-31h0m71-2h0m711,498h0m284-350h0m639-32h0m-2233-6h0m355-118h0m71,37h0m71-27h0m71-14h0m214,74h0m994,9h0m-1807,27h0m214-62h0m71-6h0m71-42h0m71,16h0m142,37h0m781,387h0m781-357h0m71,32h0m-2517,61h0m853-179h0m71,18h0m994,112h0m-1309-92h0m710,124h0m142,509h0m569-539h0m71-23h0m213-10h0m-1523-81h0m284,8h0m284,164h0m214,903h0m-1452-756h0m497-288h0m142-9h0m71-43h0m214,76h0m355,126h0m852-117h0m213,56h0m284,44h0m-2090-134h0m1065,171h0m71,0h0m923-30h0m-2730,2h0m285-40h0m142-55h0m1136,1128h0m568-1087h0m142-37h0m-599,410h0m-1735-327h0m639-87h0m1137,134h0m994-35h0m-2659,105h0m1492,879h0m710-1020h0m-2304,58h0m426-44h0m924,5h0m639,3h0m-741-23h0m1421,7h0m-1168,360h0m213,118h0m498-481h0m-2233,72h0m71-4h0m355-33h0m426-134h0m568,149h0m711,3h0m284-57h0m355,76h0m-2406-33h0m711-99h0m71,51h0m923,59h0m213-63h0m497,72h0m-2232-53h0m1491,54h0m213-73h0m-1877,74h0m639-135h0m284,117h0m142,6h0m-1309,101h0m284-138h0m426-72h0m639,143h0m-599-159h0m924,149h0m923-42h0m71,30h0m-1025,114h0m852-174h0m-2304,79h0m711-142h0m71,1h0m497,983h0m355-863h0m639-54h0m-1380-25h0m1208,50h0m-2304,131h0m1278-125h0m1066-67h0m-2446,110h0m71-4h0m284-44h0m71-6h0m355-69h0m-457,89h0m426-126h0m640,123h0m213,955h0m568-1029h0m142,27h0m142-21h0m71,23h0m71,21h0m71-2h0m-2659,5h0m71,38h0m142,158h0m71-142h0m71-28h0m498-128h0m497,112h0m1420-6h0m-2587,196h0m568-264h0m71-37h0m1420,40h0m569,81h0m-2375-24h0m710-90h0m142,63h0m497,71h0m569-64h0m-2020,37h0m213-72h0m568,7h0m427,735h0m-1381-478h0m71-35h0m213-153h0m1208,837h0m142-818h0m852-7h0m-2446,178h0m213-218h0m214-32h0m568,4h0m142,57h0m568,24h0m-1806,89h0m-62-91h0m142,196h0m71-64h0m426-240h0m71-20h0m1279,95h0m639,25h0m-2659,29h0m213,129h0m142-170h0m853-40h0m781,45h0m-1594,1h0m782-84h0m426,1151h0m142-997h0m568-124h0m142-2h0m-2090,45h0m1349,355h0m782-399h0m-1949,17h0m355-45h0m142-6h0m568,1147h0m213-1001h0m214-56h0m284-59h0m-2304,110h0m852-136h0m1634,34h0m40,30h0m71-6h0m142,45h0m-2090-87h0m426,35h0m-954,217h0m71-2h0m852-261h0m71,13h0m142,39h0m923,5h0m356-1h0m-1523-71h0m1066,92h0m639,11h0m-2020-62h0m142-24h0m711,970h0m639-930h0m497,37h0m-2730,57h0m994-139h0m285,53h0m284,715h0m71,374h0m852-1090h0m142,61h0m-2233,15h0m71-34h0m427-101h0m1278,73h0m-1522-31h0m284-55h0m1136,81h0m497-3h0m214,67h0m-1381-36h0m639,23h0m285-70h0m-1199-55h0m995,78h0m142-20h0m-1807,60h0m1137,828h0m142-494h0m71-311h0m-1594,188h0m498-303h0m923,1087h0m781-1062h0m-2303,162h0m497-176h0m1918,18h0m142,51h0m71,8h0m-2375,18h0m71-53h0m213-41h0m426-32h0m426,254h0m498-170h0m568-53h0m-1949,11h0m213-53h0m1634,88h0m142-30h0" stroke="#1f77b4" stroke-width="23"/><path d="M8436 7802h0m711,34h0m142,47h0m142,730h0m355-704h0m639-50h0m142-6h0m-2517,200h0m640-318h0m71-13h0m355,104h0m497,162h0m497-140h0m-1593-92h0m355-14h0m71,39h0m355,110h0m995-68h0m142,10h0m-955,1037h0m498-1002h0m213-45h0m142,21h0m-2304,206h0m213-211h0m1279,867h0m213-774h0m213-58h0m71-8h0m142-29h0m-2091,193h0m355-282h0m356-48h0m71,41h0m71,14h0m497,802h0m497-700h0m-883-105h0m568,333h0m852-245h0m-2303,81h0m568-211h0m142,29h0m852,188h0m284-51h0m498-19h0m-2588,18h0m71,103h0m426-214h0m213-56h0m213,0h0m142,46h0m1421,75h0m-1949-32h0m710,34h0m995-2h0m-2162,153h0m639-275h0m143-4h0m355,143h0m142-7h0m71,29h0m142,983h0m71-337h0m71-576h0m497-143h0m142,28h0m-2020,5h0m427-123h0m-559,263h0m568-275h0m71,42h0m71-19h0m568,575h0m142,338h0m569-763h0m-1878-13h0m284-91h0m284-52h0m71-3h0m355,128h0m72,52h0m142,728h0m-599-909h0m426,142h0m426,76h0m-1807-43h0m924-186h0m142,41h0m142,74h0m71-1h0m1065,77h0m-1948-56h0m213-91h0m426,1h0m1065,154h0m-1735-22h0m284-107h0m142-32h0m426,100h0m1208,24h0m-2233,239h0m1136-217h0m1492,68h0m-2730,43h0m710-250h0m640,177h0m426,32h0m142-15h0m142-33h0m-1807-16h0m142-59h0m427-52h0m284,63h0m497,570h0m-1167-587h0m1704,80h0m427,35h0m-2446,127h0m994-233h0m995,106h0m-1594-129h0m710,97h0m711,43h0m568-38h0m-2588,48h0m426-73h0m640-97h0m355,119h0m710,36h0m71-20h0m426,2h0m142,10h0m-2019-151h0m426,68h0m426,1060h0m71-387h0m284-568h0m142-8h0m71-16h0m-2019,192h0m213-239h0m213-80h0m1989,157h0m71,4h0m-173-46h0m71,40h0m-1949-97h0m71-48h0m710,133h0m711,7h0m213-9h0m142-2h0m213,15h0m-2375,24h0m995-70h0m710,50h0m-1594-32h0m213-89h0m356-46h0m-173-25h0m1633,171h0m-2445,32h0m2557-11h0m-2304,130h0m426-314h0m355,39h0m853,207h0m284-53h0m-1665-84h0m284-146h0m284,83h0m1066,139h0m284-26h0m355,67h0m-2659,29h0m782-245h0m213,55h0m1065,134h0m71-28h0m-2233,27h0m711-176h0m1278,187h0m71-13h0m142-15h0m142,11h0m-1238-128h0m71-13h0m142,88h0m568,81h0m640-23h0m-2233,13h0m639-201h0m213,47h0m467,1136h0m213-943h0m-1807-25h0m142,113h0m213-223h0m1137,403h0m1065-313h0m213-14h0m-2801,14h0m213,133h0m711-365h0m142,63h0m639,698h0m426-531h0m284-24h0m-1806-155h0m355-36h0m1136,207h0m214-30h0m497,49h0m-2517-12h0m1918-17h0m-741-9h0m568,45h0m497-50h0m71-1h0m-2588,8h0m1989,51h0m-1593-126h0m2272,91h0m-1735-217h0m710,1055h0m782-854h0m142,16h0m-2517-22h0m355-68h0m658-92h0m-1025,188h0m568-190h0m497-2h0m1035,171h0m142-11h0m-1878-55h0m1776,71h0m284,12h0m71-27h0m71,46h0m142-23h0m-2446-37h0m569-162h0m568,184h0m71,378h0m994-360h0m142-10h0m71,14h0m71,3h0m-2801,15h0m1137-143h0m213,51h0m639,79h0m71,25h0m-1593-146h0m852,29h0m-1025,82h0m1319,907h0m142-754h0m71-79h0m213-26h0m142-14h0m71-9h0m-741,276h0m1207-267h0m71-9h0m-2587,140h0m1775-97h0m213-28h0m356-28h0m284,20h0m-1949-238h0m568,223h0m853,23h0m355-13h0m-1452-131h0m427,1076h0m142-860h0m213-54h0m71-4h0m-1878,154h0m1350,204h0m284-314h0m781-77h0m71-27h0m-2517,165h0m1989-123h0m-1025-199h0m-741,126h0m71-28h0m994,70h0m71,270h0m995-216h0m284-6h0m-2801,15h0m1562,521h0m143,82h0m426-606h0m-2091-27h0m355-123h0m995,103h0m426,103h0m213-8h0m639-59h0m-2375,46h0m2557-26h0m-1451-80h0m71,60h0m-1167,0h0m142-136h0m1705,152h0m355-2h0m-315,1h0m284-31h0m284,37h0m-2730-7h0m994-212h0m214,73h0m710,156h0m-1878-34h0m284-74h0m427-125h0m994,338h0m142-71h0m-1238-262h0m1065,578h0m142-297h0m213-11h0m71-31h0m284-27h0m-2232,164h0m142-274h0m426-106h0m1421,223h0m-2091,39h0m497-198h0m284-71h0m213,49h0m355,176h0m995-23h0m253,22h0m-2091-161h0m142-52h0m41-10h0m213,1h0m1562,214h0m-2445,96h0m781-325h0m781,880h0m213-564h0m-518-108h0m994,58h0m284-39h0m-2375,19h0m71-77h0m1705,131h0m71-32h0m-1167-237h0m-741,335h0m994-245h0m71,45h0m142,64h0m569,64h0m639-61h0m-1665-201h0m284,127h0m356,1035h0m639-946h0m-2233-17h0m924-193h0m497,186h0m355,114h0m568-111h0m355-5h0m-1877-185h0m213,26h0m142,41h0m1278,124h0m-1451-180h0m852,243h0m498-71h0m-2020-86h0m2131,107h0m-1807-206h0m853,596h0m71,498h0m852-919h0m284,10h0m-2304-96h0m782-10h0m1349,95h0m-2304,86h0m213-218h0m1350,246h0m355-79h0m284-1h0m284-37h0m71-11h0m-1877-171h0m142,22h0m426,447h0m-599-463h0m284,93h0m639,173h0m-1167-270h0m781,189h0m143,835h0m426-785h0m284-44h0m-2304-16h0m213,159h0m355-301h0m711,72h0m994,99h0m284-38h0m-2517,18h0m213,96h0m924-222h0m213,115h0m426,107h0m142-23h0m639-59h0m-2232-68h0m213-120h0m568,47h0m1350,125h0m-2517,7h0m142,80h0m1349-40h0m569,16h0m-1949-14h0m1492,741h0m355-716h0m426-68h0m213-8h0m-2304,53h0m1208-8h0m142,996h0m142-840h0m-386-229h0m142,332h0m1065-319h0m-457,68h0m355-30h0m356-39h0m-2659,172h0m426-317h0m852,193h0m355,52h0m-1593,47h0m994-225h0m213,119h0m-1451-17h0m1208-92h0m142,70h0m-528-159h0m639,213h0m-1025-104h0m213-64h0m284-51h0m355,126h0m994,74h0m427-33h0m-1168,308h0m497-228h0m356-77h0m-1736-135h0m852,183h0m356,57h0m355-91h0m355-37h0m-2517,20h0m852-196h0m711,1109h0m142-564h0m284-243h0m-1594-168h0m782-4h0m71,18h0m1491,31h0m-2659,97h0m853-226h0m426,150h0m71,41h0m213,771h0m142-706h0m213-67h0m284-10h0m-2090,105h0m1633-44h0m356-80h0m71-6h0m284-41h0m-2446,112h0m426-201h0m1136,853h0m214-642h0m213-72h0m213-11h0m-1949-94h0m639-50h0m1137,154h0m-1096-160h0m142,48h0m142,80h0m284,1040h0m-1310-1057h0m2060-5h0m-1451-147h0m213,55h0m-883,195h0m568-257h0m781,1116h0m142-640h0m356-248h0m355-67h0m355,32h0m-2730-13h0m142,140h0m71-116h0m994-76h0m791,76h0m497-53h0m-2374,183h0m923-247h0m71,24h0m213,89h0m568,59h0m213-47h0m71-48h0m569-12h0m-2162-90h0m568,48h0m1279,15h0m-2517,85h0m213,134h0m142-185h0m213-95h0m213-57h0m1847,150h0m-1167,51h0m568,14h0m710-55h0m-2730,34h0m213,122h0m1421,814h0m142-841h0m213-64h0m426-94h0m71,6h0m-2019-56h0m710,1h0m213,109h0m568,38h0m-1127-195h0m426,109h0m569,101h0m-1594,36h0m213-160h0m640-57h0m852,150h0m639-67h0m-2517,25h0m355-61h0m711-28h0m-1096,110h0m1207-71h0m710,108h0m498-64h0m284-7h0m-2730-3h0m1349,55h0m1066-53h0m-1523-81h0m568,173h0m285,195h0m71-166h0m213-58h0m71-17h0m-2091-37h0m71,49h0m142,92h0m568-264h0m427,112h0m284,292h0m781-291h0m142-4h0m-1451-61h0m923,169h0m71-37h0m213-36h0m71-23h0m-2161,55h0m497-154h0m1207,229h0m568-123h0m-1309-91h0m142,63h0m355,665h0m1137-634h0m-1736-93h0m142,65h0m-1025,52h0m639-112h0m284,8h0m569,772h0m213-582h0m639-127h0m-1878-65h0m924,129h0m71,443h0m-599-614h0m71,50h0m213,63h0m497,523h0m781-518h0m143,1h0m142,35h0m-1807-132h0m71,38h0m781,153h0m498-73h0m213-16h0m-2446,67h0m994-117h0m640,534h0m71-383h0m284-67h0m142-8h0m142-46h0m-2162,222h0m213-244h0m1563,101h0m-1594-66h0m284-76h0m1847,49h0m142,29h0m71,24h0m-2730,21h0m467-76h0m213-45h0m71-25h0m355,69h0m71,0h0m71,20h0m1208,30h0m142-16h0m-2446,145h0m142-84h0m994-40h0m782,37h0m639-39h0m71-3h0m-1594-34h0m1421,21h0m-1238,57h0m-528-165h0m71-13h0m497,163h0m497,74h0m497-120h0m-2161,161h0m71-122h0m284-131h0m426,29h0m1065,115h0m-1806,32h0m568-195h0m213,12h0m426,234h0m71,522h0m356-541h0m71-24h0m710-75h0m-2375,16h0m71-46h0m142-26h0m355-69h0m739,1152h0m-1523-965h0m427-123h0m426-35h0m426,111h0m355,315h0m923-341h0m71-33h0m-1877-88h0m71,16h0m781,681h0m426-567h0m498-32h0m-2659,60h0m71-19h0m71,58h0m568-177h0m284-8h0m284,56h0m284,531h0m782-496h0m-1665-85h0m995,1065h0m852-992h0m213,25h0m-2588,101h0m71,84h0m782-314h0m142,67h0m1633,58h0m-2659,51h0m569-160h0m710,101h0m781,24h0m284-37h0m-599,111h0m71-14h0m71,4h0m-386,814h0m427-794h0m71-69h0m355-30h0m-2304,139h0m213-133h0m1776,14h0m-1025-106h0m213,92h0m213,463h0m213-164h0m923-332h0m142,49h0m-2588,191h0m71-140h0m142-93h0m1208,1051h0m1065-1041h0m-2445,135h0m213-157h0m1562,92h0m355-66h0m143,39h0m-1807-85h0m284-42h0m1066,148h0m568-49h0m-1381,8h0m285,615h0m852-631h0m355,33h0m-2588,150h0m284-189h0m213-75h0m427,29h0m142,46h0m1065,5h0m71,8h0m-2375,45h0m924-145h0m284,89h0m213,56h0m994-36h0m-1735-85h0m852,549h0m1279-452h0m-1594-9h0m853,67h0m71-34h0m-1665-57h0m284-103h0m142,29h0m71,12h0m609,913h0m497-750h0m284-52h0m213-38h0m142,26h0m-2730,28h0m284,83h0m142-132h0m1918,37h0m355,8h0m-2019-107h0m142-33h0m426,125h0m-741-59h0m497-30h0m213,55h0m710,132h0m356-98h0m-2091,192h0m71-22h0m213-198h0m213-54h0m213-33h0m355,130h0m498,364h0m710-386h0m-2162,74h0m142-77h0m568-90h0m71,1h0m569,1098h0m639-996h0m213-5h0m284,17h0m-1309,76h0m1065-88h0m-1655-131h0m71,24h0m426,129h0m284,918h0m285-855h0m213-50h0m-2091-28h0m213,73h0m71-75h0m924-4h0m-955,26h0m142-50h0m71-31h0m285-83h0m355,92h0m923,89h0m568-47h0m-2303-21h0m355-80h0m639,133h0m497,72h0m568-97h0m71-14h0m71,7h0m-2303,112h0m426-224h0m923,1069h0m284-865h0m284-69h0m285-47h0m-1026,80h0m569,14h0m568-80h0m-2375,190h0m426-270h0m355-17h0m213,65h0m853,94h0m-1878,97h0m568-300h0m427,97h0m355,340h0m142,647h0m781-956h0m-2446,29h0m538-98h0m1065,976h0m284-785h0m142-49h0m285-55h0m-1594-124h0m213,5h0m213,19h0m426,794h0m1066-729h0m-2375,136h0m213-167h0m710,15h0m356,515h0m-1239-408h0m1279,704h0m-1167-805h0m1207,1037h0m426-926h0m426-69h0m-2019-95h0m71,4h0m497-28h0m355,142h0m355,475h0m-1451-407h0m1349,941h0m285-949h0m355-68h0m284-28h0m-1310-41h0m1066,31h0m-2304,68h0m923-182h0m356,100h0m142,65h0m1278-48h0m-2446,124h0m142-121h0m72-57h0m852,55h0m142,76h0m568,32h0m497-107h0m71-8h0m-1451-52h0m781,161h0m-1380-179h0m142-40h0m355,41h0m213,102h0m1137-25h0m-1736-112h0m426,22h0m924,222h0m142-69h0m71-3h0m71-23h0m-1452-169h0m1208,208h0m497-53h0m213,47h0m-2588,117h0m142-127h0m71-93h0m1634,130h0m781-59h0m-2658,88h0m355-201h0m284-63h0m-741,196h0m142,151h0m1491,695h0m356-798h0m213-63h0m497,2h0m-2375-62h0m142-68h0m426-56h0m1847,183h0m-2091-189h0m142,11h0m1066,248h0m426-55h0m426-27h0m-2304-74h0m214-100h0m497,76h0m142,57h0m923,70h0m71,6h0m-2304-17h0m285,84h0m213-202h0m284-63h0m639,196h0m213,945h0m324-857h0m71-50h0m569-48h0m-528,30h0m-1168-227h0m640,511h0m142,527h0m426-806h0m497-71h0m-2446,152h0m498-269h0m710,141h0m852,25h0m-1096-148h0m1420,129h0m-2445,43h0m284-115h0m781-59h0m852,217h0m-2019-80h0m142,76h0m1136-151h0m213,95h0m-954-158h0m1421,200h0m426-83h0m71,7h0m-2304,110h0m782-283h0m355,101h0m71,27h0m71,58h0m142,554h0m710-543h0m284-46h0m213,54h0m-2659,29h0m143,60h0m-244-106h0m142,114h0m426-258h0m71-13h0m71-1h0m923,1151h0m71-377h0m1066-600h0m-2091-177h0m568,45h0m213,153h0m640,4h0m-1523-168h0m355-55h0m1816,201h0m-2588,141h0m853-324h0m1776,175h0m-2659,91h0m284-161h0m284-126h0m213,5h0m355,125h0m213,84h0m284,161h0m142-91h0m71-12h0m-1735,47h0m284-267h0m284-66h0m923,584h0m-1522-206h0m71-129h0m994-117h0m72,38h0m426,128h0m71-26h0m355-30h0m568-18h0m-2091-164h0m853,532h0m497-323h0m426-44h0m-2446-7h0m284,17h0m1776,2h0m-1664-125h0m71,3h0m213-103h0m781,232h0m1208-39h0m142,27h0m-2659,99h0m426-254h0m426-56h0m710,657h0m782-490h0m71,26h0m-2375,172h0m1563-16h0m-1168-348h0m142-22h0m1492,203h0m213-9h0m-1806-171h0m284-24h0m710,1179h0m284-918h0m568-55h0m-812,799h0m782-826h0m-2091-84h0m71-7h0m71-53h0m710,14h0m284,242h0m71,545h0m142-77h0m782-566h0m284,8h0m-2446-74h0m213-87h0m355-66h0m853,482h0m355-222h0m142-34h0m-1736-133h0m355-105h0m143,7h0m497,361h0m142,833h0m71-513h0m639-467h0m355,15h0m-2019-180h0m71-61h0m994,414h0m213-133h0m142-20h0m639-13h0m-1664-189h0m71,33h0m497,1036h0m497-877h0m-1948,129h0m2628-143h0m-1096,304h0m426-294h0m-2020,62h0m284-199h0m71-32h0m711,20h0m639,157h0m568-40h0m-2091-59h0m285-117h0m142-51h0m1136,293h0m71,1h0m-1806,30h0m213-174h0m355-115h0m426,23h0m710,224h0m640-70h0m213-1h0m-2304-81h0m426-116h0m781,1147h0m213-871h0m142-20h0m427-51h0m-2375,2h0m710-199h0m1137,288h0m639-97h0m-2091-109h0m71-3h0m142-65h0m711,110h0m213,596h0m71,457h0m568-948h0m213-36h0m213,1h0m-2588-2h0m71,61h0m1350-77h0m568,70h0m497-29h0m-2090-106h0m213-105h0m852,218h0m71,559h0m-1522-583h0m426-107h0m355-137h0m142,47h0m1350,201h0m71-9h0m-2233,118h0m71,45h0m142-225h0m923-16h0m356,1016h0m426-899h0m-1026-261h0m72,35h0m355,173h0m994,25h0m-2233,134h0m1359,648h0m711-765h0m-1665-168h0m1208,238h0m-1523-92h0m1279,883h0m-1544-824h0m2060-23h0m71-4h0m-2091,32h0m639-224h0m355,17h0m995,197h0m-1025-212h0m213,87h0m71,33h0m1207,89h0m213,1h0m-2659,47h0m71,105h0m1279-202h0m71,368h0m355-271h0m142-64h0m-1451-128h0m355-56h0m284,76h0m142,25h0m-812-37h0m497-77h0m355,157h0m-599-184h0m284,68h0m71,3h0m214,116h0m71,24h0m142,758h0m71,216h0m-1381-874h0m1421,647h0m-1167-861h0m497-48h0m781,235h0m142-21h0m781-12h0m72,11h0m-2517,62h0m355-267h0m994,1140h0m284-911h0m711-79h0m-985,1060h0m994-1035h0m-2517,51h0m284-119h0m213-122h0m213-22h0m569,192h0m994,19h0m-1948-90h0m71-16h0m426-104h0m568,316h0m355-45h0m-1806-79h0m213,100h0m1065-140h0m-1238,93h0m568-225h0m1492,199h0m355-23h0m-2446,17h0m639-173h0m1066,288h0m71-91h0m213-20h0m-1878,139h0m142-172h0m284-134h0m640,81h0m71,16h0m395,678h0m639-638h0m71-17h0m-1167-79h0m852,129h0m711,4h0m-1026,19h0m924-51h0m-2375-51h0m324-99h0m924,864h0m852-735h0m355,31h0m-1451-51h0m142,41h0m142,987h0m568-988h0m497-3h0m-2659,20h0m498-116h0m781,37h0m355,932h0m568-865h0m-2232,15h0m1491-9h0m142,971h0m71-367h0m-1380-616h0m71-45h0m71-59h0m568-71h0m41,14h0m213,107h0m-315-104h0m355,117h0m142,50h0m355,64h0m-315,102h0m71,519h0m-1553-681h0m497-95h0m71-17h0m142-58h0m1705,124h0m-2375,29h0m852-186h0m71,29h0m1705,169h0m-2375,5h0m121-85h0m426-100h0m284,68h0m213,38h0m569,129h0m355-81h0m284-11h0m-599,77h0m-1665-20h0m1492,39h0m426-62h0m-2233,25h0m569-127h0m142-47h0m639,90h0m1278,17h0m-2587,41h0m426-59h0m284-100h0m1065,225h0m142-47h0m569-57h0m-2517,52h0m1633,981h0m853-1020h0m142-2h0m-2233-28h0m142-71h0m71-5h0m142-38h0m355,46h0m853,179h0m-812-177h0m213,87h0m568,75h0m639-86h0m71,0h0m-2517,150h0m285-173h0m568-97h0m1420,145h0m-1948-58h0m71-16h0m284-51h0m355,30h0m426,892h0m-954-917h0m497,21h0m639,257h0m711-167h0m213,18h0m-2659,17h0m426-81h0m995,81h0m497,29h0m639-66h0m71,28h0m142,5h0m-2588,175h0m284-251h0m71,0h0m995,686h0m213-543h0m639-127h0m71,6h0m-954,370h0m1136-353h0m-2445,170h0m1633-96h0m569-88h0m-2091,22h0m355-124h0m284,22h0m426,104h0m213,938h0m640-955h0m213-26h0m-670,108h0m284-69h0m355-25h0m-1949-51h0m71-29h0m782,74h0m1136,1h0m-2375,44h0m1492,798h0m284-767h0m852-80h0m-2516,209h0m852-299h0m71,8h0m71,59h0m142,55h0m142,26h0m-883-124h0m1492,120h0m213-35h0m-2020,69h0m1208,28h0m426-74h0m142,1h0m71-18h0m142-13h0m284-41h0m-2091-10h0m284-55h0m214,11h0m71-9h0m355,131h0m71,5h0m781-29h0m213-34h0m-2091,7h0m285-90h0m923,837h0m923-759h0m71,18h0m-2445,125h0m2628-102h0m-2375-33h0m142-26h0m142-25h0m1278,113h0m214-43h0m71,15h0m213-29h0m71,30h0m-1807-105h0m782,132h0m923-50h0m142-19h0m-1451-65h0m284,100h0m71,49h0m355,13h0m284-71h0m213,3h0m142-27h0m355,38h0m-1735-104h0m213,85h0m71-18h0m142,142h0m1065-138h0m142,6h0m-2587,110h0m497-168h0m426-14h0m142,77h0m213,29h0m710,1h0m-1451-131h0m1563,116h0m568,36h0m-2659,92h0m426-182h0m426-64h0m497,185h0m640-23h0m284-60h0m142,18h0m-2020-41h0m71-20h0m355-22h0m609,647h0m71,470h0m497-1012h0m142,8h0m-985-61h0m284,677h0m71,353h0m142-883h0m427-104h0m142-12h0m-2304,20h0m2628,0h0m-2446,180h0m142-206h0m568-93h0m356,65h0m426,613h0m639-612h0m213,25h0m-1380-24h0m142,45h0m71,27h0m142,455h0m-1381-303h0m1847-144h0m142-19h0m213-59h0m-1451-68h0m994,162h0m498-51h0m71-22h0m142,26h0m-2304,26h0m639-176h0m497,171h0m-1096-62h0m639-74h0m142,32h0m356,159h0m355,3h0m284-77h0m-1949,169h0m1208-171h0m1065-32h0m142,22h0m-1735-147h0m1278,166h0m71-7h0m-2019,169h0m852-280h0m1563,100h0m213-9h0m-2446-9h0m1278,979h0m72-477h0m284-452h0m426-60h0m142-8h0m-1949-40h0" stroke="#ff7f0e" stroke-width="23"/><path d="M9680 8052h0m852-71h0m-2659,63h0m142,157h0m609-292h0m1420,65h0m142,6h0m284-6h0m71,13h0m-2374,42h0m71-40h0m71-47h0m284-63h0m213-17h0m142,5h0m426,467h0m853-341h0m426,12h0m-2659,145h0m2131-176h0m71-31h0m426,81h0m71,6h0m-1949-141h0m427,66h0m1136,16h0m-1380-70h0m142,28h0m781,105h0m-2020,2h0m71-18h0m71,122h0m853-247h0m213,5h0m639,148h0m284-43h0m284-46h0m-1522-63h0m710,859h0m71,118h0m-1664-834h0m710-150h0m71,23h0m497,29h0m355,991h0m285-905h0m284-25h0m639,25h0m-2659,161h0m994-262h0m853,96h0m355-71h0m284,43h0m-2659,27h0m355-15h0m71-27h0m213-42h0m569-21h0m213,78h0m426,50h0m497-56h0m213,7h0m-102-27h0m142,53h0m-1877-99h0m284-56h0m142,63h0m426,762h0m924-708h0m-2304,232h0m710-358h0m355,117h0m71,9h0m782,25h0m142-17h0m426,18h0m-2162-36h0m284-81h0m284,33h0m213,21h0m183,67h0m781-29h0m-2233,64h0m1350-33h0m568,54h0m142-44h0m355-24h0m284,55h0m-2161-92h0m497-54h0m497,700h0m71,392h0m1208-951h0m-1452-34h0m853-6h0m497,60h0m-1523-124h0m213,60h0m1208,5h0m-1522-97h0m923,113h0m568-13h0m-2091-11h0m853,6h0m355,438h0m-599-524h0m1349,79h0m72,27h0m-2233,44h0m142-86h0m2113,26h0m-1948-103h0m781,118h0m1137,1h0m-2162-62h0m1349,474h0m285-413h0m213,2h0m284-23h0m-1452-106h0m356,83h0m852,26h0m-2233,36h0m213,173h0m497-335h0m711,115h0m71,271h0m355-191h0m213-72h0m568,19h0m-2517,161h0m427-256h0m568-54h0m142,70h0m284,649h0m284-508h0m923-33h0m-2658,54h0m142,54h0m852-304h0m-1096,214h0m142,91h0m568-295h0m213-31h0m142,51h0m71,37h0m355,186h0m569-57h0m355-34h0m213,2h0m-2375,136h0m2557-115h0m-2091-161h0m142-61h0m1350,231h0m-2162,55h0m1634,591h0m71-506h0m497-168h0m284-21h0m-1735-132h0m284-6h0m781,191h0m142-14h0m-1096-160h0m71-3h0m213,36h0m213,69h0m284,637h0m71-510h0m214-37h0m426-66h0m-2233,235h0m142-228h0m852-105h0m285,84h0m71,314h0m568-294h0m568,9h0m-2659,41h0m142,91h0m497-263h0m995,1078h0m1065-923h0m-2304-71h0m356-142h0m71,24h0m497,91h0m71,62h0m426,44h0m-661-163h0m142,72h0m356,931h0m71-479h0m497-388h0m355,33h0m-2162-99h0m924-9h0m1349,87h0m-2304-33h0m214-97h0m142-59h0m1917,206h0m-2516,107h0m71,57h0m426-321h0m710,75h0m1421,108h0m-1949-225h0m142-13h0m1563,210h0m-2375,151h0m142-136h0m213-112h0m142-59h0m-244,86h0m142-66h0m782,73h0m284,921h0m142-683h0m-1665-130h0m213-18h0m213-112h0m71-63h0m1137,555h0m781-434h0m213,38h0m-2659,16h0m71,100h0m356-204h0m497-120h0m284,103h0m284,545h0m142,134h0m-457-717h0m213,89h0m995,8h0m71,8h0m213,46h0m-2659,0h0m284-69h0m568-140h0m142,12h0m711,205h0m71-11h0m355-21h0m213-1h0m284,12h0m-2659,13h0m71,53h0m710-257h0m1350,139h0m142,51h0m213-32h0m213,51h0m-2517,150h0m355-285h0m285-100h0m1420,182h0m71-35h0m-2162,231h0m143-217h0m142-33h0m284-101h0m1278,207h0m497-25h0m-954,673h0m782-688h0m355,38h0m-2730,33h0m608-173h0m1776,95h0m71,0h0m-1593-169h0m1491,196h0m284,4h0m-2517,51h0m1776-54h0m781-22h0m72,29h0m-2446,34h0m284-184h0m497-58h0m-528,69h0m355-106h0m142,22h0m213,38h0m1492,157h0m-2304-105h0m497-149h0m284,54h0m72-20h0m639,159h0m-1736,164h0m284-284h0m782-51h0m213,93h0m71,473h0m355-456h0m-1096-219h0m71-10h0m142,25h0m71,13h0m142,17h0m426,964h0m142-804h0m71-7h0m213,9h0m-2090-20h0m710-170h0m71,10h0m71-35h0m71,10h0m71-30h0m71,34h0m355,99h0m142,577h0m639-527h0m640,54h0m-2517-47h0m71-24h0m284-128h0m71,34h0m142-62h0m71,12h0m71-7h0m355,98h0m853,101h0m-2020,215h0m497-362h0m71-25h0m71,16h0m71-23h0m213,70h0m1208,115h0m-1380-118h0m284,87h0m852,79h0m142-13h0m-1949,108h0m924-186h0m213,71h0m639,63h0m71-28h0m213,12h0m-2090,131h0m710-265h0m71-13h0m142,47h0m213,108h0m639,16h0m71-42h0m142,39h0m143,5h0m284,21h0m71,20h0m71,2h0m-2801,6h0m1491,182h0m427-200h0m639,15h0m-1523-216h0m1279,151h0m-883,7h0m71,275h0m568-277h0m355-14h0m355,45h0m-2588,197h0m711-388h0m1065,187h0m497-21h0m-1877-95h0m426-64h0m284,87h0m426,330h0m924-247h0m-1026,937h0m356-941h0m284-31h0m-1949,40h0m213-100h0m924,40h0m71,431h0m497-384h0m284-49h0m355,23h0m-1593-143h0m852,182h0m355-49h0m-599,652h0m71-508h0m426-140h0m497,26h0m142,59h0m-2516-28h0m284-136h0m213-67h0m1288,174h0m284-1h0m-1665-154h0m640,103h0m-457-76h0m284,7h0m142,44h0m781,70h0m568,27h0m71,15h0m-1522-157h0m142,60h0m71,26h0m497,60h0m-599-82h0m71,19h0m71-5h0m1137,31h0m-2588,81h0m710-235h0m142-7h0m426,99h0m71,10h0m142,283h0m498-216h0m284-29h0m-2051,245h0m1563-178h0m142-13h0m213-24h0m142-16h0m-1735-60h0m639-14h0m568,88h0m497,3h0m-2232,65h0m142,143h0m710-353h0m142,14h0m639,850h0m-1522-523h0m142-104h0m213-114h0m71-52h0m142-11h0m142-52h0m1492,121h0m284,58h0m-2659,17h0m142,88h0m426-213h0m640-49h0m568,284h0m284-168h0m781,61h0m-2090-152h0m710,68h0m1065,35h0m-2019-29h0m-102,57h0m142-77h0m213-84h0m497,76h0m142,12h0m639,40h0m498-21h0m-1523-93h0m711,643h0m568-534h0m-1594-71h0m782,57h0m355,66h0m852-19h0m-2304,3h0m355-128h0m1847,98h0m71,32h0m-2303,11h0m426-152h0m71,2h0m639,126h0m994-11h0m-2303,200h0m1704-172h0m142-3h0m-1877,142h0m710-257h0m142-53h0m355,104h0m995,2h0m-2304,113h0m1279-125h0m142,50h0m568,10h0m355-22h0m-1665-86h0m1066,140h0m-957-127h0m426,12h0m1066,30h0m-2020,202h0m213-144h0m284-104h0m213-1h0m355,95h0m285,972h0m1065-931h0m71,2h0m-2659,110h0m142,42h0m284-183h0m71-66h0m924,494h0m568-461h0m568,72h0m-2050-123h0m142-32h0m355,5h0m568,787h0m284-675h0m782,22h0m71,21h0m-1381-54h0m640-12h0m710,63h0m-2609,185h0m497-288h0m497-16h0m1350,75h0m-1665-103h0m-528,176h0m142-69h0m71-31h0m751-16h0m355,946h0m213-900h0m710,14h0m142,18h0m-2517,217h0m213-253h0m569-123h0m568,666h0m213-440h0m284-116h0m639,33h0m-2303,4h0m710-135h0m466,718h0m71,349h0m-1167-960h0m923-23h0m569,8h0m466-29h0m142,27h0m-1806-86h0m639,79h0m568,36h0m71,10h0m-670-41h0m213,728h0m426-698h0m142-36h0m142,10h0m-1593-48h0m142-57h0m426,65h0m71,34h0m1279,48h0m-2446,192h0m355-252h0m71-3h0m213-79h0m71-32h0m284,32h0m782,139h0m639-51h0m-670,45h0m568-71h0m213,86h0m-2375,23h0m640-147h0m355,63h0m284,880h0m142-571h0m142-254h0m781-22h0m-2517,192h0m1350-90h0m284-70h0m284-65h0m355,5h0m142-7h0m-2516,92h0m213,125h0m142-174h0m781-96h0m497,825h0m355-778h0m214-25h0m-1523-24h0m142-35h0m924,155h0m639-59h0m213,57h0m-2659-3h0m355,29h0m355-135h0m426,3h0m285,66h0m213,928h0m1065-890h0m-2375,48h0m853-155h0m71,24h0m852,25h0m-1878,257h0m640-350h0m426,76h0m923,19h0m-2019,274h0m284-239h0m71,21h0m852-41h0m213,838h0m142-494h0m711-358h0m71-16h0m-2304,271h0m213-170h0m781-113h0m569,90h0m355-53h0m710,81h0m-2588,100h0m497-243h0m497,10h0m1066,61h0m71-37h0m-1807,15h0m1279,66h0m213-26h0m-599,28h0m710-60h0m142,3h0m-2232,134h0m284-69h0m355-87h0m142-39h0m213,8h0m568,935h0m284-828h0m-1877,30h0m963-175h0m569,926h0m284-770h0m781-4h0m-2446,229h0m71-141h0m782-248h0m1775,210h0m-2659,177h0m498-319h0m994,834h0m-803-892h0m569,115h0m426,19h0m710-31h0m-2588,70h0m213,178h0m71-70h0m568-277h0m427,29h0m852,51h0m-1238-74h0m568,126h0m142,767h0m142-411h0m852-393h0m71,45h0m-2445,190h0m1278-184h0m781-91h0m-883,21h0m284,777h0m71-477h0m71-227h0m640-41h0m-1168-69h0m356,1007h0m213-911h0m426-62h0m-2304,87h0m71,20h0m71,62h0m924-256h0m1136,74h0m213,1h0m-1878,31h0m427-125h0m71,22h0m852,136h0m213,2h0m-1238-119h0m71-33h0m994,129h0m284-64h0m569,97h0m-2659,100h0m1136-230h0m142,38h0m284,910h0m782-886h0m71,4h0m-954,575h0m852-592h0m-1452-99h0m1066,134h0m-1452-56h0m72-9h0m1136,90h0m710-24h0m-1806-89h0m426,0h0m1421,104h0m284,46h0m-1878-213h0m497,177h0m1137-37h0m142,24h0m-2730,49h0m710-170h0m497,35h0m1492,108h0m-2020-106h0m213-47h0m427,71h0m852,22h0m-1878,142h0m284-166h0m1492,55h0m71-26h0m-1664,1h0m213-41h0m1136,94h0m71-15h0m-1451,3h0m71-51h0m497-75h0m497,174h0m142,886h0m213-933h0m213-35h0m285-23h0m-2020,81h0m1492-33h0m781,25h0m-2091-80h0m1350,76h0m71-23h0m355-36h0m71,2h0m355,50h0m-2517,217h0m213-241h0m1492,20h0m213-47h0m142,23h0m142,10h0m355,42h0m-2516,170h0m142-203h0m355-144h0m1136,171h0m-1664,203h0m1136-313h0m1350,60h0m-1878-125h0m355,44h0m782,110h0m-1381-86h0m853,41h0m781-6h0m213-4h0m71,39h0m-2162,40h0m71-47h0m569-168h0m710,920h0m710-740h0m355,31h0m-2730,13h0m142,141h0m143-74h0m497-220h0m426-6h0m355,765h0m-1593-590h0m142,62h0m781-285h0m1207,136h0m569,31h0m-2588,89h0m355-134h0m994,34h0m356,17h0m142-21h0m355-17h0m71-19h0m355,66h0m-2446,101h0m355-205h0m1563,74h0m426,13h0m-2304,62h0m284-170h0m924,376h0m568-274h0m-2091,43h0m284,87h0m427-223h0m1207,100h0m568-21h0m71,0h0m71,18h0m-2516,98h0m2273-153h0m-528,119h0m497-63h0m71-2h0m-1025-45h0m71,32h0m71,388h0m497-367h0m568-9h0m-2446,180h0m142-91h0m71-82h0m1492,11h0m71-8h0m426-35h0m-1948,12h0m1349,128h0m284-78h0m710-5h0m-2587,170h0m284-226h0m852-33h0m1066,49h0m213,15h0m-93,19h0m-2233,120h0m853-272h0m284,90h0m923,7h0m142,4h0m213,53h0m-1806-162h0m994,154h0m284-5h0m285-59h0m213,107h0m-2659-11h0m355-71h0m497-134h0m284,49h0m355,96h0m142,910h0m498-917h0m-742-23h0m214,794h0m-1523-726h0m142,184h0m142-219h0m213-72h0m213-69h0m924,774h0m284-619h0m213-9h0m-954-127h0m-599,18h0m568,12h0m639,126h0m-1664,186h0m497-325h0m1065,352h0m142-192h0m285-21h0m426-4h0m213,13h0m-1381-20h0m214,913h0m497-918h0m142-39h0m-1167-108h0m426,576h0m568-437h0m355,1h0m142,39h0m-2091-107h0m72-15h0m923,294h0m71,514h0m781-727h0m213,6h0m-1806-140h0m142-28h0m213,29h0m71,31h0m-812,87h0m426-125h0m426,51h0m710,116h0m285-17h0m-1310-166h0m1208,179h0m568,32h0m142,15h0m-2659,124h0m710-370h0m71,19h0m924,218h0m142-28h0m639,6h0m142,23h0m-2304-126h0m498-58h0m1065,184h0m-670-68h0m994,26h0m-2374,64h0m142,128h0m213-199h0m213-60h0m142-56h0m213-54h0m71,15h0m284,98h0m853,86h0m71-22h0m71,3h0m-1239-134h0m213,78h0m71,22h0m213,552h0m254-457h0m-1096-181h0m284-57h0m284,77h0m142,85h0m-1381,68h0m1066-194h0m781,180h0m142-20h0m782,42h0m-1594-193h0m923,161h0m72-47h0m142,33h0m-1878-58h0m1207,817h0m711-760h0m355,23h0m-2375-51h0m71-11h0m71-34h0m853,49h0m284,911h0m497-895h0m639,22h0m-2446-9h0m1847-12h0m-2162,46h0m213,120h0m72-126h0m923-135h0m213,77h0m568,22h0m355-21h0m-2019-10h0m568-176h0m111,22h0m213,70h0m497,434h0m-1167-390h0m284-112h0m711,753h0m71,353h0m355-921h0m-1025-210h0m142,55h0m355,97h0m1136,25h0m-2304,89h0m285-207h0m497-21h0m142,67h0m284,213h0m497-108h0m355-23h0m142,14h0m-2516-4h0m2464-54h0m-1735-145h0m142-20h0m142-2h0m852,235h0m852-25h0m71-11h0m-2445-3h0m213-83h0m639-45h0m284,98h0m-1167,98h0m213-146h0m1847,72h0m284,25h0m-2588-12h0m1563,860h0m71-160h0m71-523h0m213-177h0m426-27h0m-2304,83h0m71,86h0m355-271h0m782,33h0m71,25h0m71,34h0m213,883h0m213-814h0m639-40h0m71-37h0m-1877-116h0m213-28h0m852,275h0m497-115h0m284-4h0m71,7h0m71,5h0m71,0h0m-2516,126h0m142-136h0m142-65h0m710-30h0m568,157h0m71-24h0m-1877-9h0m284,46h0m852-190h0m497,1091h0m71-385h0m71-528h0m142-6h0m72-31h0m497-38h0m-1452-124h0m71,23h0m142,23h0m1563,130h0m-2659,112h0m142-81h0m284-149h0m355-145h0m214,114h0m213,44h0m1349,87h0m-1664-153h0m497,565h0m71,497h0m426-886h0m355-60h0m71-6h0m142,50h0m71,9h0m-2587,12h0m355-121h0m284-105h0m639,127h0m71,26h0m213,919h0m355-871h0m498-17h0m71-30h0m-2162-23h0m568-108h0m71,11h0m710,292h0m498-137h0m284-14h0m142,6h0m-2375,31h0m426-186h0m568,85h0m1208,84h0m-2304,190h0m71-126h0m213-153h0m711-38h0m426,1062h0m-1594-900h0m284-49h0m1634,13h0m710-19h0m-2161-57h0m568-65h0m71,28h0m355,209h0m497-54h0m-1877,69h0m71,74h0m1420,699h0m-1593-855h0m1562,626h0m711-684h0m426,37h0m-2730,14h0m142,84h0m426-212h0m1350,149h0m142-63h0m568,6h0m213,40h0m-2801-17h0m995-186h0m923,179h0m213-21h0m355,17h0m284,38h0m-2445-75h0m142-36h0m213-75h0m852,679h0m497-549h0m355-30h0m71,16h0m356,37h0m-2233-133h0m142-48h0m213,5h0m426,107h0m1350,48h0m-2588,128h0m1776-129h0m213-41h0m71-4h0m142-24h0m497,72h0m-2517-60h0m710-111h0m356,80h0m923-13h0m-102,40h0m284-29h0m-2375,144h0m143-4h0m923-217h0m355,518h0m-1522-381h0m142,121h0m639-302h0m355,0h0m284,144h0m995-8h0m-1807-103h0m284-14h0m71-18h0m426,144h0m782,28h0m-1594-76h0m142-43h0m213-34h0m356,95h0m639,119h0m-1878-19h0m284-18h0m427-134h0m568,119h0m284,1011h0m284-962h0m426-25h0m426,42h0m71-1h0m-2232-115h0m639,15h0m284,454h0m426-309h0m-528-103h0m-31,27h0m498,50h0m142,3h0m284-84h0m-2162,228h0m568-292h0m284-18h0m356,68h0m781,81h0m213-55h0m355,65h0m-1451-102h0m923,103h0m213-44h0m426,61h0m-2517-8h0m498-191h0m994,203h0m-691-172h0m71,25h0m142,59h0m781,46h0m-883-88h0m-457-19h0m852,1039h0m355-915h0m853,10h0m-2730,31h0m1918-39h0m142-54h0m-1949,239h0m213-247h0m426-114h0m1350,117h0m213,19h0m-1949,6h0m71-86h0m213-35h0m782,426h0m1136-302h0m-2659,21h0m213,190h0m924-304h0m568,653h0m923-533h0m213,10h0m-2516,21h0m142-81h0m213-98h0m2131,157h0m-2659,147h0m639-332h0m852,1127h0m-386-1036h0m1208,54h0m-2162,82h0m71-94h0m1989,3h0m-1806-32h0m284-75h0m781,1109h0m213-952h0m142-11h0m142-31h0m-2019,97h0m142,91h0m2415-180h0m71,28h0m-2375-23h0m355-96h0m426-12h0m1279,61h0m213,64h0m213,0h0m-2730,102h0m568-230h0m142-24h0m853,915h0m213-761h0m781-33h0m71,37h0m-1025,474h0m-1594-369h0m1066-182h0m213,50h0m639,6h0m426-12h0m-2161,78h0m497-205h0m284,35h0m284,68h0m142,238h0m426-177h0m853,10h0m-2446-12h0m568-131h0m923,140h0m-1522,2h0m639-171h0m284,57h0m71,42h0m427,397h0m213-339h0m852,7h0m-2588,203h0m142-251h0m213-26h0m142-79h0m284-4h0m143,41h0m142,17h0m781,54h0m426-16h0m213,62h0m-2304-24h0m711-118h0m994,139h0m497-54h0m-1309-35h0m-954,89h0m71-26h0m71-47h0m213-54h0m923,981h0m71-179h0m355-696h0m640,18h0m-2233-41h0m852-41h0m213,240h0m356-159h0m142,1h0m71-45h0m355-30h0m142,53h0m-2091-30h0m1208,712h0m497-720h0m213-10h0m142,32h0m-2020-43h0m1279,74h0m852-46h0m-1877-107h0m213,20h0m1065,102h0m568-8h0m-1380-49h0m71,21h0m781,17h0m143-33h0m-2162,76h0m71,160h0m284-217h0m568-70h0m426,113h0m924-74h0m-1452-53h0m71-16h0m995,141h0m142-22h0m710,11h0m-61,23h0m-2446,14h0m710-164h0m497,350h0m213,162h0m71-349h0m71,1h0m71-44h0m498-64h0m-2304,213h0m568-256h0m568,68h0m71-9h0m284,1023h0m356-962h0m639-46h0m-1736-103h0m142,13h0m640,960h0m497-881h0m-2162,67h0m213,166h0m284-230h0m498-107h0m355,97h0m284,1027h0m923-987h0m-2233,28h0m285-118h0m355-37h0m284,59h0m71,14h0m-599-43h0m568,62h0m355,948h0m639-963h0m-2090,256h0m1136-240h0m71,11h0m355,201h0m143-182h0m213-31h0m-1310-128h0m569,128h0m639,26h0m142-38h0m284,5h0m-2446,103h0m1492-51h0m-883-82h0m213-33h0m781,903h0m639-855h0m142-13h0m213,20h0m-2161,33h0m1775-15h0m-2090,150h0m852-251h0m284,68h0m782,29h0m568,8h0m-2446,220h0m1603-12h0m497-236h0m-315,47h0m71,0h0m213-37h0m-1380-68h0m710,605h0m71,413h0m710-958h0m214,26h0m-244,3h0m426,34h0m-2659,44h0m142,171h0m142-197h0m355-118h0m1137,124h0m852-23h0m-2517,192h0m142-141h0m497-165h0m-243,32h0m1207,111h0m284-67h0m497,22h0m-2161,9h0m1349,224h0m355-232h0m711,47h0m-2446-1h0m1491,5h0m498-93h0m-1097,5h0m285,534h0m-1239-383h0m284-157h0m213-51h0m71-31h0m711,900h0m284-753h0m71-16h0m142-6h0m426,25h0m-1096-22h0m1349,51h0m-2659,83h0m1137-177h0m426,864h0m497-828h0m284,10h0m71,12h0m72-8h0m-2446,180h0m497-207h0m213-76h0m71,4h0m426,74h0m710,36h0m72-10h0m426,13h0m-1949-48h0m284-57h0m497,76h0m214,875h0m710-875h0m71-10h0m71,18h0m-2020,29h0m355-113h0m142-48h0m995,168h0m-1949,19h0m782-165h0m355,57h0m1207,40h0m426,80h0m-1593-138h0m568,485h0m497-408h0m213,43h0m-1593-139h0m1278,96h0m72,6h0m213-13h0m71-17h0m-914,669h0m142-83h0m852-523h0m-1949-68h0m711,10h0m1207,59h0m-2517,37h0m142,130h0m1563,288h0m-1380-453h0m284-72h0m497-79h0m71,55h0m355,532h0" stroke="#2ca02c" stroke-width="23"/><path d="M9765 8089h0m-1238-59h0m355-37h0m213,2h0m994,62h0m-1309-87h0m497,94h0m71,104h0m1279-16h0m-2730,86h0m1065-227h0m356,54h0m-1381,168h0m284-63h0m71-26h0m213-75h0m142-50h0m1705,95h0m-2446,92h0m142,145h0m142-173h0m782-201h0m142,27h0m639,79h0m71,0h0m142,3h0m284,7h0m284,60h0m-2516,205h0m639-391h0m355,56h0m923,4h0m213,39h0m-1806,76h0m497-191h0m355,84h0m1066,33h0m-1310-81h0m285,94h0m355,252h0m142-268h0m-1878,124h0m284,87h0m640-293h0m426,74h0m71-19h0m497,43h0m213-20h0m-1380-41h0m497,9h0m213,9h0m213,685h0m355-659h0m355,26h0m71-10h0m-2019,65h0m639-181h0m142,46h0m284,194h0m-1238,115h0m142-145h0m1278,498h0m569-614h0m284,58h0m-2162,42h0m142-42h0m426-139h0m355,69h0m569,40h0m213-36h0m71,4h0m568,123h0m-1878-175h0m71-26h0m214,11h0m213,30h0m284,904h0m639-849h0m284,59h0m-2517,78h0m71,76h0m569-208h0m284-121h0m710,877h0m142-740h0m71,9h0m710,19h0m-2516,74h0m2557-32h0m142,19h0m-1594-181h0m710,54h0m-1309,58h0m568-147h0m213,76h0m71,23h0m72,101h0m1065-50h0m-2588,52h0m142,136h0m213-112h0m213-95h0m711-93h0m71,26h0m426,178h0m284-161h0m284,25h0m71-2h0m213,60h0m-1948-73h0m426-82h0m71,4h0m1065,77h0m142-20h0m284,116h0m142,39h0m-2232-80h0m710-95h0m497,104h0m71-62h0m-1451,120h0m426-200h0m355,9h0m426,774h0m1137-581h0m71,5h0m-2801,22h0m213,179h0m142-194h0m1279,690h0m355-851h0m-1665,170h0m71-4h0m2273-29h0m-2517,162h0m355-219h0m782-133h0m568,70h0m-1451,115h0m284-145h0m639-1h0m213,392h0m639-348h0m71-30h0m213,36h0m-2303,254h0m142-69h0m497-278h0m284-9h0m71,13h0m71-20h0m71,26h0m284,684h0m-1593-469h0m852-226h0m710,519h0m72,384h0m639-835h0m497,132h0m-2517,185h0m142-205h0m639-210h0m71,23h0m143,3h0m852,22h0m213,9h0m-2233,211h0m782-226h0m71-24h0m355,12h0m213,63h0m213,509h0m-1665-353h0m142,183h0m427-297h0m71-57h0m1501-9h0m71,19h0m284,69h0m142,27h0m-2659,90h0m71,32h0m426-150h0m71-33h0m497-169h0m569,910h0m639-771h0m213,39h0m-1878-27h0m285-72h0m781,633h0m71-484h0m355-91h0m71-44h0m142,40h0m-2091,310h0m640-394h0m142,3h0m213-12h0m426,829h0m71-413h0m355-330h0m-2090,166h0m426-62h0m1207,815h0m782-894h0m142,31h0m-2162,59h0m142-43h0m71-46h0m355-89h0m497,29h0m71,340h0m142,378h0m356-693h0m781,165h0m-2801,9h0m213,176h0m142-191h0m213-115h0m142-70h0m355-53h0m498,645h0m568-546h0m-1238-79h0m568,44h0m284,232h0m142-187h0m213-13h0m-1735,119h0m426-168h0m284-53h0m71-16h0m355,233h0m142,684h0m-1522-543h0m71,102h0m142-228h0m568-210h0m1136,86h0m-1309-31h0m71-21h0m1279,61h0m213-12h0m-1239-99h0m142,35h0m214,16h0m284,581h0m71-513h0m994,108h0m-2304-10h0m711-216h0m71,22h0m710,79h0m781,128h0m-2659,34h0m498-140h0m142-35h0m1349,6h0m142-11h0m213,53h0m-2161,258h0m1775-306h0m498,61h0m284,85h0m-2091-148h0m284-81h0m142-28h0m639,168h0m356-58h0m568,128h0m-2517,244h0m142-207h0m142-38h0m142-86h0m355-133h0m213,12h0m-1096,298h0m71,105h0m71-4h0m284-249h0m355-134h0m1492,100h0m-2304,145h0m142,182h0m1137-405h0m568,81h0m710,70h0m71,13h0m142,27h0m-2516,14h0m852-274h0m284,83h0m213,748h0m-1309-567h0m71-44h0m2202,0h0m-2162-22h0m426-151h0m426,22h0m1066,102h0m-2233,227h0m284-167h0m142-66h0m142-89h0m498-62h0m213,42h0m213,887h0m781-793h0m71,22h0m142,46h0m-2517,140h0m71,122h0m356-321h0m1136,596h0m852-570h0m-2232,126h0m426-251h0m355-64h0m497,703h0m71,161h0m71-371h0m1066-251h0m-2304-49h0m71-66h0m852-55h0m924,58h0m497,151h0m-954-150h0m781,60h0m-2233,18h0m1918-74h0m71,0h0m355,103h0m-1735-238h0m639,781h0m639-662h0m355,76h0m-2445,242h0m142-202h0m1065-165h0m142,536h0m71,358h0m710-823h0m-2374,106h0m781-208h0m213-37h0m213-11h0m213,51h0m1421,198h0m-2375-32h0m1634-73h0m284-34h0m355,100h0m-2659,55h0m1492,243h0m639-402h0m284,43h0m-1522-162h0m284-5h0m497,470h0m71-342h0m781,68h0m-2161,15h0m426-153h0m142-15h0m213-2h0m142,64h0m213,523h0m426-487h0m213,19h0m-1522-58h0m142-41h0m497,14h0m639,84h0m143-19h0m355-2h0m284,126h0m-2730,25h0m284,71h0m426-243h0m71-72h0m355,5h0m142,33h0m427,522h0m71-438h0m284-25h0m781,143h0m-2801,16h0m497-98h0m142-108h0m355-78h0m285,66h0m639,76h0m-1807,269h0m426-307h0m1106,629h0m284-603h0m568,58h0m-2374,234h0m284-239h0m1136,603h0m-1451-429h0m355-150h0m426-188h0m71-4h0m426,64h0m1279,140h0m-2446,191h0m568-380h0m142-21h0m71-7h0m142,18h0m924,141h0m213-20h0m284,47h0m142,62h0m-2659,35h0m1634,359h0m284-527h0m497,80h0m284,60h0m-2588,200h0m995-409h0m568,310h0m71-197h0m213-14h0m284-3h0m355,108h0m-1664-203h0m213-2h0m-1025,443h0m1420,449h0m214-769h0m284-7h0m71-30h0m71,4h0m-1483-83h0m-457,246h0m72-45h0m355-149h0m852,707h0m426-655h0m71,5h0m142,7h0m426,108h0m-2658-7h0m781-214h0m568,58h0m924,58h0m213,21h0m-2091,38h0m284-108h0m426-103h0m782,167h0m923,135h0m-1380-194h0m142,616h0m852-551h0m71,19h0m142,30h0m-1878-156h0m1279,75h0m-1380-29h0m284-72h0m213-22h0m994,150h0m213-14h0m-1948,49h0m426-160h0m213-22h0m142,29h0m284,83h0m284,120h0m-1522,191h0m71-166h0m568-271h0m426,86h0m71,30h0m426,64h0m924,48h0m-2091-129h0m1563,43h0m-1523-56h0m356-57h0m142,15h0m355,402h0m355-257h0m355-20h0m426,40h0m-2446,217h0m71-127h0m1350,697h0m568-865h0m142,48h0m355,44h0m-2516,201h0m284-234h0m213-81h0m568-53h0m852,84h0m640,109h0m-2446,43h0m213-139h0m852-47h0m71,2h0m213,886h0m142-819h0m569-13h0m-1594-100h0m497-32h0m640,158h0m923,60h0m-2659,171h0m71-9h0m710-392h0m640,809h0m1065-640h0m71,39h0m71,2h0m-2019-174h0m639,73h0m142,502h0m781-467h0m213,12h0m-2445,182h0m142,37h0m710-374h0m1420,128h0m-954-44h0m497,53h0m285-26h0m284,35h0m142,32h0m-2091-56h0m497-104h0m426,70h0m498,41h0m710,87h0m-1878-184h0m71-33h0m71,4h0m569,208h0m284-38h0m-1096-76h0m923,834h0m-1309-678h0m355-143h0m1207,47h0m-1309-40h0m923,1h0m355,48h0m711-6h0m71,13h0m-2517,99h0m923-257h0m569,849h0m568-747h0m284-4h0m355,98h0m-2588,179h0m568-336h0m284-31h0m285,56h0m71,77h0m213,869h0m568-897h0m497,96h0m-2375-5h0m640-196h0m568,434h0m-528-414h0m852,112h0m152,14h0m71-24h0m-2020,98h0m71,74h0m781-305h0m782,692h0m355-570h0m-1807,234h0m-173-117h0m782-222h0m639,140h0m497-14h0m-1167-127h0m142-18h0m710,820h0m-670-797h0m-883,266h0m426-168h0m1399,17h0m71,5h0m285-51h0m-1168-78h0m71-2h0m426,971h0m356-865h0m71-36h0m781,102h0m-2730,80h0m142,58h0m142-177h0m1421,9h0m71-52h0m213-17h0m284,24h0m-2162,254h0m426-316h0m995,891h0m71-372h0m568-486h0m213,32h0m71,7h0m-2233,80h0m285-144h0m71-26h0m71-8h0m497-5h0m1136,51h0m-1167-57h0m142,69h0m142,166h0m639-152h0m569,74h0m-2730,6h0m142,113h0m355-176h0m568-107h0m71,15h0m1137,86h0m-2162,136h0m71,101h0m568-315h0m640,53h0m213,734h0m497-726h0m213,12h0m355,62h0m71-12h0m-1949-147h0m498,34h0m71,35h0m568,53h0m426-38h0m497,81h0m-2374-38h0m426-119h0m142-16h0m1349,119h0m427,57h0m-2588,168h0m1846-234h0m285,11h0m497,74h0m-2375-83h0m142-57h0m568-36h0m924,95h0m639,67h0m-2233-52h0m71-44h0m213-88h0m142,29h0m213-12h0m142,52h0m356,875h0m1136-768h0m-2304-79h0m355-64h0m214-25h0m-742,210h0m711-217h0m142,40h0m1420,84h0m71,18h0m-2658,16h0m1065-148h0m284,41h0m568,102h0m498-58h0m-1878-1h0m71,1h0m1776,36h0m-1949-10h0m497-145h0m924,153h0m426-54h0m213,14h0m142,44h0m-2588,39h0m1066-178h0m142,74h0m71-17h0m781,48h0m284-27h0m213,42h0m-2517,76h0m1137-119h0m142,5h0m142,120h0m284-38h0m426-54h0m497,26h0m-1948-109h0m781,516h0m1279-360h0m-2730,19h0m142,132h0m284-241h0m1563,15h0m284-16h0m-2020,53h0m284-81h0m639,10h0m569,83h0m213-48h0m639,71h0m-2375,30h0m142-79h0m71-23h0m711-55h0m71,11h0m639,82h0m71-25h0m781,51h0m-2161-66h0m497-89h0m71,23h0m71,23h0m497,105h0m-1380-14h0m142-50h0m142-60h0m355-14h0m284,21h0m852,65h0m284-21h0m-1380-63h0m284,43h0m71,38h0m284,447h0m213-433h0m853,64h0m-2446-32h0m71-21h0m1847-26h0m-1736-33h0m213-61h0m355-2h0m285,76h0m213,681h0m142-231h0m71-380h0m355-65h0m-1736,58h0m640-145h0m213,56h0m568,64h0m639-9h0m71-11h0m-2374,231h0m426-260h0m71-28h0m213-43h0m355,18h0m284,318h0m639-240h0m427,40h0m-2588,58h0m1745,187h0m497-332h0m-2233,106h0m284,94h0m852-230h0m143,32h0m1562,130h0m-2304-99h0m1066,802h0m852-815h0m142,49h0m213,68h0m-2587,187h0m213-252h0m284-115h0m426-19h0m426,743h0m213-633h0m497-24h0m427,74h0m71,13h0m-2446-11h0m142-42h0m284-113h0m142-2h0m213-2h0m355,96h0m284,157h0m782-139h0m213,28h0m-2446,71h0m781-214h0m71,8h0m142,41h0m142,64h0m213,759h0m427-784h0m-2091,86h0m71,5h0m426-100h0m639-80h0m285,73h0m284,614h0m710-608h0m-2375,78h0m995-145h0m1278,54h0m142-8h0m-2090,74h0m568-140h0m213-5h0m142,28h0m781,93h0m-1877,224h0m71-32h0m213-196h0m1633-7h0m71-28h0m-1806,43h0m1989-62h0m71,13h0m355,107h0m-2588,171h0m355-258h0m355-72h0m1705,75h0m142,60h0m-2375-50h0m711-121h0m355,84h0m355,38h0m142,16h0m497-41h0m71,35h0m142,13h0m71-2h0m-2517,235h0m356-310h0m1278,54h0m426-49h0m-1451-43h0m710,320h0m213,72h0m142-316h0m-1522,60h0m1847-81h0m284,24h0m284,60h0m-2233-90h0m71,0h0m142-54h0m213-7h0m1350,78h0m-1807,18h0m142-40h0m1492,30h0m213-14h0m355,63h0m-2730,48h0m853-194h0m994,137h0m497-80h0m426,131h0m-1664-198h0m284,78h0m71,14h0m568,31h0m640,51h0m-2659-10h0m355,10h0m1420,72h0m71-107h0m-1096-107h0m924,854h0m923-755h0m-2446,180h0m924-291h0m497,606h0m426-536h0m142,17h0m-1736,77h0m71-54h0m143-44h0m71-33h0m142-32h0m639,87h0m994-16h0m355,115h0m-2729,7h0m71,126h0m142-77h0m1988-165h0m71,13h0m72-20h0m142,26h0m-2517,96h0m710-213h0m1065,128h0m-954-156h0m497,95h0m71,15h0m1137,58h0m-670-30h0m213-44h0m426,34h0m284,98h0m-2446-31h0m71-73h0m640-116h0m71,18h0m213,71h0m-528-81h0m497,49h0m497,46h0m568-12h0m-1948,40h0m284-125h0m142,7h0m497,64h0m-1096,201h0m1532-176h0m71,32h0m781,47h0m142-3h0m-2659,170h0m284-247h0m71,4h0m427-111h0m284,16h0m1562,177h0m-2232-103h0m213-64h0m1349,68h0m284,2h0m-2019,78h0m426-178h0m1279,120h0m710,98h0m-2162-165h0m-234,128h0m355-150h0m710,79h0m355,4h0m-1451,96h0m1633-71h0m-1948,108h0m355-46h0m355-199h0m924,747h0m426-610h0m-2020,139h0m1350-175h0m426,31h0m355-6h0m-2091,201h0m640-286h0m710,58h0m355,73h0m923,75h0m-2659,74h0m214-55h0m568-212h0m71-59h0m142,13h0m1065,119h0m569,94h0m-2446,104h0m2486-106h0m-1168,662h0m356-736h0m213-10h0m-1736,58h0m142-49h0m355-116h0m427,53h0m-386-71h0m426,80h0m355,228h0m710-153h0m-2161,130h0m852-262h0m71,21h0m1492,169h0m-1381-148h0m213,498h0m71,397h0m142-707h0m498-140h0m284,62h0m284,103h0m-2304-129h0m284-99h0m497-8h0m498,115h0m-1665,195h0m497-227h0m213-121h0m426,57h0m1137,112h0m142,48h0m-2375,204h0m355-255h0m427-188h0m284,77h0m1349,132h0m-2588,73h0m142,133h0m782-378h0m1207,105h0m213-9h0m-2090,258h0m639-352h0m142-34h0m71,7h0m213,60h0m710,58h0m-1664,115h0m963-179h0m72-6h0m142,443h0m426-354h0m213-18h0m497,89h0m-2588,76h0m1989-169h0m284,26h0m142,34h0m71,0h0m-2588,63h0m71,8h0m711-237h0m142-27h0m639,555h0m71,406h0m-914-891h0m781,65h0m284,19h0m853,58h0m-1594-212h0m569,838h0m568-697h0m71-27h0m426,95h0m-2020-108h0m782-42h0m284,475h0m71-397h0m142,4h0m639,33h0m142,54h0m-1096,695h0m71-215h0m710-599h0m-2232,303h0m355-273h0m426-162h0m710,932h0m71-453h0m213-327h0m711,68h0m-2304,11h0m355-133h0m71-23h0m923,629h0m356-574h0m71,18h0m71-1h0m617,127h0m-2729,2h0m71,141h0m568-312h0m923,852h0m213-846h0m426,23h0m-2303,146h0m1065-282h0m284,82h0m-630,19h0m924,883h0m213-837h0m-1523,160h0m356-202h0m71-47h0m568-20h0m497,80h0m426,15h0m355,64h0m-599-46h0m497,21h0m143,72h0m-1878-168h0m426-39h0m142,22h0m497,73h0m782,97h0m-1949-115h0m1279,40h0m355-5h0m355,89h0m-2304,34h0m71-32h0m284-148h0m498-46h0m426,836h0m71-111h0m-599-708h0m142-25h0m426,848h0m284-751h0m71,17h0m355,7h0m71-1h0m284,93h0m-2374,11h0m213-96h0m355-126h0m497,79h0m142,418h0m497-397h0m355,10h0m356,145h0m-2375-19h0m284-172h0m1989,136h0m-1949-138h0m497-59h0m924,119h0m355,23h0m213,75h0m-1451-175h0m142,21h0m852,71h0m-1665-18h0m71-32h0m72-11h0m497-76h0m923,83h0m142,58h0m-1096-138h0m40,1h0m1563,231h0m-2801,4h0m213,199h0m355-305h0m71-13h0m710-66h0m1137,67h0m-2304,260h0m1705-268h0m-1736,290h0m284-235h0m142-22h0m214-113h0m355-48h0m142,52h0m426,604h0m568-556h0m142,26h0m-2304,214h0m640-284h0m142-28h0m994,93h0m639,52h0m-2019,4h0m781-134h0m284,546h0m782-447h0m142,18h0m-2233,257h0m355-282h0m639-106h0m355,804h0m569-757h0m142,31h0m213,80h0m213,41h0m-2730,51h0m426-73h0m284-130h0m782,141h0m71,454h0m497-543h0m639,94h0m-2304,4h0m427-192h0m781,875h0m71-192h0m852-568h0m-2233,176h0m143-133h0m284-100h0m497-46h0m213,57h0m1350,140h0m-2517,135h0m71-140h0m71-33h0m213-88h0m852-30h0m284,93h0m284-56h0m71-31h0m356,82h0m142,3h0m-1665-170h0m426,30h0m853,78h0m213,14h0m-1097-62h0m214,532h0m639-497h0m284,57h0m142,17h0m-2304,119h0m1066-202h0m923,30h0m-1877,108h0m213-94h0m568-120h0m639,110h0m-1806,127h0m284-15h0m1633-135h0m-1664,197h0m71-74h0m142-30h0m639-150h0m71-38h0m142,35h0m497,48h0m498,19h0m-2020,148h0m142-74h0m355-135h0m71-49h0m1421,107h0m-1523-77h0m214-18h0m284,43h0m71,27h0m568,27h0m213-2h0m71,20h0m71-39h0m284,91h0m142,35h0m-1025,412h0m142-509h0m497-16h0m-1948,123h0m71-33h0m142-49h0m355-127h0m781,375h0m284-285h0m782,151h0m-2588,193h0m497-364h0m213-77h0m994,91h0m640,71h0m71,13h0m-2446,225h0m213-171h0m213-92h0m924,292h0m994-262h0m-2446,109h0m284-66h0m426-190h0m853,850h0m852-722h0m213,85h0m-2588,104h0m1421,160h0m71,377h0m142-622h0m80-159h0m285-9h0m-1665,105h0m710-198h0m284,79h0m782,45h0m-1239-116h0m72-39h0m284,91h0m426,33h0m852,107h0m-1664-180h0m-315,90h0m71-64h0m426-66h0m426,695h0m-954-543h0m1349-29h0m640,67h0m213,42h0m-2162-116h0m568-104h0m142,75h0m142,185h0m356-178h0m284,15h0m-2091,129h0m852-216h0m71-29h0m143,21h0m213,35h0m568,75h0m426-27h0m-2091,307h0m569-350h0m71-8h0m142-54h0m852,100h0m-883-69h0m355,30h0m213,549h0m355-452h0m639,9h0m-1735-120h0m142-34h0m142,2h0m1137,83h0m355,52h0m-2375,283h0m497-358h0m71-35h0m71,17h0m355,14h0m71-13h0m853,7h0m-1523,58h0m71-46h0m853,399h0m71,396h0m213-768h0m923,107h0m-2659,60h0m71,102h0m355-223h0m71-34h0m285-96h0m994,105h0m355-8h0m213-17h0m-2375,148h0m142,184h0m285-266h0m781-98h0m426,604h0m71-456h0m426-107h0m640,108h0m-2659,169h0m568-320h0m1492,34h0m71-22h0m142,32h0m-2375,134h0m710-209h0m71-3h0m213,11h0m142-19h0m284,79h0m71,492h0m1279-387h0m-2091-136h0m995,285h0m568-287h0m355,94h0m-2659,90h0m284,80h0m142-187h0m71,10h0m71-46h0m142-39h0m285-89h0m1349,137h0m71-21h0m-1522-66h0m426,16h0m639,40h0m71-1h0m-812-29h0m142,21h0m284,839h0m640-842h0m355,105h0m-1310-127h0m71,17h0m355,157h0m72-147h0m284,19h0m426,26h0m142,54h0m-2588,55h0m355-59h0m568-195h0m995,83h0m213-5h0m-2020,366h0m853-421h0m142,32h0m71,4h0m284,494h0m355-426h0m284-25h0m-1735,74h0m213-84h0m213-34h0m781,805h0m426-753h0m355,11h0m-2303,214h0m71,76h0m994-353h0m781,45h0m142-31h0m214,9h0m284,75h0m-2517,139h0m568-209h0m639-34h0m284,845h0m71-113h0m427-671h0m-244,23h0m71-34h0m71-16h0m639,89h0m-2446,202h0m1350,123h0m426-408h0m71,11h0m355,11h0m213,47h0m-1593-131h0m142,0h0m213,44h0m497,47h0m568-29h0m-2445,117h0m71,12h0m1136-176h0m284,92h0m213,540h0m497-589h0m-2019,265h0m213-156h0m710-158h0m-954,318h0m497-260h0m142-61h0m1634,71h0m-2081,64h0m284-83h0m284-52h0m639,478h0m497-408h0m-1096-66h0m639,721h0m498-698h0m426,78h0m142,41h0m142,22h0m-2233-100h0m355-77h0m1847,159h0m-2304-15h0m71-40h0m71-27h0m498-48h0m355,49h0m852,2h0m-2020,203h0m853-256h0m1491,108h0m-2161,12h0m71-25h0m568-92h0m284,57h0m994-8h0m143,22h0m-2375,252h0m213-174h0m1278,814h0m-1522-688h0m213-89h0m426-180h0m355,1h0m498,870h0m568-783h0m497,44h0m-2517,168h0m497-220h0m284-67h0m853,105h0m355-63h0m426,46h0m142,36h0m-1238-40h0m71,409h0m40,234h0m71,128h0m71-424h0m355-387h0m355,57h0m-1877-48h0m284-39h0m142-26h0m71,18h0m1492,99h0m-2020-20h0m852-38h0m356,339h0m142-313h0m71-12h0m497-3h0m71,14h0m142,49h0m142,46h0m-1878-186h0m285,42h0m781,59h0m-1309-42h0m71-34h0m355-10h0m426,431h0m71,499h0m71-188h0m71-449h0m-1522,51h0m213-214h0m1065,86h0m994-123h0m71-7h0m-2232,64h0m213-72h0m355-92h0m71-16h0m71,10h0m568,897h0m426-798h0m498-8h0m213,59h0m-1949-130h0m639,80h0m924-47h0m71,21h0m-1736-26h0m71-20h0m569,39h0m71,13h0m426,26h0m-1452,28h0m284-110h0m640,35h0m1065-6h0m142,20h0m-2161,58h0m497-137h0m142-6h0m497,150h0m355-22h0m71-10h0m-1522,2h0m142,3h0m568-110h0m71,9h0m1279,43h0m284,72h0m-2304-22h0m497-110h0m568,204h0m-1451-50h0m426-31h0m71-10h0m995,362h0m71,404h0m213-779h0m568-40h0m355,92h0m71,11h0m-2517,69h0m142-128h0m213-73h0m498-48h0m994,59h0m568,91h0m71,28h0m-2730,3h0m924-205h0m142,14h0m71,23h0m710,71h0m426-32h0m355,105h0m-2516,188h0m213-169h0m852-125h0m639,51h0m213-19h0m427,18h0m-2517,65h0m497-47h0m497-145h0m1563,104h0m71,6h0m142,65h0m-2588,195h0m537-325h0m924,932h0m71-408h0m923-423h0m142,25h0m-1401-83h0m142,276h0m142,503h0m142-736h0m994,32h0m-2588,236h0m142-227h0m924-120h0m426,629h0m142-568h0m142,14h0m142-37h0m213-6h0m426,110h0m-2730-1h0m142,175h0m569-298h0m1207,38h0m-1948,90h0m142,112h0m142-10h0m9-40h0m284-178h0m142-21h0m71-52h0m853,943h0m71-395h0m852-440h0m-2162,70h0m1492-44h0m355-31h0m426,71h0m-2090-115h0m1065,835h0m284-774h0m142-14h0m71-11h0m568,46h0m-2445,127h0m568-280h0m213,12h0m1705,157h0m-2446,51h0m284-136h0m-386,296h0m355-282h0m710-66h0m356,984h0m710-932h0m71,39h0m426,61h0m-2020-171h0m142,3h0m72-4h0m497,484h0m142,299h0m497-723h0m-2091,129h0m498-103h0m213-94h0m213-6h0m213,71h0m284,194h0m497-138h0m213-48h0m71,52h0m426,24h0m-1522-134h0m568,253h0m782-141h0m-2375,219h0m355-251h0m71-12h0m568-57h0m1563,132h0m-2446,107h0m71-104h0m284-104h0m639-51h0m285,527h0m355-409h0m426-72h0m426,91h0m-1593-150h0m284,88h0m568-22h0m71,7h0m71,19h0m-2162,80h0m355-48h0m213-57h0m72-57h0m142-32h0m142-52h0m923,168h0m213-32h0m-1877,271h0m781-420h0m142,43h0m213,32h0m284,858h0m497-779h0m-1948,192h0m71,48h0m923-393h0m71,25h0m639,121h0m-1451,25h0m426-177h0m71,19h0m71-19h0m71,9h0m71,4h0m71,26h0m569,270h0m142-178h0m71,19h0m213-46h0m426,48h0m-2091-23h0m142-54h0m284-70h0m356,77h0m142,20h0m781,27h0m-1949,212h0m427-285h0m142-39h0m142-23h0m71,25h0m71,36h0m781,109h0m71-9h0m71,28h0m213-42h0m355,58h0m-1664-173h0m426,110h0m-954,79h0m142-100h0m213-35h0m781,622h0m213-488h0m569-30h0m-1523-126h0m213-1h0m284,53h0m569,71h0m142,31h0m71-36h0m71,12h0m213,0h0m-1949,39h0m1492-33h0m852,74h0m-1877-222h0m142,51h0m142-19h0m284,101h0m71,377h0m710-346h0m355,16h0m142,23h0m-2303-36h0m710-118h0m355,208h0m1279-18h0m-2588,184h0m284-243h0m852-55h0m71-1h0m71,17h0m497,0h0m640,62h0m-2304,60h0m426-224h0m852,830h0m71,53h0m143-744h0m639-9h0m284,65h0m71,18h0m-2801-38h0" stroke="#d62728" stroke-width="23"/><path d="M8695 7887h0m711,550h0m142,31h0m142-624h0m355-124h0m71-10h0m71,3h0m-457,133h0m710-68h0m-2446,264h0m71,88h0m71-99h0m640-111h0m213-20h0m284,68h0m213,810h0m-1593-889h0m213,198h0m994-183h0m355,875h0m782-1076h0m-2304,255h0m2060-233h0m355,29h0m-2446,177h0m639-13h0m497,35h0m71,22h0m569-74h0m142-85h0m284-62h0m71-15h0m-2233,243h0m497-33h0m640-20h0m71,68h0m284,672h0m213-786h0m142-35h0m426-79h0m284,56h0m-2588,122h0m498,40h0m852-10h0m142,501h0m213-522h0m213-150h0m71-32h0m710,77h0m-2729,55h0m213,213h0m142-142h0m639-39h0m426,34h0m426-106h0m71-21h0m-1411,126h0m426-17h0m711,706h0m142-763h0m142-39h0m71-55h0m284-28h0m71-4h0m426,119h0m-812-55h0m142-54h0m-1451,203h0m142-54h0m710,477h0m284-512h0m781-83h0m213,108h0m-2729,43h0m355,50h0m923-43h0m923-229h0m285,63h0m71,15h0m-2659,100h0m1065,31h0m142,20h0m71,5h0m497,31h0m285-197h0m-1594,202h0m781-37h0m71,7h0m71-2h0m356,256h0m639-483h0m-2375,181h0m213,260h0m213-168h0m71-5h0m1350-124h0m71-18h0m-1878,55h0m711,58h0m213-36h0m284,61h0m426,678h0m355-871h0m-1948,156h0m71,121h0m1207-106h0m852-232h0m142-2h0m285,38h0m142,69h0m-2588,307h0m213-146h0m284-26h0m213-16h0m1634-188h0m-2233,287h0m142-55h0m71-31h0m142-22h0m1563-230h0m142-16h0m142,45h0m-2517,155h0m1350,60h0m71,3h0m568-141h0m-1949,96h0m426,67h0m711-51h0m142,18h0m142-11h0m213,766h0m213-830h0m-1735,192h0m710-132h0m142,1h0m781-10h0m1066-27h0m-2801,18h0m213,173h0m710-153h0m-883,7h0m284,53h0m994-53h0m569-97h0m71-69h0m639,21h0m71,2h0m-2162,169h0m782-16h0m71,5h0m1278-166h0m-2659,92h0m355,62h0m142,29h0m2131-191h0m-2374,287h0m639-138h0m142,8h0m213,13h0m142-11h0m71,19h0m213,583h0m284-724h0m-1806,268h0m568-178h0m426,26h0m71-11h0m142,35h0m426-100h0m142-57h0m143-57h0m71-21h0m284,22h0m-2233,422h0m71-123h0m71-102h0m71,37h0m71-25h0m213-29h0m142,0h0m355-6h0m213,39h0m285,499h0m568-726h0m142-18h0m71,24h0m355,117h0m-2375,123h0m782-38h0m213,22h0m71,323h0m1136-500h0m-2588,124h0m426,57h0m285-39h0m71,37h0m284-34h0m710-70h0m-1167,97h0m213-32h0m284,29h0m1492-174h0m-2588,134h0m71,163h0m1562,281h0m284-559h0m-1877,230h0m426-95h0m639,36h0m1066-269h0m-1807,281h0m568-72h0m1350-213h0m-2091,366h0m284-97h0m214-6h0m1065-92h0m213-109h0m213-35h0m71-42h0m-1948,291h0m213-25h0m923,256h0m213-23h0m142-347h0m355-125h0m71-27h0m-2019,352h0m284-49h0m355-63h0m213,13h0m497,935h0m711-1192h0m213,48h0m-2517,158h0m1562,857h0m214-867h0m71-40h0m355-137h0m-2091,376h0m71,62h0m1208-181h0m355-82h0m71-50h0m142-32h0m355-96h0m284,76h0m142,62h0m-2375,132h0m427-32h0m213,13h0m142,21h0m639-82h0m639-160h0m355,134h0m-2801,23h0m213,200h0m1918-353h0m142-50h0m142,48h0m-2445,162h0m568,73h0m71,3h0m355-24h0m710,582h0m355-773h0m569-19h0m213,145h0m-2659,222h0m710-188h0m497,33h0m284,773h0m498-968h0m213-64h0m213,73h0m-2162,245h0m426-68h0m1826-150h0m-1381,151h0m284,648h0m71,196h0m782-1073h0m-1665,225h0m497,19h0m853-239h0m355,16h0m-1807,210h0m213-2h0m356,29h0m497,302h0m142-444h0m71-14h0m284-99h0m71-33h0m71,8h0m71,11h0m71,25h0m-1096,245h0m142,529h0m213-560h0m355-184h0m-2090,134h0m71,63h0m71,140h0m568-147h0m284-28h0m639,748h0m426-909h0m284-18h0m285,33h0m-1665,182h0m213-9h0m568-60h0m214-102h0m71-5h0m142-74h0m213,18h0m142,22h0m-2162,224h0m923,3h0m71,1h0m853-275h0m497,130h0m71,29h0m-2446,107h0m568-30h0m143,8h0m426,166h0m71,479h0m710-866h0m-2233,168h0m711,56h0m71,18h0m355-15h0m213,30h0m497-141h0m71-46h0m142-47h0m355-25h0m-1238,253h0m781-172h0m-1806,342h0m497-207h0m213,2h0m355,40h0m426,511h0m427-752h0m-1168,205h0m355,45h0m71-26h0m71,21h0m214,701h0m71-507h0m142-325h0m142-55h0m639-37h0m-2517,273h0m355-61h0m213-7h0m284-19h0m711,505h0m71-549h0m426-163h0m142-48h0m71,6h0m355,104h0m-2517,272h0m782-156h0m355,48h0m1278-174h0m-2161,133h0m213,21h0m1775-229h0m-2374,291h0m213-59h0m142-1h0m71-4h0m71-18h0m213,8h0m852,664h0m356-809h0m-2020,81h0m568,78h0m284-29h0m213,40h0m498,702h0m355-833h0m284-95h0m142-39h0m71,35h0m253,92h0m71,2h0m-2588,249h0m853-164h0m639,790h0m71-463h0m71-339h0m497-179h0m142-19h0m71,23h0m71,46h0m213,70h0m-2730,59h0m1989-101h0m71-60h0m569,67h0m-2375,172h0m284-35h0m781,35h0m71-9h0m568-158h0m72-52h0m-1381,194h0m639,11h0m71,35h0m782-244h0m-1025,213h0m355,416h0m71,471h0m-1594-946h0m284,121h0m498-99h0m213-7h0m355,61h0m142,198h0m142,630h0m781-1091h0m284,100h0m-2161,129h0m568,10h0m71,13h0m426,846h0m284-923h0m-1735,173h0m71,29h0m497-178h0m213,2h0m710,833h0m426-960h0m72-22h0m142-47h0m71,14h0m355,89h0m-2730,58h0m710,31h0m71,32h0m142-21h0m426,56h0m-1238-24h0m284-13h0m213-1h0m1563-157h0m71-49h0m284,12h0m-2446,151h0m284,64h0m924,0h0m71-8h0m142,138h0m639-309h0m142-55h0m-2091,362h0m143-123h0m142,6h0m1278,125h0m142-218h0m568-134h0m-2374,201h0m213,67h0m142-83h0m355-14h0m71-12h0m71-8h0m71,17h0m213,64h0m426,825h0m142-876h0m853-136h0m-2375,271h0m1847-291h0m426-50h0m-2233,260h0m710-79h0m213,55h0m711-105h0m71-19h0m-2020,46h0m213,265h0m142-222h0m498-3h0m284,31h0m284,26h0m355-12h0m71-93h0m497-127h0m284,25h0m142,53h0m-2232,95h0m426-12h0m994-42h0m213-107h0m71,4h0m71-30h0m-367,110h0m355-112h0m142,15h0m213,15h0m-2587,156h0m213,140h0m497-131h0m426,16h0m497,588h0m640-783h0m71-3h0m355,79h0m-2233,117h0m355-30h0m213-4h0m284,78h0m71-24h0m284,288h0m143-349h0m284-95h0m71-22h0m355,22h0m-2020,112h0m355-34h0m284,70h0m427,954h0m852-1164h0m71,54h0m-2517,107h0m426,24h0m213-13h0m569,64h0m497,183h0m639-412h0m71,22h0m142-6h0m-2517,141h0m924,18h0m852-19h0m497-152h0m71-23h0m-2090,163h0m142,67h0m213,6h0m142-53h0m-528,71h0m142-37h0m355-59h0m639,102h0m711-218h0m-2020,273h0m142-18h0m213-80h0m213-41h0m568,60h0m640-89h0m284-68h0m142-27h0m213-23h0m213,66h0m-2091,77h0m71,12h0m924,830h0m355-903h0m71-59h0m71,5h0m-2020,248h0m427-130h0m142-14h0m781,106h0m142,924h0m71-431h0m852-714h0m284,111h0m-2729,64h0m142,107h0m1136-109h0m213,808h0m142-572h0m142-317h0m-1238,36h0m1350-71h0m355-65h0m213,24h0m-2517,105h0m71,84h0m355-55h0m710,31h0m142,12h0m71,10h0m853-208h0m213,8h0m-2162,211h0m355-107h0m71,4h0m71,54h0m71-49h0m711,727h0m568-835h0m497,24h0m-2517,190h0m426-77h0m214-24h0m142,4h0m994-7h0m142-81h0m568-25h0m142,45h0m-2730,59h0m71,39h0m72,129h0m355-145h0m284,5h0m355,33h0m355,234h0m-1167-260h0m852,16h0m71,26h0m710-109h0m356-122h0m284,72h0m-2020,97h0m426-13h0m71,29h0m355,51h0m143,772h0m923-993h0m-1807,125h0m71-11h0m71,28h0m213-2h0m427,161h0m142,798h0m1065-1040h0m-2517,281h0m569-187h0m142-28h0m426,57h0m923-122h0m71-58h0m142,12h0m-1664,142h0m71-24h0m-883,21h0m213,167h0m284-143h0m1136,932h0m142-820h0m142-134h0m711-61h0m-2446,229h0m568-129h0m568,24h0m356,801h0m497-960h0m-1949,266h0m71-24h0m1279,437h0m71,389h0m781-1076h0m355,35h0m-1806,58h0m1207-78h0m213-54h0m213,71h0m213,50h0m-2161,30h0m1349-47h0m142-48h0m-1096,88h0m923-4h0m853-5h0m-2446,41h0m284-28h0m923,731h0m71,216h0m569-1033h0m-1665,114h0m284-16h0m640,85h0m426-71h0m-1665,177h0m355-159h0m285-29h0m426,82h0m142-5h0m568-143h0m355-53h0m-2091,274h0m356-137h0m426-14h0m71,20h0m497,962h0m142-875h0m284-199h0m497-14h0m-2516,102h0m355,50h0m923-3h0m710-114h0m214-48h0m71-9h0m213,14h0m-1949,104h0m355-9h0m1776-58h0m-2446,234h0m426-144h0m142-18h0m-61-11h0m71,1h0m142,7h0m355,74h0m1349-115h0m72-2h0m-2517,228h0m71-102h0m142-32h0m568-30h0m213,24h0m284,230h0m497-324h0m142-41h0m-1238,83h0m213,20h0m355,75h0m142,845h0m1066-986h0m-2659,49h0m142,205h0m1705-188h0m142-74h0m426-57h0m-2304,234h0m71,111h0m71-101h0m497-121h0m71-21h0m214-10h0m426,114h0m852-226h0m426,116h0m-2588,223h0m142-145h0m356-32h0m781,35h0m142,814h0m639-965h0m-1593,96h0m142-14h0m213,34h0m781,17h0m71-7h0m284-119h0m142-74h0m72,46h0m213,6h0m213,73h0m-2588,238h0m142-156h0m142-22h0m284-55h0m497,92h0m142,45h0m284,645h0m285-763h0m568-72h0m-2517,64h0m923,11h0m498,83h0m71,182h0m852-370h0m-2375,100h0m1279,66h0m1562-96h0m-2232,83h0m781,47h0m639-129h0m355-65h0m-2303,114h0m1065,36h0m142,16h0m781-110h0m356-78h0m284,78h0m-2233,95h0m639-70h0m-1096,19h0m71,25h0m639-35h0m1847-74h0m71-6h0m-2446,279h0m924-179h0m1207-118h0m-1593,100h0m426,51h0m213,41h0m213,684h0m497-808h0m497-49h0m71-8h0m-2445,314h0m568-241h0m426,90h0m1207-187h0m-2232,326h0m426-180h0m1847-133h0m-1452,112h0m284,77h0m782-132h0m284-72h0m142,20h0m-1878,126h0m1066,844h0m639-946h0m71-40h0m71,4h0m213,45h0m-2375,180h0m640-100h0m355,67h0m355,874h0m497-1020h0m-1593,121h0m497-39h0m71,51h0m213,31h0m1136-177h0m72,10h0m71-9h0m142,53h0m-1665,60h0m71,12h0m568,495h0m569-656h0m284,19h0m-1523,164h0m711,130h0m284-198h0m71-96h0m-1523,107h0m569,42h0m355,224h0m426-282h0m355-109h0m284,42h0m-2233,136h0m356-25h0m71-21h0m142,5h0m142,1h0m284,77h0m355,581h0m213-664h0m142-50h0m497-61h0m213,70h0m71,0h0m-2801,37h0m71,65h0m924-53h0m71,2h0m71,39h0m1065-141h0m498,47h0m-1665,76h0m355,50h0m426-34h0m498-157h0m142-14h0m-2091,163h0m284-23h0m142-15h0m284,23h0m711,7h0m568-168h0m426,114h0m-2162,33h0m142,2h0m213,21h0m214,64h0m852-160h0m213-31h0m497,63h0m-2446,64h0m142,3h0m1847-134h0m355,8h0m-2659,107h0m142,148h0m214-90h0m426-46h0m71-20h0m213,11h0m71,13h0m568,467h0m213-498h0m568-108h0m-2445,119h0m284,17h0m1136,66h0m568-141h0m285-79h0m-2162,303h0m71,14h0m355-164h0m142,4h0m1776-145h0m284,85h0m-2801,22h0m71,28h0m213,90h0m995-66h0m71,34h0m284,934h0m213-1016h0m142-5h0m71-50h0m426-59h0m-306,26h0m498-18h0m-2659,80h0m71,52h0m1207,50h0m853-154h0m71-13h0m568,30h0m-1949,99h0m924,142h0m639-317h0m-2233,324h0m71,17h0m213-176h0m213-14h0m142,6h0m285-3h0m852-12h0m426-157h0m71,23h0m-1948,149h0m213-24h0m284,51h0m1420-207h0m71,50h0m142,6h0m-2232,147h0m568-11h0m1065-84h0m142-19h0m-2161,71h0m284,113h0m923-58h0m355,629h0m427-722h0m-955,66h0m427,63h0m284,163h0m71-217h0m-1665,109h0m142-52h0m1208,129h0m426-230h0m568-124h0m-2517,102h0m213,225h0m498-152h0m142-23h0m1775-107h0m-2303,181h0m284-47h0m213-40h0m710,301h0m-1025-278h0m284,21h0m213-25h0m1066-99h0m71-34h0m71-7h0m213-60h0m142,49h0m-2517,106h0m568,54h0m924,359h0m568-509h0m-1239,143h0m782,1011h0m71-443h0m-1452-428h0m1563-159h0m781-133h0m142,62h0m-2232,135h0m213-20h0m213-7h0m1349-199h0m71-1h0m72,9h0m213,61h0m-2091,146h0m355-17h0m852,179h0m853-324h0m-2588,112h0m1989-56h0m497-117h0m-2091,246h0m497-67h0m285,30h0m355,525h0m710-713h0m142-3h0m-2162,337h0m284-141h0m569,10h0m213,29h0m71,10h0m284,788h0m355-907h0m426-129h0m71,30h0m-1522,158h0m1136-147h0m-1451,156h0m568,28h0m426,697h0m427-881h0m-1878,326h0m71-84h0m213-90h0m355-13h0m213,40h0m640,432h0m71-490h0m284-91h0m-1736,146h0m213-13h0m142-6h0m498,11h0m568,155h0m71-199h0m71-44h0m213-75h0m710,65h0m-2801,32h0m71,55h0m71,122h0m71,39h0m71-100h0m284-70h0m214-3h0m142,14h0m284,17h0m213,22h0m355-57h0m568-176h0m213,46h0m-2517,99h0m427,52h0m142,11h0m994,861h0m568-1063h0m71,11h0m-1664,165h0m1492-126h0m284-82h0m426,117h0m-1381,171h0m214,877h0m142-914h0m213-149h0m852,50h0m-2446,103h0m142-24h0m284-15h0m711,344h0m994-527h0m213,58h0m-1806,114h0m426,64h0m213,562h0m1207-684h0m-2587,233h0m213-163h0m71,10h0m2131-168h0m-2375,335h0m71-91h0m1207,117h0m711-385h0m213-9h0m284,102h0m-2588,165h0m568-77h0m213-2h0m142,36h0m142,30h0m1208-275h0m426,137h0m-2304,105h0m426-7h0m498,25h0m71,227h0m213,67h0m355-491h0m355-68h0m-2375,161h0m426,102h0m213-10h0m285-11h0m497,53h0m923-268h0m142,3h0m-2446,205h0m356,15h0m639-27h0m1207-167h0m427,51h0m-2091,125h0m1420-141h0m71-21h0m214-49h0m142,10h0m-1878,197h0m142,18h0m142-25h0m142,7h0m71,12h0m355,66h0m285,140h0m781-399h0m213,66h0m-2517,309h0m142-135h0m213-53h0m426,13h0m142,4h0m152,34h0m-883-24h0m497-26h0m284,33h0m142-11h0m852-227h0m-2019,367h0m71-28h0m142-122h0m639,4h0m355,25h0m355,251h0m-883-311h0m426,50h0m-336-17h0m355,11h0m71,10h0m284,803h0m356-996h0m355-59h0m-2375,120h0m1421,83h0m710-179h0m142-31h0m-457,161h0m355-148h0m-2091,163h0m427,46h0m497,15h0m355-18h0m284,935h0m142-967h0m426-198h0m71-2h0m71-27h0m213,44h0m71,24h0m142,72h0m-2232,142h0m2131-216h0m-1736,164h0m639,611h0m427-775h0m710,56h0m-2588,196h0m781-85h0m71,18h0m1137-214h0m355-22h0m71-1h0m142,65h0m-2375,242h0m142-79h0m711,45h0m568,344h0m213-517h0m213-80h0m284-31h0m142,53h0m-1664,206h0m71-28h0m142,34h0m142,7h0m355,833h0m568-1088h0m284,19h0m284,73h0m-1664,114h0m142,46h0m71-6h0m426,310h0m71-403h0m782-138h0m-2588,148h0m426,64h0m710-4h0m71,27h0m142-22h0m71,7h0m71,1h0m142,906h0m995-1089h0m-1665,163h0m426,17h0m569-134h0m-1452,135h0m355-19h0m1421-236h0m213,9h0m-2446,178h0m142,216h0m142-121h0m214-8h0m213-17h0m284-2h0m1207-270h0m-2233,191h0m285,116h0m1065-77h0m639-125h0m71-59h0m355-58h0m-2445,174h0m1633,972h0m498-1129h0m142,16h0m71-1h0m-1310,216h0m213,5h0m711-129h0m142-33h0m426-38h0m-2375,248h0m71,116h0m568-157h0m284,0h0m72-35h0m781-86h0m142-62h0m426-51h0m284,118h0m-2304,149h0m285-55h0m710,34h0m142,733h0m355-875h0m71-50h0m213-50h0m-2162,195h0m214,122h0m71-62h0m142-8h0m994,34h0m923-296h0m71-10h0m285,127h0m-2446,155h0m994-12h0m497-96h0m71-15h0m924,16h0m-883-44h0m142-50h0m213-61h0m-1807,266h0m71-23h0m426-2h0m498,11h0m142,824h0m497-1022h0m71-32h0m-1665,252h0m711-34h0m142,12h0m710-176h0m497-9h0m142,37h0m-2730,63h0m71,54h0m214,156h0m852-118h0m639,40h0m853-243h0m142,82h0m71,24h0m-2517,149h0m1065-44h0m710-210h0m-1167,211h0m284-37h0m1066-182h0m142-72h0m71,57h0m-945,610h0m284-471h0m71-5h0m284-110h0m355,19h0m214,74h0m-2659,128h0m71,102h0m568-129h0m639,21h0m924-241h0m497,148h0m-1452,74h0m142,3h0m356-66h0m71-29h0m213-79h0m142-61h0m213,46h0m71-5h0m71,30h0m71,45h0m-2588,170h0m284-21h0m213-12h0m71-11h0m640,13h0m355,771h0m71-485h0m284-435h0m497-37h0m142,29h0m142,70h0m-2801,34h0m284,161h0m924-128h0m142,48h0m426-23h0m639-198h0m-2304,229h0m285-18h0m994-16h0m71,4h0m1207-146h0m-2303,173h0m355-22h0m426-12h0m142-10h0m923-218h0m640,167h0m-1452,72h0m1208-170h0m-1665,142h0m498,5h0m355-61h0m568-161h0m-1665,243h0m1918-140h0m-1948,145h0m923,661h0m213-710h0m142-94h0m-1877,115h0m142,223h0m355-180h0m852-13h0m284,586h0m1137-652h0m-2304,56h0m284-14h0m213,1h0m924-144h0m-386,751h0m71,290h0m1065-1002h0m142,66h0m-2801,35h0m142,197h0m711-217h0m1136-103h0m213-76h0m-1735,261h0m1633-234h0m71-7h0m142-6h0m71,10h0m-2303,279h0m1278-33h0m142,379h0m853-639h0m-1736,246h0m568-11h0m142,2h0m284,795h0m285-918h0m710-19h0m-2446,327h0m71-86h0m142-104h0m213,27h0m497-29h0m1492-186h0m142,86h0m-1167,871h0m142-499h0m710-477h0m-2375,176h0m71,123h0m640-96h0m355-4h0m923-175h0m-883,184h0m639-58h0m213-88h0m498-64h0m-1878,205h0m142-17h0m710,125h0m213,327h0m782-609h0m-2162,224h0m284-41h0m142,0h0m426-16h0m498,665h0m639-880h0m213,43h0m-2517,129h0m781,78h0m214-68h0m71,40h0m71,4h0m426,641h0m710-846h0m213,25h0m-2304,382h0m1137-204h0m355,616h0m213-713h0m-1878,49h0m498,73h0m71-21h0m213-7h0m284-11h0m213,30h0m213,261h0m852-474h0m-1948,253h0m142-36h0m71-16h0m355-49h0m852-36h0m-30,37h0m-1097,20h0m71-20h0m142-7h0m427,55h0m284,880h0m284-986h0m355-101h0m-2091,395h0m782-221h0m142,10h0m1491-127h0m142,76h0m-1948,49h0m213-10h0m852-67h0m639-56h0m-2019,179h0m71-23h0m1065,890h0m71-293h0m71-545h0m71-95h0m569-162h0m-1949,210h0m497-41h0m568,265h0m214,102h0m71-395h0m284-120h0m426,12h0m-2304,375h0m497-208h0m355-42h0m214,37h0m1287-130h0m143,50h0m142,26h0m-1097,248h0m213-269h0m142-69h0m-30,10h0m71-29h0m284-48h0m-2304,317h0m213-94h0m1918-184h0m355,40h0m-2588,55h0m284,134h0m71-52h0m356-28h0m355-6h0m142,22h0m142,16h0m1349-95h0m-1451,51h0m71,29h0m71,1h0m355,59h0m924-177h0m-2091,104h0m852,40h0m213,722h0m-1451-562h0m71-109h0m426-117h0m71,5h0m497,15h0m284,606h0m214-589h0m639-173h0m355,76h0m-2588,277h0m213-184h0m781-25h0m72,7h0m497,249h0m71-269h0m-1807,31h0m71,12h0m284,7h0m355-49h0m569,12h0m284,640h0m355-683h0m497-120h0m213,64h0m71,42h0m-2588,173h0m142,36h0m1137-93h0m284,648h0m568-826h0m-2232,106h0m994-4h0m497,275h0m924-374h0m-2446,100h0m213,234h0m213-164h0m355-68h0m213-22h0m71,37h0m213,19h0m284,522h0m853-681h0m355,74h0m-2730,90h0m923-39h0m498,63h0m142,746h0m213-797h0m213-46h0m355-83h0m355,90h0m-2375,59h0m355,6h0m214-29h0m213,17h0m497,948h0m426-1040h0m-1878,293h0m427-186h0m639-11h0m355,825h0m-1238-801h0m71-6h0m426-21h0m497-22h0m71,97h0m1066-187h0m-2162,182h0m142-42h0m213-27h0m142-14h0m213-13h0m284,55h0m-741-25h0m497-48h0m853,13h0m142-64h0m142-52h0m213,22h0m142,22h0m-2162,142h0m498-59h0m142,22h0m426,78h0m284,30h0m-1736-82h0m355,41h0m285-88h0m142,7h0m213,11h0m781-13h0m710-127h0m-2019,175h0m923-5h0m1421-41h0m-2233,27h0m1563-133h0m355-3h0m-2091,159h0m284-51h0m71-32h0m71,19h0m71,20h0m355,41h0m214,78h0m182,610h0m71-519h0m497-333h0m568,81h0m-2659,223h0m498-203h0m71-6h0m71-3h0m1136,4h0m355-77h0m-2161,198h0m142,77h0m284-135h0m1562-122h0m142-36h0m-2232,106h0m142,180h0m284-118h0m142-48h0m781,53h0m-386-63h0m71,2h0m142,13h0m356,574h0m-1168-546h0m71,25h0m1208,697h0m71-450h0m71-280h0m568-163h0m71-12h0m-2375,176h0m142,180h0m924-212h0m355,133h0m639-242h0m213-10h0m142-14h0m-1806,142h0m426-13h0m639,249h0m71-254h0m71-10h0m213-77h0m640,44h0m71,23h0m-1381,100h0m568-108h0m72-30h0m-2091,57h0m71,47h0m1278,13h0m213,444h0m995-599h0m-2517,66h0m710,39h0m711,71h0m142,670h0m284-749h0m71-32h0m710-76h0m-2375,230h0m142-81h0m498-32h0m71-10h0m781,86h0m284-127h0m568-27h0m-2161,116h0m213-28h0m497,7h0m639-5h0m639-133h0m-2374,161h0m71,63h0m942-97h0m426,245h0m355-273h0m213-67h0m355-17h0m-2019,153h0m821-1h0m569-27h0m355-114h0m142-31h0m497,78h0m-2659,171h0m1776-138h0m852-20h0m-2659,113h0m142,95h0m142-118h0m1492-65h0m710-100h0m-2232,161h0m142-31h0m142-8h0m71-26h0m142,13h0m71-31h0m142,48h0m213,28h0m1349-123h0m-2516,170h0m71,90h0m568-186h0m497,66h0m426,678h0m426-816h0m-1877,295h0m284-189h0m923,47h0m427-61h0m213-107h0m71-13h0m497,16h0m-2659,56h0m1207,58h0m1350-118h0m-2233,214h0m71-94h0m1137,280h0m355-324h0m142-24h0m355-74h0m426,110h0m-2801-5h0m213,255h0m427-247h0m426-1h0m71,43h0m639,35h0m-1167-59h0m355-2h0m852-7h0m71,3h0m924-50h0m-1097,581h0m782-627h0m-1736,131h0m213-30h0m284,41h0m569-17h0m426-154h0m-2162,153h0m1208,28h0m426,474h0m497-638h0m213-39h0m-2446,135h0m142,133h0m356-61h0m71-14h0m355-46h0m497,78h0m142,443h0m284-493h0m426-158h0m142-23h0m-2161,364h0m639-235h0m639,316h0m71,530h0m1208-847h0m-2020,48h0m1279-74h0m-1949,122h0m426-58h0m781,45h0m498-33h0m355-139h0m426,2h0m-2517,100h0m142,247h0m639-221h0m1421-150h0m284-10h0m-2517,147h0m142,196h0m213-136h0m72-31h0m213-41h0m852,387h0m142,414h0m71-531h0m568-406h0m-2161,285h0m852-143h0m1278-110h0m71-29h0m-1948,175h0m710-16h0m639,170h0m640-329h0m71-10h0m142,1h0m142,84h0m-2446,145h0m1776-169h0m639,14h0m-2588,167h0m71,97h0m71-85h0m142-98h0m213,2h0m71-40h0m285,22h0m710,651h0m639-802h0m355,57h0m-1664,123h0m1065-142h0m213-48h0m71-2h0m-2303,157h0m568,3h0m710,82h0m284,918h0m71-399h0m924-721h0m71,35h0m-2659,74h0m71,67h0m213-33h0m852-1h0m142,47h0m426,215h0m285-337h0m497-106h0m-2517,149h0m213,175h0m781-159h0m142-5h0m640,24h0m71-9h0m-1452,11h0m355-30h0m285,26h0m568,924h0m71-211h0m355-811h0m-883,100h0m213,54h0m426-54h0m142-61h0m71-16h0m355-109h0m213,14h0m71,14h0m-1309,182h0m284,863h0m426-996h0m213-77h0m356,36h0m71,0h0m-2517,256h0m213-121h0m1420-5h0m213-73h0m143-66h0m-1878,235h0m1146-49h0m284,455h0m710-668h0m71,8h0m-1735,125h0m355,16h0m142,54h0m71,1h0m497-27h0m-1380-18h0m284,4h0m710,83h0m142,646h0m284-735h0" stroke="#9467bd" stroke-width="23"/></g></g></g>
<g fill="none" stroke="#262626" stroke-width="1.2"><rect x="54.3" y="29.6" width="286.90" height="187.75"/><rect x="418.35" y="29.6" width="286.65" height="187.75"/><rect x="782.2" y="29.6" width="287.20" height="187.75"/><rect x="54.3" y="268.05" width="286.90" height="187.75"/><rect x="418.35" y="268.05" width="286.65" height="187.75"/><rect x="782.2" y="268.05" width="287.20" height="187.75"/><rect x="54.3" y="506.5" width="286.90" height="187.75"/><rect x="418.35" y="506.5" width="286.65" height="187.75"/><rect x="782.2" y="506.5" width="287.20" height="187.75"/><rect x="54.3" y="744.95" width="286.90" height="187.75"/><rect x="418.35" y="744.95" width="286.65" height="187.75"/><rect x="782.2" y="744.95" width="287.20" height="187.75"/></g>
<path fill="none" stroke="#262626" stroke-width="1.2" d="M81.62 217.35v-5.25M149.93 217.35v-5.25M218.24 217.35v-5.25M286.55 217.35v-5.25M54.3 200.28h5.25M54.3 149.08h5.25M54.3 97.87h5.25M54.3 46.67h5.25M492.40 217.35v-5.25M589.83 217.35v-5.25M687.27 217.35v-5.25M418.35 147.45h5.25M418.35 66.17h5.25M839.64 217.35v-5.25M897.08 217.35v-5.25M954.52 217.35v-5.25M1011.96 217.35v-5.25M782.2 190.53h5.25M782.2 136.89h5.25M782.2 83.24h5.25M782.2 29.60h5.25M81.62 455.8v-5.25M149.93 455.8v-5.25M218.24 455.8v-5.25M286.55 455.8v-5.25M54.3 438.73h5.25M54.3 387.53h5.25M54.3 336.32h5.25M54.3 285.12h5.25M492.40 455.8v-5.25M589.83 455.8v-5.25M687.27 455.8v-5.25M418.35 393.22h5.25M418.35 311.94h5.25M839.64 455.8v-5.25M897.08 455.8v-5.25M954.52 455.8v-5.25M1011.96 455.8v-5.25M782.2 455.80h5.25M782.2 377.57h5.25M782.2 299.34h5.25M81.62 694.25v-5.25M149.93 694.25v-5.25M218.24 694.25v-5.25M286.55 694.25v-5.25M54.3 677.18h5.25M54.3 625.98h5.25M54.3 574.77h5.25M54.3 523.57h5.25M492.40 694.25v-5.25M589.83 694.25v-5.25M687.27 694.25v-5.25M418.35 686.32h5.25M418.35 633.43h5.25M418.35 580.54h5.25M418.35 527.65h5.25M839.64 694.25v-5.25M897.08 694.25v-5.25M954.52 694.25v-5.25M1011.96 694.25v-5.25M782.2 686.32h5.25M782.2 633.43h5.25M782.2 580.54h5.25M782.2 527.65h5.25M81.62 932.7v-5.25M149.93 932.7v-5.25M218.24 932.7v-5.25M286.55 932.7v-5.25M54.3 915.63h5.25M54.3 864.43h5.25M54.3 813.22h5.25M54.3 762.02h5.25M492.40 932.7v-5.25M589.83 932.7v-5.25M687.27 932.7v-5.25M418.35 920.59h5.25M418.35 860.02h5.25M418.35 799.46h5.25M839.64 932.7v-5.25M897.08 932.7v-5.25M954.52 932.7v-5.25M1011.96 932.7v-5.25M782.2 932.70h5.25M782.2 865.65h5.25M782.2 798.59h5.25"/>
<g><text x="24.98" y="206.88" font-size="18.3" textLength="22.88" lengthAdjust="spacingAndGlyphs">0.7</text><text x="25.16" y="155.68" font-size="18.3" textLength="22.88" lengthAdjust="spacingAndGlyphs">1.0</text><text x="25.21" y="104.47" font-size="18.3" textLength="22.88" lengthAdjust="spacingAndGlyphs">1.3</text><text x="25.02" y="53.27" font-size="18.3" textLength="22.88" lengthAdjust="spacingAndGlyphs">1.6</text><text x="380.01" y="154.05" font-size="18.3" textLength="32.03" lengthAdjust="spacingAndGlyphs">1.00</text><text x="380.06" y="72.77" font-size="18.3" textLength="32.03" lengthAdjust="spacingAndGlyphs">1.05</text><text x="743.96" y="197.13" font-size="18.3" textLength="32.03" lengthAdjust="spacingAndGlyphs">0.98</text><text x="743.96" y="143.49" font-size="18.3" textLength="32.02" lengthAdjust="spacingAndGlyphs">1.00</text><text x="744.28" y="89.84" font-size="18.3" textLength="32.02" lengthAdjust="spacingAndGlyphs">1.02</text><text x="743.55" y="36.20" font-size="18.3" textLength="32.03" lengthAdjust="spacingAndGlyphs">1.04</text><text x="24.98" y="445.33" font-size="18.3" textLength="22.88" lengthAdjust="spacingAndGlyphs">0.7</text><text x="25.16" y="394.13" font-size="18.3" textLength="22.88" lengthAdjust="spacingAndGlyphs">1.0</text><text x="25.21" y="342.92" font-size="18.3" textLength="22.88" lengthAdjust="spacingAndGlyphs">1.3</text><text x="25.02" y="291.72" font-size="18.3" textLength="22.88" lengthAdjust="spacingAndGlyphs">1.6</text><text x="389.16" y="399.82" font-size="18.3" textLength="22.87" lengthAdjust="spacingAndGlyphs">1.0</text><text x="389.57" y="318.54" font-size="18.3" textLength="22.87" lengthAdjust="spacingAndGlyphs">1.1</text><text x="744.01" y="462.40" font-size="18.3" textLength="32.03" lengthAdjust="spacingAndGlyphs">0.95</text><text x="743.96" y="384.17" font-size="18.3" textLength="32.02" lengthAdjust="spacingAndGlyphs">1.00</text><text x="744.01" y="305.94" font-size="18.3" textLength="32.02" lengthAdjust="spacingAndGlyphs">1.05</text><text x="24.98" y="683.78" font-size="18.3" textLength="22.88" lengthAdjust="spacingAndGlyphs">0.7</text><text x="25.16" y="632.58" font-size="18.3" textLength="22.88" lengthAdjust="spacingAndGlyphs">1.0</text><text x="25.21" y="581.37" font-size="18.3" textLength="22.88" lengthAdjust="spacingAndGlyphs">1.3</text><text x="25.02" y="530.17" font-size="18.3" textLength="22.88" lengthAdjust="spacingAndGlyphs">1.6</text><text x="379.87" y="692.92" font-size="18.3" textLength="32.03" lengthAdjust="spacingAndGlyphs">0.96</text><text x="380.01" y="640.03" font-size="18.3" textLength="32.02" lengthAdjust="spacingAndGlyphs">0.98</text><text x="380.01" y="587.14" font-size="18.3" textLength="32.03" lengthAdjust="spacingAndGlyphs">1.00</text><text x="380.33" y="534.25" font-size="18.3" textLength="32.03" lengthAdjust="spacingAndGlyphs">1.02</text><text x="743.82" y="692.92" font-size="18.3" textLength="32.03" lengthAdjust="spacingAndGlyphs">0.96</text><text x="743.96" y="640.03" font-size="18.3" textLength="32.03" lengthAdjust="spacingAndGlyphs">0.98</text><text x="743.96" y="587.14" font-size="18.3" textLength="32.02" lengthAdjust="spacingAndGlyphs">1.00</text><text x="744.28" y="534.25" font-size="18.3" textLength="32.02" lengthAdjust="spacingAndGlyphs">1.02</text><text x="24.98" y="922.23" font-size="18.3" textLength="22.88" lengthAdjust="spacingAndGlyphs">0.7</text><text x="25.16" y="871.03" font-size="18.3" textLength="22.88" lengthAdjust="spacingAndGlyphs">1.0</text><text x="25.21" y="819.82" font-size="18.3" textLength="22.88" lengthAdjust="spacingAndGlyphs">1.3</text><text x="25.02" y="768.62" font-size="18.3" textLength="22.88" lengthAdjust="spacingAndGlyphs">1.6</text><text x="379.87" y="927.19" font-size="18.3" textLength="32.03" lengthAdjust="spacingAndGlyphs">0.96</text><text x="380.01" y="866.62" font-size="18.3" textLength="32.02" lengthAdjust="spacingAndGlyphs">0.98</text><text x="380.01" y="806.06" font-size="18.3" textLength="32.03" lengthAdjust="spacingAndGlyphs">1.00</text><text x="743.82" y="939.30" font-size="18.3" textLength="32.03" lengthAdjust="spacingAndGlyphs">0.96</text><text x="743.96" y="872.25" font-size="18.3" textLength="32.03" lengthAdjust="spacingAndGlyphs">0.98</text><text x="743.96" y="805.19" font-size="18.3" textLength="32.02" lengthAdjust="spacingAndGlyphs">1.00</text><text x="63.28" y="950.40" font-size="18.3" textLength="36.60" lengthAdjust="spacingAndGlyphs">6550</text><text x="131.59" y="950.40" font-size="18.3" textLength="36.60" lengthAdjust="spacingAndGlyphs">6600</text><text x="199.90" y="950.40" font-size="18.3" textLength="36.60" lengthAdjust="spacingAndGlyphs">6650</text><text x="268.21" y="950.40" font-size="18.3" textLength="36.60" lengthAdjust="spacingAndGlyphs">6700</text><text x="478.49" y="950.40" font-size="18.3" textLength="27.45" lengthAdjust="spacingAndGlyphs">500</text><text x="571.08" y="950.40" font-size="18.3" textLength="36.60" lengthAdjust="spacingAndGlyphs">1000</text><text x="668.51" y="950.40" font-size="18.3" textLength="36.60" lengthAdjust="spacingAndGlyphs">1500</text><text x="770.76" y="950.40" font-size="18.3" textLength="22.88" lengthAdjust="spacingAndGlyphs">0.0</text><text x="828.36" y="950.40" font-size="18.3" textLength="22.88" lengthAdjust="spacingAndGlyphs">0.2</text><text x="885.44" y="950.40" font-size="18.3" textLength="22.88" lengthAdjust="spacingAndGlyphs">0.4</text><text x="943.01" y="950.40" font-size="18.3" textLength="22.88" lengthAdjust="spacingAndGlyphs">0.6</text><text x="1000.52" y="950.40" font-size="18.3" textLength="22.88" lengthAdjust="spacingAndGlyphs">0.8</text><text x="1057.51" y="950.40" font-size="18.3" textLength="22.88" lengthAdjust="spacingAndGlyphs">1.0</text><text x="133.60" y="977.70" font-size="18.3" textLength="93.87" lengthAdjust="spacingAndGlyphs">Wavelength</text><text x="234.54" y="977.70" font-size="18.3" textLength="5.95" lengthAdjust="spacingAndGlyphs">(</text><text x="243.06" y="977.70" font-size="18.3" textLength="10.67" lengthAdjust="spacingAndGlyphs" style="font-style:italic;">Å</text><text x="255.46" y="977.70" font-size="18.3" textLength="6.60" lengthAdjust="spacingAndGlyphs">)</text><text x="481.91" y="974.80" font-size="18.3" textLength="156.65" lengthAdjust="spacingAndGlyphs">BJD-2454833 (day)</text><text x="901.44" y="973.60" font-size="18.3" textLength="47.89" lengthAdjust="spacingAndGlyphs">Phase</text><text transform="translate(16.00,174.95) rotate(-90)" x="0" y="0" font-size="18.3" textLength="103.00" lengthAdjust="spacingAndGlyphs">Relative flux</text><text transform="translate(370.80,180.86) rotate(-90)" x="0" y="0" font-size="18.3" textLength="114.34" lengthAdjust="spacingAndGlyphs">PDCSAP flux</text><text transform="translate(734.70,180.86) rotate(-90)" x="0" y="0" font-size="18.3" textLength="114.34" lengthAdjust="spacingAndGlyphs">PDCSAP flux</text><text transform="translate(16.00,413.40) rotate(-90)" x="0" y="0" font-size="18.3" textLength="103.00" lengthAdjust="spacingAndGlyphs">Relative flux</text><text transform="translate(380.20,419.31) rotate(-90)" x="0" y="0" font-size="18.3" textLength="114.34" lengthAdjust="spacingAndGlyphs">PDCSAP flux</text><text transform="translate(734.70,419.31) rotate(-90)" x="0" y="0" font-size="18.3" textLength="114.34" lengthAdjust="spacingAndGlyphs">PDCSAP flux</text><text transform="translate(16.00,651.85) rotate(-90)" x="0" y="0" font-size="18.3" textLength="103.00" lengthAdjust="spacingAndGlyphs">Relative flux</text><text transform="translate(370.80,657.76) rotate(-90)" x="0" y="0" font-size="18.3" textLength="114.34" lengthAdjust="spacingAndGlyphs">PDCSAP flux</text><text transform="translate(734.70,657.76) rotate(-90)" x="0" y="0" font-size="18.3" textLength="114.34" lengthAdjust="spacingAndGlyphs">PDCSAP flux</text><text transform="translate(16.00,890.30) rotate(-90)" x="0" y="0" font-size="18.3" textLength="103.00" lengthAdjust="spacingAndGlyphs">Relative flux</text><text transform="translate(370.80,896.21) rotate(-90)" x="0" y="0" font-size="18.3" textLength="114.34" lengthAdjust="spacingAndGlyphs">PDCSAP flux</text><text transform="translate(734.70,896.21) rotate(-90)" x="0" y="0" font-size="18.3" textLength="114.34" lengthAdjust="spacingAndGlyphs">PDCSAP flux</text><text x="157.76" y="21.00" font-size="18.3" textLength="221.96" lengthAdjust="spacingAndGlyphs">LID: J192115.40+521042.8,</text><text x="388.08" y="21.00" font-size="18.3" textLength="162.53" lengthAdjust="spacingAndGlyphs">LObsID: 353811006,</text><text x="558.67" y="21.00" font-size="18.3" textLength="125.33" lengthAdjust="spacingAndGlyphs">KID: 12835007,</text><text x="691.52" y="21.00" font-size="18.3" textLength="98.75" lengthAdjust="spacingAndGlyphs">Type: TTS,</text><text x="797.09" y="21.00" font-size="18.3" textLength="10.77" lengthAdjust="spacingAndGlyphs" style="font-style:italic;">P</text><text x="807.61" y="24.20" font-size="13.176" textLength="16.18" lengthAdjust="spacingAndGlyphs">rot</text><text x="829.75" y="21.00" font-size="18.3" textLength="15.28" lengthAdjust="spacingAndGlyphs">=</text><text x="851.17" y="21.00" font-size="18.3" textLength="113.42" lengthAdjust="spacingAndGlyphs">0.609536 days</text><text x="159.56" y="259.60" font-size="18.3" textLength="221.94" lengthAdjust="spacingAndGlyphs">LID: J190824.05+445128.8,</text><text x="389.17" y="259.60" font-size="18.3" textLength="162.93" lengthAdjust="spacingAndGlyphs">LObsID: 362015118,</text><text x="559.27" y="259.60" font-size="18.3" textLength="117.25" lengthAdjust="spacingAndGlyphs">KID: 8678457,</text><text x="684.63" y="259.60" font-size="18.3" textLength="99.32" lengthAdjust="spacingAndGlyphs">Type: ROT,</text><text x="792.79" y="259.60" font-size="18.3" textLength="10.56" lengthAdjust="spacingAndGlyphs" style="font-style:italic;">P</text><text x="803.51" y="262.80" font-size="13.176" textLength="16.18" lengthAdjust="spacingAndGlyphs">rot</text><text x="826.52" y="259.60" font-size="18.3" textLength="15.52" lengthAdjust="spacingAndGlyphs">=</text><text x="839.89" y="259.60" font-size="18.3" textLength="122.91" lengthAdjust="spacingAndGlyphs">11.512319 days</text><text x="166.56" y="498.20" font-size="18.3" textLength="223.36" lengthAdjust="spacingAndGlyphs">LID: J192832.22+461208.7,</text><text x="396.68" y="498.20" font-size="18.3" textLength="163.22" lengthAdjust="spacingAndGlyphs">LObsID: 247616176,</text><text x="567.04" y="498.20" font-size="18.3" textLength="123.24" lengthAdjust="spacingAndGlyphs">KID: 9588822,</text><text x="696.34" y="498.20" font-size="18.3" textLength="78.93" lengthAdjust="spacingAndGlyphs">Type: EP,</text><text x="781.99" y="498.20" font-size="18.3" textLength="11.49" lengthAdjust="spacingAndGlyphs" style="font-style:italic;">P</text><text x="792.78" y="501.40" font-size="13.176" textLength="18.66" lengthAdjust="spacingAndGlyphs">orb</text><text x="818.25" y="498.20" font-size="18.3" textLength="15.28" lengthAdjust="spacingAndGlyphs">=</text><text x="831.83" y="498.20" font-size="18.3" textLength="123.26" lengthAdjust="spacingAndGlyphs">71.760778 days</text><text x="167.36" y="736.70" font-size="18.3" textLength="223.36" lengthAdjust="spacingAndGlyphs">LID: J200358.77+450443.8,</text><text x="397.48" y="736.70" font-size="18.3" textLength="162.41" lengthAdjust="spacingAndGlyphs">LObsID: 165908025,</text><text x="567.04" y="736.70" font-size="18.3" textLength="123.24" lengthAdjust="spacingAndGlyphs">KID: 8848104,</text><text x="697.15" y="736.70" font-size="18.3" textLength="80.81" lengthAdjust="spacingAndGlyphs">Type: EB,</text><text x="784.50" y="736.70" font-size="18.3" textLength="11.70" lengthAdjust="spacingAndGlyphs" style="font-style:italic;">P</text><text x="795.55" y="739.90" font-size="13.176" textLength="19.61" lengthAdjust="spacingAndGlyphs">orb</text><text x="820.60" y="736.70" font-size="18.3" textLength="15.77" lengthAdjust="spacingAndGlyphs">=</text><text x="841.67" y="736.70" font-size="18.3" textLength="113.42" lengthAdjust="spacingAndGlyphs">0.824851 days</text></g>
</svg>
</body></html>
